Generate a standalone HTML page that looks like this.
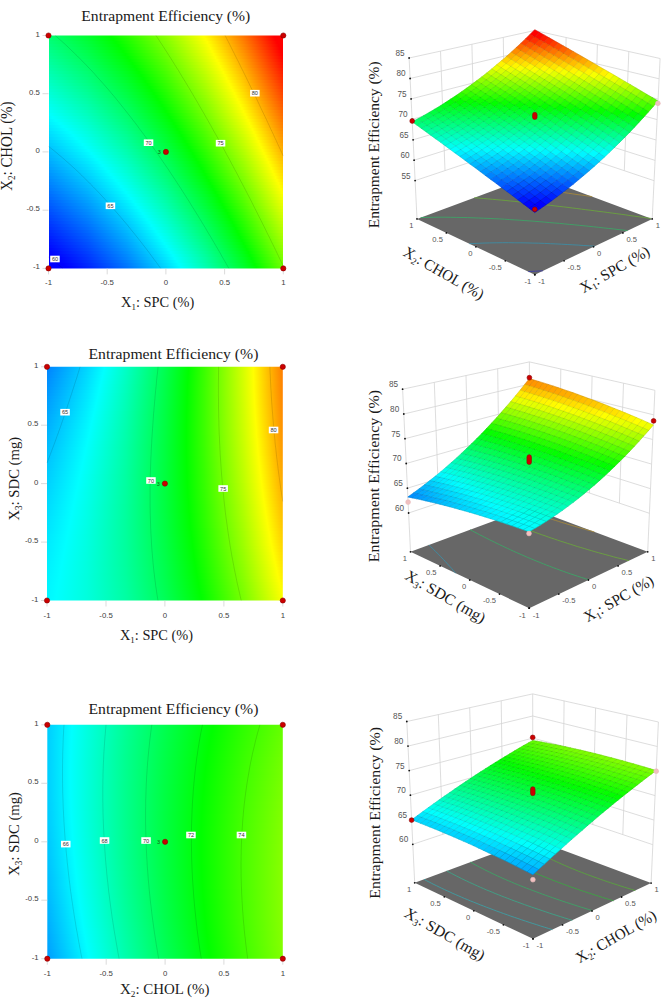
<!DOCTYPE html><html><head><meta charset="utf-8"><style>html,body{margin:0;padding:0;background:#fff;width:671px;height:1003px;overflow:hidden}svg{display:block}</style></head><body><svg width="671" height="1003" viewBox="0 0 671 1003"><defs><clipPath id="c0"><rect x="48.5" y="35.5" width="234.8" height="232.9"/></clipPath><linearGradient id="g1"><stop offset=".000" stop-color="#00ff72"/><stop offset=".167" stop-color="#00ff30"/><stop offset=".267" stop-color="#00ff00"/><stop offset=".333" stop-color="#24ff00"/><stop offset=".500" stop-color="#8aff00"/><stop offset=".662" stop-color="#ffff00"/><stop offset=".667" stop-color="#fffc00"/><stop offset=".833" stop-color="#ff7500"/><stop offset=".962" stop-color="#ff0000"/><stop offset="1" stop-color="#ff0000"/></linearGradient><linearGradient id="g2"><stop offset=".000" stop-color="#00ff77"/><stop offset=".167" stop-color="#00ff35"/><stop offset=".277" stop-color="#00ff00"/><stop offset=".333" stop-color="#1eff00"/><stop offset=".500" stop-color="#85ff00"/><stop offset=".667" stop-color="#fdff00"/><stop offset=".670" stop-color="#ffff00"/><stop offset=".833" stop-color="#ff7a00"/><stop offset=".967" stop-color="#ff0000"/><stop offset="1" stop-color="#ff0000"/></linearGradient><linearGradient id="g3"><stop offset=".000" stop-color="#00ff7c"/><stop offset=".167" stop-color="#00ff3b"/><stop offset=".288" stop-color="#00ff00"/><stop offset=".333" stop-color="#19ff00"/><stop offset=".500" stop-color="#7fff00"/><stop offset=".667" stop-color="#f8ff00"/><stop offset=".677" stop-color="#ffff00"/><stop offset=".833" stop-color="#ff7f00"/><stop offset=".973" stop-color="#ff0000"/><stop offset="1" stop-color="#ff0000"/></linearGradient><linearGradient id="g4"><stop offset=".000" stop-color="#00ff82"/><stop offset=".167" stop-color="#00ff40"/><stop offset=".298" stop-color="#00ff00"/><stop offset=".333" stop-color="#13ff00"/><stop offset=".500" stop-color="#7aff00"/><stop offset=".667" stop-color="#f2ff00"/><stop offset=".684" stop-color="#ffff00"/><stop offset=".833" stop-color="#ff8500"/><stop offset=".979" stop-color="#ff0000"/><stop offset="1" stop-color="#ff0000"/></linearGradient><linearGradient id="g5"><stop offset=".000" stop-color="#00ff87"/><stop offset=".167" stop-color="#00ff45"/><stop offset=".308" stop-color="#00ff00"/><stop offset=".333" stop-color="#0eff00"/><stop offset=".500" stop-color="#74ff00"/><stop offset=".667" stop-color="#edff00"/><stop offset=".690" stop-color="#ffff00"/><stop offset=".833" stop-color="#ff8a00"/><stop offset=".984" stop-color="#ff0000"/><stop offset="1" stop-color="#ff0000"/></linearGradient><linearGradient id="g6"><stop offset=".000" stop-color="#00ff8d"/><stop offset=".167" stop-color="#00ff4b"/><stop offset=".318" stop-color="#00ff00"/><stop offset=".333" stop-color="#08ff00"/><stop offset=".500" stop-color="#6fff00"/><stop offset=".667" stop-color="#e7ff00"/><stop offset=".697" stop-color="#ffff00"/><stop offset=".833" stop-color="#ff8f00"/><stop offset=".990" stop-color="#ff0000"/><stop offset="1" stop-color="#ff0000"/></linearGradient><linearGradient id="g7"><stop offset=".000" stop-color="#00ff92"/><stop offset=".167" stop-color="#00ff50"/><stop offset=".328" stop-color="#00ff00"/><stop offset=".333" stop-color="#03ff00"/><stop offset=".500" stop-color="#69ff00"/><stop offset=".667" stop-color="#e2ff00"/><stop offset=".704" stop-color="#ffff00"/><stop offset=".833" stop-color="#ff9500"/><stop offset=".995" stop-color="#ff0000"/><stop offset="1" stop-color="#ff0000"/></linearGradient><linearGradient id="g8"><stop offset=".000" stop-color="#00ff97"/><stop offset=".167" stop-color="#00ff55"/><stop offset=".333" stop-color="#00ff03"/><stop offset=".338" stop-color="#00ff00"/><stop offset=".500" stop-color="#64ff00"/><stop offset=".667" stop-color="#dcff00"/><stop offset=".711" stop-color="#ffff00"/><stop offset=".833" stop-color="#ff9a00"/><stop offset="1" stop-color="#ff0100"/></linearGradient><linearGradient id="g9"><stop offset=".000" stop-color="#00ff9d"/><stop offset=".167" stop-color="#00ff5b"/><stop offset=".333" stop-color="#00ff08"/><stop offset=".347" stop-color="#00ff00"/><stop offset=".500" stop-color="#5eff00"/><stop offset=".667" stop-color="#d7ff00"/><stop offset=".718" stop-color="#ffff00"/><stop offset=".833" stop-color="#ffa000"/><stop offset="1" stop-color="#ff0600"/></linearGradient><linearGradient id="g10"><stop offset=".000" stop-color="#00ffa2"/><stop offset=".167" stop-color="#00ff60"/><stop offset=".333" stop-color="#00ff0d"/><stop offset=".357" stop-color="#00ff00"/><stop offset=".500" stop-color="#59ff00"/><stop offset=".667" stop-color="#d1ff00"/><stop offset=".725" stop-color="#ffff00"/><stop offset=".833" stop-color="#ffa500"/><stop offset="1" stop-color="#ff0c00"/></linearGradient><linearGradient id="g11"><stop offset=".000" stop-color="#00ffa8"/><stop offset=".167" stop-color="#00ff66"/><stop offset=".333" stop-color="#00ff13"/><stop offset=".367" stop-color="#00ff00"/><stop offset=".500" stop-color="#53ff00"/><stop offset=".667" stop-color="#ccff00"/><stop offset=".732" stop-color="#ffff00"/><stop offset=".833" stop-color="#ffaa00"/><stop offset="1" stop-color="#ff1100"/></linearGradient><linearGradient id="g12"><stop offset=".000" stop-color="#00ffad"/><stop offset=".167" stop-color="#00ff6b"/><stop offset=".333" stop-color="#00ff18"/><stop offset=".376" stop-color="#00ff00"/><stop offset=".500" stop-color="#4eff00"/><stop offset=".667" stop-color="#c6ff00"/><stop offset=".738" stop-color="#ffff00"/><stop offset=".833" stop-color="#ffb000"/><stop offset="1" stop-color="#ff1700"/></linearGradient><linearGradient id="g13"><stop offset=".000" stop-color="#00ffb2"/><stop offset=".167" stop-color="#00ff71"/><stop offset=".333" stop-color="#00ff1e"/><stop offset=".385" stop-color="#00ff00"/><stop offset=".500" stop-color="#48ff00"/><stop offset=".667" stop-color="#c1ff00"/><stop offset=".745" stop-color="#ffff00"/><stop offset=".833" stop-color="#ffb500"/><stop offset="1" stop-color="#ff1c00"/></linearGradient><linearGradient id="g14"><stop offset=".000" stop-color="#00ffb8"/><stop offset=".167" stop-color="#00ff76"/><stop offset=".333" stop-color="#00ff23"/><stop offset=".395" stop-color="#00ff00"/><stop offset=".500" stop-color="#43ff00"/><stop offset=".667" stop-color="#bbff00"/><stop offset=".752" stop-color="#ffff00"/><stop offset=".833" stop-color="#ffbb00"/><stop offset="1" stop-color="#ff2200"/></linearGradient><linearGradient id="g15"><stop offset=".000" stop-color="#00ffbd"/><stop offset=".167" stop-color="#00ff7b"/><stop offset=".333" stop-color="#00ff29"/><stop offset=".404" stop-color="#00ff00"/><stop offset=".500" stop-color="#3dff00"/><stop offset=".667" stop-color="#b6ff00"/><stop offset=".758" stop-color="#ffff00"/><stop offset=".833" stop-color="#ffc000"/><stop offset="1" stop-color="#ff2700"/></linearGradient><linearGradient id="g16"><stop offset=".000" stop-color="#00ffc3"/><stop offset=".167" stop-color="#00ff81"/><stop offset=".333" stop-color="#00ff2e"/><stop offset=".413" stop-color="#00ff00"/><stop offset=".500" stop-color="#38ff00"/><stop offset=".667" stop-color="#b0ff00"/><stop offset=".765" stop-color="#ffff00"/><stop offset=".833" stop-color="#ffc600"/><stop offset="1" stop-color="#ff2c00"/></linearGradient><linearGradient id="g17"><stop offset=".000" stop-color="#00ffc8"/><stop offset=".167" stop-color="#00ff86"/><stop offset=".333" stop-color="#00ff34"/><stop offset=".422" stop-color="#00ff00"/><stop offset=".500" stop-color="#32ff00"/><stop offset=".667" stop-color="#aaff00"/><stop offset=".772" stop-color="#ffff00"/><stop offset=".833" stop-color="#ffcb00"/><stop offset="1" stop-color="#ff3200"/></linearGradient><linearGradient id="g18"><stop offset=".000" stop-color="#00ffce"/><stop offset=".167" stop-color="#00ff8c"/><stop offset=".333" stop-color="#00ff39"/><stop offset=".431" stop-color="#00ff00"/><stop offset=".500" stop-color="#2dff00"/><stop offset=".667" stop-color="#a5ff00"/><stop offset=".778" stop-color="#ffff00"/><stop offset=".833" stop-color="#ffd100"/><stop offset="1" stop-color="#ff3700"/></linearGradient><linearGradient id="g19"><stop offset=".000" stop-color="#00ffd3"/><stop offset=".167" stop-color="#00ff91"/><stop offset=".333" stop-color="#00ff3e"/><stop offset=".440" stop-color="#00ff00"/><stop offset=".500" stop-color="#27ff00"/><stop offset=".667" stop-color="#9fff00"/><stop offset=".785" stop-color="#ffff00"/><stop offset=".833" stop-color="#ffd600"/><stop offset="1" stop-color="#ff3d00"/></linearGradient><linearGradient id="g20"><stop offset=".000" stop-color="#00ffd9"/><stop offset=".167" stop-color="#00ff97"/><stop offset=".333" stop-color="#00ff44"/><stop offset=".449" stop-color="#00ff00"/><stop offset=".500" stop-color="#21ff00"/><stop offset=".667" stop-color="#9aff00"/><stop offset=".792" stop-color="#ffff00"/><stop offset=".833" stop-color="#ffdc00"/><stop offset="1" stop-color="#ff4200"/></linearGradient><linearGradient id="g21"><stop offset=".000" stop-color="#00ffde"/><stop offset=".167" stop-color="#00ff9c"/><stop offset=".333" stop-color="#00ff49"/><stop offset=".458" stop-color="#00ff00"/><stop offset=".500" stop-color="#1cff00"/><stop offset=".667" stop-color="#94ff00"/><stop offset=".798" stop-color="#ffff00"/><stop offset=".833" stop-color="#ffe100"/><stop offset="1" stop-color="#ff4800"/></linearGradient><linearGradient id="g22"><stop offset=".000" stop-color="#00ffe4"/><stop offset=".167" stop-color="#00ffa2"/><stop offset=".333" stop-color="#00ff4f"/><stop offset=".466" stop-color="#00ff00"/><stop offset=".500" stop-color="#16ff00"/><stop offset=".667" stop-color="#8eff00"/><stop offset=".805" stop-color="#ffff00"/><stop offset=".833" stop-color="#ffe700"/><stop offset="1" stop-color="#ff4d00"/></linearGradient><linearGradient id="g23"><stop offset=".000" stop-color="#00ffe9"/><stop offset=".167" stop-color="#00ffa7"/><stop offset=".333" stop-color="#00ff54"/><stop offset=".475" stop-color="#00ff00"/><stop offset=".500" stop-color="#11ff00"/><stop offset=".667" stop-color="#89ff00"/><stop offset=".811" stop-color="#ffff00"/><stop offset=".833" stop-color="#ffec00"/><stop offset="1" stop-color="#ff5300"/></linearGradient><linearGradient id="g24"><stop offset=".000" stop-color="#00ffef"/><stop offset=".167" stop-color="#00ffad"/><stop offset=".333" stop-color="#00ff5a"/><stop offset=".483" stop-color="#00ff00"/><stop offset=".500" stop-color="#0bff00"/><stop offset=".667" stop-color="#83ff00"/><stop offset=".818" stop-color="#ffff00"/><stop offset=".833" stop-color="#fff200"/><stop offset="1" stop-color="#ff5800"/></linearGradient><linearGradient id="g25"><stop offset=".000" stop-color="#00fff4"/><stop offset=".167" stop-color="#00ffb2"/><stop offset=".333" stop-color="#00ff60"/><stop offset=".492" stop-color="#00ff00"/><stop offset=".500" stop-color="#05ff00"/><stop offset=".667" stop-color="#7eff00"/><stop offset=".824" stop-color="#ffff00"/><stop offset=".833" stop-color="#fff700"/><stop offset="1" stop-color="#ff5e00"/></linearGradient><linearGradient id="g26"><stop offset=".000" stop-color="#00fffa"/><stop offset=".167" stop-color="#00ffb8"/><stop offset=".333" stop-color="#00ff65"/><stop offset=".500" stop-color="#00ff00"/><stop offset=".667" stop-color="#78ff00"/><stop offset=".830" stop-color="#ffff00"/><stop offset=".833" stop-color="#fffd00"/><stop offset="1" stop-color="#ff6400"/></linearGradient><linearGradient id="g27"><stop offset=".000" stop-color="#00ffff"/><stop offset=".001" stop-color="#00ffff"/><stop offset=".167" stop-color="#00ffbd"/><stop offset=".333" stop-color="#00ff6b"/><stop offset=".500" stop-color="#00ff06"/><stop offset=".509" stop-color="#00ff00"/><stop offset=".667" stop-color="#72ff00"/><stop offset=".833" stop-color="#fcff00"/><stop offset=".837" stop-color="#ffff00"/><stop offset="1" stop-color="#ff6900"/></linearGradient><linearGradient id="g28"><stop offset=".000" stop-color="#00f9ff"/><stop offset=".017" stop-color="#00ffff"/><stop offset=".167" stop-color="#00ffc3"/><stop offset=".333" stop-color="#00ff70"/><stop offset=".500" stop-color="#00ff0b"/><stop offset=".517" stop-color="#00ff00"/><stop offset=".667" stop-color="#6dff00"/><stop offset=".833" stop-color="#f6ff00"/><stop offset=".843" stop-color="#ffff00"/><stop offset="1" stop-color="#ff6f00"/></linearGradient><linearGradient id="g29"><stop offset=".000" stop-color="#00f4ff"/><stop offset=".032" stop-color="#00ffff"/><stop offset=".167" stop-color="#00ffc8"/><stop offset=".333" stop-color="#00ff76"/><stop offset=".500" stop-color="#00ff11"/><stop offset=".526" stop-color="#00ff00"/><stop offset=".667" stop-color="#67ff00"/><stop offset=".833" stop-color="#f0ff00"/><stop offset=".850" stop-color="#ffff00"/><stop offset="1" stop-color="#ff7400"/></linearGradient><linearGradient id="g30"><stop offset=".000" stop-color="#00efff"/><stop offset=".047" stop-color="#00ffff"/><stop offset=".167" stop-color="#00ffce"/><stop offset=".333" stop-color="#00ff7b"/><stop offset=".500" stop-color="#00ff17"/><stop offset=".534" stop-color="#00ff00"/><stop offset=".667" stop-color="#61ff00"/><stop offset=".833" stop-color="#ebff00"/><stop offset=".856" stop-color="#ffff00"/><stop offset="1" stop-color="#ff7a00"/></linearGradient><linearGradient id="g31"><stop offset=".000" stop-color="#00e9ff"/><stop offset=".062" stop-color="#00ffff"/><stop offset=".167" stop-color="#00ffd4"/><stop offset=".333" stop-color="#00ff81"/><stop offset=".500" stop-color="#00ff1c"/><stop offset=".542" stop-color="#00ff00"/><stop offset=".667" stop-color="#5cff00"/><stop offset=".833" stop-color="#e5ff00"/><stop offset=".862" stop-color="#ffff00"/><stop offset="1" stop-color="#ff7f00"/></linearGradient><linearGradient id="g32"><stop offset=".000" stop-color="#00e4ff"/><stop offset=".077" stop-color="#00ffff"/><stop offset=".167" stop-color="#00ffd9"/><stop offset=".333" stop-color="#00ff86"/><stop offset=".500" stop-color="#00ff22"/><stop offset=".550" stop-color="#00ff00"/><stop offset=".667" stop-color="#56ff00"/><stop offset=".833" stop-color="#dfff00"/><stop offset=".869" stop-color="#ffff00"/><stop offset="1" stop-color="#ff8500"/></linearGradient><linearGradient id="g33"><stop offset=".000" stop-color="#00deff"/><stop offset=".091" stop-color="#00ffff"/><stop offset=".167" stop-color="#00ffdf"/><stop offset=".333" stop-color="#00ff8c"/><stop offset=".500" stop-color="#00ff27"/><stop offset=".558" stop-color="#00ff00"/><stop offset=".667" stop-color="#50ff00"/><stop offset=".833" stop-color="#daff00"/><stop offset=".875" stop-color="#ffff00"/><stop offset="1" stop-color="#ff8b00"/></linearGradient><linearGradient id="g34"><stop offset=".000" stop-color="#00d9ff"/><stop offset=".105" stop-color="#00ffff"/><stop offset=".167" stop-color="#00ffe4"/><stop offset=".333" stop-color="#00ff92"/><stop offset=".500" stop-color="#00ff2d"/><stop offset=".566" stop-color="#00ff00"/><stop offset=".667" stop-color="#4bff00"/><stop offset=".833" stop-color="#d4ff00"/><stop offset=".881" stop-color="#ffff00"/><stop offset="1" stop-color="#ff9000"/></linearGradient><linearGradient id="g35"><stop offset=".000" stop-color="#00d4ff"/><stop offset=".118" stop-color="#00ffff"/><stop offset=".167" stop-color="#00ffea"/><stop offset=".333" stop-color="#00ff97"/><stop offset=".500" stop-color="#00ff32"/><stop offset=".574" stop-color="#00ff00"/><stop offset=".667" stop-color="#45ff00"/><stop offset=".833" stop-color="#ceff00"/><stop offset=".887" stop-color="#ffff00"/><stop offset="1" stop-color="#ff9600"/></linearGradient><linearGradient id="g36"><stop offset=".000" stop-color="#00ceff"/><stop offset=".132" stop-color="#00ffff"/><stop offset=".167" stop-color="#00fff0"/><stop offset=".333" stop-color="#00ff9d"/><stop offset=".500" stop-color="#00ff38"/><stop offset=".582" stop-color="#00ff00"/><stop offset=".667" stop-color="#3fff00"/><stop offset=".833" stop-color="#c8ff00"/><stop offset=".894" stop-color="#ffff00"/><stop offset="1" stop-color="#ff9b00"/></linearGradient><linearGradient id="g37"><stop offset=".000" stop-color="#00c9ff"/><stop offset=".145" stop-color="#00ffff"/><stop offset=".167" stop-color="#00fff5"/><stop offset=".333" stop-color="#00ffa2"/><stop offset=".500" stop-color="#00ff3e"/><stop offset=".590" stop-color="#00ff00"/><stop offset=".667" stop-color="#3aff00"/><stop offset=".833" stop-color="#c3ff00"/><stop offset=".900" stop-color="#ffff00"/><stop offset="1" stop-color="#ffa100"/></linearGradient><linearGradient id="g38"><stop offset=".000" stop-color="#00c3ff"/><stop offset=".158" stop-color="#00ffff"/><stop offset=".167" stop-color="#00fffb"/><stop offset=".333" stop-color="#00ffa8"/><stop offset=".500" stop-color="#00ff43"/><stop offset=".598" stop-color="#00ff00"/><stop offset=".667" stop-color="#34ff00"/><stop offset=".833" stop-color="#bdff00"/><stop offset=".906" stop-color="#ffff00"/><stop offset="1" stop-color="#ffa700"/></linearGradient><linearGradient id="g39"><stop offset=".000" stop-color="#00beff"/><stop offset=".167" stop-color="#00feff"/><stop offset=".170" stop-color="#00ffff"/><stop offset=".333" stop-color="#00ffae"/><stop offset=".500" stop-color="#00ff49"/><stop offset=".606" stop-color="#00ff00"/><stop offset=".667" stop-color="#2eff00"/><stop offset=".833" stop-color="#b7ff00"/><stop offset=".912" stop-color="#ffff00"/><stop offset="1" stop-color="#ffac00"/></linearGradient><linearGradient id="g40"><stop offset=".000" stop-color="#00b8ff"/><stop offset=".167" stop-color="#00f8ff"/><stop offset=".183" stop-color="#00ffff"/><stop offset=".333" stop-color="#00ffb3"/><stop offset=".500" stop-color="#00ff4f"/><stop offset=".614" stop-color="#00ff00"/><stop offset=".667" stop-color="#28ff00"/><stop offset=".833" stop-color="#b2ff00"/><stop offset=".918" stop-color="#ffff00"/><stop offset="1" stop-color="#ffb200"/></linearGradient><linearGradient id="g41"><stop offset=".000" stop-color="#00b3ff"/><stop offset=".167" stop-color="#00f3ff"/><stop offset=".195" stop-color="#00ffff"/><stop offset=".333" stop-color="#00ffb9"/><stop offset=".500" stop-color="#00ff54"/><stop offset=".621" stop-color="#00ff00"/><stop offset=".667" stop-color="#23ff00"/><stop offset=".833" stop-color="#acff00"/><stop offset=".925" stop-color="#ffff00"/><stop offset="1" stop-color="#ffb800"/></linearGradient><linearGradient id="g42"><stop offset=".000" stop-color="#00aeff"/><stop offset=".167" stop-color="#00edff"/><stop offset=".207" stop-color="#00ffff"/><stop offset=".333" stop-color="#00ffbf"/><stop offset=".500" stop-color="#00ff5a"/><stop offset=".629" stop-color="#00ff00"/><stop offset=".667" stop-color="#1dff00"/><stop offset=".833" stop-color="#a6ff00"/><stop offset=".931" stop-color="#ffff00"/><stop offset="1" stop-color="#ffbd00"/></linearGradient><linearGradient id="g43"><stop offset=".000" stop-color="#00a8ff"/><stop offset=".167" stop-color="#00e8ff"/><stop offset=".219" stop-color="#00ffff"/><stop offset=".333" stop-color="#00ffc4"/><stop offset=".500" stop-color="#00ff60"/><stop offset=".637" stop-color="#00ff00"/><stop offset=".667" stop-color="#17ff00"/><stop offset=".833" stop-color="#a0ff00"/><stop offset=".937" stop-color="#ffff00"/><stop offset="1" stop-color="#ffc300"/></linearGradient><linearGradient id="g44"><stop offset=".000" stop-color="#00a3ff"/><stop offset=".167" stop-color="#00e2ff"/><stop offset=".231" stop-color="#00ffff"/><stop offset=".333" stop-color="#00ffca"/><stop offset=".500" stop-color="#00ff65"/><stop offset=".644" stop-color="#00ff00"/><stop offset=".667" stop-color="#11ff00"/><stop offset=".833" stop-color="#9bff00"/><stop offset=".943" stop-color="#ffff00"/><stop offset="1" stop-color="#ffc900"/></linearGradient><linearGradient id="g45"><stop offset=".000" stop-color="#009dff"/><stop offset=".167" stop-color="#00ddff"/><stop offset=".242" stop-color="#00ffff"/><stop offset=".333" stop-color="#00ffd0"/><stop offset=".500" stop-color="#00ff6b"/><stop offset=".652" stop-color="#00ff00"/><stop offset=".667" stop-color="#0cff00"/><stop offset=".833" stop-color="#95ff00"/><stop offset=".949" stop-color="#ffff00"/><stop offset="1" stop-color="#ffce00"/></linearGradient><linearGradient id="g46"><stop offset=".000" stop-color="#0098ff"/><stop offset=".167" stop-color="#00d7ff"/><stop offset=".254" stop-color="#00ffff"/><stop offset=".333" stop-color="#00ffd5"/><stop offset=".500" stop-color="#00ff71"/><stop offset=".660" stop-color="#00ff00"/><stop offset=".667" stop-color="#06ff00"/><stop offset=".833" stop-color="#8fff00"/><stop offset=".955" stop-color="#ffff00"/><stop offset="1" stop-color="#ffd400"/></linearGradient><linearGradient id="g47"><stop offset=".000" stop-color="#0092ff"/><stop offset=".167" stop-color="#00d2ff"/><stop offset=".265" stop-color="#00ffff"/><stop offset=".333" stop-color="#00ffdb"/><stop offset=".500" stop-color="#00ff76"/><stop offset=".667" stop-color="#00ff00"/><stop offset=".833" stop-color="#89ff00"/><stop offset=".961" stop-color="#ffff00"/><stop offset="1" stop-color="#ffda00"/></linearGradient><linearGradient id="g48"><stop offset=".000" stop-color="#008dff"/><stop offset=".167" stop-color="#00ccff"/><stop offset=".276" stop-color="#00ffff"/><stop offset=".333" stop-color="#00ffe1"/><stop offset=".500" stop-color="#00ff7c"/><stop offset=".667" stop-color="#00ff06"/><stop offset=".674" stop-color="#00ff00"/><stop offset=".833" stop-color="#83ff00"/><stop offset=".967" stop-color="#ffff00"/><stop offset="1" stop-color="#ffdf00"/></linearGradient><linearGradient id="g49"><stop offset=".000" stop-color="#0087ff"/><stop offset=".167" stop-color="#00c7ff"/><stop offset=".287" stop-color="#00ffff"/><stop offset=".333" stop-color="#00ffe6"/><stop offset=".500" stop-color="#00ff82"/><stop offset=".667" stop-color="#00ff0b"/><stop offset=".682" stop-color="#00ff00"/><stop offset=".833" stop-color="#7eff00"/><stop offset=".973" stop-color="#ffff00"/><stop offset="1" stop-color="#ffe500"/></linearGradient><linearGradient id="g50"><stop offset=".000" stop-color="#0082ff"/><stop offset=".167" stop-color="#00c1ff"/><stop offset=".298" stop-color="#00ffff"/><stop offset=".333" stop-color="#00ffec"/><stop offset=".500" stop-color="#00ff87"/><stop offset=".667" stop-color="#00ff11"/><stop offset=".689" stop-color="#00ff00"/><stop offset=".833" stop-color="#78ff00"/><stop offset=".979" stop-color="#ffff00"/><stop offset="1" stop-color="#ffeb00"/></linearGradient><linearGradient id="g51"><stop offset=".000" stop-color="#007cff"/><stop offset=".167" stop-color="#00bcff"/><stop offset=".309" stop-color="#00ffff"/><stop offset=".333" stop-color="#00fff2"/><stop offset=".500" stop-color="#00ff8d"/><stop offset=".667" stop-color="#00ff17"/><stop offset=".697" stop-color="#00ff00"/><stop offset=".833" stop-color="#72ff00"/><stop offset=".985" stop-color="#ffff00"/><stop offset="1" stop-color="#fff100"/></linearGradient><linearGradient id="g52"><stop offset=".000" stop-color="#0077ff"/><stop offset=".167" stop-color="#00b6ff"/><stop offset=".319" stop-color="#00ffff"/><stop offset=".333" stop-color="#00fff8"/><stop offset=".500" stop-color="#00ff93"/><stop offset=".667" stop-color="#00ff1d"/><stop offset=".704" stop-color="#00ff00"/><stop offset=".833" stop-color="#6cff00"/><stop offset=".991" stop-color="#ffff00"/><stop offset="1" stop-color="#fff600"/></linearGradient><linearGradient id="g53"><stop offset=".000" stop-color="#0071ff"/><stop offset=".167" stop-color="#00b1ff"/><stop offset=".330" stop-color="#00ffff"/><stop offset=".333" stop-color="#00fffd"/><stop offset=".500" stop-color="#00ff99"/><stop offset=".667" stop-color="#00ff22"/><stop offset=".711" stop-color="#00ff00"/><stop offset=".833" stop-color="#66ff00"/><stop offset=".997" stop-color="#ffff00"/><stop offset="1" stop-color="#fffc00"/></linearGradient><linearGradient id="g54"><stop offset=".000" stop-color="#006bff"/><stop offset=".167" stop-color="#00abff"/><stop offset=".333" stop-color="#00fbff"/><stop offset=".340" stop-color="#00ffff"/><stop offset=".500" stop-color="#00ff9e"/><stop offset=".667" stop-color="#00ff28"/><stop offset=".719" stop-color="#00ff00"/><stop offset=".833" stop-color="#60ff00"/><stop offset="1" stop-color="#fcff00"/></linearGradient><linearGradient id="g55"><stop offset=".000" stop-color="#0066ff"/><stop offset=".167" stop-color="#00a5ff"/><stop offset=".333" stop-color="#00f6ff"/><stop offset=".351" stop-color="#00ffff"/><stop offset=".500" stop-color="#00ffa4"/><stop offset=".667" stop-color="#00ff2e"/><stop offset=".726" stop-color="#00ff00"/><stop offset=".833" stop-color="#5bff00"/><stop offset="1" stop-color="#f6ff00"/></linearGradient><linearGradient id="g56"><stop offset=".000" stop-color="#0060ff"/><stop offset=".167" stop-color="#00a0ff"/><stop offset=".333" stop-color="#00f0ff"/><stop offset=".361" stop-color="#00ffff"/><stop offset=".500" stop-color="#00ffaa"/><stop offset=".667" stop-color="#00ff34"/><stop offset=".733" stop-color="#00ff00"/><stop offset=".833" stop-color="#55ff00"/><stop offset="1" stop-color="#f0ff00"/></linearGradient><linearGradient id="g57"><stop offset=".000" stop-color="#005bff"/><stop offset=".167" stop-color="#009aff"/><stop offset=".333" stop-color="#00eaff"/><stop offset=".371" stop-color="#00ffff"/><stop offset=".500" stop-color="#00ffb0"/><stop offset=".667" stop-color="#00ff39"/><stop offset=".740" stop-color="#00ff00"/><stop offset=".833" stop-color="#4fff00"/><stop offset="1" stop-color="#ebff00"/></linearGradient><linearGradient id="g58"><stop offset=".000" stop-color="#0055ff"/><stop offset=".167" stop-color="#0095ff"/><stop offset=".333" stop-color="#00e5ff"/><stop offset=".381" stop-color="#00ffff"/><stop offset=".500" stop-color="#00ffb5"/><stop offset=".667" stop-color="#00ff3f"/><stop offset=".747" stop-color="#00ff00"/><stop offset=".833" stop-color="#49ff00"/><stop offset="1" stop-color="#e5ff00"/></linearGradient><linearGradient id="g59"><stop offset=".000" stop-color="#0050ff"/><stop offset=".167" stop-color="#008fff"/><stop offset=".333" stop-color="#00dfff"/><stop offset=".391" stop-color="#00ffff"/><stop offset=".500" stop-color="#00ffbb"/><stop offset=".667" stop-color="#00ff45"/><stop offset=".755" stop-color="#00ff00"/><stop offset=".833" stop-color="#43ff00"/><stop offset="1" stop-color="#dfff00"/></linearGradient><linearGradient id="g60"><stop offset=".000" stop-color="#004aff"/><stop offset=".167" stop-color="#008aff"/><stop offset=".333" stop-color="#00daff"/><stop offset=".401" stop-color="#00ffff"/><stop offset=".500" stop-color="#00ffc1"/><stop offset=".667" stop-color="#00ff4b"/><stop offset=".762" stop-color="#00ff00"/><stop offset=".833" stop-color="#3dff00"/><stop offset="1" stop-color="#d9ff00"/></linearGradient><linearGradient id="g61"><stop offset=".000" stop-color="#0044ff"/><stop offset=".167" stop-color="#0084ff"/><stop offset=".333" stop-color="#00d4ff"/><stop offset=".410" stop-color="#00ffff"/><stop offset=".500" stop-color="#00ffc7"/><stop offset=".667" stop-color="#00ff51"/><stop offset=".769" stop-color="#00ff00"/><stop offset=".833" stop-color="#37ff00"/><stop offset="1" stop-color="#d3ff00"/></linearGradient><linearGradient id="g62"><stop offset=".000" stop-color="#003fff"/><stop offset=".167" stop-color="#007eff"/><stop offset=".333" stop-color="#00ceff"/><stop offset=".420" stop-color="#00ffff"/><stop offset=".500" stop-color="#00ffcd"/><stop offset=".667" stop-color="#00ff56"/><stop offset=".776" stop-color="#00ff00"/><stop offset=".833" stop-color="#31ff00"/><stop offset="1" stop-color="#cdff00"/></linearGradient><linearGradient id="g63"><stop offset=".000" stop-color="#0039ff"/><stop offset=".167" stop-color="#0079ff"/><stop offset=".333" stop-color="#00c9ff"/><stop offset=".429" stop-color="#00ffff"/><stop offset=".500" stop-color="#00ffd2"/><stop offset=".667" stop-color="#00ff5c"/><stop offset=".783" stop-color="#00ff00"/><stop offset=".833" stop-color="#2bff00"/><stop offset="1" stop-color="#c7ff00"/></linearGradient><linearGradient id="g64"><stop offset=".000" stop-color="#0033ff"/><stop offset=".167" stop-color="#0073ff"/><stop offset=".333" stop-color="#00c3ff"/><stop offset=".439" stop-color="#00ffff"/><stop offset=".500" stop-color="#00ffd8"/><stop offset=".667" stop-color="#00ff62"/><stop offset=".790" stop-color="#00ff00"/><stop offset=".833" stop-color="#26ff00"/><stop offset="1" stop-color="#c1ff00"/></linearGradient><linearGradient id="g65"><stop offset=".000" stop-color="#002eff"/><stop offset=".167" stop-color="#006dff"/><stop offset=".333" stop-color="#00beff"/><stop offset=".448" stop-color="#00ffff"/><stop offset=".500" stop-color="#00ffde"/><stop offset=".667" stop-color="#00ff68"/><stop offset=".797" stop-color="#00ff00"/><stop offset=".833" stop-color="#20ff00"/><stop offset="1" stop-color="#bbff00"/></linearGradient><linearGradient id="g66"><stop offset=".000" stop-color="#0028ff"/><stop offset=".167" stop-color="#0068ff"/><stop offset=".333" stop-color="#00b8ff"/><stop offset=".458" stop-color="#00ffff"/><stop offset=".500" stop-color="#00ffe4"/><stop offset=".667" stop-color="#00ff6e"/><stop offset=".804" stop-color="#00ff00"/><stop offset=".833" stop-color="#1aff00"/><stop offset="1" stop-color="#b5ff00"/></linearGradient><linearGradient id="g67"><stop offset=".000" stop-color="#0023ff"/><stop offset=".167" stop-color="#0062ff"/><stop offset=".333" stop-color="#00b2ff"/><stop offset=".467" stop-color="#00ffff"/><stop offset=".500" stop-color="#00ffea"/><stop offset=".667" stop-color="#00ff73"/><stop offset=".810" stop-color="#00ff00"/><stop offset=".833" stop-color="#14ff00"/><stop offset="1" stop-color="#afff00"/></linearGradient><linearGradient id="g68"><stop offset=".000" stop-color="#001dff"/><stop offset=".167" stop-color="#005dff"/><stop offset=".333" stop-color="#00adff"/><stop offset=".476" stop-color="#00ffff"/><stop offset=".500" stop-color="#00fff0"/><stop offset=".667" stop-color="#00ff79"/><stop offset=".817" stop-color="#00ff00"/><stop offset=".833" stop-color="#0eff00"/><stop offset="1" stop-color="#a9ff00"/></linearGradient><linearGradient id="g69"><stop offset=".000" stop-color="#0017ff"/><stop offset=".167" stop-color="#0057ff"/><stop offset=".333" stop-color="#00a7ff"/><stop offset=".485" stop-color="#00ffff"/><stop offset=".500" stop-color="#00fff5"/><stop offset=".667" stop-color="#00ff7f"/><stop offset=".824" stop-color="#00ff00"/><stop offset=".833" stop-color="#08ff00"/><stop offset="1" stop-color="#a3ff00"/></linearGradient><linearGradient id="g70"><stop offset=".000" stop-color="#0012ff"/><stop offset=".167" stop-color="#0051ff"/><stop offset=".333" stop-color="#00a1ff"/><stop offset=".494" stop-color="#00ffff"/><stop offset=".500" stop-color="#00fffb"/><stop offset=".667" stop-color="#00ff85"/><stop offset=".831" stop-color="#00ff00"/><stop offset=".833" stop-color="#02ff00"/><stop offset="1" stop-color="#9eff00"/></linearGradient><linearGradient id="g71"><stop offset=".000" stop-color="#000cff"/><stop offset=".167" stop-color="#004cff"/><stop offset=".333" stop-color="#009cff"/><stop offset=".500" stop-color="#00fdff"/><stop offset=".503" stop-color="#00ffff"/><stop offset=".667" stop-color="#00ff8b"/><stop offset=".833" stop-color="#00ff04"/><stop offset=".838" stop-color="#00ff00"/><stop offset="1" stop-color="#98ff00"/></linearGradient><linearGradient id="g72"><stop offset=".000" stop-color="#0006ff"/><stop offset=".167" stop-color="#0046ff"/><stop offset=".333" stop-color="#0096ff"/><stop offset=".500" stop-color="#00f7ff"/><stop offset=".512" stop-color="#00ffff"/><stop offset=".667" stop-color="#00ff91"/><stop offset=".833" stop-color="#00ff0a"/><stop offset=".845" stop-color="#00ff00"/><stop offset="1" stop-color="#92ff00"/></linearGradient><linearGradient id="g73"><stop offset=".000" stop-color="#0001ff"/><stop offset=".167" stop-color="#0040ff"/><stop offset=".333" stop-color="#0090ff"/><stop offset=".500" stop-color="#00f2ff"/><stop offset=".521" stop-color="#00ffff"/><stop offset=".667" stop-color="#00ff97"/><stop offset=".833" stop-color="#00ff10"/><stop offset=".851" stop-color="#00ff00"/><stop offset="1" stop-color="#8cff00"/></linearGradient><linearGradient id="g74"><stop offset=".000" stop-color="#0000ff"/><stop offset=".015" stop-color="#0000ff"/><stop offset=".167" stop-color="#003aff"/><stop offset=".333" stop-color="#008aff"/><stop offset=".500" stop-color="#00ecff"/><stop offset=".530" stop-color="#00ffff"/><stop offset=".667" stop-color="#00ff9d"/><stop offset=".833" stop-color="#00ff16"/><stop offset=".858" stop-color="#00ff00"/><stop offset="1" stop-color="#86ff00"/></linearGradient><linearGradient id="g75"><stop offset=".000" stop-color="#0000ff"/><stop offset=".032" stop-color="#0000ff"/><stop offset=".167" stop-color="#0035ff"/><stop offset=".333" stop-color="#0085ff"/><stop offset=".500" stop-color="#00e6ff"/><stop offset=".538" stop-color="#00ffff"/><stop offset=".667" stop-color="#00ffa3"/><stop offset=".833" stop-color="#00ff1c"/><stop offset=".865" stop-color="#00ff00"/><stop offset="1" stop-color="#80ff00"/></linearGradient><linearGradient id="g76"><stop offset=".000" stop-color="#0000ff"/><stop offset=".048" stop-color="#0000ff"/><stop offset=".167" stop-color="#002fff"/><stop offset=".333" stop-color="#007fff"/><stop offset=".500" stop-color="#00e0ff"/><stop offset=".547" stop-color="#00ffff"/><stop offset=".667" stop-color="#00ffa8"/><stop offset=".833" stop-color="#00ff22"/><stop offset=".871" stop-color="#00ff00"/><stop offset="1" stop-color="#7aff00"/></linearGradient><linearGradient id="g77"><stop offset=".000" stop-color="#0000ff"/><stop offset=".064" stop-color="#0000ff"/><stop offset=".167" stop-color="#0029ff"/><stop offset=".333" stop-color="#0079ff"/><stop offset=".500" stop-color="#00dbff"/><stop offset=".556" stop-color="#00ffff"/><stop offset=".667" stop-color="#00ffae"/><stop offset=".833" stop-color="#00ff28"/><stop offset=".878" stop-color="#00ff00"/><stop offset="1" stop-color="#74ff00"/></linearGradient><linearGradient id="g78"><stop offset=".000" stop-color="#0000ff"/><stop offset=".079" stop-color="#0000ff"/><stop offset=".167" stop-color="#0024ff"/><stop offset=".333" stop-color="#0074ff"/><stop offset=".500" stop-color="#00d5ff"/><stop offset=".564" stop-color="#00ffff"/><stop offset=".667" stop-color="#00ffb4"/><stop offset=".833" stop-color="#00ff2d"/><stop offset=".885" stop-color="#00ff00"/><stop offset="1" stop-color="#6dff00"/></linearGradient><clipPath id="c79"><rect x="47" y="366.8" width="235.8" height="233.7"/></clipPath><linearGradient id="g80"><stop offset=".000" stop-color="#0083ff"/><stop offset=".167" stop-color="#00d4ff"/><stop offset=".244" stop-color="#00ffff"/><stop offset=".333" stop-color="#00ffc7"/><stop offset=".500" stop-color="#00ff50"/><stop offset=".600" stop-color="#00ff00"/><stop offset=".667" stop-color="#39ff00"/><stop offset=".833" stop-color="#d5ff00"/><stop offset=".875" stop-color="#ffff00"/><stop offset="1" stop-color="#ff7d00"/></linearGradient><linearGradient id="g81"><stop offset=".000" stop-color="#0085ff"/><stop offset=".167" stop-color="#00d6ff"/><stop offset=".241" stop-color="#00ffff"/><stop offset=".333" stop-color="#00ffc5"/><stop offset=".500" stop-color="#00ff4f"/><stop offset=".600" stop-color="#00ff00"/><stop offset=".667" stop-color="#3aff00"/><stop offset=".833" stop-color="#d5ff00"/><stop offset=".875" stop-color="#ffff00"/><stop offset="1" stop-color="#ff7d00"/></linearGradient><linearGradient id="g82"><stop offset=".000" stop-color="#0088ff"/><stop offset=".167" stop-color="#00d8ff"/><stop offset=".238" stop-color="#00ffff"/><stop offset=".333" stop-color="#00ffc4"/><stop offset=".500" stop-color="#00ff4e"/><stop offset=".599" stop-color="#00ff00"/><stop offset=".667" stop-color="#3aff00"/><stop offset=".833" stop-color="#d5ff00"/><stop offset=".875" stop-color="#ffff00"/><stop offset="1" stop-color="#ff7e00"/></linearGradient><linearGradient id="g83"><stop offset=".000" stop-color="#008aff"/><stop offset=".167" stop-color="#00daff"/><stop offset=".235" stop-color="#00ffff"/><stop offset=".333" stop-color="#00ffc2"/><stop offset=".500" stop-color="#00ff4d"/><stop offset=".598" stop-color="#00ff00"/><stop offset=".667" stop-color="#3bff00"/><stop offset=".833" stop-color="#d5ff00"/><stop offset=".876" stop-color="#ffff00"/><stop offset="1" stop-color="#ff7f00"/></linearGradient><linearGradient id="g84"><stop offset=".000" stop-color="#008dff"/><stop offset=".167" stop-color="#00dcff"/><stop offset=".232" stop-color="#00ffff"/><stop offset=".333" stop-color="#00ffc1"/><stop offset=".500" stop-color="#00ff4c"/><stop offset=".598" stop-color="#00ff00"/><stop offset=".667" stop-color="#3bff00"/><stop offset=".833" stop-color="#d4ff00"/><stop offset=".876" stop-color="#ffff00"/><stop offset="1" stop-color="#ff8000"/></linearGradient><linearGradient id="g85"><stop offset=".000" stop-color="#008fff"/><stop offset=".167" stop-color="#00ddff"/><stop offset=".229" stop-color="#00ffff"/><stop offset=".333" stop-color="#00ffc0"/><stop offset=".500" stop-color="#00ff4c"/><stop offset=".597" stop-color="#00ff00"/><stop offset=".667" stop-color="#3bff00"/><stop offset=".833" stop-color="#d4ff00"/><stop offset=".877" stop-color="#ffff00"/><stop offset="1" stop-color="#ff8100"/></linearGradient><linearGradient id="g86"><stop offset=".000" stop-color="#0091ff"/><stop offset=".167" stop-color="#00dfff"/><stop offset=".226" stop-color="#00ffff"/><stop offset=".333" stop-color="#00ffbe"/><stop offset=".500" stop-color="#00ff4b"/><stop offset=".596" stop-color="#00ff00"/><stop offset=".667" stop-color="#3bff00"/><stop offset=".833" stop-color="#d4ff00"/><stop offset=".877" stop-color="#ffff00"/><stop offset="1" stop-color="#ff8100"/></linearGradient><linearGradient id="g87"><stop offset=".000" stop-color="#0094ff"/><stop offset=".167" stop-color="#00e1ff"/><stop offset=".223" stop-color="#00ffff"/><stop offset=".333" stop-color="#00ffbd"/><stop offset=".500" stop-color="#00ff4a"/><stop offset=".596" stop-color="#00ff00"/><stop offset=".667" stop-color="#3cff00"/><stop offset=".833" stop-color="#d3ff00"/><stop offset=".877" stop-color="#ffff00"/><stop offset="1" stop-color="#ff8200"/></linearGradient><linearGradient id="g88"><stop offset=".000" stop-color="#0096ff"/><stop offset=".167" stop-color="#00e3ff"/><stop offset=".220" stop-color="#00ffff"/><stop offset=".333" stop-color="#00ffbc"/><stop offset=".500" stop-color="#00ff49"/><stop offset=".595" stop-color="#00ff00"/><stop offset=".667" stop-color="#3cff00"/><stop offset=".833" stop-color="#d3ff00"/><stop offset=".878" stop-color="#ffff00"/><stop offset="1" stop-color="#ff8300"/></linearGradient><linearGradient id="g89"><stop offset=".000" stop-color="#0098ff"/><stop offset=".167" stop-color="#00e5ff"/><stop offset=".217" stop-color="#00ffff"/><stop offset=".333" stop-color="#00ffba"/><stop offset=".500" stop-color="#00ff49"/><stop offset=".595" stop-color="#00ff00"/><stop offset=".667" stop-color="#3cff00"/><stop offset=".833" stop-color="#d3ff00"/><stop offset=".879" stop-color="#ffff00"/><stop offset="1" stop-color="#ff8400"/></linearGradient><linearGradient id="g90"><stop offset=".000" stop-color="#009bff"/><stop offset=".167" stop-color="#00e6ff"/><stop offset=".214" stop-color="#00ffff"/><stop offset=".333" stop-color="#00ffb9"/><stop offset=".500" stop-color="#00ff48"/><stop offset=".594" stop-color="#00ff00"/><stop offset=".667" stop-color="#3cff00"/><stop offset=".833" stop-color="#d2ff00"/><stop offset=".879" stop-color="#ffff00"/><stop offset="1" stop-color="#ff8500"/></linearGradient><linearGradient id="g91"><stop offset=".000" stop-color="#009dff"/><stop offset=".167" stop-color="#00e8ff"/><stop offset=".212" stop-color="#00ffff"/><stop offset=".333" stop-color="#00ffb8"/><stop offset=".500" stop-color="#00ff47"/><stop offset=".594" stop-color="#00ff00"/><stop offset=".667" stop-color="#3cff00"/><stop offset=".833" stop-color="#d2ff00"/><stop offset=".880" stop-color="#ffff00"/><stop offset="1" stop-color="#ff8600"/></linearGradient><linearGradient id="g92"><stop offset=".000" stop-color="#009fff"/><stop offset=".167" stop-color="#00eaff"/><stop offset=".209" stop-color="#00ffff"/><stop offset=".333" stop-color="#00ffb7"/><stop offset=".500" stop-color="#00ff47"/><stop offset=".594" stop-color="#00ff00"/><stop offset=".667" stop-color="#3cff00"/><stop offset=".833" stop-color="#d1ff00"/><stop offset=".880" stop-color="#ffff00"/><stop offset="1" stop-color="#ff8700"/></linearGradient><linearGradient id="g93"><stop offset=".000" stop-color="#00a1ff"/><stop offset=".167" stop-color="#00ebff"/><stop offset=".206" stop-color="#00ffff"/><stop offset=".333" stop-color="#00ffb6"/><stop offset=".500" stop-color="#00ff46"/><stop offset=".593" stop-color="#00ff00"/><stop offset=".667" stop-color="#3cff00"/><stop offset=".833" stop-color="#d1ff00"/><stop offset=".881" stop-color="#ffff00"/><stop offset="1" stop-color="#ff8800"/></linearGradient><linearGradient id="g94"><stop offset=".000" stop-color="#00a3ff"/><stop offset=".167" stop-color="#00edff"/><stop offset=".203" stop-color="#00ffff"/><stop offset=".333" stop-color="#00ffb5"/><stop offset=".500" stop-color="#00ff45"/><stop offset=".593" stop-color="#00ff00"/><stop offset=".667" stop-color="#3cff00"/><stop offset=".833" stop-color="#d0ff00"/><stop offset=".882" stop-color="#ffff00"/><stop offset="1" stop-color="#ff8900"/></linearGradient><linearGradient id="g95"><stop offset=".000" stop-color="#00a5ff"/><stop offset=".167" stop-color="#00efff"/><stop offset=".200" stop-color="#00ffff"/><stop offset=".333" stop-color="#00ffb3"/><stop offset=".500" stop-color="#00ff45"/><stop offset=".592" stop-color="#00ff00"/><stop offset=".667" stop-color="#3cff00"/><stop offset=".833" stop-color="#d0ff00"/><stop offset=".882" stop-color="#ffff00"/><stop offset="1" stop-color="#ff8a00"/></linearGradient><linearGradient id="g96"><stop offset=".000" stop-color="#00a8ff"/><stop offset=".167" stop-color="#00f0ff"/><stop offset=".197" stop-color="#00ffff"/><stop offset=".333" stop-color="#00ffb2"/><stop offset=".500" stop-color="#00ff44"/><stop offset=".592" stop-color="#00ff00"/><stop offset=".667" stop-color="#3cff00"/><stop offset=".833" stop-color="#cfff00"/><stop offset=".883" stop-color="#ffff00"/><stop offset="1" stop-color="#ff8b00"/></linearGradient><linearGradient id="g97"><stop offset=".000" stop-color="#00aaff"/><stop offset=".167" stop-color="#00f2ff"/><stop offset=".194" stop-color="#00ffff"/><stop offset=".333" stop-color="#00ffb1"/><stop offset=".500" stop-color="#00ff44"/><stop offset=".592" stop-color="#00ff00"/><stop offset=".667" stop-color="#3cff00"/><stop offset=".833" stop-color="#cfff00"/><stop offset=".884" stop-color="#ffff00"/><stop offset="1" stop-color="#ff8c00"/></linearGradient><linearGradient id="g98"><stop offset=".000" stop-color="#00acff"/><stop offset=".167" stop-color="#00f3ff"/><stop offset=".191" stop-color="#00ffff"/><stop offset=".333" stop-color="#00ffb0"/><stop offset=".500" stop-color="#00ff43"/><stop offset=".592" stop-color="#00ff00"/><stop offset=".667" stop-color="#3cff00"/><stop offset=".833" stop-color="#ceff00"/><stop offset=".885" stop-color="#ffff00"/><stop offset="1" stop-color="#ff8e00"/></linearGradient><linearGradient id="g99"><stop offset=".000" stop-color="#00aeff"/><stop offset=".167" stop-color="#00f5ff"/><stop offset=".188" stop-color="#00ffff"/><stop offset=".333" stop-color="#00ffaf"/><stop offset=".500" stop-color="#00ff43"/><stop offset=".591" stop-color="#00ff00"/><stop offset=".667" stop-color="#3cff00"/><stop offset=".833" stop-color="#cdff00"/><stop offset=".886" stop-color="#ffff00"/><stop offset="1" stop-color="#ff8f00"/></linearGradient><linearGradient id="g100"><stop offset=".000" stop-color="#00b0ff"/><stop offset=".167" stop-color="#00f6ff"/><stop offset=".185" stop-color="#00ffff"/><stop offset=".333" stop-color="#00ffae"/><stop offset=".500" stop-color="#00ff42"/><stop offset=".591" stop-color="#00ff00"/><stop offset=".667" stop-color="#3cff00"/><stop offset=".833" stop-color="#cdff00"/><stop offset=".887" stop-color="#ffff00"/><stop offset="1" stop-color="#ff9000"/></linearGradient><linearGradient id="g101"><stop offset=".000" stop-color="#00b2ff"/><stop offset=".167" stop-color="#00f8ff"/><stop offset=".183" stop-color="#00ffff"/><stop offset=".333" stop-color="#00ffad"/><stop offset=".500" stop-color="#00ff42"/><stop offset=".591" stop-color="#00ff00"/><stop offset=".667" stop-color="#3cff00"/><stop offset=".833" stop-color="#ccff00"/><stop offset=".888" stop-color="#ffff00"/><stop offset="1" stop-color="#ff9100"/></linearGradient><linearGradient id="g102"><stop offset=".000" stop-color="#00b4ff"/><stop offset=".167" stop-color="#00f9ff"/><stop offset=".180" stop-color="#00ffff"/><stop offset=".333" stop-color="#00ffac"/><stop offset=".500" stop-color="#00ff42"/><stop offset=".591" stop-color="#00ff00"/><stop offset=".667" stop-color="#3cff00"/><stop offset=".833" stop-color="#cbff00"/><stop offset=".888" stop-color="#ffff00"/><stop offset="1" stop-color="#ff9300"/></linearGradient><linearGradient id="g103"><stop offset=".000" stop-color="#00b6ff"/><stop offset=".167" stop-color="#00faff"/><stop offset=".177" stop-color="#00ffff"/><stop offset=".333" stop-color="#00ffac"/><stop offset=".500" stop-color="#00ff41"/><stop offset=".591" stop-color="#00ff00"/><stop offset=".667" stop-color="#3bff00"/><stop offset=".833" stop-color="#caff00"/><stop offset=".889" stop-color="#ffff00"/><stop offset="1" stop-color="#ff9400"/></linearGradient><linearGradient id="g104"><stop offset=".000" stop-color="#00b7ff"/><stop offset=".167" stop-color="#00fcff"/><stop offset=".174" stop-color="#00ffff"/><stop offset=".333" stop-color="#00ffab"/><stop offset=".500" stop-color="#00ff41"/><stop offset=".591" stop-color="#00ff00"/><stop offset=".667" stop-color="#3bff00"/><stop offset=".833" stop-color="#caff00"/><stop offset=".891" stop-color="#ffff00"/><stop offset="1" stop-color="#ff9500"/></linearGradient><linearGradient id="g105"><stop offset=".000" stop-color="#00b9ff"/><stop offset=".167" stop-color="#00fdff"/><stop offset=".171" stop-color="#00ffff"/><stop offset=".333" stop-color="#00ffaa"/><stop offset=".500" stop-color="#00ff41"/><stop offset=".591" stop-color="#00ff00"/><stop offset=".667" stop-color="#3bff00"/><stop offset=".833" stop-color="#c9ff00"/><stop offset=".892" stop-color="#ffff00"/><stop offset="1" stop-color="#ff9700"/></linearGradient><linearGradient id="g106"><stop offset=".000" stop-color="#00bbff"/><stop offset=".167" stop-color="#00feff"/><stop offset=".168" stop-color="#00ffff"/><stop offset=".333" stop-color="#00ffa9"/><stop offset=".500" stop-color="#00ff40"/><stop offset=".591" stop-color="#00ff00"/><stop offset=".667" stop-color="#3bff00"/><stop offset=".833" stop-color="#c8ff00"/><stop offset=".893" stop-color="#ffff00"/><stop offset="1" stop-color="#ff9800"/></linearGradient><linearGradient id="g107"><stop offset=".000" stop-color="#00bdff"/><stop offset=".165" stop-color="#00ffff"/><stop offset=".167" stop-color="#00fffe"/><stop offset=".333" stop-color="#00ffa8"/><stop offset=".500" stop-color="#00ff40"/><stop offset=".591" stop-color="#00ff00"/><stop offset=".667" stop-color="#3aff00"/><stop offset=".833" stop-color="#c7ff00"/><stop offset=".894" stop-color="#ffff00"/><stop offset="1" stop-color="#ff9900"/></linearGradient><linearGradient id="g108"><stop offset=".000" stop-color="#00bfff"/><stop offset=".162" stop-color="#00ffff"/><stop offset=".167" stop-color="#00fffd"/><stop offset=".333" stop-color="#00ffa7"/><stop offset=".500" stop-color="#00ff40"/><stop offset=".591" stop-color="#00ff00"/><stop offset=".667" stop-color="#3aff00"/><stop offset=".833" stop-color="#c6ff00"/><stop offset=".895" stop-color="#ffff00"/><stop offset="1" stop-color="#ff9b00"/></linearGradient><linearGradient id="g109"><stop offset=".000" stop-color="#00c1ff"/><stop offset=".160" stop-color="#00ffff"/><stop offset=".167" stop-color="#00fffc"/><stop offset=".333" stop-color="#00ffa7"/><stop offset=".500" stop-color="#00ff40"/><stop offset=".591" stop-color="#00ff00"/><stop offset=".667" stop-color="#3aff00"/><stop offset=".833" stop-color="#c5ff00"/><stop offset=".896" stop-color="#ffff00"/><stop offset="1" stop-color="#ff9c00"/></linearGradient><linearGradient id="g110"><stop offset=".000" stop-color="#00c2ff"/><stop offset=".157" stop-color="#00ffff"/><stop offset=".167" stop-color="#00fffa"/><stop offset=".333" stop-color="#00ffa6"/><stop offset=".500" stop-color="#00ff40"/><stop offset=".592" stop-color="#00ff00"/><stop offset=".667" stop-color="#39ff00"/><stop offset=".833" stop-color="#c4ff00"/><stop offset=".898" stop-color="#ffff00"/><stop offset="1" stop-color="#ff9e00"/></linearGradient><linearGradient id="g111"><stop offset=".000" stop-color="#00c4ff"/><stop offset=".154" stop-color="#00ffff"/><stop offset=".167" stop-color="#00fff9"/><stop offset=".333" stop-color="#00ffa5"/><stop offset=".500" stop-color="#00ff40"/><stop offset=".592" stop-color="#00ff00"/><stop offset=".667" stop-color="#39ff00"/><stop offset=".833" stop-color="#c3ff00"/><stop offset=".899" stop-color="#ffff00"/><stop offset="1" stop-color="#ff9f00"/></linearGradient><linearGradient id="g112"><stop offset=".000" stop-color="#00c6ff"/><stop offset=".151" stop-color="#00ffff"/><stop offset=".167" stop-color="#00fff8"/><stop offset=".333" stop-color="#00ffa5"/><stop offset=".500" stop-color="#00ff3f"/><stop offset=".592" stop-color="#00ff00"/><stop offset=".667" stop-color="#38ff00"/><stop offset=".833" stop-color="#c2ff00"/><stop offset=".900" stop-color="#ffff00"/><stop offset="1" stop-color="#ffa100"/></linearGradient><linearGradient id="g113"><stop offset=".000" stop-color="#00c7ff"/><stop offset=".148" stop-color="#00ffff"/><stop offset=".167" stop-color="#00fff7"/><stop offset=".333" stop-color="#00ffa4"/><stop offset=".500" stop-color="#00ff3f"/><stop offset=".593" stop-color="#00ff00"/><stop offset=".667" stop-color="#38ff00"/><stop offset=".833" stop-color="#c1ff00"/><stop offset=".902" stop-color="#ffff00"/><stop offset="1" stop-color="#ffa200"/></linearGradient><linearGradient id="g114"><stop offset=".000" stop-color="#00c9ff"/><stop offset=".146" stop-color="#00ffff"/><stop offset=".167" stop-color="#00fff6"/><stop offset=".333" stop-color="#00ffa3"/><stop offset=".500" stop-color="#00ff3f"/><stop offset=".593" stop-color="#00ff00"/><stop offset=".667" stop-color="#37ff00"/><stop offset=".833" stop-color="#c0ff00"/><stop offset=".903" stop-color="#ffff00"/><stop offset="1" stop-color="#ffa400"/></linearGradient><linearGradient id="g115"><stop offset=".000" stop-color="#00cbff"/><stop offset=".143" stop-color="#00ffff"/><stop offset=".167" stop-color="#00fff5"/><stop offset=".333" stop-color="#00ffa3"/><stop offset=".500" stop-color="#00ff3f"/><stop offset=".593" stop-color="#00ff00"/><stop offset=".667" stop-color="#37ff00"/><stop offset=".833" stop-color="#bfff00"/><stop offset=".904" stop-color="#ffff00"/><stop offset="1" stop-color="#ffa600"/></linearGradient><linearGradient id="g116"><stop offset=".000" stop-color="#00ccff"/><stop offset=".140" stop-color="#00ffff"/><stop offset=".167" stop-color="#00fff3"/><stop offset=".333" stop-color="#00ffa2"/><stop offset=".500" stop-color="#00ff3f"/><stop offset=".594" stop-color="#00ff00"/><stop offset=".667" stop-color="#36ff00"/><stop offset=".833" stop-color="#beff00"/><stop offset=".906" stop-color="#ffff00"/><stop offset="1" stop-color="#ffa700"/></linearGradient><linearGradient id="g117"><stop offset=".000" stop-color="#00ceff"/><stop offset=".137" stop-color="#00ffff"/><stop offset=".167" stop-color="#00fff2"/><stop offset=".333" stop-color="#00ffa2"/><stop offset=".500" stop-color="#00ff3f"/><stop offset=".594" stop-color="#00ff00"/><stop offset=".667" stop-color="#36ff00"/><stop offset=".833" stop-color="#bdff00"/><stop offset=".907" stop-color="#ffff00"/><stop offset="1" stop-color="#ffa900"/></linearGradient><linearGradient id="g118"><stop offset=".000" stop-color="#00cfff"/><stop offset=".134" stop-color="#00ffff"/><stop offset=".167" stop-color="#00fff1"/><stop offset=".333" stop-color="#00ffa1"/><stop offset=".500" stop-color="#00ff3f"/><stop offset=".595" stop-color="#00ff00"/><stop offset=".667" stop-color="#35ff00"/><stop offset=".833" stop-color="#bcff00"/><stop offset=".909" stop-color="#ffff00"/><stop offset="1" stop-color="#ffab00"/></linearGradient><linearGradient id="g119"><stop offset=".000" stop-color="#00d1ff"/><stop offset=".132" stop-color="#00ffff"/><stop offset=".167" stop-color="#00fff0"/><stop offset=".333" stop-color="#00ffa1"/><stop offset=".500" stop-color="#00ff3f"/><stop offset=".595" stop-color="#00ff00"/><stop offset=".667" stop-color="#34ff00"/><stop offset=".833" stop-color="#baff00"/><stop offset=".911" stop-color="#ffff00"/><stop offset="1" stop-color="#ffac00"/></linearGradient><linearGradient id="g120"><stop offset=".000" stop-color="#00d2ff"/><stop offset=".129" stop-color="#00ffff"/><stop offset=".167" stop-color="#00ffef"/><stop offset=".333" stop-color="#00ffa0"/><stop offset=".500" stop-color="#00ff40"/><stop offset=".596" stop-color="#00ff00"/><stop offset=".667" stop-color="#34ff00"/><stop offset=".833" stop-color="#b9ff00"/><stop offset=".912" stop-color="#ffff00"/><stop offset="1" stop-color="#ffae00"/></linearGradient><linearGradient id="g121"><stop offset=".000" stop-color="#00d4ff"/><stop offset=".126" stop-color="#00ffff"/><stop offset=".167" stop-color="#00ffee"/><stop offset=".333" stop-color="#00ffa0"/><stop offset=".500" stop-color="#00ff40"/><stop offset=".597" stop-color="#00ff00"/><stop offset=".667" stop-color="#33ff00"/><stop offset=".833" stop-color="#b8ff00"/><stop offset=".914" stop-color="#ffff00"/><stop offset="1" stop-color="#ffb000"/></linearGradient><linearGradient id="g122"><stop offset=".000" stop-color="#00d5ff"/><stop offset=".123" stop-color="#00ffff"/><stop offset=".167" stop-color="#00ffed"/><stop offset=".333" stop-color="#00ffa0"/><stop offset=".500" stop-color="#00ff40"/><stop offset=".597" stop-color="#00ff00"/><stop offset=".667" stop-color="#32ff00"/><stop offset=".833" stop-color="#b7ff00"/><stop offset=".916" stop-color="#ffff00"/><stop offset="1" stop-color="#ffb200"/></linearGradient><linearGradient id="g123"><stop offset=".000" stop-color="#00d7ff"/><stop offset=".121" stop-color="#00ffff"/><stop offset=".167" stop-color="#00ffed"/><stop offset=".333" stop-color="#00ff9f"/><stop offset=".500" stop-color="#00ff40"/><stop offset=".598" stop-color="#00ff00"/><stop offset=".667" stop-color="#32ff00"/><stop offset=".833" stop-color="#b5ff00"/><stop offset=".917" stop-color="#ffff00"/><stop offset="1" stop-color="#ffb400"/></linearGradient><linearGradient id="g124"><stop offset=".000" stop-color="#00d8ff"/><stop offset=".118" stop-color="#00ffff"/><stop offset=".167" stop-color="#00ffec"/><stop offset=".333" stop-color="#00ff9f"/><stop offset=".500" stop-color="#00ff40"/><stop offset=".599" stop-color="#00ff00"/><stop offset=".667" stop-color="#31ff00"/><stop offset=".833" stop-color="#b4ff00"/><stop offset=".919" stop-color="#ffff00"/><stop offset="1" stop-color="#ffb500"/></linearGradient><linearGradient id="g125"><stop offset=".000" stop-color="#00d9ff"/><stop offset=".115" stop-color="#00ffff"/><stop offset=".167" stop-color="#00ffeb"/><stop offset=".333" stop-color="#00ff9f"/><stop offset=".500" stop-color="#00ff41"/><stop offset=".600" stop-color="#00ff00"/><stop offset=".667" stop-color="#30ff00"/><stop offset=".833" stop-color="#b3ff00"/><stop offset=".921" stop-color="#ffff00"/><stop offset="1" stop-color="#ffb700"/></linearGradient><linearGradient id="g126"><stop offset=".000" stop-color="#00dbff"/><stop offset=".113" stop-color="#00ffff"/><stop offset=".167" stop-color="#00ffea"/><stop offset=".333" stop-color="#00ff9e"/><stop offset=".500" stop-color="#00ff41"/><stop offset=".601" stop-color="#00ff00"/><stop offset=".667" stop-color="#2fff00"/><stop offset=".833" stop-color="#b1ff00"/><stop offset=".923" stop-color="#ffff00"/><stop offset="1" stop-color="#ffb900"/></linearGradient><linearGradient id="g127"><stop offset=".000" stop-color="#00dcff"/><stop offset=".110" stop-color="#00ffff"/><stop offset=".167" stop-color="#00ffe9"/><stop offset=".333" stop-color="#00ff9e"/><stop offset=".500" stop-color="#00ff41"/><stop offset=".601" stop-color="#00ff00"/><stop offset=".667" stop-color="#2eff00"/><stop offset=".833" stop-color="#b0ff00"/><stop offset=".925" stop-color="#ffff00"/><stop offset="1" stop-color="#ffbb00"/></linearGradient><linearGradient id="g128"><stop offset=".000" stop-color="#00ddff"/><stop offset=".107" stop-color="#00ffff"/><stop offset=".167" stop-color="#00ffe8"/><stop offset=".333" stop-color="#00ff9e"/><stop offset=".500" stop-color="#00ff41"/><stop offset=".602" stop-color="#00ff00"/><stop offset=".667" stop-color="#2dff00"/><stop offset=".833" stop-color="#aeff00"/><stop offset=".927" stop-color="#ffff00"/><stop offset="1" stop-color="#ffbd00"/></linearGradient><linearGradient id="g129"><stop offset=".000" stop-color="#00deff"/><stop offset=".105" stop-color="#00ffff"/><stop offset=".167" stop-color="#00ffe8"/><stop offset=".333" stop-color="#00ff9e"/><stop offset=".500" stop-color="#00ff42"/><stop offset=".604" stop-color="#00ff00"/><stop offset=".667" stop-color="#2cff00"/><stop offset=".833" stop-color="#adff00"/><stop offset=".929" stop-color="#ffff00"/><stop offset="1" stop-color="#ffbf00"/></linearGradient><linearGradient id="g130"><stop offset=".000" stop-color="#00e0ff"/><stop offset=".102" stop-color="#00ffff"/><stop offset=".167" stop-color="#00ffe7"/><stop offset=".333" stop-color="#00ff9e"/><stop offset=".500" stop-color="#00ff42"/><stop offset=".605" stop-color="#00ff00"/><stop offset=".667" stop-color="#2cff00"/><stop offset=".833" stop-color="#abff00"/><stop offset=".931" stop-color="#ffff00"/><stop offset="1" stop-color="#ffc100"/></linearGradient><linearGradient id="g131"><stop offset=".000" stop-color="#00e1ff"/><stop offset=".099" stop-color="#00ffff"/><stop offset=".167" stop-color="#00ffe6"/><stop offset=".333" stop-color="#00ff9d"/><stop offset=".500" stop-color="#00ff43"/><stop offset=".606" stop-color="#00ff00"/><stop offset=".667" stop-color="#2bff00"/><stop offset=".833" stop-color="#aaff00"/><stop offset=".933" stop-color="#ffff00"/><stop offset="1" stop-color="#ffc300"/></linearGradient><linearGradient id="g132"><stop offset=".000" stop-color="#00e2ff"/><stop offset=".097" stop-color="#00ffff"/><stop offset=".167" stop-color="#00ffe6"/><stop offset=".333" stop-color="#00ff9d"/><stop offset=".500" stop-color="#00ff43"/><stop offset=".607" stop-color="#00ff00"/><stop offset=".667" stop-color="#2aff00"/><stop offset=".833" stop-color="#a8ff00"/><stop offset=".935" stop-color="#ffff00"/><stop offset="1" stop-color="#ffc500"/></linearGradient><linearGradient id="g133"><stop offset=".000" stop-color="#00e3ff"/><stop offset=".094" stop-color="#00ffff"/><stop offset=".167" stop-color="#00ffe5"/><stop offset=".333" stop-color="#00ff9d"/><stop offset=".500" stop-color="#00ff43"/><stop offset=".608" stop-color="#00ff00"/><stop offset=".667" stop-color="#29ff00"/><stop offset=".833" stop-color="#a7ff00"/><stop offset=".937" stop-color="#ffff00"/><stop offset="1" stop-color="#ffc700"/></linearGradient><linearGradient id="g134"><stop offset=".000" stop-color="#00e4ff"/><stop offset=".092" stop-color="#00ffff"/><stop offset=".167" stop-color="#00ffe4"/><stop offset=".333" stop-color="#00ff9d"/><stop offset=".500" stop-color="#00ff44"/><stop offset=".609" stop-color="#00ff00"/><stop offset=".667" stop-color="#27ff00"/><stop offset=".833" stop-color="#a5ff00"/><stop offset=".939" stop-color="#ffff00"/><stop offset="1" stop-color="#ffca00"/></linearGradient><linearGradient id="g135"><stop offset=".000" stop-color="#00e5ff"/><stop offset=".089" stop-color="#00ffff"/><stop offset=".167" stop-color="#00ffe4"/><stop offset=".333" stop-color="#00ff9d"/><stop offset=".500" stop-color="#00ff44"/><stop offset=".611" stop-color="#00ff00"/><stop offset=".667" stop-color="#26ff00"/><stop offset=".833" stop-color="#a3ff00"/><stop offset=".942" stop-color="#ffff00"/><stop offset="1" stop-color="#ffcc00"/></linearGradient><linearGradient id="g136"><stop offset=".000" stop-color="#00e7ff"/><stop offset=".087" stop-color="#00ffff"/><stop offset=".167" stop-color="#00ffe3"/><stop offset=".333" stop-color="#00ff9d"/><stop offset=".500" stop-color="#00ff45"/><stop offset=".612" stop-color="#00ff00"/><stop offset=".667" stop-color="#25ff00"/><stop offset=".833" stop-color="#a2ff00"/><stop offset=".944" stop-color="#ffff00"/><stop offset="1" stop-color="#ffce00"/></linearGradient><linearGradient id="g137"><stop offset=".000" stop-color="#00e8ff"/><stop offset=".084" stop-color="#00ffff"/><stop offset=".167" stop-color="#00ffe3"/><stop offset=".333" stop-color="#00ff9d"/><stop offset=".500" stop-color="#00ff46"/><stop offset=".614" stop-color="#00ff00"/><stop offset=".667" stop-color="#24ff00"/><stop offset=".833" stop-color="#a0ff00"/><stop offset=".946" stop-color="#ffff00"/><stop offset="1" stop-color="#ffd000"/></linearGradient><linearGradient id="g138"><stop offset=".000" stop-color="#00e9ff"/><stop offset=".082" stop-color="#00ffff"/><stop offset=".167" stop-color="#00ffe2"/><stop offset=".333" stop-color="#00ff9d"/><stop offset=".500" stop-color="#00ff46"/><stop offset=".615" stop-color="#00ff00"/><stop offset=".667" stop-color="#23ff00"/><stop offset=".833" stop-color="#9eff00"/><stop offset=".949" stop-color="#ffff00"/><stop offset="1" stop-color="#ffd200"/></linearGradient><linearGradient id="g139"><stop offset=".000" stop-color="#00eaff"/><stop offset=".079" stop-color="#00ffff"/><stop offset=".167" stop-color="#00ffe2"/><stop offset=".333" stop-color="#00ff9d"/><stop offset=".500" stop-color="#00ff47"/><stop offset=".617" stop-color="#00ff00"/><stop offset=".667" stop-color="#22ff00"/><stop offset=".833" stop-color="#9dff00"/><stop offset=".951" stop-color="#ffff00"/><stop offset="1" stop-color="#ffd500"/></linearGradient><linearGradient id="g140"><stop offset=".000" stop-color="#00ebff"/><stop offset=".077" stop-color="#00ffff"/><stop offset=".167" stop-color="#00ffe1"/><stop offset=".333" stop-color="#00ff9d"/><stop offset=".500" stop-color="#00ff47"/><stop offset=".618" stop-color="#00ff00"/><stop offset=".667" stop-color="#21ff00"/><stop offset=".833" stop-color="#9bff00"/><stop offset=".954" stop-color="#ffff00"/><stop offset="1" stop-color="#ffd700"/></linearGradient><linearGradient id="g141"><stop offset=".000" stop-color="#00ebff"/><stop offset=".074" stop-color="#00ffff"/><stop offset=".167" stop-color="#00ffe1"/><stop offset=".333" stop-color="#00ff9d"/><stop offset=".500" stop-color="#00ff48"/><stop offset=".620" stop-color="#00ff00"/><stop offset=".667" stop-color="#1fff00"/><stop offset=".833" stop-color="#99ff00"/><stop offset=".956" stop-color="#ffff00"/><stop offset="1" stop-color="#ffd900"/></linearGradient><linearGradient id="g142"><stop offset=".000" stop-color="#00ecff"/><stop offset=".072" stop-color="#00ffff"/><stop offset=".167" stop-color="#00ffe0"/><stop offset=".333" stop-color="#00ff9e"/><stop offset=".500" stop-color="#00ff49"/><stop offset=".622" stop-color="#00ff00"/><stop offset=".667" stop-color="#1eff00"/><stop offset=".833" stop-color="#97ff00"/><stop offset=".959" stop-color="#ffff00"/><stop offset="1" stop-color="#ffdc00"/></linearGradient><linearGradient id="g143"><stop offset=".000" stop-color="#00edff"/><stop offset=".069" stop-color="#00ffff"/><stop offset=".167" stop-color="#00ffe0"/><stop offset=".333" stop-color="#00ff9e"/><stop offset=".500" stop-color="#00ff4a"/><stop offset=".623" stop-color="#00ff00"/><stop offset=".667" stop-color="#1dff00"/><stop offset=".833" stop-color="#95ff00"/><stop offset=".962" stop-color="#ffff00"/><stop offset="1" stop-color="#ffde00"/></linearGradient><linearGradient id="g144"><stop offset=".000" stop-color="#00eeff"/><stop offset=".067" stop-color="#00ffff"/><stop offset=".167" stop-color="#00ffe0"/><stop offset=".333" stop-color="#00ff9e"/><stop offset=".500" stop-color="#00ff4a"/><stop offset=".625" stop-color="#00ff00"/><stop offset=".667" stop-color="#1bff00"/><stop offset=".833" stop-color="#94ff00"/><stop offset=".964" stop-color="#ffff00"/><stop offset="1" stop-color="#ffe000"/></linearGradient><linearGradient id="g145"><stop offset=".000" stop-color="#00efff"/><stop offset=".065" stop-color="#00ffff"/><stop offset=".167" stop-color="#00ffdf"/><stop offset=".333" stop-color="#00ff9e"/><stop offset=".500" stop-color="#00ff4b"/><stop offset=".627" stop-color="#00ff00"/><stop offset=".667" stop-color="#1aff00"/><stop offset=".833" stop-color="#92ff00"/><stop offset=".967" stop-color="#ffff00"/><stop offset="1" stop-color="#ffe300"/></linearGradient><linearGradient id="g146"><stop offset=".000" stop-color="#00f0ff"/><stop offset=".062" stop-color="#00ffff"/><stop offset=".167" stop-color="#00ffdf"/><stop offset=".333" stop-color="#00ff9e"/><stop offset=".500" stop-color="#00ff4c"/><stop offset=".629" stop-color="#00ff00"/><stop offset=".667" stop-color="#19ff00"/><stop offset=".833" stop-color="#90ff00"/><stop offset=".970" stop-color="#ffff00"/><stop offset="1" stop-color="#ffe500"/></linearGradient><linearGradient id="g147"><stop offset=".000" stop-color="#00f1ff"/><stop offset=".060" stop-color="#00ffff"/><stop offset=".167" stop-color="#00ffdf"/><stop offset=".333" stop-color="#00ff9f"/><stop offset=".500" stop-color="#00ff4d"/><stop offset=".631" stop-color="#00ff00"/><stop offset=".667" stop-color="#17ff00"/><stop offset=".833" stop-color="#8eff00"/><stop offset=".973" stop-color="#ffff00"/><stop offset="1" stop-color="#ffe800"/></linearGradient><linearGradient id="g148"><stop offset=".000" stop-color="#00f1ff"/><stop offset=".058" stop-color="#00ffff"/><stop offset=".167" stop-color="#00ffdf"/><stop offset=".333" stop-color="#00ff9f"/><stop offset=".500" stop-color="#00ff4e"/><stop offset=".633" stop-color="#00ff00"/><stop offset=".667" stop-color="#16ff00"/><stop offset=".833" stop-color="#8cff00"/><stop offset=".976" stop-color="#ffff00"/><stop offset="1" stop-color="#ffea00"/></linearGradient><linearGradient id="g149"><stop offset=".000" stop-color="#00f2ff"/><stop offset=".056" stop-color="#00ffff"/><stop offset=".167" stop-color="#00ffde"/><stop offset=".333" stop-color="#00ff9f"/><stop offset=".500" stop-color="#00ff4e"/><stop offset=".635" stop-color="#00ff00"/><stop offset=".667" stop-color="#14ff00"/><stop offset=".833" stop-color="#8aff00"/><stop offset=".978" stop-color="#ffff00"/><stop offset="1" stop-color="#ffed00"/></linearGradient><linearGradient id="g150"><stop offset=".000" stop-color="#00f3ff"/><stop offset=".054" stop-color="#00ffff"/><stop offset=".167" stop-color="#00ffde"/><stop offset=".333" stop-color="#00ffa0"/><stop offset=".500" stop-color="#00ff4f"/><stop offset=".638" stop-color="#00ff00"/><stop offset=".667" stop-color="#13ff00"/><stop offset=".833" stop-color="#88ff00"/><stop offset=".981" stop-color="#ffff00"/><stop offset="1" stop-color="#ffef00"/></linearGradient><linearGradient id="g151"><stop offset=".000" stop-color="#00f3ff"/><stop offset=".051" stop-color="#00ffff"/><stop offset=".167" stop-color="#00ffde"/><stop offset=".333" stop-color="#00ffa0"/><stop offset=".500" stop-color="#00ff50"/><stop offset=".640" stop-color="#00ff00"/><stop offset=".667" stop-color="#11ff00"/><stop offset=".833" stop-color="#86ff00"/><stop offset=".984" stop-color="#ffff00"/><stop offset="1" stop-color="#fff200"/></linearGradient><linearGradient id="g152"><stop offset=".000" stop-color="#00f4ff"/><stop offset=".049" stop-color="#00ffff"/><stop offset=".167" stop-color="#00ffde"/><stop offset=".333" stop-color="#00ffa1"/><stop offset=".500" stop-color="#00ff51"/><stop offset=".642" stop-color="#00ff00"/><stop offset=".667" stop-color="#10ff00"/><stop offset=".833" stop-color="#83ff00"/><stop offset=".988" stop-color="#ffff00"/><stop offset="1" stop-color="#fff500"/></linearGradient><linearGradient id="g153"><stop offset=".000" stop-color="#00f5ff"/><stop offset=".047" stop-color="#00ffff"/><stop offset=".167" stop-color="#00ffde"/><stop offset=".333" stop-color="#00ffa1"/><stop offset=".500" stop-color="#00ff52"/><stop offset=".644" stop-color="#00ff00"/><stop offset=".667" stop-color="#0eff00"/><stop offset=".833" stop-color="#81ff00"/><stop offset=".991" stop-color="#ffff00"/><stop offset="1" stop-color="#fff700"/></linearGradient><linearGradient id="g154"><stop offset=".000" stop-color="#00f5ff"/><stop offset=".045" stop-color="#00ffff"/><stop offset=".167" stop-color="#00ffde"/><stop offset=".333" stop-color="#00ffa2"/><stop offset=".500" stop-color="#00ff53"/><stop offset=".647" stop-color="#00ff00"/><stop offset=".667" stop-color="#0dff00"/><stop offset=".833" stop-color="#7fff00"/><stop offset=".994" stop-color="#ffff00"/><stop offset="1" stop-color="#fffa00"/></linearGradient><linearGradient id="g155"><stop offset=".000" stop-color="#00f6ff"/><stop offset=".043" stop-color="#00ffff"/><stop offset=".167" stop-color="#00ffde"/><stop offset=".333" stop-color="#00ffa2"/><stop offset=".500" stop-color="#00ff54"/><stop offset=".649" stop-color="#00ff00"/><stop offset=".667" stop-color="#0bff00"/><stop offset=".833" stop-color="#7dff00"/><stop offset=".997" stop-color="#ffff00"/><stop offset="1" stop-color="#fffd00"/></linearGradient><linearGradient id="g156"><stop offset=".000" stop-color="#00f6ff"/><stop offset=".041" stop-color="#00ffff"/><stop offset=".167" stop-color="#00ffde"/><stop offset=".333" stop-color="#00ffa3"/><stop offset=".500" stop-color="#00ff55"/><stop offset=".652" stop-color="#00ff00"/><stop offset=".667" stop-color="#09ff00"/><stop offset=".833" stop-color="#7bff00"/><stop offset="1" stop-color="#ffff00"/></linearGradient><linearGradient id="g157"><stop offset=".000" stop-color="#00f7ff"/><stop offset=".040" stop-color="#00ffff"/><stop offset=".167" stop-color="#00ffde"/><stop offset=".333" stop-color="#00ffa3"/><stop offset=".500" stop-color="#00ff57"/><stop offset=".655" stop-color="#00ff00"/><stop offset=".667" stop-color="#08ff00"/><stop offset=".833" stop-color="#79ff00"/><stop offset="1" stop-color="#fcff00"/></linearGradient><linearGradient id="g158"><stop offset=".000" stop-color="#00f7ff"/><stop offset=".038" stop-color="#00ffff"/><stop offset=".167" stop-color="#00ffde"/><stop offset=".333" stop-color="#00ffa3"/><stop offset=".500" stop-color="#00ff57"/><stop offset=".656" stop-color="#00ff00"/><stop offset=".667" stop-color="#07ff00"/><stop offset=".833" stop-color="#77ff00"/><stop offset="1" stop-color="#faff00"/></linearGradient><clipPath id="c159"><rect x="47.3" y="724.8" width="235.5" height="233.9"/></clipPath><linearGradient id="g160"><stop offset=".000" stop-color="#00ccff"/><stop offset=".105" stop-color="#00ffff"/><stop offset=".167" stop-color="#00ffe1"/><stop offset=".333" stop-color="#00ff95"/><stop offset=".500" stop-color="#00ff4f"/><stop offset=".667" stop-color="#00ff0e"/><stop offset=".704" stop-color="#00ff00"/><stop offset=".833" stop-color="#2eff00"/><stop offset="1" stop-color="#64ff00"/></linearGradient><linearGradient id="g161"><stop offset=".000" stop-color="#00cdff"/><stop offset=".104" stop-color="#00ffff"/><stop offset=".167" stop-color="#00ffe1"/><stop offset=".333" stop-color="#00ff95"/><stop offset=".500" stop-color="#00ff4e"/><stop offset=".667" stop-color="#00ff0d"/><stop offset=".702" stop-color="#00ff00"/><stop offset=".833" stop-color="#2fff00"/><stop offset="1" stop-color="#66ff00"/></linearGradient><linearGradient id="g162"><stop offset=".000" stop-color="#00cdff"/><stop offset=".104" stop-color="#00ffff"/><stop offset=".167" stop-color="#00ffe0"/><stop offset=".333" stop-color="#00ff94"/><stop offset=".500" stop-color="#00ff4d"/><stop offset=".667" stop-color="#00ff0c"/><stop offset=".699" stop-color="#00ff00"/><stop offset=".833" stop-color="#30ff00"/><stop offset="1" stop-color="#67ff00"/></linearGradient><linearGradient id="g163"><stop offset=".000" stop-color="#00cdff"/><stop offset=".103" stop-color="#00ffff"/><stop offset=".167" stop-color="#00ffe0"/><stop offset=".333" stop-color="#00ff94"/><stop offset=".500" stop-color="#00ff4c"/><stop offset=".667" stop-color="#00ff0b"/><stop offset=".696" stop-color="#00ff00"/><stop offset=".833" stop-color="#31ff00"/><stop offset="1" stop-color="#68ff00"/></linearGradient><linearGradient id="g164"><stop offset=".000" stop-color="#00cdff"/><stop offset=".102" stop-color="#00ffff"/><stop offset=".167" stop-color="#00ffe0"/><stop offset=".333" stop-color="#00ff93"/><stop offset=".500" stop-color="#00ff4c"/><stop offset=".667" stop-color="#00ff0a"/><stop offset=".694" stop-color="#00ff00"/><stop offset=".833" stop-color="#32ff00"/><stop offset="1" stop-color="#6aff00"/></linearGradient><linearGradient id="g165"><stop offset=".000" stop-color="#00ceff"/><stop offset=".102" stop-color="#00ffff"/><stop offset=".167" stop-color="#00ffdf"/><stop offset=".333" stop-color="#00ff92"/><stop offset=".500" stop-color="#00ff4b"/><stop offset=".667" stop-color="#00ff09"/><stop offset=".691" stop-color="#00ff00"/><stop offset=".833" stop-color="#33ff00"/><stop offset="1" stop-color="#6bff00"/></linearGradient><linearGradient id="g166"><stop offset=".000" stop-color="#00ceff"/><stop offset=".101" stop-color="#00ffff"/><stop offset=".167" stop-color="#00ffdf"/><stop offset=".333" stop-color="#00ff92"/><stop offset=".500" stop-color="#00ff4a"/><stop offset=".667" stop-color="#00ff08"/><stop offset=".689" stop-color="#00ff00"/><stop offset=".833" stop-color="#34ff00"/><stop offset="1" stop-color="#6cff00"/></linearGradient><linearGradient id="g167"><stop offset=".000" stop-color="#00ceff"/><stop offset=".100" stop-color="#00ffff"/><stop offset=".167" stop-color="#00ffdf"/><stop offset=".333" stop-color="#00ff91"/><stop offset=".500" stop-color="#00ff4a"/><stop offset=".667" stop-color="#00ff07"/><stop offset=".687" stop-color="#00ff00"/><stop offset=".833" stop-color="#35ff00"/><stop offset="1" stop-color="#6dff00"/></linearGradient><linearGradient id="g168"><stop offset=".000" stop-color="#00ceff"/><stop offset=".100" stop-color="#00ffff"/><stop offset=".167" stop-color="#00ffde"/><stop offset=".333" stop-color="#00ff91"/><stop offset=".500" stop-color="#00ff49"/><stop offset=".667" stop-color="#00ff07"/><stop offset=".685" stop-color="#00ff00"/><stop offset=".833" stop-color="#36ff00"/><stop offset="1" stop-color="#6eff00"/></linearGradient><linearGradient id="g169"><stop offset=".000" stop-color="#00ceff"/><stop offset=".100" stop-color="#00ffff"/><stop offset=".167" stop-color="#00ffde"/><stop offset=".333" stop-color="#00ff91"/><stop offset=".500" stop-color="#00ff48"/><stop offset=".667" stop-color="#00ff06"/><stop offset=".683" stop-color="#00ff00"/><stop offset=".833" stop-color="#37ff00"/><stop offset="1" stop-color="#6fff00"/></linearGradient><linearGradient id="g170"><stop offset=".000" stop-color="#00ceff"/><stop offset=".099" stop-color="#00ffff"/><stop offset=".167" stop-color="#00ffde"/><stop offset=".333" stop-color="#00ff90"/><stop offset=".500" stop-color="#00ff48"/><stop offset=".667" stop-color="#00ff05"/><stop offset=".681" stop-color="#00ff00"/><stop offset=".833" stop-color="#38ff00"/><stop offset="1" stop-color="#70ff00"/></linearGradient><linearGradient id="g171"><stop offset=".000" stop-color="#00ceff"/><stop offset=".099" stop-color="#00ffff"/><stop offset=".167" stop-color="#00ffdd"/><stop offset=".333" stop-color="#00ff90"/><stop offset=".500" stop-color="#00ff47"/><stop offset=".667" stop-color="#00ff04"/><stop offset=".679" stop-color="#00ff00"/><stop offset=".833" stop-color="#39ff00"/><stop offset="1" stop-color="#72ff00"/></linearGradient><linearGradient id="g172"><stop offset=".000" stop-color="#00ceff"/><stop offset=".099" stop-color="#00ffff"/><stop offset=".167" stop-color="#00ffdd"/><stop offset=".333" stop-color="#00ff8f"/><stop offset=".500" stop-color="#00ff47"/><stop offset=".667" stop-color="#00ff04"/><stop offset=".677" stop-color="#00ff00"/><stop offset=".833" stop-color="#3aff00"/><stop offset="1" stop-color="#73ff00"/></linearGradient><linearGradient id="g173"><stop offset=".000" stop-color="#00ceff"/><stop offset=".098" stop-color="#00ffff"/><stop offset=".167" stop-color="#00ffdd"/><stop offset=".333" stop-color="#00ff8f"/><stop offset=".500" stop-color="#00ff46"/><stop offset=".667" stop-color="#00ff03"/><stop offset=".675" stop-color="#00ff00"/><stop offset=".833" stop-color="#3bff00"/><stop offset="1" stop-color="#74ff00"/></linearGradient><linearGradient id="g174"><stop offset=".000" stop-color="#00ceff"/><stop offset=".098" stop-color="#00ffff"/><stop offset=".167" stop-color="#00ffdd"/><stop offset=".333" stop-color="#00ff8f"/><stop offset=".500" stop-color="#00ff46"/><stop offset=".667" stop-color="#00ff02"/><stop offset=".673" stop-color="#00ff00"/><stop offset=".833" stop-color="#3cff00"/><stop offset="1" stop-color="#75ff00"/></linearGradient><linearGradient id="g175"><stop offset=".000" stop-color="#00ceff"/><stop offset=".098" stop-color="#00ffff"/><stop offset=".167" stop-color="#00ffdd"/><stop offset=".333" stop-color="#00ff8e"/><stop offset=".500" stop-color="#00ff45"/><stop offset=".667" stop-color="#00ff02"/><stop offset=".672" stop-color="#00ff00"/><stop offset=".833" stop-color="#3dff00"/><stop offset="1" stop-color="#76ff00"/></linearGradient><linearGradient id="g176"><stop offset=".000" stop-color="#00ceff"/><stop offset=".098" stop-color="#00ffff"/><stop offset=".167" stop-color="#00ffdd"/><stop offset=".333" stop-color="#00ff8e"/><stop offset=".500" stop-color="#00ff45"/><stop offset=".667" stop-color="#00ff01"/><stop offset=".670" stop-color="#00ff00"/><stop offset=".833" stop-color="#3dff00"/><stop offset="1" stop-color="#76ff00"/></linearGradient><linearGradient id="g177"><stop offset=".000" stop-color="#00ceff"/><stop offset=".098" stop-color="#00ffff"/><stop offset=".167" stop-color="#00ffdd"/><stop offset=".333" stop-color="#00ff8e"/><stop offset=".500" stop-color="#00ff44"/><stop offset=".667" stop-color="#00ff01"/><stop offset=".669" stop-color="#00ff00"/><stop offset=".833" stop-color="#3eff00"/><stop offset="1" stop-color="#77ff00"/></linearGradient><linearGradient id="g178"><stop offset=".000" stop-color="#00ceff"/><stop offset=".098" stop-color="#00ffff"/><stop offset=".167" stop-color="#00ffdd"/><stop offset=".333" stop-color="#00ff8e"/><stop offset=".500" stop-color="#00ff44"/><stop offset=".667" stop-color="#00ff00"/><stop offset=".833" stop-color="#3fff00"/><stop offset="1" stop-color="#78ff00"/></linearGradient><linearGradient id="g179"><stop offset=".000" stop-color="#00ceff"/><stop offset=".098" stop-color="#00ffff"/><stop offset=".167" stop-color="#00ffdd"/><stop offset=".333" stop-color="#00ff8d"/><stop offset=".500" stop-color="#00ff44"/><stop offset=".666" stop-color="#00ff00"/><stop offset=".667" stop-color="#00ff00"/><stop offset=".833" stop-color="#40ff00"/><stop offset="1" stop-color="#79ff00"/></linearGradient><linearGradient id="g180"><stop offset=".000" stop-color="#00ceff"/><stop offset=".098" stop-color="#00ffff"/><stop offset=".167" stop-color="#00ffdd"/><stop offset=".333" stop-color="#00ff8d"/><stop offset=".500" stop-color="#00ff43"/><stop offset=".665" stop-color="#00ff00"/><stop offset=".667" stop-color="#01ff00"/><stop offset=".833" stop-color="#40ff00"/><stop offset="1" stop-color="#7aff00"/></linearGradient><linearGradient id="g181"><stop offset=".000" stop-color="#00ceff"/><stop offset=".098" stop-color="#00ffff"/><stop offset=".167" stop-color="#00ffdd"/><stop offset=".333" stop-color="#00ff8d"/><stop offset=".500" stop-color="#00ff43"/><stop offset=".663" stop-color="#00ff00"/><stop offset=".667" stop-color="#01ff00"/><stop offset=".833" stop-color="#41ff00"/><stop offset="1" stop-color="#7bff00"/></linearGradient><linearGradient id="g182"><stop offset=".000" stop-color="#00cdff"/><stop offset=".099" stop-color="#00ffff"/><stop offset=".167" stop-color="#00ffdd"/><stop offset=".333" stop-color="#00ff8d"/><stop offset=".500" stop-color="#00ff43"/><stop offset=".662" stop-color="#00ff00"/><stop offset=".667" stop-color="#02ff00"/><stop offset=".833" stop-color="#41ff00"/><stop offset="1" stop-color="#7cff00"/></linearGradient><linearGradient id="g183"><stop offset=".000" stop-color="#00cdff"/><stop offset=".099" stop-color="#00ffff"/><stop offset=".167" stop-color="#00ffdd"/><stop offset=".333" stop-color="#00ff8d"/><stop offset=".500" stop-color="#00ff42"/><stop offset=".661" stop-color="#00ff00"/><stop offset=".667" stop-color="#02ff00"/><stop offset=".833" stop-color="#42ff00"/><stop offset="1" stop-color="#7cff00"/></linearGradient><linearGradient id="g184"><stop offset=".000" stop-color="#00cdff"/><stop offset=".099" stop-color="#00ffff"/><stop offset=".167" stop-color="#00ffdd"/><stop offset=".333" stop-color="#00ff8d"/><stop offset=".500" stop-color="#00ff42"/><stop offset=".660" stop-color="#00ff00"/><stop offset=".667" stop-color="#03ff00"/><stop offset=".833" stop-color="#43ff00"/><stop offset="1" stop-color="#7dff00"/></linearGradient><linearGradient id="g185"><stop offset=".000" stop-color="#00cdff"/><stop offset=".100" stop-color="#00ffff"/><stop offset=".167" stop-color="#00ffdd"/><stop offset=".333" stop-color="#00ff8d"/><stop offset=".500" stop-color="#00ff42"/><stop offset=".659" stop-color="#00ff00"/><stop offset=".667" stop-color="#03ff00"/><stop offset=".833" stop-color="#43ff00"/><stop offset="1" stop-color="#7eff00"/></linearGradient><linearGradient id="g186"><stop offset=".000" stop-color="#00ccff"/><stop offset=".100" stop-color="#00ffff"/><stop offset=".167" stop-color="#00ffdd"/><stop offset=".333" stop-color="#00ff8d"/><stop offset=".500" stop-color="#00ff42"/><stop offset=".658" stop-color="#00ff00"/><stop offset=".667" stop-color="#03ff00"/><stop offset=".833" stop-color="#44ff00"/><stop offset="1" stop-color="#7fff00"/></linearGradient><linearGradient id="g187"><stop offset=".000" stop-color="#00ccff"/><stop offset=".100" stop-color="#00ffff"/><stop offset=".167" stop-color="#00ffdd"/><stop offset=".333" stop-color="#00ff8d"/><stop offset=".500" stop-color="#00ff42"/><stop offset=".658" stop-color="#00ff00"/><stop offset=".667" stop-color="#04ff00"/><stop offset=".833" stop-color="#44ff00"/><stop offset="1" stop-color="#7fff00"/></linearGradient><linearGradient id="g188"><stop offset=".000" stop-color="#00ccff"/><stop offset=".101" stop-color="#00ffff"/><stop offset=".167" stop-color="#00ffdd"/><stop offset=".333" stop-color="#00ff8d"/><stop offset=".500" stop-color="#00ff42"/><stop offset=".657" stop-color="#00ff00"/><stop offset=".667" stop-color="#04ff00"/><stop offset=".833" stop-color="#45ff00"/><stop offset="1" stop-color="#80ff00"/></linearGradient><linearGradient id="g189"><stop offset=".000" stop-color="#00cbff"/><stop offset=".101" stop-color="#00ffff"/><stop offset=".167" stop-color="#00ffde"/><stop offset=".333" stop-color="#00ff8d"/><stop offset=".500" stop-color="#00ff41"/><stop offset=".656" stop-color="#00ff00"/><stop offset=".667" stop-color="#04ff00"/><stop offset=".833" stop-color="#45ff00"/><stop offset="1" stop-color="#81ff00"/></linearGradient><linearGradient id="g190"><stop offset=".000" stop-color="#00cbff"/><stop offset=".102" stop-color="#00ffff"/><stop offset=".167" stop-color="#00ffde"/><stop offset=".333" stop-color="#00ff8d"/><stop offset=".500" stop-color="#00ff41"/><stop offset=".656" stop-color="#00ff00"/><stop offset=".667" stop-color="#05ff00"/><stop offset=".833" stop-color="#46ff00"/><stop offset="1" stop-color="#81ff00"/></linearGradient><linearGradient id="g191"><stop offset=".000" stop-color="#00cbff"/><stop offset=".103" stop-color="#00ffff"/><stop offset=".167" stop-color="#00ffde"/><stop offset=".333" stop-color="#00ff8d"/><stop offset=".500" stop-color="#00ff41"/><stop offset=".655" stop-color="#00ff00"/><stop offset=".667" stop-color="#05ff00"/><stop offset=".833" stop-color="#46ff00"/><stop offset="1" stop-color="#82ff00"/></linearGradient><linearGradient id="g192"><stop offset=".000" stop-color="#00caff"/><stop offset=".103" stop-color="#00ffff"/><stop offset=".167" stop-color="#00ffde"/><stop offset=".333" stop-color="#00ff8d"/><stop offset=".500" stop-color="#00ff41"/><stop offset=".654" stop-color="#00ff00"/><stop offset=".667" stop-color="#05ff00"/><stop offset=".833" stop-color="#46ff00"/><stop offset="1" stop-color="#82ff00"/></linearGradient><linearGradient id="g193"><stop offset=".000" stop-color="#00caff"/><stop offset=".104" stop-color="#00ffff"/><stop offset=".167" stop-color="#00ffdf"/><stop offset=".333" stop-color="#00ff8d"/><stop offset=".500" stop-color="#00ff41"/><stop offset=".654" stop-color="#00ff00"/><stop offset=".667" stop-color="#05ff00"/><stop offset=".833" stop-color="#47ff00"/><stop offset="1" stop-color="#83ff00"/></linearGradient><linearGradient id="g194"><stop offset=".000" stop-color="#00c9ff"/><stop offset=".105" stop-color="#00ffff"/><stop offset=".167" stop-color="#00ffdf"/><stop offset=".333" stop-color="#00ff8d"/><stop offset=".500" stop-color="#00ff41"/><stop offset=".654" stop-color="#00ff00"/><stop offset=".667" stop-color="#06ff00"/><stop offset=".833" stop-color="#47ff00"/><stop offset="1" stop-color="#83ff00"/></linearGradient><linearGradient id="g195"><stop offset=".000" stop-color="#00c9ff"/><stop offset=".106" stop-color="#00ffff"/><stop offset=".167" stop-color="#00ffdf"/><stop offset=".333" stop-color="#00ff8e"/><stop offset=".500" stop-color="#00ff41"/><stop offset=".653" stop-color="#00ff00"/><stop offset=".667" stop-color="#06ff00"/><stop offset=".833" stop-color="#47ff00"/><stop offset="1" stop-color="#84ff00"/></linearGradient><linearGradient id="g196"><stop offset=".000" stop-color="#00c8ff"/><stop offset=".106" stop-color="#00ffff"/><stop offset=".167" stop-color="#00ffe0"/><stop offset=".333" stop-color="#00ff8e"/><stop offset=".500" stop-color="#00ff41"/><stop offset=".653" stop-color="#00ff00"/><stop offset=".667" stop-color="#06ff00"/><stop offset=".833" stop-color="#48ff00"/><stop offset="1" stop-color="#84ff00"/></linearGradient><linearGradient id="g197"><stop offset=".000" stop-color="#00c8ff"/><stop offset=".107" stop-color="#00ffff"/><stop offset=".167" stop-color="#00ffe0"/><stop offset=".333" stop-color="#00ff8e"/><stop offset=".500" stop-color="#00ff41"/><stop offset=".653" stop-color="#00ff00"/><stop offset=".667" stop-color="#06ff00"/><stop offset=".833" stop-color="#48ff00"/><stop offset="1" stop-color="#85ff00"/></linearGradient><linearGradient id="g198"><stop offset=".000" stop-color="#00c7ff"/><stop offset=".108" stop-color="#00ffff"/><stop offset=".167" stop-color="#00ffe1"/><stop offset=".333" stop-color="#00ff8e"/><stop offset=".500" stop-color="#00ff41"/><stop offset=".653" stop-color="#00ff00"/><stop offset=".667" stop-color="#06ff00"/><stop offset=".833" stop-color="#48ff00"/><stop offset="1" stop-color="#85ff00"/></linearGradient><linearGradient id="g199"><stop offset=".000" stop-color="#00c6ff"/><stop offset=".109" stop-color="#00ffff"/><stop offset=".167" stop-color="#00ffe1"/><stop offset=".333" stop-color="#00ff8f"/><stop offset=".500" stop-color="#00ff42"/><stop offset=".653" stop-color="#00ff00"/><stop offset=".667" stop-color="#06ff00"/><stop offset=".833" stop-color="#48ff00"/><stop offset="1" stop-color="#85ff00"/></linearGradient><linearGradient id="g200"><stop offset=".000" stop-color="#00c6ff"/><stop offset=".110" stop-color="#00ffff"/><stop offset=".167" stop-color="#00ffe1"/><stop offset=".333" stop-color="#00ff8f"/><stop offset=".500" stop-color="#00ff42"/><stop offset=".653" stop-color="#00ff00"/><stop offset=".667" stop-color="#06ff00"/><stop offset=".833" stop-color="#49ff00"/><stop offset="1" stop-color="#86ff00"/></linearGradient><linearGradient id="g201"><stop offset=".000" stop-color="#00c5ff"/><stop offset=".111" stop-color="#00ffff"/><stop offset=".167" stop-color="#00ffe2"/><stop offset=".333" stop-color="#00ff8f"/><stop offset=".500" stop-color="#00ff42"/><stop offset=".653" stop-color="#00ff00"/><stop offset=".667" stop-color="#06ff00"/><stop offset=".833" stop-color="#49ff00"/><stop offset="1" stop-color="#86ff00"/></linearGradient><linearGradient id="g202"><stop offset=".000" stop-color="#00c4ff"/><stop offset=".112" stop-color="#00ffff"/><stop offset=".167" stop-color="#00ffe2"/><stop offset=".333" stop-color="#00ff90"/><stop offset=".500" stop-color="#00ff42"/><stop offset=".653" stop-color="#00ff00"/><stop offset=".667" stop-color="#06ff00"/><stop offset=".833" stop-color="#49ff00"/><stop offset="1" stop-color="#86ff00"/></linearGradient><linearGradient id="g203"><stop offset=".000" stop-color="#00c4ff"/><stop offset=".113" stop-color="#00ffff"/><stop offset=".167" stop-color="#00ffe3"/><stop offset=".333" stop-color="#00ff90"/><stop offset=".500" stop-color="#00ff42"/><stop offset=".653" stop-color="#00ff00"/><stop offset=".667" stop-color="#06ff00"/><stop offset=".833" stop-color="#49ff00"/><stop offset="1" stop-color="#87ff00"/></linearGradient><linearGradient id="g204"><stop offset=".000" stop-color="#00c3ff"/><stop offset=".115" stop-color="#00ffff"/><stop offset=".167" stop-color="#00ffe4"/><stop offset=".333" stop-color="#00ff90"/><stop offset=".500" stop-color="#00ff43"/><stop offset=".653" stop-color="#00ff00"/><stop offset=".667" stop-color="#06ff00"/><stop offset=".833" stop-color="#49ff00"/><stop offset="1" stop-color="#87ff00"/></linearGradient><linearGradient id="g205"><stop offset=".000" stop-color="#00c2ff"/><stop offset=".116" stop-color="#00ffff"/><stop offset=".167" stop-color="#00ffe4"/><stop offset=".333" stop-color="#00ff91"/><stop offset=".500" stop-color="#00ff43"/><stop offset=".654" stop-color="#00ff00"/><stop offset=".667" stop-color="#06ff00"/><stop offset=".833" stop-color="#49ff00"/><stop offset="1" stop-color="#87ff00"/></linearGradient><linearGradient id="g206"><stop offset=".000" stop-color="#00c2ff"/><stop offset=".117" stop-color="#00ffff"/><stop offset=".167" stop-color="#00ffe5"/><stop offset=".333" stop-color="#00ff91"/><stop offset=".500" stop-color="#00ff43"/><stop offset=".654" stop-color="#00ff00"/><stop offset=".667" stop-color="#06ff00"/><stop offset=".833" stop-color="#49ff00"/><stop offset="1" stop-color="#87ff00"/></linearGradient><linearGradient id="g207"><stop offset=".000" stop-color="#00c1ff"/><stop offset=".118" stop-color="#00ffff"/><stop offset=".167" stop-color="#00ffe5"/><stop offset=".333" stop-color="#00ff92"/><stop offset=".500" stop-color="#00ff43"/><stop offset=".654" stop-color="#00ff00"/><stop offset=".667" stop-color="#05ff00"/><stop offset=".833" stop-color="#49ff00"/><stop offset="1" stop-color="#88ff00"/></linearGradient><linearGradient id="g208"><stop offset=".000" stop-color="#00c0ff"/><stop offset=".120" stop-color="#00ffff"/><stop offset=".167" stop-color="#00ffe6"/><stop offset=".333" stop-color="#00ff92"/><stop offset=".500" stop-color="#00ff44"/><stop offset=".655" stop-color="#00ff00"/><stop offset=".667" stop-color="#05ff00"/><stop offset=".833" stop-color="#49ff00"/><stop offset="1" stop-color="#88ff00"/></linearGradient><linearGradient id="g209"><stop offset=".000" stop-color="#00bfff"/><stop offset=".121" stop-color="#00ffff"/><stop offset=".167" stop-color="#00ffe7"/><stop offset=".333" stop-color="#00ff93"/><stop offset=".500" stop-color="#00ff44"/><stop offset=".655" stop-color="#00ff00"/><stop offset=".667" stop-color="#05ff00"/><stop offset=".833" stop-color="#49ff00"/><stop offset="1" stop-color="#88ff00"/></linearGradient><linearGradient id="g210"><stop offset=".000" stop-color="#00beff"/><stop offset=".123" stop-color="#00ffff"/><stop offset=".167" stop-color="#00ffe8"/><stop offset=".333" stop-color="#00ff93"/><stop offset=".500" stop-color="#00ff44"/><stop offset=".656" stop-color="#00ff00"/><stop offset=".667" stop-color="#05ff00"/><stop offset=".833" stop-color="#49ff00"/><stop offset="1" stop-color="#88ff00"/></linearGradient><linearGradient id="g211"><stop offset=".000" stop-color="#00bdff"/><stop offset=".124" stop-color="#00ffff"/><stop offset=".167" stop-color="#00ffe8"/><stop offset=".333" stop-color="#00ff94"/><stop offset=".500" stop-color="#00ff45"/><stop offset=".656" stop-color="#00ff00"/><stop offset=".667" stop-color="#05ff00"/><stop offset=".833" stop-color="#49ff00"/><stop offset="1" stop-color="#88ff00"/></linearGradient><linearGradient id="g212"><stop offset=".000" stop-color="#00bcff"/><stop offset=".126" stop-color="#00ffff"/><stop offset=".167" stop-color="#00ffe9"/><stop offset=".333" stop-color="#00ff95"/><stop offset=".500" stop-color="#00ff45"/><stop offset=".657" stop-color="#00ff00"/><stop offset=".667" stop-color="#04ff00"/><stop offset=".833" stop-color="#49ff00"/><stop offset="1" stop-color="#88ff00"/></linearGradient><linearGradient id="g213"><stop offset=".000" stop-color="#00bcff"/><stop offset=".127" stop-color="#00ffff"/><stop offset=".167" stop-color="#00ffea"/><stop offset=".333" stop-color="#00ff95"/><stop offset=".500" stop-color="#00ff46"/><stop offset=".658" stop-color="#00ff00"/><stop offset=".667" stop-color="#04ff00"/><stop offset=".833" stop-color="#49ff00"/><stop offset="1" stop-color="#88ff00"/></linearGradient><linearGradient id="g214"><stop offset=".000" stop-color="#00bbff"/><stop offset=".129" stop-color="#00ffff"/><stop offset=".167" stop-color="#00ffeb"/><stop offset=".333" stop-color="#00ff96"/><stop offset=".500" stop-color="#00ff46"/><stop offset=".659" stop-color="#00ff00"/><stop offset=".667" stop-color="#04ff00"/><stop offset=".833" stop-color="#49ff00"/><stop offset="1" stop-color="#88ff00"/></linearGradient><linearGradient id="g215"><stop offset=".000" stop-color="#00baff"/><stop offset=".130" stop-color="#00ffff"/><stop offset=".167" stop-color="#00ffec"/><stop offset=".333" stop-color="#00ff97"/><stop offset=".500" stop-color="#00ff47"/><stop offset=".659" stop-color="#00ff00"/><stop offset=".667" stop-color="#03ff00"/><stop offset=".833" stop-color="#48ff00"/><stop offset="1" stop-color="#88ff00"/></linearGradient><linearGradient id="g216"><stop offset=".000" stop-color="#00b9ff"/><stop offset=".132" stop-color="#00ffff"/><stop offset=".167" stop-color="#00ffec"/><stop offset=".333" stop-color="#00ff97"/><stop offset=".500" stop-color="#00ff47"/><stop offset=".660" stop-color="#00ff00"/><stop offset=".667" stop-color="#03ff00"/><stop offset=".833" stop-color="#48ff00"/><stop offset="1" stop-color="#88ff00"/></linearGradient><linearGradient id="g217"><stop offset=".000" stop-color="#00b8ff"/><stop offset=".134" stop-color="#00ffff"/><stop offset=".167" stop-color="#00ffed"/><stop offset=".333" stop-color="#00ff98"/><stop offset=".500" stop-color="#00ff48"/><stop offset=".661" stop-color="#00ff00"/><stop offset=".667" stop-color="#03ff00"/><stop offset=".833" stop-color="#48ff00"/><stop offset="1" stop-color="#88ff00"/></linearGradient><linearGradient id="g218"><stop offset=".000" stop-color="#00b7ff"/><stop offset=".136" stop-color="#00ffff"/><stop offset=".167" stop-color="#00ffee"/><stop offset=".333" stop-color="#00ff99"/><stop offset=".500" stop-color="#00ff48"/><stop offset=".662" stop-color="#00ff00"/><stop offset=".667" stop-color="#02ff00"/><stop offset=".833" stop-color="#48ff00"/><stop offset="1" stop-color="#88ff00"/></linearGradient><linearGradient id="g219"><stop offset=".000" stop-color="#00b6ff"/><stop offset=".137" stop-color="#00ffff"/><stop offset=".167" stop-color="#00ffef"/><stop offset=".333" stop-color="#00ff99"/><stop offset=".500" stop-color="#00ff49"/><stop offset=".663" stop-color="#00ff00"/><stop offset=".667" stop-color="#02ff00"/><stop offset=".833" stop-color="#47ff00"/><stop offset="1" stop-color="#88ff00"/></linearGradient><linearGradient id="g220"><stop offset=".000" stop-color="#00b4ff"/><stop offset=".139" stop-color="#00ffff"/><stop offset=".167" stop-color="#00fff0"/><stop offset=".333" stop-color="#00ff9a"/><stop offset=".500" stop-color="#00ff4a"/><stop offset=".664" stop-color="#00ff00"/><stop offset=".667" stop-color="#01ff00"/><stop offset=".833" stop-color="#47ff00"/><stop offset="1" stop-color="#88ff00"/></linearGradient><linearGradient id="g221"><stop offset=".000" stop-color="#00b3ff"/><stop offset=".141" stop-color="#00ffff"/><stop offset=".167" stop-color="#00fff1"/><stop offset=".333" stop-color="#00ff9b"/><stop offset=".500" stop-color="#00ff4a"/><stop offset=".665" stop-color="#00ff00"/><stop offset=".667" stop-color="#01ff00"/><stop offset=".833" stop-color="#47ff00"/><stop offset="1" stop-color="#88ff00"/></linearGradient><linearGradient id="g222"><stop offset=".000" stop-color="#00b2ff"/><stop offset=".143" stop-color="#00ffff"/><stop offset=".167" stop-color="#00fff2"/><stop offset=".333" stop-color="#00ff9c"/><stop offset=".500" stop-color="#00ff4b"/><stop offset=".667" stop-color="#00ff00"/><stop offset=".833" stop-color="#46ff00"/><stop offset="1" stop-color="#87ff00"/></linearGradient><linearGradient id="g223"><stop offset=".000" stop-color="#00b1ff"/><stop offset=".145" stop-color="#00ffff"/><stop offset=".167" stop-color="#00fff3"/><stop offset=".333" stop-color="#00ff9d"/><stop offset=".500" stop-color="#00ff4c"/><stop offset=".667" stop-color="#00ff00"/><stop offset=".668" stop-color="#00ff00"/><stop offset=".833" stop-color="#46ff00"/><stop offset="1" stop-color="#87ff00"/></linearGradient><linearGradient id="g224"><stop offset=".000" stop-color="#00b0ff"/><stop offset=".147" stop-color="#00ffff"/><stop offset=".167" stop-color="#00fff4"/><stop offset=".333" stop-color="#00ff9e"/><stop offset=".500" stop-color="#00ff4c"/><stop offset=".667" stop-color="#00ff01"/><stop offset=".669" stop-color="#00ff00"/><stop offset=".833" stop-color="#46ff00"/><stop offset="1" stop-color="#87ff00"/></linearGradient><linearGradient id="g225"><stop offset=".000" stop-color="#00afff"/><stop offset=".149" stop-color="#00ffff"/><stop offset=".167" stop-color="#00fff5"/><stop offset=".333" stop-color="#00ff9f"/><stop offset=".500" stop-color="#00ff4d"/><stop offset=".667" stop-color="#00ff02"/><stop offset=".670" stop-color="#00ff00"/><stop offset=".833" stop-color="#45ff00"/><stop offset="1" stop-color="#87ff00"/></linearGradient><linearGradient id="g226"><stop offset=".000" stop-color="#00adff"/><stop offset=".151" stop-color="#00ffff"/><stop offset=".167" stop-color="#00fff6"/><stop offset=".333" stop-color="#00ffa0"/><stop offset=".500" stop-color="#00ff4e"/><stop offset=".667" stop-color="#00ff02"/><stop offset=".672" stop-color="#00ff00"/><stop offset=".833" stop-color="#45ff00"/><stop offset="1" stop-color="#86ff00"/></linearGradient><linearGradient id="g227"><stop offset=".000" stop-color="#00acff"/><stop offset=".153" stop-color="#00ffff"/><stop offset=".167" stop-color="#00fff7"/><stop offset=".333" stop-color="#00ffa1"/><stop offset=".500" stop-color="#00ff4f"/><stop offset=".667" stop-color="#00ff03"/><stop offset=".673" stop-color="#00ff00"/><stop offset=".833" stop-color="#44ff00"/><stop offset="1" stop-color="#86ff00"/></linearGradient><linearGradient id="g228"><stop offset=".000" stop-color="#00abff"/><stop offset=".155" stop-color="#00ffff"/><stop offset=".167" stop-color="#00fff9"/><stop offset=".333" stop-color="#00ffa2"/><stop offset=".500" stop-color="#00ff50"/><stop offset=".667" stop-color="#00ff03"/><stop offset=".675" stop-color="#00ff00"/><stop offset=".833" stop-color="#44ff00"/><stop offset="1" stop-color="#86ff00"/></linearGradient><linearGradient id="g229"><stop offset=".000" stop-color="#00aaff"/><stop offset=".157" stop-color="#00ffff"/><stop offset=".167" stop-color="#00fffa"/><stop offset=".333" stop-color="#00ffa3"/><stop offset=".500" stop-color="#00ff50"/><stop offset=".667" stop-color="#00ff04"/><stop offset=".676" stop-color="#00ff00"/><stop offset=".833" stop-color="#43ff00"/><stop offset="1" stop-color="#85ff00"/></linearGradient><linearGradient id="g230"><stop offset=".000" stop-color="#00a8ff"/><stop offset=".160" stop-color="#00ffff"/><stop offset=".167" stop-color="#00fffb"/><stop offset=".333" stop-color="#00ffa4"/><stop offset=".500" stop-color="#00ff51"/><stop offset=".667" stop-color="#00ff05"/><stop offset=".678" stop-color="#00ff00"/><stop offset=".833" stop-color="#43ff00"/><stop offset="1" stop-color="#85ff00"/></linearGradient><linearGradient id="g231"><stop offset=".000" stop-color="#00a7ff"/><stop offset=".162" stop-color="#00ffff"/><stop offset=".167" stop-color="#00fffc"/><stop offset=".333" stop-color="#00ffa5"/><stop offset=".500" stop-color="#00ff52"/><stop offset=".667" stop-color="#00ff06"/><stop offset=".680" stop-color="#00ff00"/><stop offset=".833" stop-color="#42ff00"/><stop offset="1" stop-color="#85ff00"/></linearGradient><linearGradient id="g232"><stop offset=".000" stop-color="#00a6ff"/><stop offset=".164" stop-color="#00ffff"/><stop offset=".167" stop-color="#00fffd"/><stop offset=".333" stop-color="#00ffa6"/><stop offset=".500" stop-color="#00ff53"/><stop offset=".667" stop-color="#00ff06"/><stop offset=".681" stop-color="#00ff00"/><stop offset=".833" stop-color="#42ff00"/><stop offset="1" stop-color="#84ff00"/></linearGradient><linearGradient id="g233"><stop offset=".000" stop-color="#00a4ff"/><stop offset=".167" stop-color="#00ffff"/><stop offset=".333" stop-color="#00ffa7"/><stop offset=".500" stop-color="#00ff54"/><stop offset=".667" stop-color="#00ff07"/><stop offset=".683" stop-color="#00ff00"/><stop offset=".833" stop-color="#41ff00"/><stop offset="1" stop-color="#84ff00"/></linearGradient><linearGradient id="g234"><stop offset=".000" stop-color="#00a3ff"/><stop offset=".167" stop-color="#00feff"/><stop offset=".169" stop-color="#00ffff"/><stop offset=".333" stop-color="#00ffa8"/><stop offset=".500" stop-color="#00ff55"/><stop offset=".667" stop-color="#00ff08"/><stop offset=".685" stop-color="#00ff00"/><stop offset=".833" stop-color="#40ff00"/><stop offset="1" stop-color="#83ff00"/></linearGradient><linearGradient id="g235"><stop offset=".000" stop-color="#00a1ff"/><stop offset=".167" stop-color="#00fdff"/><stop offset=".171" stop-color="#00ffff"/><stop offset=".333" stop-color="#00ffa9"/><stop offset=".500" stop-color="#00ff56"/><stop offset=".667" stop-color="#00ff09"/><stop offset=".687" stop-color="#00ff00"/><stop offset=".833" stop-color="#40ff00"/><stop offset="1" stop-color="#83ff00"/></linearGradient><linearGradient id="g236"><stop offset=".000" stop-color="#00a0ff"/><stop offset=".167" stop-color="#00fbff"/><stop offset=".174" stop-color="#00ffff"/><stop offset=".333" stop-color="#00ffaa"/><stop offset=".500" stop-color="#00ff57"/><stop offset=".667" stop-color="#00ff0a"/><stop offset=".688" stop-color="#00ff00"/><stop offset=".833" stop-color="#3fff00"/><stop offset="1" stop-color="#82ff00"/></linearGradient><linearGradient id="g237"><stop offset=".000" stop-color="#009eff"/><stop offset=".167" stop-color="#00faff"/><stop offset=".176" stop-color="#00ffff"/><stop offset=".333" stop-color="#00ffac"/><stop offset=".500" stop-color="#00ff58"/><stop offset=".667" stop-color="#00ff0a"/><stop offset=".690" stop-color="#00ff00"/><stop offset=".833" stop-color="#3eff00"/><stop offset="1" stop-color="#82ff00"/></linearGradient><linearGradient id="g238"><stop offset=".000" stop-color="#009dff"/><stop offset=".167" stop-color="#00f9ff"/><stop offset=".178" stop-color="#00ffff"/><stop offset=".333" stop-color="#00ffac"/><stop offset=".500" stop-color="#00ff59"/><stop offset=".667" stop-color="#00ff0b"/><stop offset=".692" stop-color="#00ff00"/><stop offset=".833" stop-color="#3eff00"/><stop offset="1" stop-color="#81ff00"/></linearGradient></defs><g clip-path="url(#c0)" shape-rendering="crispEdges"><rect x="48.5" y="35" width="234.8" height="3" fill="url(#g1)"/><rect x="48.5" y="38" width="234.8" height="3" fill="url(#g2)"/><rect x="48.5" y="41" width="234.8" height="3" fill="url(#g3)"/><rect x="48.5" y="44" width="234.8" height="3" fill="url(#g4)"/><rect x="48.5" y="47" width="234.8" height="3" fill="url(#g5)"/><rect x="48.5" y="50" width="234.8" height="3" fill="url(#g6)"/><rect x="48.5" y="53" width="234.8" height="3" fill="url(#g7)"/><rect x="48.5" y="56" width="234.8" height="3" fill="url(#g8)"/><rect x="48.5" y="59" width="234.8" height="3" fill="url(#g9)"/><rect x="48.5" y="62" width="234.8" height="3" fill="url(#g10)"/><rect x="48.5" y="65" width="234.8" height="3" fill="url(#g11)"/><rect x="48.5" y="68" width="234.8" height="3" fill="url(#g12)"/><rect x="48.5" y="71" width="234.8" height="3" fill="url(#g13)"/><rect x="48.5" y="74" width="234.8" height="3" fill="url(#g14)"/><rect x="48.5" y="77" width="234.8" height="3" fill="url(#g15)"/><rect x="48.5" y="80" width="234.8" height="3" fill="url(#g16)"/><rect x="48.5" y="83" width="234.8" height="3" fill="url(#g17)"/><rect x="48.5" y="86" width="234.8" height="3" fill="url(#g18)"/><rect x="48.5" y="89" width="234.8" height="3" fill="url(#g19)"/><rect x="48.5" y="92" width="234.8" height="3" fill="url(#g20)"/><rect x="48.5" y="95" width="234.8" height="3" fill="url(#g21)"/><rect x="48.5" y="98" width="234.8" height="3" fill="url(#g22)"/><rect x="48.5" y="101" width="234.8" height="3" fill="url(#g23)"/><rect x="48.5" y="104" width="234.8" height="3" fill="url(#g24)"/><rect x="48.5" y="107" width="234.8" height="3" fill="url(#g25)"/><rect x="48.5" y="110" width="234.8" height="3" fill="url(#g26)"/><rect x="48.5" y="113" width="234.8" height="3" fill="url(#g27)"/><rect x="48.5" y="116" width="234.8" height="3" fill="url(#g28)"/><rect x="48.5" y="119" width="234.8" height="3" fill="url(#g29)"/><rect x="48.5" y="122" width="234.8" height="3" fill="url(#g30)"/><rect x="48.5" y="125" width="234.8" height="3" fill="url(#g31)"/><rect x="48.5" y="128" width="234.8" height="3" fill="url(#g32)"/><rect x="48.5" y="131" width="234.8" height="3" fill="url(#g33)"/><rect x="48.5" y="134" width="234.8" height="3" fill="url(#g34)"/><rect x="48.5" y="137" width="234.8" height="3" fill="url(#g35)"/><rect x="48.5" y="140" width="234.8" height="3" fill="url(#g36)"/><rect x="48.5" y="143" width="234.8" height="3" fill="url(#g37)"/><rect x="48.5" y="146" width="234.8" height="3" fill="url(#g38)"/><rect x="48.5" y="149" width="234.8" height="3" fill="url(#g39)"/><rect x="48.5" y="152" width="234.8" height="3" fill="url(#g40)"/><rect x="48.5" y="155" width="234.8" height="3" fill="url(#g41)"/><rect x="48.5" y="158" width="234.8" height="3" fill="url(#g42)"/><rect x="48.5" y="161" width="234.8" height="3" fill="url(#g43)"/><rect x="48.5" y="164" width="234.8" height="3" fill="url(#g44)"/><rect x="48.5" y="167" width="234.8" height="3" fill="url(#g45)"/><rect x="48.5" y="170" width="234.8" height="3" fill="url(#g46)"/><rect x="48.5" y="173" width="234.8" height="3" fill="url(#g47)"/><rect x="48.5" y="176" width="234.8" height="3" fill="url(#g48)"/><rect x="48.5" y="179" width="234.8" height="3" fill="url(#g49)"/><rect x="48.5" y="182" width="234.8" height="3" fill="url(#g50)"/><rect x="48.5" y="185" width="234.8" height="3" fill="url(#g51)"/><rect x="48.5" y="188" width="234.8" height="3" fill="url(#g52)"/><rect x="48.5" y="191" width="234.8" height="3" fill="url(#g53)"/><rect x="48.5" y="194" width="234.8" height="3" fill="url(#g54)"/><rect x="48.5" y="197" width="234.8" height="3" fill="url(#g55)"/><rect x="48.5" y="200" width="234.8" height="3" fill="url(#g56)"/><rect x="48.5" y="203" width="234.8" height="3" fill="url(#g57)"/><rect x="48.5" y="206" width="234.8" height="3" fill="url(#g58)"/><rect x="48.5" y="209" width="234.8" height="3" fill="url(#g59)"/><rect x="48.5" y="212" width="234.8" height="3" fill="url(#g60)"/><rect x="48.5" y="215" width="234.8" height="3" fill="url(#g61)"/><rect x="48.5" y="218" width="234.8" height="3" fill="url(#g62)"/><rect x="48.5" y="221" width="234.8" height="3" fill="url(#g63)"/><rect x="48.5" y="224" width="234.8" height="3" fill="url(#g64)"/><rect x="48.5" y="227" width="234.8" height="3" fill="url(#g65)"/><rect x="48.5" y="230" width="234.8" height="3" fill="url(#g66)"/><rect x="48.5" y="233" width="234.8" height="3" fill="url(#g67)"/><rect x="48.5" y="236" width="234.8" height="3" fill="url(#g68)"/><rect x="48.5" y="239" width="234.8" height="3" fill="url(#g69)"/><rect x="48.5" y="242" width="234.8" height="3" fill="url(#g70)"/><rect x="48.5" y="245" width="234.8" height="3" fill="url(#g71)"/><rect x="48.5" y="248" width="234.8" height="3" fill="url(#g72)"/><rect x="48.5" y="251" width="234.8" height="3" fill="url(#g73)"/><rect x="48.5" y="254" width="234.8" height="3" fill="url(#g74)"/><rect x="48.5" y="257" width="234.8" height="3" fill="url(#g75)"/><rect x="48.5" y="260" width="234.8" height="3" fill="url(#g76)"/><rect x="48.5" y="263" width="234.8" height="3" fill="url(#g77)"/><rect x="48.5" y="266" width="234.8" height="3" fill="url(#g78)"/></g><path d="M63.0 268.4 59.4 265.5 55.7 262.6 51.9 259.7 48.5 257.1" stroke="#000" stroke-opacity="0.2" stroke-width="0.6" fill="none"/><path d="M160.7 268.4 158.6 265.5 156.5 262.6 154.3 259.7 152.2 256.8 150.0 253.8 147.8 250.9 145.6 248.0 143.3 245.1 141.1 242.2 138.8 239.3 136.5 236.4 134.2 233.5 131.8 230.6 129.4 227.6 127.1 224.7 124.6 221.8 122.2 218.9 119.7 216.0 117.2 213.1 114.7 210.2 112.1 207.3 109.6 204.4 106.9 201.4 104.3 198.5 101.6 195.6 98.9 192.7 96.1 189.8 93.3 186.9 90.4 184.0 87.5 181.1 84.6 178.2 81.6 175.2 78.6 172.3 75.5 169.4 72.3 166.5 69.1 163.6 65.8 160.7 62.5 157.8 59.0 154.9 55.5 151.9 51.9 149.0 48.5 146.4" stroke="#000" stroke-opacity="0.2" stroke-width="0.6" fill="none"/><path d="M228.9 268.4 227.2 265.5 225.6 262.6 223.9 259.7 222.2 256.8 220.6 253.8 218.9 250.9 217.2 248.0 215.5 245.1 213.8 242.2 212.1 239.3 210.4 236.4 208.6 233.5 206.9 230.6 205.2 227.6 203.4 224.7 201.6 221.8 199.9 218.9 198.1 216.0 196.3 213.1 194.5 210.2 192.7 207.3 190.9 204.4 189.1 201.4 187.2 198.5 185.4 195.6 183.5 192.7 181.7 189.8 179.8 186.9 177.9 184.0 176.0 181.1 174.1 178.2 172.1 175.2 170.2 172.3 168.3 169.4 166.3 166.5 164.3 163.6 162.3 160.7 160.3 157.8 158.3 154.9 156.3 151.9 154.2 149.0 152.2 146.1 150.1 143.2 148.0 140.3 145.9 137.4 143.8 134.5 141.6 131.6 139.4 128.7 137.3 125.7 135.1 122.8 132.8 119.9 130.6 117.0 128.3 114.1 126.0 111.2 123.7 108.3 121.4 105.4 119.1 102.5 116.7 99.5 114.3 96.6 111.8 93.7 109.4 90.8 106.9 87.9 104.4 85.0 101.8 82.1 99.2 79.2 96.6 76.3 94.0 73.3 91.3 70.4 88.5 67.5 85.8 64.6 82.9 61.7 80.1 58.8 77.2 55.9 74.2 53.0 71.2 50.1 68.1 47.1 65.0 44.2 61.8 41.3 58.5 38.4 55.2 35.5" stroke="#000" stroke-opacity="0.2" stroke-width="0.6" fill="none"/><path d="M283.3 266.1 283.0 265.5 281.6 262.6 280.2 259.7 278.8 256.8 277.4 253.8 276.0 250.9 274.6 248.0 273.2 245.1 271.7 242.2 270.3 239.3 268.9 236.4 267.4 233.5 266.0 230.6 264.6 227.6 263.1 224.7 261.7 221.8 260.2 218.9 258.7 216.0 257.3 213.1 255.8 210.2 254.3 207.3 252.9 204.4 251.4 201.4 249.9 198.5 248.4 195.6 246.9 192.7 245.4 189.8 243.9 186.9 242.4 184.0 240.8 181.1 239.3 178.2 237.8 175.2 236.3 172.3 234.7 169.4 233.2 166.5 231.6 163.6 230.1 160.7 228.5 157.8 226.9 154.9 225.3 151.9 223.8 149.0 222.2 146.1 220.6 143.2 219.0 140.3 217.4 137.4 215.8 134.5 214.1 131.6 212.5 128.7 210.9 125.7 209.2 122.8 207.6 119.9 205.9 117.0 204.3 114.1 202.6 111.2 200.9 108.3 199.2 105.4 197.6 102.5 195.8 99.5 194.1 96.6 192.4 93.7 190.7 90.8 189.0 87.9 187.2 85.0 185.5 82.1 183.7 79.2 181.9 76.3 180.1 73.3 178.4 70.4 176.5 67.5 174.7 64.6 172.9 61.7 171.1 58.8 169.2 55.9 167.4 53.0 165.5 50.1 163.6 47.1 161.7 44.2 159.8 41.3 157.9 38.4 156.0 35.5" stroke="#000" stroke-opacity="0.2" stroke-width="0.6" fill="none"/><path d="M283.3 156.1 282.8 154.9 281.4 151.9 280.1 149.0 278.7 146.1 277.4 143.2 276.1 140.3 274.7 137.4 273.4 134.5 272.0 131.6 270.6 128.7 269.3 125.7 267.9 122.8 266.6 119.9 265.2 117.0 263.8 114.1 262.4 111.2 261.0 108.3 259.7 105.4 258.3 102.5 256.9 99.5 255.5 96.6 254.1 93.7 252.7 90.8 251.2 87.9 249.8 85.0 248.4 82.1 247.0 79.2 245.6 76.3 244.1 73.3 242.7 70.4 241.2 67.5 239.8 64.6 238.4 61.7 236.9 58.8 235.4 55.9 234.0 53.0 232.5 50.1 231.0 47.1 229.6 44.2 228.1 41.3 226.6 38.4 225.1 35.5" stroke="#000" stroke-opacity="0.2" stroke-width="0.6" fill="none"/><rect x="50.2" y="255.7" width="9.5" height="6.6" fill="#fff"/><text x="55.0" y="261.0" font-size="5.6" text-anchor="middle" fill="#333" font-family="Liberation Sans, sans-serif">60</text><rect x="105.7" y="202.5" width="9.5" height="6.6" fill="#fff"/><text x="110.4" y="207.8" font-size="5.6" text-anchor="middle" fill="#333" font-family="Liberation Sans, sans-serif">65</text><rect x="143.8" y="139.4" width="9.5" height="6.6" fill="#fff"/><text x="148.5" y="144.7" font-size="5.6" text-anchor="middle" fill="#333" font-family="Liberation Sans, sans-serif">70</text><rect x="215.8" y="139.9" width="9.5" height="6.6" fill="#fff"/><text x="220.5" y="145.2" font-size="5.6" text-anchor="middle" fill="#333" font-family="Liberation Sans, sans-serif">75</text><rect x="250.1" y="89.9" width="9.5" height="6.6" fill="#fff"/><text x="254.8" y="95.2" font-size="5.6" text-anchor="middle" fill="#333" font-family="Liberation Sans, sans-serif">80</text><line x1="48.5" y1="268.4" x2="48.5" y2="274.4" stroke="#ccc" stroke-width="0.7"/><line x1="42.5" y1="268.4" x2="48.5" y2="268.4" stroke="#ccc" stroke-width="0.7"/><text x="48.5" y="285.4" font-size="7.8" text-anchor="middle" fill="#404040" font-family="Liberation Sans, sans-serif">-1</text><text x="39.9" y="269.4" font-size="7.8" text-anchor="end" fill="#404040" font-family="Liberation Sans, sans-serif">-1</text><line x1="107.2" y1="268.4" x2="107.2" y2="274.4" stroke="#ccc" stroke-width="0.7"/><line x1="42.5" y1="210.2" x2="48.5" y2="210.2" stroke="#ccc" stroke-width="0.7"/><text x="107.2" y="285.4" font-size="7.8" text-anchor="middle" fill="#404040" font-family="Liberation Sans, sans-serif">-0.5</text><text x="39.9" y="211.2" font-size="7.8" text-anchor="end" fill="#404040" font-family="Liberation Sans, sans-serif">-0.5</text><line x1="165.9" y1="268.4" x2="165.9" y2="274.4" stroke="#ccc" stroke-width="0.7"/><line x1="42.5" y1="151.9" x2="48.5" y2="151.9" stroke="#ccc" stroke-width="0.7"/><text x="165.9" y="285.4" font-size="7.8" text-anchor="middle" fill="#404040" font-family="Liberation Sans, sans-serif">0</text><text x="39.9" y="152.9" font-size="7.8" text-anchor="end" fill="#404040" font-family="Liberation Sans, sans-serif">0</text><line x1="224.6" y1="268.4" x2="224.6" y2="274.4" stroke="#ccc" stroke-width="0.7"/><line x1="42.5" y1="93.7" x2="48.5" y2="93.7" stroke="#ccc" stroke-width="0.7"/><text x="224.6" y="285.4" font-size="7.8" text-anchor="middle" fill="#404040" font-family="Liberation Sans, sans-serif">0.5</text><text x="39.9" y="94.7" font-size="7.8" text-anchor="end" fill="#404040" font-family="Liberation Sans, sans-serif">0.5</text><line x1="283.3" y1="268.4" x2="283.3" y2="274.4" stroke="#ccc" stroke-width="0.7"/><line x1="42.5" y1="35.5" x2="48.5" y2="35.5" stroke="#ccc" stroke-width="0.7"/><text x="283.3" y="285.4" font-size="7.8" text-anchor="middle" fill="#404040" font-family="Liberation Sans, sans-serif">1</text><text x="39.9" y="36.5" font-size="7.8" text-anchor="end" fill="#404040" font-family="Liberation Sans, sans-serif">1</text><circle cx="48.5" cy="268.4" r="2.6" fill="#cc0000" stroke="#8a0000" stroke-width="0.6"/><circle cx="48.5" cy="35.5" r="2.6" fill="#cc0000" stroke="#8a0000" stroke-width="0.6"/><circle cx="283.3" cy="268.4" r="2.6" fill="#cc0000" stroke="#8a0000" stroke-width="0.6"/><circle cx="283.3" cy="35.5" r="2.6" fill="#cc0000" stroke="#8a0000" stroke-width="0.6"/><circle cx="165.9" cy="151.9" r="2.6" fill="#cc0000" stroke="#8a0000" stroke-width="0.6"/><text x="159.4" y="153.9" font-size="5.5" text-anchor="middle" fill="#1a5c1a" font-family="Liberation Sans, sans-serif">3</text><text x="81.3" y="20.5" font-size="15" fill="#1a1a1a" font-family="Liberation Serif, serif" textLength="169.0" lengthAdjust="spacingAndGlyphs">Entrapment Efficiency (%)</text><text x="121.1" y="306.7" font-size="14.5" fill="#1a1a1a" font-family="Liberation Serif, serif" textLength="73.1" lengthAdjust="spacingAndGlyphs">X<tspan font-size="9.0" dy="3">1</tspan><tspan dy="-3">: SPC (%)</tspan></text><text transform="translate(12.1 190.8) rotate(-90)" x="0" y="0" font-size="16.5" fill="#1a1a1a" font-family="Liberation Serif, serif" textLength="89.3" lengthAdjust="spacingAndGlyphs">X<tspan font-size="10.2" dy="3">2</tspan><tspan dy="-3">: CHOL (%)</tspan></text><g clip-path="url(#c79)" shape-rendering="crispEdges"><rect x="47" y="366" width="235.8" height="3" fill="url(#g80)"/><rect x="47" y="369" width="235.8" height="3" fill="url(#g81)"/><rect x="47" y="372" width="235.8" height="3" fill="url(#g82)"/><rect x="47" y="375" width="235.8" height="3" fill="url(#g83)"/><rect x="47" y="378" width="235.8" height="3" fill="url(#g84)"/><rect x="47" y="381" width="235.8" height="3" fill="url(#g85)"/><rect x="47" y="384" width="235.8" height="3" fill="url(#g86)"/><rect x="47" y="387" width="235.8" height="3" fill="url(#g87)"/><rect x="47" y="390" width="235.8" height="3" fill="url(#g88)"/><rect x="47" y="393" width="235.8" height="3" fill="url(#g89)"/><rect x="47" y="396" width="235.8" height="3" fill="url(#g90)"/><rect x="47" y="399" width="235.8" height="3" fill="url(#g91)"/><rect x="47" y="402" width="235.8" height="3" fill="url(#g92)"/><rect x="47" y="405" width="235.8" height="3" fill="url(#g93)"/><rect x="47" y="408" width="235.8" height="3" fill="url(#g94)"/><rect x="47" y="411" width="235.8" height="3" fill="url(#g95)"/><rect x="47" y="414" width="235.8" height="3" fill="url(#g96)"/><rect x="47" y="417" width="235.8" height="3" fill="url(#g97)"/><rect x="47" y="420" width="235.8" height="3" fill="url(#g98)"/><rect x="47" y="423" width="235.8" height="3" fill="url(#g99)"/><rect x="47" y="426" width="235.8" height="3" fill="url(#g100)"/><rect x="47" y="429" width="235.8" height="3" fill="url(#g101)"/><rect x="47" y="432" width="235.8" height="3" fill="url(#g102)"/><rect x="47" y="435" width="235.8" height="3" fill="url(#g103)"/><rect x="47" y="438" width="235.8" height="3" fill="url(#g104)"/><rect x="47" y="441" width="235.8" height="3" fill="url(#g105)"/><rect x="47" y="444" width="235.8" height="3" fill="url(#g106)"/><rect x="47" y="447" width="235.8" height="3" fill="url(#g107)"/><rect x="47" y="450" width="235.8" height="3" fill="url(#g108)"/><rect x="47" y="453" width="235.8" height="3" fill="url(#g109)"/><rect x="47" y="456" width="235.8" height="3" fill="url(#g110)"/><rect x="47" y="459" width="235.8" height="3" fill="url(#g111)"/><rect x="47" y="462" width="235.8" height="3" fill="url(#g112)"/><rect x="47" y="465" width="235.8" height="3" fill="url(#g113)"/><rect x="47" y="468" width="235.8" height="3" fill="url(#g114)"/><rect x="47" y="471" width="235.8" height="3" fill="url(#g115)"/><rect x="47" y="474" width="235.8" height="3" fill="url(#g116)"/><rect x="47" y="477" width="235.8" height="3" fill="url(#g117)"/><rect x="47" y="480" width="235.8" height="3" fill="url(#g118)"/><rect x="47" y="483" width="235.8" height="3" fill="url(#g119)"/><rect x="47" y="486" width="235.8" height="3" fill="url(#g120)"/><rect x="47" y="489" width="235.8" height="3" fill="url(#g121)"/><rect x="47" y="492" width="235.8" height="3" fill="url(#g122)"/><rect x="47" y="495" width="235.8" height="3" fill="url(#g123)"/><rect x="47" y="498" width="235.8" height="3" fill="url(#g124)"/><rect x="47" y="501" width="235.8" height="3" fill="url(#g125)"/><rect x="47" y="504" width="235.8" height="3" fill="url(#g126)"/><rect x="47" y="507" width="235.8" height="3" fill="url(#g127)"/><rect x="47" y="510" width="235.8" height="3" fill="url(#g128)"/><rect x="47" y="513" width="235.8" height="3" fill="url(#g129)"/><rect x="47" y="516" width="235.8" height="3" fill="url(#g130)"/><rect x="47" y="519" width="235.8" height="3" fill="url(#g131)"/><rect x="47" y="522" width="235.8" height="3" fill="url(#g132)"/><rect x="47" y="525" width="235.8" height="3" fill="url(#g133)"/><rect x="47" y="528" width="235.8" height="3" fill="url(#g134)"/><rect x="47" y="531" width="235.8" height="3" fill="url(#g135)"/><rect x="47" y="534" width="235.8" height="3" fill="url(#g136)"/><rect x="47" y="537" width="235.8" height="3" fill="url(#g137)"/><rect x="47" y="540" width="235.8" height="3" fill="url(#g138)"/><rect x="47" y="543" width="235.8" height="3" fill="url(#g139)"/><rect x="47" y="546" width="235.8" height="3" fill="url(#g140)"/><rect x="47" y="549" width="235.8" height="3" fill="url(#g141)"/><rect x="47" y="552" width="235.8" height="3" fill="url(#g142)"/><rect x="47" y="555" width="235.8" height="3" fill="url(#g143)"/><rect x="47" y="558" width="235.8" height="3" fill="url(#g144)"/><rect x="47" y="561" width="235.8" height="3" fill="url(#g145)"/><rect x="47" y="564" width="235.8" height="3" fill="url(#g146)"/><rect x="47" y="567" width="235.8" height="3" fill="url(#g147)"/><rect x="47" y="570" width="235.8" height="3" fill="url(#g148)"/><rect x="47" y="573" width="235.8" height="3" fill="url(#g149)"/><rect x="47" y="576" width="235.8" height="3" fill="url(#g150)"/><rect x="47" y="579" width="235.8" height="3" fill="url(#g151)"/><rect x="47" y="582" width="235.8" height="3" fill="url(#g152)"/><rect x="47" y="585" width="235.8" height="3" fill="url(#g153)"/><rect x="47" y="588" width="235.8" height="3" fill="url(#g154)"/><rect x="47" y="591" width="235.8" height="3" fill="url(#g155)"/><rect x="47" y="594" width="235.8" height="3" fill="url(#g156)"/><rect x="47" y="597" width="235.8" height="3" fill="url(#g157)"/><rect x="47" y="600" width="235.8" height="3" fill="url(#g158)"/></g><path d="M47.0 463.0 48.1 460.3 49.2 457.4 50.3 454.4 51.4 451.5 52.5 448.6 53.6 445.7 54.7 442.8 55.8 439.8 56.8 436.9 57.9 434.0 58.9 431.1 60.0 428.1 61.0 425.2 62.0 422.3 63.0 419.4 64.0 416.5 65.0 413.5 66.0 410.6 67.0 407.7 67.9 404.8 68.9 401.9 69.9 398.9 70.8 396.0 71.8 393.1 72.7 390.2 73.7 387.2 74.6 384.3 75.5 381.4 76.5 378.5 77.4 375.6 78.3 372.6 79.2 369.7 80.1 366.8" stroke="#000" stroke-opacity="0.2" stroke-width="0.6" fill="none"/><path d="M158.0 600.5 157.5 597.6 157.0 594.7 156.6 591.7 156.2 588.8 155.7 585.9 155.4 583.0 155.0 580.1 154.6 577.1 154.3 574.2 153.9 571.3 153.6 568.4 153.3 565.4 153.0 562.5 152.8 559.6 152.5 556.7 152.3 553.8 152.0 550.8 151.8 547.9 151.6 545.0 151.4 542.1 151.3 539.2 151.1 536.2 150.9 533.3 150.8 530.4 150.7 527.5 150.6 524.5 150.5 521.6 150.4 518.7 150.3 515.8 150.2 512.9 150.2 509.9 150.1 507.0 150.1 504.1 150.1 501.2 150.1 498.3 150.1 495.3 150.1 492.4 150.1 489.5 150.1 486.6 150.2 483.6 150.2 480.7 150.3 477.8 150.3 474.9 150.4 472.0 150.5 469.0 150.6 466.1 150.7 463.2 150.8 460.3 150.9 457.4 151.1 454.4 151.2 451.5 151.3 448.6 151.5 445.7 151.7 442.8 151.8 439.8 152.0 436.9 152.2 434.0 152.4 431.1 152.6 428.1 152.8 425.2 153.0 422.3 153.2 419.4 153.4 416.5 153.6 413.5 153.9 410.6 154.1 407.7 154.4 404.8 154.6 401.9 154.9 398.9 155.1 396.0 155.4 393.1 155.7 390.2 156.0 387.2 156.3 384.3 156.5 381.4 156.8 378.5 157.1 375.6 157.5 372.6 157.8 369.7 158.1 366.8" stroke="#000" stroke-opacity="0.2" stroke-width="0.6" fill="none"/><path d="M241.3 600.5 240.5 597.6 239.9 594.7 239.2 591.7 238.5 588.8 237.9 585.9 237.2 583.0 236.6 580.1 236.0 577.1 235.4 574.2 234.8 571.3 234.2 568.4 233.7 565.4 233.1 562.5 232.6 559.6 232.0 556.7 231.5 553.8 231.0 550.8 230.5 547.9 230.0 545.0 229.6 542.1 229.1 539.2 228.7 536.2 228.2 533.3 227.8 530.4 227.4 527.5 227.0 524.5 226.6 521.6 226.2 518.7 225.8 515.8 225.4 512.9 225.1 509.9 224.8 507.0 224.4 504.1 224.1 501.2 223.8 498.3 223.5 495.3 223.2 492.4 222.9 489.5 222.6 486.6 222.4 483.6 222.1 480.7 221.9 477.8 221.6 474.9 221.4 472.0 221.2 469.0 221.0 466.1 220.8 463.2 220.6 460.3 220.4 457.4 220.2 454.4 220.1 451.5 219.9 448.6 219.8 445.7 219.6 442.8 219.5 439.8 219.4 436.9 219.2 434.0 219.1 431.1 219.0 428.1 218.9 425.2 218.9 422.3 218.8 419.4 218.7 416.5 218.7 413.5 218.6 410.6 218.5 407.7 218.5 404.8 218.5 401.9 218.5 398.9 218.4 396.0 218.4 393.1 218.4 390.2 218.4 387.2 218.4 384.3 218.4 381.4 218.5 378.5 218.5 375.6 218.5 372.6 218.6 369.7 218.6 366.8" stroke="#000" stroke-opacity="0.2" stroke-width="0.6" fill="none"/><path d="M282.8 501.5 282.7 501.2 282.3 498.3 281.8 495.3 281.4 492.4 280.9 489.5 280.5 486.6 280.1 483.6 279.7 480.7 279.3 477.8 278.9 474.9 278.5 472.0 278.1 469.0 277.8 466.1 277.4 463.2 277.1 460.3 276.7 457.4 276.4 454.4 276.1 451.5 275.8 448.6 275.4 445.7 275.1 442.8 274.9 439.8 274.6 436.9 274.3 434.0 274.0 431.1 273.8 428.1 273.5 425.2 273.3 422.3 273.0 419.4 272.8 416.5 272.6 413.5 272.3 410.6 272.1 407.7 271.9 404.8 271.7 401.9 271.5 398.9 271.3 396.0 271.2 393.1 271.0 390.2 270.8 387.2 270.7 384.3 270.5 381.4 270.4 378.5 270.3 375.6 270.1 372.6 270.0 369.7 269.9 366.8" stroke="#000" stroke-opacity="0.2" stroke-width="0.6" fill="none"/><rect x="60.3" y="408.9" width="9.5" height="6.6" fill="#fff"/><text x="65.1" y="414.2" font-size="5.6" text-anchor="middle" fill="#333" font-family="Liberation Sans, sans-serif">65</text><rect x="146.2" y="477.2" width="9.5" height="6.6" fill="#fff"/><text x="150.9" y="482.5" font-size="5.6" text-anchor="middle" fill="#333" font-family="Liberation Sans, sans-serif">70</text><rect x="218.4" y="485.2" width="9.5" height="6.6" fill="#fff"/><text x="223.2" y="490.5" font-size="5.6" text-anchor="middle" fill="#333" font-family="Liberation Sans, sans-serif">75</text><rect x="268.8" y="426.7" width="9.5" height="6.6" fill="#fff"/><text x="273.5" y="432.0" font-size="5.6" text-anchor="middle" fill="#333" font-family="Liberation Sans, sans-serif">80</text><line x1="47.0" y1="600.5" x2="47.0" y2="606.5" stroke="#ccc" stroke-width="0.7"/><line x1="41.0" y1="600.5" x2="47.0" y2="600.5" stroke="#ccc" stroke-width="0.7"/><text x="47.0" y="617.5" font-size="7.8" text-anchor="middle" fill="#404040" font-family="Liberation Sans, sans-serif">-1</text><text x="38.4" y="601.5" font-size="7.8" text-anchor="end" fill="#404040" font-family="Liberation Sans, sans-serif">-1</text><line x1="106.0" y1="600.5" x2="106.0" y2="606.5" stroke="#ccc" stroke-width="0.7"/><line x1="41.0" y1="542.1" x2="47.0" y2="542.1" stroke="#ccc" stroke-width="0.7"/><text x="106.0" y="617.5" font-size="7.8" text-anchor="middle" fill="#404040" font-family="Liberation Sans, sans-serif">-0.5</text><text x="38.4" y="543.1" font-size="7.8" text-anchor="end" fill="#404040" font-family="Liberation Sans, sans-serif">-0.5</text><line x1="164.9" y1="600.5" x2="164.9" y2="606.5" stroke="#ccc" stroke-width="0.7"/><line x1="41.0" y1="483.6" x2="47.0" y2="483.6" stroke="#ccc" stroke-width="0.7"/><text x="164.9" y="617.5" font-size="7.8" text-anchor="middle" fill="#404040" font-family="Liberation Sans, sans-serif">0</text><text x="38.4" y="484.6" font-size="7.8" text-anchor="end" fill="#404040" font-family="Liberation Sans, sans-serif">0</text><line x1="223.9" y1="600.5" x2="223.9" y2="606.5" stroke="#ccc" stroke-width="0.7"/><line x1="41.0" y1="425.2" x2="47.0" y2="425.2" stroke="#ccc" stroke-width="0.7"/><text x="223.9" y="617.5" font-size="7.8" text-anchor="middle" fill="#404040" font-family="Liberation Sans, sans-serif">0.5</text><text x="38.4" y="426.2" font-size="7.8" text-anchor="end" fill="#404040" font-family="Liberation Sans, sans-serif">0.5</text><line x1="282.8" y1="600.5" x2="282.8" y2="606.5" stroke="#ccc" stroke-width="0.7"/><line x1="41.0" y1="366.8" x2="47.0" y2="366.8" stroke="#ccc" stroke-width="0.7"/><text x="282.8" y="617.5" font-size="7.8" text-anchor="middle" fill="#404040" font-family="Liberation Sans, sans-serif">1</text><text x="38.4" y="367.8" font-size="7.8" text-anchor="end" fill="#404040" font-family="Liberation Sans, sans-serif">1</text><circle cx="47.0" cy="600.5" r="2.6" fill="#cc0000" stroke="#8a0000" stroke-width="0.6"/><circle cx="47.0" cy="366.8" r="2.6" fill="#cc0000" stroke="#8a0000" stroke-width="0.6"/><circle cx="282.8" cy="600.5" r="2.6" fill="#cc0000" stroke="#8a0000" stroke-width="0.6"/><circle cx="282.8" cy="366.8" r="2.6" fill="#cc0000" stroke="#8a0000" stroke-width="0.6"/><circle cx="164.9" cy="483.6" r="2.6" fill="#cc0000" stroke="#8a0000" stroke-width="0.6"/><text x="158.4" y="485.6" font-size="5.5" text-anchor="middle" fill="#1a5c1a" font-family="Liberation Sans, sans-serif">3</text><text x="88.5" y="359.4" font-size="15" fill="#1a1a1a" font-family="Liberation Serif, serif" textLength="169.9" lengthAdjust="spacingAndGlyphs">Entrapment Efficiency (%)</text><text x="120.0" y="639.7" font-size="14.5" fill="#1a1a1a" font-family="Liberation Serif, serif" textLength="73.0" lengthAdjust="spacingAndGlyphs">X<tspan font-size="9.0" dy="3">1</tspan><tspan dy="-3">: SPC (%)</tspan></text><text transform="translate(19.2 520.6) rotate(-90)" x="0" y="0" font-size="15.5" fill="#1a1a1a" font-family="Liberation Serif, serif" textLength="83.8" lengthAdjust="spacingAndGlyphs">X<tspan font-size="9.6" dy="3">3</tspan><tspan dy="-3">: SDC (mg)</tspan></text><g clip-path="url(#c159)" shape-rendering="crispEdges"><rect x="47.3" y="724" width="235.5" height="3" fill="url(#g160)"/><rect x="47.3" y="727" width="235.5" height="3" fill="url(#g161)"/><rect x="47.3" y="730" width="235.5" height="3" fill="url(#g162)"/><rect x="47.3" y="733" width="235.5" height="3" fill="url(#g163)"/><rect x="47.3" y="736" width="235.5" height="3" fill="url(#g164)"/><rect x="47.3" y="739" width="235.5" height="3" fill="url(#g165)"/><rect x="47.3" y="742" width="235.5" height="3" fill="url(#g166)"/><rect x="47.3" y="745" width="235.5" height="3" fill="url(#g167)"/><rect x="47.3" y="748" width="235.5" height="3" fill="url(#g168)"/><rect x="47.3" y="751" width="235.5" height="3" fill="url(#g169)"/><rect x="47.3" y="754" width="235.5" height="3" fill="url(#g170)"/><rect x="47.3" y="757" width="235.5" height="3" fill="url(#g171)"/><rect x="47.3" y="760" width="235.5" height="3" fill="url(#g172)"/><rect x="47.3" y="763" width="235.5" height="3" fill="url(#g173)"/><rect x="47.3" y="766" width="235.5" height="3" fill="url(#g174)"/><rect x="47.3" y="769" width="235.5" height="3" fill="url(#g175)"/><rect x="47.3" y="772" width="235.5" height="3" fill="url(#g176)"/><rect x="47.3" y="775" width="235.5" height="3" fill="url(#g177)"/><rect x="47.3" y="778" width="235.5" height="3" fill="url(#g178)"/><rect x="47.3" y="781" width="235.5" height="3" fill="url(#g179)"/><rect x="47.3" y="784" width="235.5" height="3" fill="url(#g180)"/><rect x="47.3" y="787" width="235.5" height="3" fill="url(#g181)"/><rect x="47.3" y="790" width="235.5" height="3" fill="url(#g182)"/><rect x="47.3" y="793" width="235.5" height="3" fill="url(#g183)"/><rect x="47.3" y="796" width="235.5" height="3" fill="url(#g184)"/><rect x="47.3" y="799" width="235.5" height="3" fill="url(#g185)"/><rect x="47.3" y="802" width="235.5" height="3" fill="url(#g186)"/><rect x="47.3" y="805" width="235.5" height="3" fill="url(#g187)"/><rect x="47.3" y="808" width="235.5" height="3" fill="url(#g188)"/><rect x="47.3" y="811" width="235.5" height="3" fill="url(#g189)"/><rect x="47.3" y="814" width="235.5" height="3" fill="url(#g190)"/><rect x="47.3" y="817" width="235.5" height="3" fill="url(#g191)"/><rect x="47.3" y="820" width="235.5" height="3" fill="url(#g192)"/><rect x="47.3" y="823" width="235.5" height="3" fill="url(#g193)"/><rect x="47.3" y="826" width="235.5" height="3" fill="url(#g194)"/><rect x="47.3" y="829" width="235.5" height="3" fill="url(#g195)"/><rect x="47.3" y="832" width="235.5" height="3" fill="url(#g196)"/><rect x="47.3" y="835" width="235.5" height="3" fill="url(#g197)"/><rect x="47.3" y="838" width="235.5" height="3" fill="url(#g198)"/><rect x="47.3" y="841" width="235.5" height="3" fill="url(#g199)"/><rect x="47.3" y="844" width="235.5" height="3" fill="url(#g200)"/><rect x="47.3" y="847" width="235.5" height="3" fill="url(#g201)"/><rect x="47.3" y="850" width="235.5" height="3" fill="url(#g202)"/><rect x="47.3" y="853" width="235.5" height="3" fill="url(#g203)"/><rect x="47.3" y="856" width="235.5" height="3" fill="url(#g204)"/><rect x="47.3" y="859" width="235.5" height="3" fill="url(#g205)"/><rect x="47.3" y="862" width="235.5" height="3" fill="url(#g206)"/><rect x="47.3" y="865" width="235.5" height="3" fill="url(#g207)"/><rect x="47.3" y="868" width="235.5" height="3" fill="url(#g208)"/><rect x="47.3" y="871" width="235.5" height="3" fill="url(#g209)"/><rect x="47.3" y="874" width="235.5" height="3" fill="url(#g210)"/><rect x="47.3" y="877" width="235.5" height="3" fill="url(#g211)"/><rect x="47.3" y="880" width="235.5" height="3" fill="url(#g212)"/><rect x="47.3" y="883" width="235.5" height="3" fill="url(#g213)"/><rect x="47.3" y="886" width="235.5" height="3" fill="url(#g214)"/><rect x="47.3" y="889" width="235.5" height="3" fill="url(#g215)"/><rect x="47.3" y="892" width="235.5" height="3" fill="url(#g216)"/><rect x="47.3" y="895" width="235.5" height="3" fill="url(#g217)"/><rect x="47.3" y="898" width="235.5" height="3" fill="url(#g218)"/><rect x="47.3" y="901" width="235.5" height="3" fill="url(#g219)"/><rect x="47.3" y="904" width="235.5" height="3" fill="url(#g220)"/><rect x="47.3" y="907" width="235.5" height="3" fill="url(#g221)"/><rect x="47.3" y="910" width="235.5" height="3" fill="url(#g222)"/><rect x="47.3" y="913" width="235.5" height="3" fill="url(#g223)"/><rect x="47.3" y="916" width="235.5" height="3" fill="url(#g224)"/><rect x="47.3" y="919" width="235.5" height="3" fill="url(#g225)"/><rect x="47.3" y="922" width="235.5" height="3" fill="url(#g226)"/><rect x="47.3" y="925" width="235.5" height="3" fill="url(#g227)"/><rect x="47.3" y="928" width="235.5" height="3" fill="url(#g228)"/><rect x="47.3" y="931" width="235.5" height="3" fill="url(#g229)"/><rect x="47.3" y="934" width="235.5" height="3" fill="url(#g230)"/><rect x="47.3" y="937" width="235.5" height="3" fill="url(#g231)"/><rect x="47.3" y="940" width="235.5" height="3" fill="url(#g232)"/><rect x="47.3" y="943" width="235.5" height="3" fill="url(#g233)"/><rect x="47.3" y="946" width="235.5" height="3" fill="url(#g234)"/><rect x="47.3" y="949" width="235.5" height="3" fill="url(#g235)"/><rect x="47.3" y="952" width="235.5" height="3" fill="url(#g236)"/><rect x="47.3" y="955" width="235.5" height="3" fill="url(#g237)"/><rect x="47.3" y="958" width="235.5" height="3" fill="url(#g238)"/></g><path d="M82.0 958.7 81.4 955.8 80.8 952.9 80.3 949.9 79.7 947.0 79.2 944.1 78.6 941.2 78.1 938.2 77.6 935.3 77.1 932.4 76.5 929.5 76.0 926.5 75.6 923.6 75.1 920.7 74.6 917.8 74.1 914.8 73.7 911.9 73.2 909.0 72.8 906.1 72.4 903.1 71.9 900.2 71.5 897.3 71.1 894.4 70.7 891.5 70.3 888.5 70.0 885.6 69.6 882.7 69.2 879.8 68.9 876.8 68.5 873.9 68.2 871.0 67.9 868.1 67.6 865.1 67.2 862.2 67.0 859.3 66.7 856.4 66.4 853.4 66.1 850.5 65.9 847.6 65.6 844.7 65.4 841.8 65.1 838.8 64.9 835.9 64.7 833.0 64.5 830.1 64.3 827.1 64.1 824.2 63.9 821.3 63.8 818.4 63.6 815.4 63.5 812.5 63.3 809.6 63.2 806.7 63.1 803.7 63.0 800.8 62.9 797.9 62.8 795.0 62.7 792.0 62.7 789.1 62.6 786.2 62.6 783.3 62.5 780.4 62.5 777.4 62.5 774.5 62.5 771.6 62.5 768.7 62.5 765.7 62.6 762.8 62.6 759.9 62.7 757.0 62.7 754.0 62.8 751.1 62.9 748.2 63.0 745.3 63.1 742.3 63.2 739.4 63.3 736.5 63.5 733.6 63.6 730.6 63.8 727.7 64.0 724.8" stroke="#000" stroke-opacity="0.2" stroke-width="0.6" fill="none"/><path d="M119.1 958.7 118.6 955.8 118.0 952.9 117.5 949.9 117.0 947.0 116.5 944.1 116.0 941.2 115.5 938.2 115.0 935.3 114.5 932.4 114.0 929.5 113.6 926.5 113.1 923.6 112.7 920.7 112.2 917.8 111.8 914.8 111.4 911.9 111.0 909.0 110.6 906.1 110.2 903.1 109.8 900.2 109.5 897.3 109.1 894.4 108.7 891.5 108.4 888.5 108.1 885.6 107.8 882.7 107.4 879.8 107.1 876.8 106.8 873.9 106.6 871.0 106.3 868.1 106.0 865.1 105.8 862.2 105.5 859.3 105.3 856.4 105.1 853.4 104.9 850.5 104.7 847.6 104.5 844.7 104.3 841.8 104.1 838.8 104.0 835.9 103.8 833.0 103.7 830.1 103.5 827.1 103.4 824.2 103.3 821.3 103.2 818.4 103.1 815.4 103.0 812.5 103.0 809.6 102.9 806.7 102.9 803.7 102.8 800.8 102.8 797.9 102.8 795.0 102.8 792.0 102.8 789.1 102.8 786.2 102.9 783.3 102.9 780.4 103.0 777.4 103.0 774.5 103.1 771.6 103.2 768.7 103.3 765.7 103.4 762.8 103.6 759.9 103.7 757.0 103.8 754.0 104.0 751.1 104.2 748.2 104.4 745.3 104.6 742.3 104.8 739.4 105.0 736.5 105.3 733.6 105.5 730.6 105.8 727.7 106.0 724.8" stroke="#000" stroke-opacity="0.2" stroke-width="0.6" fill="none"/><path d="M158.7 958.7 158.2 955.8 157.7 952.9 157.2 949.9 156.7 947.0 156.2 944.1 155.8 941.2 155.3 938.2 154.9 935.3 154.4 932.4 154.0 929.5 153.6 926.5 153.2 923.6 152.8 920.7 152.4 917.8 152.0 914.8 151.7 911.9 151.3 909.0 151.0 906.1 150.6 903.1 150.3 900.2 150.0 897.3 149.7 894.4 149.4 891.5 149.1 888.5 148.9 885.6 148.6 882.7 148.3 879.8 148.1 876.8 147.9 873.9 147.7 871.0 147.4 868.1 147.2 865.1 147.1 862.2 146.9 859.3 146.7 856.4 146.6 853.4 146.4 850.5 146.3 847.6 146.2 844.7 146.1 841.8 146.0 838.8 145.9 835.9 145.8 833.0 145.7 830.1 145.7 827.1 145.6 824.2 145.6 821.3 145.6 818.4 145.6 815.4 145.6 812.5 145.6 809.6 145.7 806.7 145.7 803.7 145.7 800.8 145.8 797.9 145.9 795.0 146.0 792.0 146.1 789.1 146.2 786.2 146.3 783.3 146.5 780.4 146.6 777.4 146.8 774.5 147.0 771.6 147.2 768.7 147.4 765.7 147.6 762.8 147.9 759.9 148.1 757.0 148.4 754.0 148.7 751.1 149.0 748.2 149.3 745.3 149.6 742.3 149.9 739.4 150.3 736.5 150.6 733.6 151.0 730.6 151.4 727.7 151.8 724.8" stroke="#000" stroke-opacity="0.2" stroke-width="0.6" fill="none"/><path d="M201.3 958.7 200.8 955.8 200.4 952.9 199.9 949.9 199.5 947.0 199.1 944.1 198.7 941.2 198.3 938.2 197.9 935.3 197.5 932.4 197.1 929.5 196.8 926.5 196.4 923.6 196.1 920.7 195.8 917.8 195.5 914.8 195.2 911.9 194.9 909.0 194.6 906.1 194.3 903.1 194.1 900.2 193.8 897.3 193.6 894.4 193.4 891.5 193.2 888.5 193.0 885.6 192.8 882.7 192.6 879.8 192.4 876.8 192.3 873.9 192.1 871.0 192.0 868.1 191.9 865.1 191.8 862.2 191.7 859.3 191.6 856.4 191.6 853.4 191.5 850.5 191.5 847.6 191.4 844.7 191.4 841.8 191.4 838.8 191.4 835.9 191.5 833.0 191.5 830.1 191.5 827.1 191.6 824.2 191.7 821.3 191.8 818.4 191.9 815.4 192.0 812.5 192.1 809.6 192.3 806.7 192.4 803.7 192.6 800.8 192.8 797.9 193.0 795.0 193.2 792.0 193.4 789.1 193.7 786.2 193.9 783.3 194.2 780.4 194.5 777.4 194.8 774.5 195.1 771.6 195.4 768.7 195.8 765.7 196.2 762.8 196.5 759.9 196.9 757.0 197.4 754.0 197.8 751.1 198.2 748.2 198.7 745.3 199.2 742.3 199.7 739.4 200.2 736.5 200.7 733.6 201.3 730.6 201.9 727.7 202.5 724.8" stroke="#000" stroke-opacity="0.2" stroke-width="0.6" fill="none"/><path d="M247.7 958.7 247.3 955.8 246.9 952.9 246.5 949.9 246.2 947.0 245.8 944.1 245.5 941.2 245.2 938.2 244.8 935.3 244.5 932.4 244.2 929.5 244.0 926.5 243.7 923.6 243.4 920.7 243.2 917.8 243.0 914.8 242.8 911.9 242.5 909.0 242.4 906.1 242.2 903.1 242.0 900.2 241.9 897.3 241.7 894.4 241.6 891.5 241.5 888.5 241.4 885.6 241.3 882.7 241.2 879.8 241.1 876.8 241.1 873.9 241.1 871.0 241.0 868.1 241.0 865.1 241.0 862.2 241.1 859.3 241.1 856.4 241.2 853.4 241.2 850.5 241.3 847.6 241.4 844.7 241.5 841.8 241.6 838.8 241.8 835.9 241.9 833.0 242.1 830.1 242.3 827.1 242.5 824.2 242.7 821.3 242.9 818.4 243.2 815.4 243.4 812.5 243.7 809.6 244.0 806.7 244.3 803.7 244.7 800.8 245.0 797.9 245.4 795.0 245.8 792.0 246.2 789.1 246.6 786.2 247.0 783.3 247.5 780.4 248.0 777.4 248.5 774.5 249.0 771.6 249.5 768.7 250.0 765.7 250.6 762.8 251.2 759.9 251.8 757.0 252.4 754.0 253.1 751.1 253.8 748.2 254.5 745.3 255.2 742.3 255.9 739.4 256.7 736.5 257.4 733.6 258.3 730.6 259.1 727.7 259.9 724.8" stroke="#000" stroke-opacity="0.2" stroke-width="0.6" fill="none"/><rect x="61.0" y="840.8" width="9.5" height="6.6" fill="#fff"/><text x="65.8" y="846.1" font-size="5.6" text-anchor="middle" fill="#333" font-family="Liberation Sans, sans-serif">66</text><rect x="99.8" y="837.2" width="9.5" height="6.6" fill="#fff"/><text x="104.5" y="842.5" font-size="5.6" text-anchor="middle" fill="#333" font-family="Liberation Sans, sans-serif">68</text><rect x="141.3" y="837.2" width="9.5" height="6.6" fill="#fff"/><text x="146.1" y="842.5" font-size="5.6" text-anchor="middle" fill="#333" font-family="Liberation Sans, sans-serif">70</text><rect x="186.2" y="831.7" width="9.5" height="6.6" fill="#fff"/><text x="191.0" y="837.0" font-size="5.6" text-anchor="middle" fill="#333" font-family="Liberation Sans, sans-serif">72</text><rect x="236.7" y="831.7" width="9.5" height="6.6" fill="#fff"/><text x="241.4" y="837.0" font-size="5.6" text-anchor="middle" fill="#333" font-family="Liberation Sans, sans-serif">74</text><line x1="47.3" y1="958.7" x2="47.3" y2="964.7" stroke="#ccc" stroke-width="0.7"/><line x1="41.3" y1="958.7" x2="47.3" y2="958.7" stroke="#ccc" stroke-width="0.7"/><text x="47.3" y="975.7" font-size="7.8" text-anchor="middle" fill="#404040" font-family="Liberation Sans, sans-serif">-1</text><text x="38.7" y="959.7" font-size="7.8" text-anchor="end" fill="#404040" font-family="Liberation Sans, sans-serif">-1</text><line x1="106.2" y1="958.7" x2="106.2" y2="964.7" stroke="#ccc" stroke-width="0.7"/><line x1="41.3" y1="900.2" x2="47.3" y2="900.2" stroke="#ccc" stroke-width="0.7"/><text x="106.2" y="975.7" font-size="7.8" text-anchor="middle" fill="#404040" font-family="Liberation Sans, sans-serif">-0.5</text><text x="38.7" y="901.2" font-size="7.8" text-anchor="end" fill="#404040" font-family="Liberation Sans, sans-serif">-0.5</text><line x1="165.1" y1="958.7" x2="165.1" y2="964.7" stroke="#ccc" stroke-width="0.7"/><line x1="41.3" y1="841.8" x2="47.3" y2="841.8" stroke="#ccc" stroke-width="0.7"/><text x="165.1" y="975.7" font-size="7.8" text-anchor="middle" fill="#404040" font-family="Liberation Sans, sans-serif">0</text><text x="38.7" y="842.8" font-size="7.8" text-anchor="end" fill="#404040" font-family="Liberation Sans, sans-serif">0</text><line x1="223.9" y1="958.7" x2="223.9" y2="964.7" stroke="#ccc" stroke-width="0.7"/><line x1="41.3" y1="783.3" x2="47.3" y2="783.3" stroke="#ccc" stroke-width="0.7"/><text x="223.9" y="975.7" font-size="7.8" text-anchor="middle" fill="#404040" font-family="Liberation Sans, sans-serif">0.5</text><text x="38.7" y="784.3" font-size="7.8" text-anchor="end" fill="#404040" font-family="Liberation Sans, sans-serif">0.5</text><line x1="282.8" y1="958.7" x2="282.8" y2="964.7" stroke="#ccc" stroke-width="0.7"/><line x1="41.3" y1="724.8" x2="47.3" y2="724.8" stroke="#ccc" stroke-width="0.7"/><text x="282.8" y="975.7" font-size="7.8" text-anchor="middle" fill="#404040" font-family="Liberation Sans, sans-serif">1</text><text x="38.7" y="725.8" font-size="7.8" text-anchor="end" fill="#404040" font-family="Liberation Sans, sans-serif">1</text><circle cx="47.3" cy="958.7" r="2.6" fill="#cc0000" stroke="#8a0000" stroke-width="0.6"/><circle cx="47.3" cy="724.8" r="2.6" fill="#cc0000" stroke="#8a0000" stroke-width="0.6"/><circle cx="282.8" cy="958.7" r="2.6" fill="#cc0000" stroke="#8a0000" stroke-width="0.6"/><circle cx="282.8" cy="724.8" r="2.6" fill="#cc0000" stroke="#8a0000" stroke-width="0.6"/><circle cx="165.1" cy="841.8" r="2.6" fill="#cc0000" stroke="#8a0000" stroke-width="0.6"/><text x="158.6" y="843.8" font-size="5.5" text-anchor="middle" fill="#1a5c1a" font-family="Liberation Sans, sans-serif">3</text><text x="88.5" y="714.4" font-size="15" fill="#1a1a1a" font-family="Liberation Serif, serif" textLength="169.9" lengthAdjust="spacingAndGlyphs">Entrapment Efficiency (%)</text><text x="120.0" y="994.1" font-size="14.5" fill="#1a1a1a" font-family="Liberation Serif, serif" textLength="89.4" lengthAdjust="spacingAndGlyphs">X<tspan font-size="9.0" dy="3">2</tspan><tspan dy="-3">: CHOL (%)</tspan></text><text transform="translate(19.2 875.8) rotate(-90)" x="0" y="0" font-size="15.5" fill="#1a1a1a" font-family="Liberation Serif, serif" textLength="83.8" lengthAdjust="spacingAndGlyphs">X<tspan font-size="9.6" dy="3">3</tspan><tspan dy="-3">: SDC (mg)</tspan></text><polyline points="415.1,180.6 534.7,140.6 654.1,180.7" stroke="#d4d4d4" stroke-width="0.8" fill="none"/><polyline points="414.1,160.2 534.7,122.3 655.1,160.4" stroke="#d4d4d4" stroke-width="0.8" fill="none"/><polyline points="413.1,139.8 534.7,103.9 656.1,140.0" stroke="#d4d4d4" stroke-width="0.8" fill="none"/><polyline points="412.1,119.3 534.7,85.6 657.1,119.6" stroke="#d4d4d4" stroke-width="0.8" fill="none"/><polyline points="411.1,98.9 534.7,67.2 658.1,99.2" stroke="#d4d4d4" stroke-width="0.8" fill="none"/><polyline points="410.1,78.5 534.7,48.9 659.1,78.8" stroke="#d4d4d4" stroke-width="0.8" fill="none"/><polyline points="409.1,58.0 534.7,30.5 660.1,58.5" stroke="#d4d4d4" stroke-width="0.8" fill="none"/><polyline points="445.0,170.6 440.5,51.1" stroke="#d4d4d4" stroke-width="0.8" fill="none"/><polyline points="564.6,150.7 566.1,37.5" stroke="#d4d4d4" stroke-width="0.8" fill="none"/><polyline points="474.9,160.6 471.9,44.3" stroke="#d4d4d4" stroke-width="0.8" fill="none"/><polyline points="594.4,160.7 597.4,44.5" stroke="#d4d4d4" stroke-width="0.8" fill="none"/><polyline points="504.8,150.6 503.3,37.4" stroke="#d4d4d4" stroke-width="0.8" fill="none"/><polyline points="624.3,170.7 628.8,51.5" stroke="#d4d4d4" stroke-width="0.8" fill="none"/><polyline points="534.7,140.6 534.7,30.5" stroke="#d4d4d4" stroke-width="0.8" fill="none"/><polyline points="417.0,218.9 409.1,58.0" stroke="#d4d4d4" stroke-width="0.8" fill="none"/><polyline points="652.2,218.9 660.1,58.5" stroke="#d4d4d4" stroke-width="0.8" fill="none"/><polygon points="417.0,218.9 534.8,274.7 652.2,218.9 534.7,175.3" fill="#676767"/><path d="M542.9 270.8 535.5 271.2 528.3 271.6" stroke="#3838ab" stroke-width="0.8" fill="none"/><path d="M594.8 246.2 589.3 245.8 583.8 245.5 578.3 245.1 572.8 244.8 567.2 244.5 561.6 244.2 555.9 243.9 550.3 243.7 544.5 243.4 538.7 243.2 532.9 243.1 527.0 242.9 521.0 242.8 514.9 242.8 508.7 242.7 502.5 242.7 496.1 242.8 489.6 242.9 482.9 243.1 476.0 243.4 469.3 243.7" stroke="#3891ab" stroke-width="0.8" fill="none"/><path d="M627.6 230.6 622.8 230.0 618.0 229.5 613.1 228.9 608.3 228.4 603.4 227.9 598.6 227.3 593.7 226.8 588.9 226.3 584.0 225.8 579.2 225.3 574.3 224.8 569.4 224.4 564.5 223.9 559.6 223.4 554.7 223.0 549.8 222.6 544.8 222.1 539.9 221.7 534.9 221.3 529.9 220.9 524.9 220.6 519.8 220.2 514.8 219.9 509.7 219.6 504.6 219.2 499.4 218.9 494.2 218.7 489.0 218.4 483.7 218.2 478.3 218.0 473.0 217.8 467.5 217.6 462.0 217.5 456.4 217.4 450.7 217.3 445.0 217.2 439.1 217.2 433.1 217.3 427.0 217.4 420.7 217.5" stroke="#38ab66" stroke-width="0.8" fill="none"/><path d="M650.9 218.4 648.2 218.1 643.7 217.4 639.2 216.8 634.7 216.2 630.2 215.6 625.8 214.9 621.3 214.3 616.8 213.7 612.4 213.1 607.9 212.5 603.5 211.9 599.0 211.4 594.6 210.8 590.2 210.2 585.7 209.7 581.3 209.1 576.9 208.5 572.5 208.0 568.0 207.4 563.6 206.9 559.2 206.4 554.8 205.9 550.3 205.3 545.9 204.8 541.5 204.3 537.1 203.8 532.6 203.3 528.2 202.9 523.7 202.4 519.3 201.9 514.8 201.4 510.4 201.0 505.9 200.5 501.4 200.1 496.9 199.7 492.4 199.3 487.9 198.9 483.4 198.5 478.8 198.1 474.3 197.7" stroke="#6bab38" stroke-width="0.8" fill="none"/><path d="M592.2 196.6 589.3 196.2 585.2 195.6 581.1 195.0 577.0 194.5 572.9 193.9 568.8 193.3 564.7 192.7 560.6 192.2 556.6 191.6 552.5 191.0 548.4 190.5 544.4 189.9 540.3 189.4 536.3 188.8 532.2 188.3 528.2 187.8 524.1 187.2 520.1 186.7 516.1 186.2 512.0 185.7 508.0 185.2" stroke="#ab8b38" stroke-width="0.8" fill="none"/><g fill="currentColor" stroke="currentColor" stroke-width="0.5"><polygon color="#ff0000" points="534.7,37.0 539.4,32.3 534.7,29.7 530.1,34.3"/><polygon color="#ff1e00" points="530.1,41.6 534.7,37.0 530.1,34.3 525.4,38.9"/><polygon color="#ff0800" points="539.4,39.6 544.1,34.9 539.4,32.3 534.7,37.0"/><polygon color="#ff4400" points="525.4,46.1 530.1,41.6 525.4,38.9 520.7,43.4"/><polygon color="#ff2f00" points="534.7,44.3 539.4,39.6 534.7,37.0 530.1,41.6"/><polygon color="#ff1900" points="544.2,42.3 548.8,37.6 544.1,34.9 539.4,39.6"/><polygon color="#ff6900" points="520.6,50.5 525.4,46.1 520.7,43.4 516.0,47.8"/><polygon color="#ff5500" points="530.0,48.8 534.7,44.3 530.1,41.6 525.4,46.1"/><polygon color="#ff4000" points="539.5,47.0 544.2,42.3 539.4,39.6 534.7,44.3"/><polygon color="#ff2b00" points="548.9,45.1 553.6,40.3 548.8,37.6 544.2,42.3"/><polygon color="#ff8d00" points="515.8,54.9 520.6,50.5 516.0,47.8 511.2,52.2"/><polygon color="#ff7a00" points="525.3,53.3 530.0,48.8 525.4,46.1 520.6,50.5"/><polygon color="#ff6700" points="534.7,51.6 539.5,47.0 534.7,44.3 530.0,48.8"/><polygon color="#ff5200" points="544.2,49.7 548.9,45.1 544.2,42.3 539.5,47.0"/><polygon color="#ff3c00" points="553.7,47.8 558.4,43.0 553.6,40.3 548.9,45.1"/><polygon color="#ffb000" points="511.0,59.2 515.8,54.9 511.2,52.2 506.4,56.5"/><polygon color="#ff9e00" points="520.5,57.7 525.3,53.3 520.6,50.5 515.8,54.9"/><polygon color="#ff8c00" points="530.0,56.1 534.7,51.6 530.0,48.8 525.3,53.3"/><polygon color="#ff7800" points="539.5,54.3 544.2,49.7 539.5,47.0 534.7,51.6"/><polygon color="#ff6400" points="549.0,52.5 553.7,47.8 548.9,45.1 544.2,49.7"/><polygon color="#ff4e00" points="558.6,50.6 563.2,45.8 558.4,43.0 553.7,47.8"/><polygon color="#ffd200" points="506.1,63.5 511.0,59.2 506.4,56.5 501.5,60.7"/><polygon color="#ffc100" points="515.7,62.1 520.5,57.7 515.8,54.9 511.0,59.2"/><polygon color="#ffb000" points="525.2,60.5 530.0,56.1 525.3,53.3 520.5,57.7"/><polygon color="#ff9d00" points="534.8,58.9 539.5,54.3 534.7,51.6 530.0,56.1"/><polygon color="#ff8a00" points="544.3,57.2 549.0,52.5 544.2,49.7 539.5,54.3"/><polygon color="#ff7500" points="553.9,55.3 558.6,50.6 553.7,47.8 549.0,52.5"/><polygon color="#ff6000" points="563.5,53.4 568.1,48.6 563.2,45.8 558.6,50.6"/><polygon color="#fff300" points="501.2,67.7 506.1,63.5 501.5,60.7 496.6,64.8"/><polygon color="#ffe300" points="510.8,66.3 515.7,62.1 511.0,59.2 506.1,63.5"/><polygon color="#ffd300" points="520.4,64.9 525.2,60.5 520.5,57.7 515.7,62.1"/><polygon color="#ffc100" points="530.0,63.4 534.8,58.9 530.0,56.1 525.2,60.5"/><polygon color="#ffaf00" points="539.5,61.7 544.3,57.2 539.5,54.3 534.8,58.9"/><polygon color="#ff9c00" points="549.1,60.0 553.9,55.3 549.0,52.5 544.3,57.2"/><polygon color="#ff8700" points="558.8,58.2 563.5,53.4 558.6,50.6 553.9,55.3"/><polygon color="#ebff00" points="496.3,71.8 501.2,67.7 496.6,64.8 491.7,68.9"/><polygon color="#ff7200" points="568.4,56.3 573.1,51.4 568.1,48.6 563.5,53.4"/><polygon color="#faff00" points="505.9,70.5 510.8,66.3 506.1,63.5 501.2,67.7"/><polygon color="#fff500" points="515.5,69.2 520.4,64.9 515.7,62.1 510.8,66.3"/><polygon color="#ffe400" points="525.1,67.8 530.0,63.4 525.2,60.5 520.4,64.9"/><polygon color="#ffd300" points="534.8,66.2 539.5,61.7 534.8,58.9 530.0,63.4"/><polygon color="#ffc100" points="544.4,64.6 549.1,60.0 544.3,57.2 539.5,61.7"/><polygon color="#ffad00" points="554.0,62.9 558.8,58.2 553.9,55.3 549.1,60.0"/><polygon color="#ff9900" points="563.7,61.1 568.4,56.3 563.5,53.4 558.8,58.2"/><polygon color="#ccff00" points="491.3,75.8 496.3,71.8 491.7,68.9 486.7,73.0"/><polygon color="#daff00" points="501.0,74.7 505.9,70.5 501.2,67.7 496.3,71.8"/><polygon color="#ff8400" points="573.4,59.1 578.0,54.2 573.1,51.4 568.4,56.3"/><polygon color="#e8ff00" points="510.6,73.4 515.5,69.2 510.8,66.3 505.9,70.5"/><polygon color="#f8ff00" points="520.3,72.1 525.1,67.8 520.4,64.9 515.5,69.2"/><polygon color="#fff600" points="529.9,70.7 534.8,66.2 530.0,63.4 525.1,67.8"/><polygon color="#ffe500" points="539.6,69.1 544.4,64.6 539.5,61.7 534.8,66.2"/><polygon color="#ffd300" points="549.3,67.5 554.0,62.9 549.1,60.0 544.4,64.6"/><polygon color="#ffbf00" points="559.0,65.8 563.7,61.1 558.8,58.2 554.0,62.9"/><polygon color="#aeff00" points="486.3,79.8 491.3,75.8 486.7,73.0 481.7,76.9"/><polygon color="#ffab00" points="568.7,64.0 573.4,59.1 568.4,56.3 563.7,61.1"/><polygon color="#baff00" points="496.0,78.8 501.0,74.7 496.3,71.8 491.3,75.8"/><polygon color="#c8ff00" points="505.7,77.6 510.6,73.4 505.9,70.5 501.0,74.7"/><polygon color="#ff9600" points="578.4,62.0 583.0,57.1 578.0,54.2 573.4,59.1"/><polygon color="#d6ff00" points="515.4,76.4 520.3,72.1 515.5,69.2 510.6,73.4"/><polygon color="#e6ff00" points="525.0,75.0 529.9,70.7 525.1,67.8 520.3,72.1"/><polygon color="#f6ff00" points="534.8,73.6 539.6,69.1 534.8,66.2 529.9,70.7"/><polygon color="#fff700" points="544.5,72.1 549.3,67.5 544.4,64.6 539.6,69.1"/><polygon color="#ffe400" points="554.2,70.4 559.0,65.8 554.0,62.9 549.3,67.5"/><polygon color="#ffd100" points="563.9,68.7 568.7,64.0 563.7,61.1 559.0,65.8"/><polygon color="#91ff00" points="481.3,83.7 486.3,79.8 481.7,76.9 476.6,80.8"/><polygon color="#9cff00" points="491.0,82.8 496.0,78.8 491.3,75.8 486.3,79.8"/><polygon color="#ffbd00" points="573.7,66.9 578.4,62.0 573.4,59.1 568.7,64.0"/><polygon color="#a9ff00" points="500.7,81.7 505.7,77.6 501.0,74.7 496.0,78.8"/><polygon color="#b6ff00" points="510.4,80.6 515.4,76.4 510.6,73.4 505.7,77.6"/><polygon color="#ffa800" points="583.4,65.0 588.1,60.0 583.0,57.1 578.4,62.0"/><polygon color="#c4ff00" points="520.1,79.3 525.0,75.0 520.3,72.1 515.4,76.4"/><polygon color="#d4ff00" points="529.9,78.0 534.8,73.6 529.9,70.7 525.0,75.0"/><polygon color="#e4ff00" points="539.6,76.6 544.5,72.1 539.6,69.1 534.8,73.6"/><polygon color="#f5ff00" points="549.4,75.0 554.2,70.4 549.3,67.5 544.5,72.1"/><polygon color="#fff600" points="559.2,73.4 563.9,68.7 559.0,65.8 554.2,70.4"/><polygon color="#ffe300" points="568.9,71.7 573.7,66.9 568.7,64.0 563.9,68.7"/><polygon color="#75ff00" points="476.1,87.6 481.3,83.7 476.6,80.8 471.5,84.6"/><polygon color="#80ff00" points="485.9,86.7 491.0,82.8 486.3,79.8 481.3,83.7"/><polygon color="#8bff00" points="495.7,85.8 500.7,81.7 496.0,78.8 491.0,82.8"/><polygon color="#ffcf00" points="578.7,69.9 583.4,65.0 578.4,62.0 573.7,66.9"/><polygon color="#97ff00" points="505.4,84.7 510.4,80.6 505.7,77.6 500.7,81.7"/><polygon color="#a4ff00" points="515.2,83.6 520.1,79.3 515.4,76.4 510.4,80.6"/><polygon color="#ffba00" points="588.5,68.0 593.2,63.0 588.1,60.0 583.4,65.0"/><polygon color="#b2ff00" points="525.0,82.3 529.9,78.0 525.0,75.0 520.1,79.3"/><polygon color="#c2ff00" points="534.8,81.0 539.6,76.6 534.8,73.6 529.9,78.0"/><polygon color="#d2ff00" points="544.5,79.6 549.4,75.0 544.5,72.1 539.6,76.6"/><polygon color="#e3ff00" points="554.3,78.0 559.2,73.4 554.2,70.4 549.4,75.0"/><polygon color="#f5ff00" points="564.2,76.4 568.9,71.7 563.9,68.7 559.2,73.4"/><polygon color="#5bff00" points="471.0,91.3 476.1,87.6 471.5,84.6 466.4,88.3"/><polygon color="#fff500" points="574.0,74.7 578.7,69.9 573.7,66.9 568.9,71.7"/><polygon color="#64ff00" points="480.8,90.6 485.9,86.7 481.3,83.7 476.1,87.6"/><polygon color="#6eff00" points="490.6,89.7 495.7,85.8 491.0,82.8 485.9,86.7"/><polygon color="#79ff00" points="500.4,88.8 505.4,84.7 500.7,81.7 495.7,85.8"/><polygon color="#ffe100" points="583.8,72.9 588.5,68.0 583.4,65.0 578.7,69.9"/><polygon color="#85ff00" points="510.2,87.7 515.2,83.6 510.4,80.6 505.4,84.7"/><polygon color="#ffcc00" points="593.7,71.0 598.3,66.0 593.2,63.0 588.5,68.0"/><polygon color="#92ff00" points="520.0,86.6 525.0,82.3 520.1,79.3 515.2,83.6"/><polygon color="#a0ff00" points="529.8,85.4 534.8,81.0 529.9,78.0 525.0,82.3"/><polygon color="#afff00" points="539.7,84.0 544.5,79.6 539.6,76.6 534.8,81.0"/><polygon color="#c0ff00" points="549.5,82.6 554.3,78.0 549.4,75.0 544.5,79.6"/><polygon color="#d1ff00" points="559.4,81.1 564.2,76.4 559.2,73.4 554.3,78.0"/><polygon color="#e3ff00" points="569.2,79.5 574.0,74.7 568.9,71.7 564.2,76.4"/><polygon color="#41ff00" points="465.8,95.0 471.0,91.3 466.4,88.3 461.2,92.0"/><polygon color="#49ff00" points="475.6,94.4 480.8,90.6 476.1,87.6 471.0,91.3"/><polygon color="#f6ff00" points="579.1,77.7 583.8,72.9 578.7,69.9 574.0,74.7"/><polygon color="#52ff00" points="485.5,93.6 490.6,89.7 485.9,86.7 480.8,90.6"/><polygon color="#5cff00" points="495.3,92.8 500.4,88.8 495.7,85.8 490.6,89.7"/><polygon color="#67ff00" points="505.2,91.8 510.2,87.7 505.4,84.7 500.4,88.8"/><polygon color="#fff400" points="589.0,75.9 593.7,71.0 588.5,68.0 583.8,72.9"/><polygon color="#73ff00" points="515.0,90.8 520.0,86.6 515.2,83.6 510.2,87.7"/><polygon color="#ffdf00" points="598.9,74.0 603.5,69.0 598.3,66.0 593.7,71.0"/><polygon color="#80ff00" points="524.9,89.7 529.8,85.4 525.0,82.3 520.0,86.6"/><polygon color="#8eff00" points="534.8,88.4 539.7,84.0 534.8,81.0 529.8,85.4"/><polygon color="#9dff00" points="544.6,87.1 549.5,82.6 544.5,79.6 539.7,84.0"/><polygon color="#adff00" points="554.5,85.7 559.4,81.1 554.3,78.0 549.5,82.6"/><polygon color="#beff00" points="564.4,84.2 569.2,79.5 564.2,76.4 559.4,81.1"/><polygon color="#d1ff00" points="574.3,82.5 579.1,77.7 574.0,74.7 569.2,79.5"/><polygon color="#29ff00" points="460.6,98.7 465.8,95.0 461.2,92.0 456.0,95.6"/><polygon color="#2fff00" points="470.4,98.1 475.6,94.4 471.0,91.3 465.8,95.0"/><polygon color="#37ff00" points="480.3,97.5 485.5,93.6 480.8,90.6 475.6,94.4"/><polygon color="#e4ff00" points="584.2,80.8 589.0,75.9 583.8,72.9 579.1,77.7"/><polygon color="#40ff00" points="490.2,96.7 495.3,92.8 490.6,89.7 485.5,93.6"/><polygon color="#4aff00" points="500.1,95.9 505.2,91.8 500.4,88.8 495.3,92.8"/><polygon color="#f8ff00" points="594.2,79.0 598.9,74.0 593.7,71.0 589.0,75.9"/><polygon color="#55ff00" points="510.0,94.9 515.0,90.8 510.2,87.7 505.2,91.8"/><polygon color="#61ff00" points="519.9,93.9 524.9,89.7 520.0,86.6 515.0,90.8"/><polygon color="#fff100" points="604.1,77.1 608.8,72.0 603.5,69.0 598.9,74.0"/><polygon color="#6eff00" points="529.8,92.8 534.8,88.4 529.8,85.4 524.9,89.7"/><polygon color="#7cff00" points="539.7,91.5 544.6,87.1 539.7,84.0 534.8,88.4"/><polygon color="#8bff00" points="549.6,90.2 554.5,85.7 549.5,82.6 544.6,87.1"/><polygon color="#9bff00" points="559.6,88.8 564.4,84.2 559.4,81.1 554.5,85.7"/><polygon color="#acff00" points="569.5,87.3 574.3,82.5 569.2,79.5 564.4,84.2"/><polygon color="#beff00" points="579.4,85.6 584.2,80.8 579.1,77.7 574.3,82.5"/><polygon color="#11ff00" points="455.3,102.2 460.6,98.7 456.0,95.6 450.7,99.1"/><polygon color="#17ff00" points="465.2,101.8 470.4,98.1 465.8,95.0 460.6,98.7"/><polygon color="#1eff00" points="475.1,101.2 480.3,97.5 475.6,94.4 470.4,98.1"/><polygon color="#25ff00" points="485.1,100.6 490.2,96.7 485.5,93.6 480.3,97.5"/><polygon color="#d1ff00" points="589.4,83.9 594.2,79.0 589.0,75.9 584.2,80.8"/><polygon color="#2eff00" points="495.0,99.8 500.1,95.9 495.3,92.8 490.2,96.7"/><polygon color="#38ff00" points="504.9,99.0 510.0,94.9 505.2,91.8 500.1,95.9"/><polygon color="#e5ff00" points="599.4,82.1 604.1,77.1 598.9,74.0 594.2,79.0"/><polygon color="#43ff00" points="514.9,98.0 519.9,93.9 515.0,90.8 510.0,94.9"/><polygon color="#4fff00" points="524.8,97.0 529.8,92.8 524.9,89.7 519.9,93.9"/><polygon color="#faff00" points="609.4,80.2 614.1,75.1 608.8,72.0 604.1,77.1"/><polygon color="#5cff00" points="534.8,95.9 539.7,91.5 534.8,88.4 529.8,92.8"/><polygon color="#69ff00" points="544.7,94.7 549.6,90.2 544.6,87.1 539.7,91.5"/><polygon color="#78ff00" points="554.7,93.3 559.6,88.8 554.5,85.7 549.6,90.2"/><polygon color="#88ff00" points="564.6,91.9 569.5,87.3 564.4,84.2 559.6,88.8"/><polygon color="#99ff00" points="574.6,90.4 579.4,85.6 574.3,82.5 569.5,87.3"/><polygon color="#abff00" points="584.6,88.8 589.4,83.9 584.2,80.8 579.4,85.6"/><polygon color="#00ff05" points="449.9,105.7 455.3,102.2 450.7,99.1 445.3,102.6"/><polygon color="#00ff00" points="459.9,105.4 465.2,101.8 460.6,98.7 455.3,102.2"/><polygon color="#05ff00" points="469.9,104.9 475.1,101.2 470.4,98.1 465.2,101.8"/><polygon color="#0cff00" points="479.9,104.4 485.1,100.6 480.3,97.5 475.1,101.2"/><polygon color="#14ff00" points="489.8,103.7 495.0,99.8 490.2,96.7 485.1,100.6"/><polygon color="#beff00" points="594.6,87.1 599.4,82.1 594.2,79.0 589.4,83.9"/><polygon color="#1cff00" points="499.8,103.0 504.9,99.0 500.1,95.9 495.0,99.8"/><polygon color="#26ff00" points="509.8,102.1 514.9,98.0 510.0,94.9 504.9,99.0"/><polygon color="#d2ff00" points="604.7,85.3 609.4,80.2 604.1,77.1 599.4,82.1"/><polygon color="#31ff00" points="519.8,101.2 524.8,97.0 519.9,93.9 514.9,98.0"/><polygon color="#3cff00" points="529.8,100.2 534.8,95.9 529.8,92.8 524.8,97.0"/><polygon color="#e8ff00" points="614.7,83.4 619.4,78.2 614.1,75.1 609.4,80.2"/><polygon color="#49ff00" points="539.8,99.0 544.7,94.7 539.7,91.5 534.8,95.9"/><polygon color="#57ff00" points="549.8,97.8 554.7,93.3 549.6,90.2 544.7,94.7"/><polygon color="#66ff00" points="559.8,96.5 564.6,91.9 559.6,88.8 554.7,93.3"/><polygon color="#76ff00" points="569.8,95.1 574.6,90.4 569.5,87.3 564.6,91.9"/><polygon color="#87ff00" points="579.8,93.6 584.6,88.8 579.4,85.6 574.6,90.4"/><polygon color="#99ff00" points="589.9,92.0 594.6,87.1 589.4,83.9 584.6,88.8"/><polygon color="#00ff1a" points="444.5,109.1 449.9,105.7 445.3,102.6 440.0,106.0"/><polygon color="#00ff16" points="454.6,108.9 459.9,105.4 455.3,102.2 449.9,105.7"/><polygon color="#00ff12" points="464.6,108.5 469.9,104.9 465.2,101.8 459.9,105.4"/><polygon color="#00ff0c" points="474.6,108.1 479.9,104.4 475.1,101.2 469.9,104.9"/><polygon color="#00ff06" points="484.6,107.5 489.8,103.7 485.1,100.6 479.9,104.4"/><polygon color="#02ff00" points="494.6,106.9 499.8,103.0 495.0,99.8 489.8,103.7"/><polygon color="#acff00" points="599.9,90.3 604.7,85.3 599.4,82.1 594.6,87.1"/><polygon color="#0aff00" points="504.7,106.2 509.8,102.1 504.9,99.0 499.8,103.0"/><polygon color="#14ff00" points="514.7,105.3 519.8,101.2 514.9,98.0 509.8,102.1"/><polygon color="#c0ff00" points="610.0,88.5 614.7,83.4 609.4,80.2 604.7,85.3"/><polygon color="#1eff00" points="524.7,104.4 529.8,100.2 524.8,97.0 519.8,101.2"/><polygon color="#2aff00" points="534.8,103.4 539.8,99.0 534.8,95.9 529.8,100.2"/><polygon color="#d5ff00" points="620.1,86.5 624.8,81.4 619.4,78.2 614.7,83.4"/><polygon color="#37ff00" points="544.8,102.2 549.8,97.8 544.7,94.7 539.8,99.0"/><polygon color="#45ff00" points="554.8,101.0 559.8,96.5 554.7,93.3 549.8,97.8"/><polygon color="#53ff00" points="564.9,99.7 569.8,95.1 564.6,91.9 559.8,96.5"/><polygon color="#63ff00" points="575.0,98.3 579.8,93.6 574.6,90.4 569.8,95.1"/><polygon color="#74ff00" points="585.0,96.8 589.9,92.0 584.6,88.8 579.8,93.6"/><polygon color="#86ff00" points="595.1,95.2 599.9,90.3 594.6,87.1 589.9,92.0"/><polygon color="#00ff2b" points="449.2,112.3 454.6,108.9 449.9,105.7 444.5,109.1"/><polygon color="#00ff2d" points="439.1,112.5 444.5,109.1 440.0,106.0 434.5,109.3"/><polygon color="#00ff28" points="459.2,112.1 464.6,108.5 459.9,105.4 454.6,108.9"/><polygon color="#00ff23" points="469.3,111.7 474.6,108.1 469.9,104.9 464.6,108.5"/><polygon color="#00ff1e" points="479.4,111.3 484.6,107.5 479.9,104.4 474.6,108.1"/><polygon color="#00ff18" points="489.4,110.7 494.6,106.9 489.8,103.7 484.6,107.5"/><polygon color="#00ff10" points="499.5,110.1 504.7,106.2 499.8,103.0 494.6,106.9"/><polygon color="#99ff00" points="605.2,93.5 610.0,88.5 604.7,85.3 599.9,90.3"/><polygon color="#00ff08" points="509.6,109.4 514.7,105.3 509.8,102.1 504.7,106.2"/><polygon color="#02ff00" points="519.6,108.5 524.7,104.4 519.8,101.2 514.7,105.3"/><polygon color="#adff00" points="615.4,91.7 620.1,86.5 614.7,83.4 610.0,88.5"/><polygon color="#0cff00" points="529.7,107.6 534.8,103.4 529.8,100.2 524.7,104.4"/><polygon color="#18ff00" points="539.8,106.6 544.8,102.2 539.8,99.0 534.8,103.4"/><polygon color="#c1ff00" points="625.5,89.8 630.2,84.5 624.8,81.4 620.1,86.5"/><polygon color="#24ff00" points="549.9,105.5 554.8,101.0 549.8,97.8 544.8,102.2"/><polygon color="#32ff00" points="560.0,104.3 564.9,99.7 559.8,96.5 554.8,101.0"/><polygon color="#41ff00" points="570.1,103.0 575.0,98.3 569.8,95.1 564.9,99.7"/><polygon color="#50ff00" points="580.2,101.5 585.0,96.8 579.8,93.6 575.0,98.3"/><polygon color="#61ff00" points="590.3,100.0 595.1,95.2 589.9,92.0 585.0,96.8"/><polygon color="#73ff00" points="600.5,98.4 605.2,93.5 599.9,90.3 595.1,95.2"/><polygon color="#00ff3d" points="453.8,115.5 459.2,112.1 454.6,108.9 449.2,112.3"/><polygon color="#00ff39" points="464.0,115.3 469.3,111.7 464.6,108.5 459.2,112.1"/><polygon color="#00ff3f" points="443.7,115.7 449.2,112.3 444.5,109.1 439.1,112.5"/><polygon color="#00ff35" points="474.1,115.0 479.4,111.3 474.6,108.1 469.3,111.7"/><polygon color="#00ff40" points="433.6,115.7 439.1,112.5 434.5,109.3 429.0,112.5"/><polygon color="#00ff30" points="484.2,114.5 489.4,110.7 484.6,107.5 479.4,111.3"/><polygon color="#00ff29" points="494.3,114.0 499.5,110.1 494.6,106.9 489.4,110.7"/><polygon color="#86ff00" points="610.6,96.7 615.4,91.7 610.0,88.5 605.2,93.5"/><polygon color="#00ff22" points="504.4,113.4 509.6,109.4 504.7,106.2 499.5,110.1"/><polygon color="#00ff1a" points="514.5,112.6 519.6,108.5 514.7,105.3 509.6,109.4"/><polygon color="#00ff10" points="524.6,111.8 529.7,107.6 524.7,104.4 519.6,108.5"/><polygon color="#9aff00" points="620.8,94.9 625.5,89.8 620.1,86.5 615.4,91.7"/><polygon color="#00ff06" points="534.8,110.9 539.8,106.6 534.8,103.4 529.7,107.6"/><polygon color="#05ff00" points="544.9,109.9 549.9,105.5 544.8,102.2 539.8,106.6"/><polygon color="#aeff00" points="631.0,93.0 635.7,87.8 630.2,84.5 625.5,89.8"/><polygon color="#12ff00" points="555.0,108.8 560.0,104.3 554.8,101.0 549.9,105.5"/><polygon color="#1fff00" points="565.2,107.5 570.1,103.0 564.9,99.7 560.0,104.3"/><polygon color="#2eff00" points="575.3,106.2 580.2,101.5 575.0,98.3 570.1,103.0"/><polygon color="#3eff00" points="585.5,104.8 590.3,100.0 585.0,96.8 580.2,101.5"/><polygon color="#4eff00" points="595.7,103.3 600.5,98.4 595.1,95.2 590.3,100.0"/><polygon color="#60ff00" points="605.8,101.7 610.6,96.7 605.2,93.5 600.5,98.4"/><polygon color="#00ff4e" points="458.6,118.8 464.0,115.3 459.2,112.1 453.8,115.5"/><polygon color="#00ff4b" points="468.7,118.6 474.1,115.0 469.3,111.7 464.0,115.3"/><polygon color="#00ff50" points="448.4,118.9 453.8,115.5 449.2,112.3 443.7,115.7"/><polygon color="#00ff47" points="478.9,118.2 484.2,114.5 479.4,111.3 474.1,115.0"/><polygon color="#00ff51" points="438.2,119.0 443.7,115.7 439.1,112.5 433.6,115.7"/><polygon color="#00ff41" points="489.0,117.8 494.3,114.0 489.4,110.7 484.2,114.5"/><polygon color="#00ff52" points="428.0,118.9 433.6,115.7 429.0,112.5 423.5,115.7"/><polygon color="#00ff3b" points="499.2,117.3 504.4,113.4 499.5,110.1 494.3,114.0"/><polygon color="#73ff00" points="616.0,100.0 620.8,94.9 615.4,91.7 610.6,96.7"/><polygon color="#00ff34" points="509.3,116.6 514.5,112.6 509.6,109.4 504.4,113.4"/><polygon color="#00ff2c" points="519.5,115.9 524.6,111.8 519.6,108.5 514.5,112.6"/><polygon color="#00ff23" points="529.7,115.1 534.8,110.9 529.7,107.6 524.6,111.8"/><polygon color="#86ff00" points="626.3,98.2 631.0,93.0 625.5,89.8 620.8,94.9"/><polygon color="#00ff18" points="539.8,114.2 544.9,109.9 539.8,106.6 534.8,110.9"/><polygon color="#00ff0d" points="550.0,113.2 555.0,108.8 549.9,105.5 544.9,109.9"/><polygon color="#9bff00" points="636.5,96.3 641.2,91.0 635.7,87.8 631.0,93.0"/><polygon color="#00ff01" points="560.2,112.1 565.2,107.5 560.0,104.3 555.0,108.8"/><polygon color="#0dff00" points="570.4,110.9 575.3,106.2 570.1,103.0 565.2,107.5"/><polygon color="#1bff00" points="580.6,109.6 585.5,104.8 580.2,101.5 575.3,106.2"/><polygon color="#2bff00" points="590.8,108.1 595.7,103.3 590.3,100.0 585.5,104.8"/><polygon color="#3bff00" points="601.0,106.6 605.8,101.7 600.5,98.4 595.7,103.3"/><polygon color="#4dff00" points="611.3,105.0 616.0,100.0 610.6,96.7 605.8,101.7"/><polygon color="#00ff60" points="463.3,122.1 468.7,118.6 464.0,115.3 458.6,118.8"/><polygon color="#00ff5d" points="473.5,121.9 478.9,118.2 474.1,115.0 468.7,118.6"/><polygon color="#00ff62" points="453.1,122.2 458.6,118.8 453.8,115.5 448.4,118.9"/><polygon color="#00ff58" points="483.7,121.5 489.0,117.8 484.2,114.5 478.9,118.2"/><polygon color="#00ff63" points="442.9,122.3 448.4,118.9 443.7,115.7 438.2,119.0"/><polygon color="#00ff53" points="493.9,121.1 499.2,117.3 494.3,114.0 489.0,117.8"/><polygon color="#00ff63" points="432.7,122.2 438.2,119.0 433.6,115.7 428.0,118.9"/><polygon color="#00ff4d" points="504.1,120.6 509.3,116.6 504.4,113.4 499.2,117.3"/><polygon color="#00ff62" points="422.4,122.1 428.0,118.9 423.5,115.7 417.9,118.8"/><polygon color="#60ff00" points="621.5,103.3 626.3,98.2 620.8,94.9 616.0,100.0"/><polygon color="#00ff46" points="514.3,120.0 519.5,115.9 514.5,112.6 509.3,116.6"/><polygon color="#00ff3e" points="524.5,119.3 529.7,115.1 524.6,111.8 519.5,115.9"/><polygon color="#00ff35" points="534.8,118.4 539.8,114.2 534.8,110.9 529.7,115.1"/><polygon color="#73ff00" points="631.8,101.5 636.5,96.3 631.0,93.0 626.3,98.2"/><polygon color="#00ff2b" points="545.0,117.5 550.0,113.2 544.9,109.9 539.8,114.2"/><polygon color="#00ff1f" points="555.2,116.5 560.2,112.1 555.0,108.8 550.0,113.2"/><polygon color="#88ff00" points="642.1,99.6 646.7,94.3 641.2,91.0 636.5,96.3"/><polygon color="#00ff13" points="565.4,115.4 570.4,110.9 565.2,107.5 560.2,112.1"/><polygon color="#00ff06" points="575.7,114.2 580.6,109.6 575.3,106.2 570.4,110.9"/><polygon color="#08ff00" points="585.9,112.9 590.8,108.1 585.5,104.8 580.6,109.6"/><polygon color="#18ff00" points="596.2,111.5 601.0,106.6 595.7,103.3 590.8,108.1"/><polygon color="#28ff00" points="606.4,110.0 611.3,105.0 605.8,101.7 601.0,106.6"/><polygon color="#3aff00" points="616.7,108.4 621.5,103.3 616.0,100.0 611.3,105.0"/><polygon color="#00ff71" points="468.1,125.4 473.5,121.9 468.7,118.6 463.3,122.1"/><polygon color="#00ff6e" points="478.4,125.2 483.7,121.5 478.9,118.2 473.5,121.9"/><polygon color="#00ff73" points="457.9,125.6 463.3,122.1 458.6,118.8 453.1,122.2"/><polygon color="#00ff6a" points="488.6,124.9 493.9,121.1 489.0,117.8 483.7,121.5"/><polygon color="#00ff74" points="447.6,125.6 453.1,122.2 448.4,118.9 442.9,122.3"/><polygon color="#00ff65" points="498.9,124.5 504.1,120.6 499.2,117.3 493.9,121.1"/><polygon color="#00ff74" points="437.3,125.5 442.9,122.3 438.2,119.0 432.7,122.2"/><polygon color="#00ff5f" points="509.1,123.9 514.3,120.0 509.3,116.6 504.1,120.6"/><polygon color="#4cff00" points="627.0,106.7 631.8,101.5 626.3,98.2 621.5,103.3"/><polygon color="#00ff73" points="427.1,125.4 432.7,122.2 428.0,118.9 422.4,122.1"/><polygon color="#00ff58" points="519.4,123.3 524.5,119.3 519.5,115.9 514.3,120.0"/><polygon color="#00ff71" points="416.8,125.1 422.4,122.1 417.9,118.8 412.2,121.8"/><polygon color="#00ff50" points="529.6,122.6 534.8,118.4 529.7,115.1 524.5,119.3"/><polygon color="#00ff47" points="539.9,121.8 545.0,117.5 539.8,114.2 534.8,118.4"/><polygon color="#60ff00" points="637.3,104.9 642.1,99.6 636.5,96.3 631.8,101.5"/><polygon color="#00ff3d" points="550.2,120.9 555.2,116.5 550.0,113.2 545.0,117.5"/><polygon color="#00ff32" points="560.4,119.9 565.4,115.4 560.2,112.1 555.2,116.5"/><polygon color="#74ff00" points="647.7,103.0 652.4,97.6 646.7,94.3 642.1,99.6"/><polygon color="#00ff26" points="570.7,118.8 575.7,114.2 570.4,110.9 565.4,115.4"/><polygon color="#00ff19" points="581.0,117.6 585.9,112.9 580.6,109.6 575.7,114.2"/><polygon color="#00ff0a" points="591.3,116.3 596.2,111.5 590.8,108.1 585.9,112.9"/><polygon color="#05ff00" points="601.6,114.9 606.4,110.0 601.0,106.6 596.2,111.5"/><polygon color="#15ff00" points="611.9,113.4 616.7,108.4 611.3,105.0 606.4,110.0"/><polygon color="#27ff00" points="622.3,111.8 627.0,106.7 621.5,103.3 616.7,108.4"/><polygon color="#00ff83" points="473.0,128.8 478.4,125.2 473.5,121.9 468.1,125.4"/><polygon color="#00ff80" points="483.3,128.6 488.6,124.9 483.7,121.5 478.4,125.2"/><polygon color="#00ff85" points="462.7,128.9 468.1,125.4 463.3,122.1 457.9,125.6"/><polygon color="#00ff7c" points="493.6,128.3 498.9,124.5 493.9,121.1 488.6,124.9"/><polygon color="#00ff86" points="452.3,128.9 457.9,125.6 453.1,122.2 447.6,125.6"/><polygon color="#00ff77" points="503.9,127.9 509.1,123.9 504.1,120.6 498.9,124.5"/><polygon color="#00ff86" points="442.0,128.9 447.6,125.6 442.9,122.3 437.3,125.5"/><polygon color="#00ff71" points="514.2,127.3 519.4,123.3 514.3,120.0 509.1,123.9"/><polygon color="#39ff00" points="632.6,110.1 637.3,104.9 631.8,101.5 627.0,106.7"/><polygon color="#00ff85" points="431.7,128.7 437.3,125.5 432.7,122.2 427.1,125.4"/><polygon color="#00ff6a" points="524.5,126.7 529.6,122.6 524.5,119.3 519.4,123.3"/><polygon color="#00ff83" points="421.4,128.4 427.1,125.4 422.4,122.1 416.8,125.1"/><polygon color="#00ff62" points="534.8,126.0 539.9,121.8 534.8,118.4 529.6,122.6"/><polygon color="#00ff59" points="545.1,125.2 550.2,120.9 545.0,117.5 539.9,121.8"/><polygon color="#4dff00" points="643.0,108.3 647.7,103.0 642.1,99.6 637.3,104.9"/><polygon color="#00ff4f" points="555.4,124.3 560.4,119.9 555.2,116.5 550.2,120.9"/><polygon color="#00ff44" points="565.7,123.3 570.7,118.8 565.4,115.4 560.4,119.9"/><polygon color="#61ff00" points="653.3,106.4 658.0,101.0 652.4,97.6 647.7,103.0"/><polygon color="#00ff38" points="576.0,122.2 581.0,117.6 575.7,114.2 570.7,118.8"/><polygon color="#00ff2b" points="586.4,121.0 591.3,116.3 585.9,112.9 581.0,117.6"/><polygon color="#00ff1d" points="596.7,119.7 601.6,114.9 596.2,111.5 591.3,116.3"/><polygon color="#00ff0e" points="607.1,118.3 611.9,113.4 606.4,110.0 601.6,114.9"/><polygon color="#02ff00" points="617.4,116.8 622.3,111.8 616.7,108.4 611.9,113.4"/><polygon color="#13ff00" points="627.8,115.2 632.6,110.1 627.0,106.7 622.3,111.8"/><polygon color="#00ff95" points="477.8,132.2 483.3,128.6 478.4,125.2 473.0,128.8"/><polygon color="#00ff92" points="488.2,132.0 493.6,128.3 488.6,124.9 483.3,128.6"/><polygon color="#00ff97" points="467.5,132.3 473.0,128.8 468.1,125.4 462.7,128.9"/><polygon color="#00ff8e" points="498.5,131.7 503.9,127.9 498.9,124.5 493.6,128.3"/><polygon color="#00ff98" points="457.1,132.3 462.7,128.9 457.9,125.6 452.3,128.9"/><polygon color="#00ff89" points="508.9,131.3 514.2,127.3 509.1,123.9 503.9,127.9"/><polygon color="#26ff00" points="638.2,113.6 643.0,108.3 637.3,104.9 632.6,110.1"/><polygon color="#00ff98" points="446.8,132.3 452.3,128.9 447.6,125.6 442.0,128.9"/><polygon color="#00ff83" points="519.2,130.8 524.5,126.7 519.4,123.3 514.2,127.3"/><polygon color="#00ff96" points="436.4,132.1 442.0,128.9 437.3,125.5 431.7,128.7"/><polygon color="#00ff7d" points="529.6,130.2 534.8,126.0 529.6,122.6 524.5,126.7"/><polygon color="#00ff94" points="426.0,131.8 431.7,128.7 427.1,125.4 421.4,128.4"/><polygon color="#00ff75" points="539.9,129.5 545.1,125.2 539.9,121.8 534.8,126.0"/><polygon color="#00ff6c" points="550.3,128.7 555.4,124.3 550.2,120.9 545.1,125.2"/><polygon color="#39ff00" points="648.6,111.8 653.3,106.4 647.7,103.0 643.0,108.3"/><polygon color="#00ff62" points="560.7,127.8 565.7,123.3 560.4,119.9 555.4,124.3"/><polygon color="#00ff57" points="571.0,126.8 576.0,122.2 570.7,118.8 565.7,123.3"/><polygon color="#00ff4b" points="581.4,125.7 586.4,121.0 581.0,117.6 576.0,122.2"/><polygon color="#00ff3e" points="591.8,124.5 596.7,119.7 591.3,116.3 586.4,121.0"/><polygon color="#00ff30" points="602.2,123.2 607.1,118.3 601.6,114.9 596.7,119.7"/><polygon color="#00ff21" points="612.6,121.8 617.4,116.8 611.9,113.4 607.1,118.3"/><polygon color="#00ff11" points="623.0,120.3 627.8,115.2 622.3,111.8 617.4,116.8"/><polygon color="#00ff00" points="633.4,118.7 638.2,113.6 632.6,110.1 627.8,115.2"/><polygon color="#00ffa7" points="482.8,135.7 488.2,132.0 483.3,128.6 477.8,132.2"/><polygon color="#00ffa4" points="493.2,135.5 498.5,131.7 493.6,128.3 488.2,132.0"/><polygon color="#00ffa9" points="472.4,135.8 477.8,132.2 473.0,128.8 467.5,132.3"/><polygon color="#00ffa0" points="503.6,135.1 508.9,131.3 503.9,127.9 498.5,131.7"/><polygon color="#00ffa9" points="462.0,135.8 467.5,132.3 462.7,128.9 457.1,132.3"/><polygon color="#00ff9b" points="514.0,134.7 519.2,130.8 514.2,127.3 508.9,131.3"/><polygon color="#12ff00" points="643.9,117.0 648.6,111.8 643.0,108.3 638.2,113.6"/><polygon color="#00ffa9" points="451.6,135.7 457.1,132.3 452.3,128.9 446.8,132.3"/><polygon color="#00ff96" points="524.4,134.2 529.6,130.2 524.5,126.7 519.2,130.8"/><polygon color="#00ffa8" points="441.2,135.5 446.8,132.3 442.0,128.9 436.4,132.1"/><polygon color="#00ff8f" points="534.8,133.7 539.9,129.5 534.8,126.0 529.6,130.2"/><polygon color="#00ffa6" points="430.7,135.2 436.4,132.1 431.7,128.7 426.0,131.8"/><polygon color="#00ff87" points="545.2,133.0 550.3,128.7 545.1,125.2 539.9,129.5"/><polygon color="#00ff7e" points="555.6,132.2 560.7,127.8 555.4,124.3 550.3,128.7"/><polygon color="#00ff74" points="566.0,131.3 571.0,126.8 565.7,123.3 560.7,127.8"/><polygon color="#00ff69" points="576.4,130.3 581.4,125.7 576.0,122.2 571.0,126.8"/><polygon color="#00ff5e" points="586.8,129.2 591.8,124.5 586.4,121.0 581.4,125.7"/><polygon color="#00ff51" points="597.3,128.0 602.2,123.2 596.7,119.7 591.8,124.5"/><polygon color="#00ff43" points="607.7,126.7 612.6,121.8 607.1,118.3 602.2,123.2"/><polygon color="#00ff34" points="618.2,125.3 623.0,120.3 617.4,116.8 612.6,121.8"/><polygon color="#00ff24" points="628.6,123.8 633.4,118.7 627.8,115.2 623.0,120.3"/><polygon color="#00ff13" points="639.1,122.2 643.9,117.0 638.2,113.6 633.4,118.7"/><polygon color="#00ffb6" points="498.2,138.9 503.6,135.1 498.5,131.7 493.2,135.5"/><polygon color="#00ffb9" points="487.8,139.1 493.2,135.5 488.2,132.0 482.8,135.7"/><polygon color="#00ffb2" points="508.6,138.7 514.0,134.7 508.9,131.3 503.6,135.1"/><polygon color="#00ffbb" points="477.3,139.2 482.8,135.7 477.8,132.2 472.4,135.8"/><polygon color="#00ffae" points="519.1,138.3 524.4,134.2 519.2,130.8 514.0,134.7"/><polygon color="#00ffbb" points="466.9,139.2 472.4,135.8 467.5,132.3 462.0,135.8"/><polygon color="#00ffa8" points="529.5,137.8 534.8,133.7 529.6,130.2 524.4,134.2"/><polygon color="#00ffbb" points="456.4,139.1 462.0,135.8 457.1,132.3 451.6,135.7"/><polygon color="#00ffa1" points="540.0,137.2 545.2,133.0 539.9,129.5 534.8,133.7"/><polygon color="#00ffba" points="445.9,139.0 451.6,135.7 446.8,132.3 441.2,135.5"/><polygon color="#00ff9a" points="550.4,136.5 555.6,132.2 550.3,128.7 545.2,133.0"/><polygon color="#00ffb7" points="435.5,138.7 441.2,135.5 436.4,132.1 430.7,135.2"/><polygon color="#00ff91" points="560.9,135.7 566.0,131.3 560.7,127.8 555.6,132.2"/><polygon color="#00ff87" points="571.3,134.8 576.4,130.3 571.0,126.8 566.0,131.3"/><polygon color="#00ff7c" points="581.8,133.8 586.8,129.2 581.4,125.7 576.4,130.3"/><polygon color="#00ff70" points="592.3,132.7 597.3,128.0 591.8,124.5 586.8,129.2"/><polygon color="#00ff64" points="602.8,131.5 607.7,126.7 602.2,123.2 597.3,128.0"/><polygon color="#00ff56" points="613.3,130.3 618.2,125.3 612.6,121.8 607.7,126.7"/><polygon color="#00ff47" points="623.8,128.9 628.6,123.8 623.0,120.3 618.2,125.3"/><polygon color="#00ff37" points="634.3,127.4 639.1,122.2 633.4,118.7 628.6,123.8"/><polygon color="#00ffc8" points="503.3,142.5 508.6,138.7 503.6,135.1 498.2,138.9"/><polygon color="#00ffcb" points="492.8,142.7 498.2,138.9 493.2,135.5 487.8,139.1"/><polygon color="#00ffc5" points="513.8,142.2 519.1,138.3 514.0,134.7 508.6,138.7"/><polygon color="#00ffcd" points="482.3,142.8 487.8,139.1 482.8,135.7 477.3,139.2"/><polygon color="#00ffc0" points="524.3,141.8 529.5,137.8 524.4,134.2 519.1,138.3"/><polygon color="#00ffcd" points="471.8,142.8 477.3,139.2 472.4,135.8 466.9,139.2"/><polygon color="#00ffba" points="534.8,141.3 540.0,137.2 534.8,133.7 529.5,137.8"/><polygon color="#00ffcd" points="461.3,142.7 466.9,139.2 462.0,135.8 456.4,139.1"/><polygon color="#00ffb4" points="545.3,140.7 550.4,136.5 545.2,133.0 540.0,137.2"/><polygon color="#00ffcb" points="450.8,142.5 456.4,139.1 451.6,135.7 445.9,139.0"/><polygon color="#00ffac" points="555.8,140.0 560.9,135.7 555.6,132.2 550.4,136.5"/><polygon color="#00ffc9" points="440.3,142.1 445.9,139.0 441.2,135.5 435.5,138.7"/><polygon color="#00ffa3" points="566.3,139.3 571.3,134.8 566.0,131.3 560.9,135.7"/><polygon color="#00ff9a" points="576.8,138.4 581.8,133.8 576.4,130.3 571.3,134.8"/><polygon color="#00ff8f" points="587.3,137.4 592.3,132.7 586.8,129.2 581.8,133.8"/><polygon color="#00ff83" points="597.8,136.3 602.8,131.5 597.3,128.0 592.3,132.7"/><polygon color="#00ff77" points="608.3,135.1 613.3,130.3 607.7,126.7 602.8,131.5"/><polygon color="#00ff69" points="618.9,133.9 623.8,128.9 618.2,125.3 613.3,130.3"/><polygon color="#00ff5a" points="629.5,132.5 634.3,127.4 628.6,123.8 623.8,128.9"/><polygon color="#00ffdb" points="508.4,146.1 513.8,142.2 508.6,138.7 503.3,142.5"/><polygon color="#00ffdd" points="497.9,146.2 503.3,142.5 498.2,138.9 492.8,142.7"/><polygon color="#00ffd7" points="518.9,145.8 524.3,141.8 519.1,138.3 513.8,142.2"/><polygon color="#00ffdf" points="487.3,146.3 492.8,142.7 487.8,139.1 482.3,142.8"/><polygon color="#00ffd2" points="529.5,145.4 534.8,141.3 529.5,137.8 524.3,141.8"/><polygon color="#00ffdf" points="476.8,146.3 482.3,142.8 477.3,139.2 471.8,142.8"/><polygon color="#00ffcd" points="540.0,144.9 545.3,140.7 540.0,137.2 534.8,141.3"/><polygon color="#00ffdf" points="466.2,146.2 471.8,142.8 466.9,139.2 461.3,142.7"/><polygon color="#00ffc6" points="550.6,144.3 555.8,140.0 550.4,136.5 545.3,140.7"/><polygon color="#00ffdd" points="455.7,146.0 461.3,142.7 456.4,139.1 450.8,142.5"/><polygon color="#00ffbf" points="561.1,143.7 566.3,139.3 560.9,135.7 555.8,140.0"/><polygon color="#00ffdb" points="445.1,145.7 450.8,142.5 445.9,139.0 440.3,142.1"/><polygon color="#00ffb6" points="571.7,142.9 576.8,138.4 571.3,134.8 566.3,139.3"/><polygon color="#00ffac" points="582.2,142.0 587.3,137.4 581.8,133.8 576.8,138.4"/><polygon color="#00ffa2" points="592.8,141.0 597.8,136.3 592.3,132.7 587.3,137.4"/><polygon color="#00ff96" points="603.4,139.9 608.3,135.1 602.8,131.5 597.8,136.3"/><polygon color="#00ff8a" points="614.0,138.8 618.9,133.9 613.3,130.3 608.3,135.1"/><polygon color="#00ff7c" points="624.6,137.5 629.5,132.5 623.8,128.9 618.9,133.9"/><polygon color="#00ffed" points="513.6,149.7 518.9,145.8 513.8,142.2 508.4,146.1"/><polygon color="#00ffef" points="503.0,149.9 508.4,146.1 503.3,142.5 497.9,146.2"/><polygon color="#00ffe9" points="524.2,149.4 529.5,145.4 524.3,141.8 518.9,145.8"/><polygon color="#00fff1" points="492.4,149.9 497.9,146.2 492.8,142.7 487.3,146.3"/><polygon color="#00ffe5" points="534.8,149.0 540.0,144.9 534.8,141.3 529.5,145.4"/><polygon color="#00fff1" points="481.8,149.9 487.3,146.3 482.3,142.8 476.8,146.3"/><polygon color="#00ffdf" points="545.4,148.6 550.6,144.3 545.3,140.7 540.0,144.9"/><polygon color="#00fff1" points="471.2,149.8 476.8,146.3 471.8,142.8 466.2,146.2"/><polygon color="#00ffd9" points="555.9,148.0 561.1,143.7 555.8,140.0 550.6,144.3"/><polygon color="#00ffef" points="460.6,149.6 466.2,146.2 461.3,142.7 455.7,146.0"/><polygon color="#00ffd1" points="566.5,147.3 571.7,142.9 566.3,139.3 561.1,143.7"/><polygon color="#00ffed" points="450.0,149.3 455.7,146.0 450.8,142.5 445.1,145.7"/><polygon color="#00ffc9" points="577.2,146.5 582.2,142.0 576.8,138.4 571.7,142.9"/><polygon color="#00ffbf" points="587.8,145.7 592.8,141.0 587.3,137.4 582.2,142.0"/><polygon color="#00ffb5" points="598.4,144.7 603.4,139.9 597.8,136.3 592.8,141.0"/><polygon color="#00ffa9" points="609.0,143.6 614.0,138.8 608.3,135.1 603.4,139.9"/><polygon color="#00ff9d" points="619.6,142.4 624.6,137.5 618.9,133.9 614.0,138.8"/><polygon color="#00ffff" points="518.8,153.3 524.2,149.4 518.9,145.8 513.6,149.7"/><polygon color="#00fcff" points="508.2,153.5 513.6,149.7 508.4,146.1 503.0,149.9"/><polygon color="#00fffc" points="529.4,153.1 534.8,149.0 529.5,145.4 524.2,149.4"/><polygon color="#00fbff" points="497.5,153.6 503.0,149.9 497.9,146.2 492.4,149.9"/><polygon color="#00fff7" points="540.1,152.7 545.4,148.6 540.0,144.9 534.8,149.0"/><polygon color="#00fbff" points="486.9,153.6 492.4,149.9 487.3,146.3 481.8,149.9"/><polygon color="#00fff2" points="550.7,152.2 555.9,148.0 550.6,144.3 545.4,148.6"/><polygon color="#00fbff" points="476.2,153.4 481.8,149.9 476.8,146.3 471.2,149.8"/><polygon color="#00ffec" points="561.4,151.7 566.5,147.3 561.1,143.7 555.9,148.0"/><polygon color="#00fdff" points="465.6,153.2 471.2,149.8 466.2,146.2 460.6,149.6"/><polygon color="#00ffe4" points="572.0,151.0 577.2,146.5 571.7,142.9 566.5,147.3"/><polygon color="#00fffe" points="454.9,152.9 460.6,149.6 455.7,146.0 450.0,149.3"/><polygon color="#00ffdc" points="582.7,150.2 587.8,145.7 582.2,142.0 577.2,146.5"/><polygon color="#00ffd2" points="593.3,149.4 598.4,144.7 592.8,141.0 587.8,145.7"/><polygon color="#00ffc8" points="604.0,148.4 609.0,143.6 603.4,139.9 598.4,144.7"/><polygon color="#00ffbc" points="614.7,147.3 619.6,142.4 614.0,138.8 609.0,143.6"/><polygon color="#00edff" points="524.1,157.0 529.4,153.1 524.2,149.4 518.8,153.3"/><polygon color="#00ebff" points="513.4,157.2 518.8,153.3 513.6,149.7 508.2,153.5"/><polygon color="#00f0ff" points="534.8,156.8 540.1,152.7 534.8,149.0 529.4,153.1"/><polygon color="#00e9ff" points="502.7,157.3 508.2,153.5 503.0,149.9 497.5,153.6"/><polygon color="#00f4ff" points="545.5,156.4 550.7,152.2 545.4,148.6 540.1,152.7"/><polygon color="#00e9ff" points="492.0,157.2 497.5,153.6 492.4,149.9 486.9,153.6"/><polygon color="#00f9ff" points="556.1,156.0 561.4,151.7 555.9,148.0 550.7,152.2"/><polygon color="#00eaff" points="481.3,157.1 486.9,153.6 481.8,149.9 476.2,153.4"/><polygon color="#00fffe" points="566.8,155.4 572.0,151.0 566.5,147.3 561.4,151.7"/><polygon color="#00ecff" points="470.6,156.9 476.2,153.4 471.2,149.8 465.6,153.2"/><polygon color="#00fff7" points="577.5,154.7 582.7,150.2 577.2,146.5 572.0,151.0"/><polygon color="#00eeff" points="459.9,156.5 465.6,153.2 460.6,149.6 454.9,152.9"/><polygon color="#00ffef" points="588.2,154.0 593.3,149.4 587.8,145.7 582.7,150.2"/><polygon color="#00ffe5" points="599.0,153.1 604.0,148.4 598.4,144.7 593.3,149.4"/><polygon color="#00ffdb" points="609.7,152.1 614.7,147.3 609.0,143.6 604.0,148.4"/><polygon color="#00dbff" points="529.4,160.8 534.8,156.8 529.4,153.1 524.1,157.0"/><polygon color="#00deff" points="540.1,160.5 545.5,156.4 540.1,152.7 534.8,156.8"/><polygon color="#00d9ff" points="518.6,160.9 524.1,157.0 518.8,153.3 513.4,157.2"/><polygon color="#00e2ff" points="550.9,160.2 556.1,156.0 550.7,152.2 545.5,156.4"/><polygon color="#00d8ff" points="507.9,161.0 513.4,157.2 508.2,153.5 502.7,157.3"/><polygon color="#00e7ff" points="561.6,159.7 566.8,155.4 561.4,151.7 556.1,156.0"/><polygon color="#00d7ff" points="497.2,161.0 502.7,157.3 497.5,153.6 492.0,157.2"/><polygon color="#00edff" points="572.4,159.2 577.5,154.7 572.0,151.0 566.8,155.4"/><polygon color="#00d8ff" points="486.4,160.8 492.0,157.2 486.9,153.6 481.3,157.1"/><polygon color="#00f4ff" points="583.1,158.5 588.2,154.0 582.7,150.2 577.5,154.7"/><polygon color="#00daff" points="475.6,160.6 481.3,157.1 476.2,153.4 470.6,156.9"/><polygon color="#00fcff" points="593.9,157.7 599.0,153.1 593.3,149.4 588.2,154.0"/><polygon color="#00ddff" points="464.9,160.2 470.6,156.9 465.6,153.2 459.9,156.5"/><polygon color="#00fff8" points="604.6,156.9 609.7,152.1 604.0,148.4 599.0,153.1"/><polygon color="#00c9ff" points="534.8,164.6 540.1,160.5 534.8,156.8 529.4,160.8"/><polygon color="#00ccff" points="545.6,164.3 550.9,160.2 545.5,156.4 540.1,160.5"/><polygon color="#00c7ff" points="524.0,164.7 529.4,160.8 524.1,157.0 518.6,160.9"/><polygon color="#00d0ff" points="556.3,164.0 561.6,159.7 556.1,156.0 550.9,160.2"/><polygon color="#00c6ff" points="513.2,164.8 518.6,160.9 513.4,157.2 507.9,161.0"/><polygon color="#00d5ff" points="567.1,163.5 572.4,159.2 566.8,155.4 561.6,159.7"/><polygon color="#00c6ff" points="502.4,164.7 507.9,161.0 502.7,157.3 497.2,161.0"/><polygon color="#00dbff" points="577.9,163.0 583.1,158.5 577.5,154.7 572.4,159.2"/><polygon color="#00c6ff" points="491.6,164.6 497.2,161.0 492.0,157.2 486.4,160.8"/><polygon color="#00e2ff" points="588.7,162.3 593.9,157.7 588.2,154.0 583.1,158.5"/><polygon color="#00c8ff" points="480.8,164.3 486.4,160.8 481.3,157.1 475.6,160.6"/><polygon color="#00eaff" points="599.6,161.6 604.6,156.9 599.0,153.1 593.9,157.7"/><polygon color="#00cbff" points="469.9,164.0 475.6,160.6 470.6,156.9 464.9,160.2"/><polygon color="#00b7ff" points="540.2,168.4 545.6,164.3 540.1,160.5 534.8,164.6"/><polygon color="#00baff" points="551.0,168.2 556.3,164.0 550.9,160.2 545.6,164.3"/><polygon color="#00b5ff" points="529.3,168.6 534.8,164.6 529.4,160.8 524.0,164.7"/><polygon color="#00beff" points="561.9,167.8 567.1,163.5 561.6,159.7 556.3,164.0"/><polygon color="#00b4ff" points="518.5,168.6 524.0,164.7 518.6,160.9 513.2,164.8"/><polygon color="#00c3ff" points="572.7,167.4 577.9,163.0 572.4,159.2 567.1,163.5"/><polygon color="#00b4ff" points="507.6,168.5 513.2,164.8 507.9,161.0 502.4,164.7"/><polygon color="#00c9ff" points="583.6,166.8 588.7,162.3 583.1,158.5 577.9,163.0"/><polygon color="#00b5ff" points="496.8,168.4 502.4,164.7 497.2,161.0 491.6,164.6"/><polygon color="#00cfff" points="594.4,166.2 599.6,161.6 593.9,157.7 588.7,162.3"/><polygon color="#00b7ff" points="485.9,168.1 491.6,164.6 486.4,160.8 480.8,164.3"/><polygon color="#00b9ff" points="475.1,167.7 480.8,164.3 475.6,160.6 469.9,164.0"/><polygon color="#00a5ff" points="545.7,172.3 551.0,168.2 545.6,164.3 540.2,168.4"/><polygon color="#00a8ff" points="556.6,172.1 561.9,167.8 556.3,164.0 551.0,168.2"/><polygon color="#00a3ff" points="534.8,172.4 540.2,168.4 534.8,164.6 529.3,168.6"/><polygon color="#00abff" points="567.5,171.7 572.7,167.4 567.1,163.5 561.9,167.8"/><polygon color="#00a2ff" points="523.9,172.5 529.3,168.6 524.0,164.7 518.5,168.6"/><polygon color="#00b0ff" points="578.4,171.3 583.6,166.8 577.9,163.0 572.7,167.4"/><polygon color="#00a2ff" points="513.0,172.4 518.5,168.6 513.2,164.8 507.6,168.5"/><polygon color="#00b6ff" points="589.3,170.7 594.4,166.2 588.7,162.3 583.6,166.8"/><polygon color="#00a3ff" points="502.1,172.2 507.6,168.5 502.4,164.7 496.8,168.4"/><polygon color="#00a5ff" points="491.1,171.9 496.8,168.4 491.6,164.6 485.9,168.1"/><polygon color="#00a8ff" points="480.2,171.6 485.9,168.1 480.8,164.3 475.1,167.7"/><polygon color="#0092ff" points="551.2,176.2 556.6,172.1 551.0,168.2 545.7,172.3"/><polygon color="#0095ff" points="562.1,176.0 567.5,171.7 561.9,167.8 556.6,172.1"/><polygon color="#0091ff" points="540.2,176.3 545.7,172.3 540.2,168.4 534.8,172.4"/><polygon color="#0099ff" points="573.1,175.7 578.4,171.3 572.7,167.4 567.5,171.7"/><polygon color="#0090ff" points="529.3,176.4 534.8,172.4 529.3,168.6 523.9,172.5"/><polygon color="#009eff" points="584.0,175.2 589.3,170.7 583.6,166.8 578.4,171.3"/><polygon color="#0090ff" points="518.3,176.3 523.9,172.5 518.5,168.6 513.0,172.4"/><polygon color="#0091ff" points="507.4,176.1 513.0,172.4 507.6,168.5 502.1,172.2"/><polygon color="#0093ff" points="496.4,175.8 502.1,172.2 496.8,168.4 491.1,171.9"/><polygon color="#0096ff" points="485.4,175.5 491.1,171.9 485.9,168.1 480.2,171.6"/><polygon color="#0080ff" points="556.8,180.2 562.1,176.0 556.6,172.1 551.2,176.2"/><polygon color="#0083ff" points="567.8,180.0 573.1,175.7 567.5,171.7 562.1,176.0"/><polygon color="#007eff" points="545.8,180.3 551.2,176.2 545.7,172.3 540.2,176.3"/><polygon color="#0087ff" points="578.8,179.6 584.0,175.2 578.4,171.3 573.1,175.7"/><polygon color="#007eff" points="534.8,180.3 540.2,176.3 534.8,172.4 529.3,176.4"/><polygon color="#007eff" points="523.8,180.2 529.3,176.4 523.9,172.5 518.3,176.3"/><polygon color="#007fff" points="512.7,180.1 518.3,176.3 513.0,172.4 507.4,176.1"/><polygon color="#0081ff" points="501.7,179.8 507.4,176.1 502.1,172.2 496.4,175.8"/><polygon color="#0084ff" points="490.7,179.4 496.4,175.8 491.1,171.9 485.4,175.5"/><polygon color="#0070ff" points="573.5,184.0 578.8,179.6 573.1,175.7 567.8,180.0"/><polygon color="#006eff" points="562.4,184.2 567.8,180.0 562.1,176.0 556.8,180.2"/><polygon color="#006cff" points="551.4,184.3 556.8,180.2 551.2,176.2 545.8,180.3"/><polygon color="#006bff" points="540.3,184.3 545.8,180.3 540.2,176.3 534.8,180.3"/><polygon color="#006cff" points="529.2,184.2 534.8,180.3 529.3,176.4 523.8,180.2"/><polygon color="#006dff" points="518.2,184.0 523.8,180.2 518.3,176.3 512.7,180.1"/><polygon color="#006fff" points="507.1,183.7 512.7,180.1 507.4,176.1 501.7,179.8"/><polygon color="#0072ff" points="496.0,183.3 501.7,179.8 496.4,175.8 490.7,179.4"/><polygon color="#005bff" points="568.1,188.3 573.5,184.0 567.8,180.0 562.4,184.2"/><polygon color="#005aff" points="557.0,188.4 562.4,184.2 556.8,180.2 551.4,184.3"/><polygon color="#0059ff" points="545.9,188.4 551.4,184.3 545.8,180.3 540.3,184.3"/><polygon color="#0059ff" points="534.8,188.3 540.3,184.3 534.8,180.3 529.2,184.2"/><polygon color="#005bff" points="523.6,188.1 529.2,184.2 523.8,180.2 518.2,184.0"/><polygon color="#005dff" points="512.5,187.8 518.2,184.0 512.7,180.1 507.1,183.7"/><polygon color="#0060ff" points="501.4,187.4 507.1,183.7 501.7,179.8 496.0,183.3"/><polygon color="#0047ff" points="562.7,192.5 568.1,188.3 562.4,184.2 557.0,188.4"/><polygon color="#0047ff" points="551.5,192.5 557.0,188.4 551.4,184.3 545.9,188.4"/><polygon color="#0047ff" points="540.4,192.4 545.9,188.4 540.3,184.3 534.8,188.3"/><polygon color="#0048ff" points="529.2,192.1 534.8,188.3 529.2,184.2 523.6,188.1"/><polygon color="#004bff" points="518.0,191.8 523.6,188.1 518.2,184.0 512.5,187.8"/><polygon color="#004eff" points="506.8,191.4 512.5,187.8 507.1,183.7 501.4,187.4"/><polygon color="#0034ff" points="557.2,196.6 562.7,192.5 557.0,188.4 551.5,192.5"/><polygon color="#0035ff" points="546.0,196.5 551.5,192.5 545.9,188.4 540.4,192.4"/><polygon color="#0036ff" points="534.8,196.3 540.4,192.4 534.8,188.3 529.2,192.1"/><polygon color="#0039ff" points="523.5,196.0 529.2,192.1 523.6,188.1 518.0,191.8"/><polygon color="#003cff" points="512.3,195.5 518.0,191.8 512.5,187.8 506.8,191.4"/><polygon color="#0022ff" points="551.7,200.7 557.2,196.6 551.5,192.5 546.0,196.5"/><polygon color="#0024ff" points="540.4,200.5 546.0,196.5 540.4,192.4 534.8,196.3"/><polygon color="#0026ff" points="529.1,200.1 534.8,196.3 529.2,192.1 523.5,196.0"/><polygon color="#002aff" points="517.8,199.7 523.5,196.0 518.0,191.8 512.3,195.5"/><polygon color="#0011ff" points="546.1,204.7 551.7,200.7 546.0,196.5 540.4,200.5"/><polygon color="#0014ff" points="534.8,204.3 540.4,200.5 534.8,196.3 529.1,200.1"/><polygon color="#0017ff" points="523.4,203.9 529.1,200.1 523.5,196.0 517.8,199.7"/><polygon color="#0001ff" points="540.5,208.6 546.1,204.7 540.4,200.5 534.8,204.3"/><polygon color="#0005ff" points="529.1,208.2 534.8,204.3 529.1,200.1 523.4,203.9"/><polygon color="#0000ff" points="534.8,212.5 540.5,208.6 534.8,204.3 529.1,208.2"/></g><path d="M534.8 212.5 L529.1 208.2 L523.4 203.9 L517.8 199.7 L512.3 195.5 L506.8 191.4 L501.4 187.4 L496.0 183.3 L490.7 179.4 L485.4 175.5 L480.2 171.6 L475.1 167.7 L469.9 164.0 L464.9 160.2 L459.9 156.5 L454.9 152.9 L450.0 149.3 L445.1 145.7 L440.3 142.1 L435.5 138.7 L430.7 135.2 L426.0 131.8 L421.4 128.4 L416.8 125.1 L412.2 121.8M534.8 212.5 L540.5 208.6 L546.1 204.7 L551.7 200.7 L557.2 196.6 L562.7 192.5 L568.1 188.3 L573.5 184.0 L578.8 179.6 L584.0 175.2 L589.3 170.7 L594.4 166.2 L599.6 161.6 L604.6 156.9 L609.7 152.1 L614.7 147.3 L619.6 142.4 L624.6 137.5 L629.5 132.5 L634.3 127.4 L639.1 122.2 L643.9 117.0 L648.6 111.8 L653.3 106.4 L658.0 101.0M540.5 208.6 L534.8 204.3 L529.1 200.1 L523.5 196.0 L518.0 191.8 L512.5 187.8 L507.1 183.7 L501.7 179.8 L496.4 175.8 L491.1 171.9 L485.9 168.1 L480.8 164.3 L475.6 160.6 L470.6 156.9 L465.6 153.2 L460.6 149.6 L455.7 146.0 L450.8 142.5 L445.9 139.0 L441.2 135.5 L436.4 132.1 L431.7 128.7 L427.1 125.4 L422.4 122.1 L417.9 118.8M529.1 208.2 L534.8 204.3 L540.4 200.5 L546.0 196.5 L551.5 192.5 L557.0 188.4 L562.4 184.2 L567.8 180.0 L573.1 175.7 L578.4 171.3 L583.6 166.8 L588.7 162.3 L593.9 157.7 L599.0 153.1 L604.0 148.4 L609.0 143.6 L614.0 138.8 L618.9 133.9 L623.8 128.9 L628.6 123.8 L633.4 118.7 L638.2 113.6 L643.0 108.3 L647.7 103.0 L652.4 97.6M546.1 204.7 L540.4 200.5 L534.8 196.3 L529.2 192.1 L523.6 188.1 L518.2 184.0 L512.7 180.1 L507.4 176.1 L502.1 172.2 L496.8 168.4 L491.6 164.6 L486.4 160.8 L481.3 157.1 L476.2 153.4 L471.2 149.8 L466.2 146.2 L461.3 142.7 L456.4 139.1 L451.6 135.7 L446.8 132.3 L442.0 128.9 L437.3 125.5 L432.7 122.2 L428.0 118.9 L423.5 115.7M523.4 203.9 L529.1 200.1 L534.8 196.3 L540.4 192.4 L545.9 188.4 L551.4 184.3 L556.8 180.2 L562.1 176.0 L567.5 171.7 L572.7 167.4 L577.9 163.0 L583.1 158.5 L588.2 154.0 L593.3 149.4 L598.4 144.7 L603.4 139.9 L608.3 135.1 L613.3 130.3 L618.2 125.3 L623.0 120.3 L627.8 115.2 L632.6 110.1 L637.3 104.9 L642.1 99.6 L646.7 94.3M551.7 200.7 L546.0 196.5 L540.4 192.4 L534.8 188.3 L529.2 184.2 L523.8 180.2 L518.3 176.3 L513.0 172.4 L507.6 168.5 L502.4 164.7 L497.2 161.0 L492.0 157.2 L486.9 153.6 L481.8 149.9 L476.8 146.3 L471.8 142.8 L466.9 139.2 L462.0 135.8 L457.1 132.3 L452.3 128.9 L447.6 125.6 L442.9 122.3 L438.2 119.0 L433.6 115.7 L429.0 112.5M517.8 199.7 L523.5 196.0 L529.2 192.1 L534.8 188.3 L540.3 184.3 L545.8 180.3 L551.2 176.2 L556.6 172.1 L561.9 167.8 L567.1 163.5 L572.4 159.2 L577.5 154.7 L582.7 150.2 L587.8 145.7 L592.8 141.0 L597.8 136.3 L602.8 131.5 L607.7 126.7 L612.6 121.8 L617.4 116.8 L622.3 111.8 L627.0 106.7 L631.8 101.5 L636.5 96.3 L641.2 91.0M557.2 196.6 L551.5 192.5 L545.9 188.4 L540.3 184.3 L534.8 180.3 L529.3 176.4 L523.9 172.5 L518.5 168.6 L513.2 164.8 L507.9 161.0 L502.7 157.3 L497.5 153.6 L492.4 149.9 L487.3 146.3 L482.3 142.8 L477.3 139.2 L472.4 135.8 L467.5 132.3 L462.7 128.9 L457.9 125.6 L453.1 122.2 L448.4 118.9 L443.7 115.7 L439.1 112.5 L434.5 109.3M512.3 195.5 L518.0 191.8 L523.6 188.1 L529.2 184.2 L534.8 180.3 L540.2 176.3 L545.7 172.3 L551.0 168.2 L556.3 164.0 L561.6 159.7 L566.8 155.4 L572.0 151.0 L577.2 146.5 L582.2 142.0 L587.3 137.4 L592.3 132.7 L597.3 128.0 L602.2 123.2 L607.1 118.3 L611.9 113.4 L616.7 108.4 L621.5 103.3 L626.3 98.2 L631.0 93.0 L635.7 87.8M562.7 192.5 L557.0 188.4 L551.4 184.3 L545.8 180.3 L540.2 176.3 L534.8 172.4 L529.3 168.6 L524.0 164.7 L518.6 160.9 L513.4 157.2 L508.2 153.5 L503.0 149.9 L497.9 146.2 L492.8 142.7 L487.8 139.1 L482.8 135.7 L477.8 132.2 L473.0 128.8 L468.1 125.4 L463.3 122.1 L458.6 118.8 L453.8 115.5 L449.2 112.3 L444.5 109.1 L440.0 106.0M506.8 191.4 L512.5 187.8 L518.2 184.0 L523.8 180.2 L529.3 176.4 L534.8 172.4 L540.2 168.4 L545.6 164.3 L550.9 160.2 L556.1 156.0 L561.4 151.7 L566.5 147.3 L571.7 142.9 L576.8 138.4 L581.8 133.8 L586.8 129.2 L591.8 124.5 L596.7 119.7 L601.6 114.9 L606.4 110.0 L611.3 105.0 L616.0 100.0 L620.8 94.9 L625.5 89.8 L630.2 84.5M568.1 188.3 L562.4 184.2 L556.8 180.2 L551.2 176.2 L545.7 172.3 L540.2 168.4 L534.8 164.6 L529.4 160.8 L524.1 157.0 L518.8 153.3 L513.6 149.7 L508.4 146.1 L503.3 142.5 L498.2 138.9 L493.2 135.5 L488.2 132.0 L483.3 128.6 L478.4 125.2 L473.5 121.9 L468.7 118.6 L464.0 115.3 L459.2 112.1 L454.6 108.9 L449.9 105.7 L445.3 102.6M501.4 187.4 L507.1 183.7 L512.7 180.1 L518.3 176.3 L523.9 172.5 L529.3 168.6 L534.8 164.6 L540.1 160.5 L545.5 156.4 L550.7 152.2 L555.9 148.0 L561.1 143.7 L566.3 139.3 L571.3 134.8 L576.4 130.3 L581.4 125.7 L586.4 121.0 L591.3 116.3 L596.2 111.5 L601.0 106.6 L605.8 101.7 L610.6 96.7 L615.4 91.7 L620.1 86.5 L624.8 81.4M573.5 184.0 L567.8 180.0 L562.1 176.0 L556.6 172.1 L551.0 168.2 L545.6 164.3 L540.1 160.5 L534.8 156.8 L529.4 153.1 L524.2 149.4 L518.9 145.8 L513.8 142.2 L508.6 138.7 L503.6 135.1 L498.5 131.7 L493.6 128.3 L488.6 124.9 L483.7 121.5 L478.9 118.2 L474.1 115.0 L469.3 111.7 L464.6 108.5 L459.9 105.4 L455.3 102.2 L450.7 99.1M496.0 183.3 L501.7 179.8 L507.4 176.1 L513.0 172.4 L518.5 168.6 L524.0 164.7 L529.4 160.8 L534.8 156.8 L540.1 152.7 L545.4 148.6 L550.6 144.3 L555.8 140.0 L560.9 135.7 L566.0 131.3 L571.0 126.8 L576.0 122.2 L581.0 117.6 L585.9 112.9 L590.8 108.1 L595.7 103.3 L600.5 98.4 L605.2 93.5 L610.0 88.5 L614.7 83.4 L619.4 78.2M578.8 179.6 L573.1 175.7 L567.5 171.7 L561.9 167.8 L556.3 164.0 L550.9 160.2 L545.5 156.4 L540.1 152.7 L534.8 149.0 L529.5 145.4 L524.3 141.8 L519.1 138.3 L514.0 134.7 L508.9 131.3 L503.9 127.9 L498.9 124.5 L493.9 121.1 L489.0 117.8 L484.2 114.5 L479.4 111.3 L474.6 108.1 L469.9 104.9 L465.2 101.8 L460.6 98.7 L456.0 95.6M490.7 179.4 L496.4 175.8 L502.1 172.2 L507.6 168.5 L513.2 164.8 L518.6 160.9 L524.1 157.0 L529.4 153.1 L534.8 149.0 L540.0 144.9 L545.3 140.7 L550.4 136.5 L555.6 132.2 L560.7 127.8 L565.7 123.3 L570.7 118.8 L575.7 114.2 L580.6 109.6 L585.5 104.8 L590.3 100.0 L595.1 95.2 L599.9 90.3 L604.7 85.3 L609.4 80.2 L614.1 75.1M584.0 175.2 L578.4 171.3 L572.7 167.4 L567.1 163.5 L561.6 159.7 L556.1 156.0 L550.7 152.2 L545.4 148.6 L540.0 144.9 L534.8 141.3 L529.5 137.8 L524.4 134.2 L519.2 130.8 L514.2 127.3 L509.1 123.9 L504.1 120.6 L499.2 117.3 L494.3 114.0 L489.4 110.7 L484.6 107.5 L479.9 104.4 L475.1 101.2 L470.4 98.1 L465.8 95.0 L461.2 92.0M485.4 175.5 L491.1 171.9 L496.8 168.4 L502.4 164.7 L507.9 161.0 L513.4 157.2 L518.8 153.3 L524.2 149.4 L529.5 145.4 L534.8 141.3 L540.0 137.2 L545.2 133.0 L550.3 128.7 L555.4 124.3 L560.4 119.9 L565.4 115.4 L570.4 110.9 L575.3 106.2 L580.2 101.5 L585.0 96.8 L589.9 92.0 L594.6 87.1 L599.4 82.1 L604.1 77.1 L608.8 72.0M589.3 170.7 L583.6 166.8 L577.9 163.0 L572.4 159.2 L566.8 155.4 L561.4 151.7 L555.9 148.0 L550.6 144.3 L545.3 140.7 L540.0 137.2 L534.8 133.7 L529.6 130.2 L524.5 126.7 L519.4 123.3 L514.3 120.0 L509.3 116.6 L504.4 113.4 L499.5 110.1 L494.6 106.9 L489.8 103.7 L485.1 100.6 L480.3 97.5 L475.6 94.4 L471.0 91.3 L466.4 88.3M480.2 171.6 L485.9 168.1 L491.6 164.6 L497.2 161.0 L502.7 157.3 L508.2 153.5 L513.6 149.7 L518.9 145.8 L524.3 141.8 L529.5 137.8 L534.8 133.7 L539.9 129.5 L545.1 125.2 L550.2 120.9 L555.2 116.5 L560.2 112.1 L565.2 107.5 L570.1 103.0 L575.0 98.3 L579.8 93.6 L584.6 88.8 L589.4 83.9 L594.2 79.0 L598.9 74.0 L603.5 69.0M594.4 166.2 L588.7 162.3 L583.1 158.5 L577.5 154.7 L572.0 151.0 L566.5 147.3 L561.1 143.7 L555.8 140.0 L550.4 136.5 L545.2 133.0 L539.9 129.5 L534.8 126.0 L529.6 122.6 L524.5 119.3 L519.5 115.9 L514.5 112.6 L509.6 109.4 L504.7 106.2 L499.8 103.0 L495.0 99.8 L490.2 96.7 L485.5 93.6 L480.8 90.6 L476.1 87.6 L471.5 84.6M475.1 167.7 L480.8 164.3 L486.4 160.8 L492.0 157.2 L497.5 153.6 L503.0 149.9 L508.4 146.1 L513.8 142.2 L519.1 138.3 L524.4 134.2 L529.6 130.2 L534.8 126.0 L539.9 121.8 L545.0 117.5 L550.0 113.2 L555.0 108.8 L560.0 104.3 L564.9 99.7 L569.8 95.1 L574.6 90.4 L579.4 85.6 L584.2 80.8 L589.0 75.9 L593.7 71.0 L598.3 66.0M599.6 161.6 L593.9 157.7 L588.2 154.0 L582.7 150.2 L577.2 146.5 L571.7 142.9 L566.3 139.3 L560.9 135.7 L555.6 132.2 L550.3 128.7 L545.1 125.2 L539.9 121.8 L534.8 118.4 L529.7 115.1 L524.6 111.8 L519.6 108.5 L514.7 105.3 L509.8 102.1 L504.9 99.0 L500.1 95.9 L495.3 92.8 L490.6 89.7 L485.9 86.7 L481.3 83.7 L476.6 80.8M469.9 164.0 L475.6 160.6 L481.3 157.1 L486.9 153.6 L492.4 149.9 L497.9 146.2 L503.3 142.5 L508.6 138.7 L514.0 134.7 L519.2 130.8 L524.5 126.7 L529.6 122.6 L534.8 118.4 L539.8 114.2 L544.9 109.9 L549.9 105.5 L554.8 101.0 L559.8 96.5 L564.6 91.9 L569.5 87.3 L574.3 82.5 L579.1 77.7 L583.8 72.9 L588.5 68.0 L593.2 63.0M604.6 156.9 L599.0 153.1 L593.3 149.4 L587.8 145.7 L582.2 142.0 L576.8 138.4 L571.3 134.8 L566.0 131.3 L560.7 127.8 L555.4 124.3 L550.2 120.9 L545.0 117.5 L539.8 114.2 L534.8 110.9 L529.7 107.6 L524.7 104.4 L519.8 101.2 L514.9 98.0 L510.0 94.9 L505.2 91.8 L500.4 88.8 L495.7 85.8 L491.0 82.8 L486.3 79.8 L481.7 76.9M464.9 160.2 L470.6 156.9 L476.2 153.4 L481.8 149.9 L487.3 146.3 L492.8 142.7 L498.2 138.9 L503.6 135.1 L508.9 131.3 L514.2 127.3 L519.4 123.3 L524.5 119.3 L529.7 115.1 L534.8 110.9 L539.8 106.6 L544.8 102.2 L549.8 97.8 L554.7 93.3 L559.6 88.8 L564.4 84.2 L569.2 79.5 L574.0 74.7 L578.7 69.9 L583.4 65.0 L588.1 60.0M609.7 152.1 L604.0 148.4 L598.4 144.7 L592.8 141.0 L587.3 137.4 L581.8 133.8 L576.4 130.3 L571.0 126.8 L565.7 123.3 L560.4 119.9 L555.2 116.5 L550.0 113.2 L544.9 109.9 L539.8 106.6 L534.8 103.4 L529.8 100.2 L524.8 97.0 L519.9 93.9 L515.0 90.8 L510.2 87.7 L505.4 84.7 L500.7 81.7 L496.0 78.8 L491.3 75.8 L486.7 73.0M459.9 156.5 L465.6 153.2 L471.2 149.8 L476.8 146.3 L482.3 142.8 L487.8 139.1 L493.2 135.5 L498.5 131.7 L503.9 127.9 L509.1 123.9 L514.3 120.0 L519.5 115.9 L524.6 111.8 L529.7 107.6 L534.8 103.4 L539.8 99.0 L544.7 94.7 L549.6 90.2 L554.5 85.7 L559.4 81.1 L564.2 76.4 L568.9 71.7 L573.7 66.9 L578.4 62.0 L583.0 57.1M614.7 147.3 L609.0 143.6 L603.4 139.9 L597.8 136.3 L592.3 132.7 L586.8 129.2 L581.4 125.7 L576.0 122.2 L570.7 118.8 L565.4 115.4 L560.2 112.1 L555.0 108.8 L549.9 105.5 L544.8 102.2 L539.8 99.0 L534.8 95.9 L529.8 92.8 L524.9 89.7 L520.0 86.6 L515.2 83.6 L510.4 80.6 L505.7 77.6 L501.0 74.7 L496.3 71.8 L491.7 68.9M454.9 152.9 L460.6 149.6 L466.2 146.2 L471.8 142.8 L477.3 139.2 L482.8 135.7 L488.2 132.0 L493.6 128.3 L498.9 124.5 L504.1 120.6 L509.3 116.6 L514.5 112.6 L519.6 108.5 L524.7 104.4 L529.8 100.2 L534.8 95.9 L539.7 91.5 L544.6 87.1 L549.5 82.6 L554.3 78.0 L559.2 73.4 L563.9 68.7 L568.7 64.0 L573.4 59.1 L578.0 54.2M619.6 142.4 L614.0 138.8 L608.3 135.1 L602.8 131.5 L597.3 128.0 L591.8 124.5 L586.4 121.0 L581.0 117.6 L575.7 114.2 L570.4 110.9 L565.2 107.5 L560.0 104.3 L554.8 101.0 L549.8 97.8 L544.7 94.7 L539.7 91.5 L534.8 88.4 L529.8 85.4 L525.0 82.3 L520.1 79.3 L515.4 76.4 L510.6 73.4 L505.9 70.5 L501.2 67.7 L496.6 64.8M450.0 149.3 L455.7 146.0 L461.3 142.7 L466.9 139.2 L472.4 135.8 L477.8 132.2 L483.3 128.6 L488.6 124.9 L493.9 121.1 L499.2 117.3 L504.4 113.4 L509.6 109.4 L514.7 105.3 L519.8 101.2 L524.8 97.0 L529.8 92.8 L534.8 88.4 L539.7 84.0 L544.5 79.6 L549.4 75.0 L554.2 70.4 L559.0 65.8 L563.7 61.1 L568.4 56.3 L573.1 51.4M624.6 137.5 L618.9 133.9 L613.3 130.3 L607.7 126.7 L602.2 123.2 L596.7 119.7 L591.3 116.3 L585.9 112.9 L580.6 109.6 L575.3 106.2 L570.1 103.0 L564.9 99.7 L559.8 96.5 L554.7 93.3 L549.6 90.2 L544.6 87.1 L539.7 84.0 L534.8 81.0 L529.9 78.0 L525.0 75.0 L520.3 72.1 L515.5 69.2 L510.8 66.3 L506.1 63.5 L501.5 60.7M445.1 145.7 L450.8 142.5 L456.4 139.1 L462.0 135.8 L467.5 132.3 L473.0 128.8 L478.4 125.2 L483.7 121.5 L489.0 117.8 L494.3 114.0 L499.5 110.1 L504.7 106.2 L509.8 102.1 L514.9 98.0 L519.9 93.9 L524.9 89.7 L529.8 85.4 L534.8 81.0 L539.6 76.6 L544.5 72.1 L549.3 67.5 L554.0 62.9 L558.8 58.2 L563.5 53.4 L568.1 48.6M629.5 132.5 L623.8 128.9 L618.2 125.3 L612.6 121.8 L607.1 118.3 L601.6 114.9 L596.2 111.5 L590.8 108.1 L585.5 104.8 L580.2 101.5 L575.0 98.3 L569.8 95.1 L564.6 91.9 L559.6 88.8 L554.5 85.7 L549.5 82.6 L544.5 79.6 L539.6 76.6 L534.8 73.6 L529.9 70.7 L525.1 67.8 L520.4 64.9 L515.7 62.1 L511.0 59.2 L506.4 56.5M440.3 142.1 L445.9 139.0 L451.6 135.7 L457.1 132.3 L462.7 128.9 L468.1 125.4 L473.5 121.9 L478.9 118.2 L484.2 114.5 L489.4 110.7 L494.6 106.9 L499.8 103.0 L504.9 99.0 L510.0 94.9 L515.0 90.8 L520.0 86.6 L525.0 82.3 L529.9 78.0 L534.8 73.6 L539.6 69.1 L544.4 64.6 L549.1 60.0 L553.9 55.3 L558.6 50.6 L563.2 45.8M634.3 127.4 L628.6 123.8 L623.0 120.3 L617.4 116.8 L611.9 113.4 L606.4 110.0 L601.0 106.6 L595.7 103.3 L590.3 100.0 L585.0 96.8 L579.8 93.6 L574.6 90.4 L569.5 87.3 L564.4 84.2 L559.4 81.1 L554.3 78.0 L549.4 75.0 L544.5 72.1 L539.6 69.1 L534.8 66.2 L530.0 63.4 L525.2 60.5 L520.5 57.7 L515.8 54.9 L511.2 52.2M435.5 138.7 L441.2 135.5 L446.8 132.3 L452.3 128.9 L457.9 125.6 L463.3 122.1 L468.7 118.6 L474.1 115.0 L479.4 111.3 L484.6 107.5 L489.8 103.7 L495.0 99.8 L500.1 95.9 L505.2 91.8 L510.2 87.7 L515.2 83.6 L520.1 79.3 L525.0 75.0 L529.9 70.7 L534.8 66.2 L539.5 61.7 L544.3 57.2 L549.0 52.5 L553.7 47.8 L558.4 43.0M639.1 122.2 L633.4 118.7 L627.8 115.2 L622.3 111.8 L616.7 108.4 L611.3 105.0 L605.8 101.7 L600.5 98.4 L595.1 95.2 L589.9 92.0 L584.6 88.8 L579.4 85.6 L574.3 82.5 L569.2 79.5 L564.2 76.4 L559.2 73.4 L554.2 70.4 L549.3 67.5 L544.4 64.6 L539.5 61.7 L534.8 58.9 L530.0 56.1 L525.3 53.3 L520.6 50.5 L516.0 47.8M430.7 135.2 L436.4 132.1 L442.0 128.9 L447.6 125.6 L453.1 122.2 L458.6 118.8 L464.0 115.3 L469.3 111.7 L474.6 108.1 L479.9 104.4 L485.1 100.6 L490.2 96.7 L495.3 92.8 L500.4 88.8 L505.4 84.7 L510.4 80.6 L515.4 76.4 L520.3 72.1 L525.1 67.8 L530.0 63.4 L534.8 58.9 L539.5 54.3 L544.2 49.7 L548.9 45.1 L553.6 40.3M643.9 117.0 L638.2 113.6 L632.6 110.1 L627.0 106.7 L621.5 103.3 L616.0 100.0 L610.6 96.7 L605.2 93.5 L599.9 90.3 L594.6 87.1 L589.4 83.9 L584.2 80.8 L579.1 77.7 L574.0 74.7 L568.9 71.7 L563.9 68.7 L559.0 65.8 L554.0 62.9 L549.1 60.0 L544.3 57.2 L539.5 54.3 L534.7 51.6 L530.0 48.8 L525.4 46.1 L520.7 43.4M426.0 131.8 L431.7 128.7 L437.3 125.5 L442.9 122.3 L448.4 118.9 L453.8 115.5 L459.2 112.1 L464.6 108.5 L469.9 104.9 L475.1 101.2 L480.3 97.5 L485.5 93.6 L490.6 89.7 L495.7 85.8 L500.7 81.7 L505.7 77.6 L510.6 73.4 L515.5 69.2 L520.4 64.9 L525.2 60.5 L530.0 56.1 L534.7 51.6 L539.5 47.0 L544.2 42.3 L548.8 37.6M648.6 111.8 L643.0 108.3 L637.3 104.9 L631.8 101.5 L626.3 98.2 L620.8 94.9 L615.4 91.7 L610.0 88.5 L604.7 85.3 L599.4 82.1 L594.2 79.0 L589.0 75.9 L583.8 72.9 L578.7 69.9 L573.7 66.9 L568.7 64.0 L563.7 61.1 L558.8 58.2 L553.9 55.3 L549.0 52.5 L544.2 49.7 L539.5 47.0 L534.7 44.3 L530.1 41.6 L525.4 38.9M421.4 128.4 L427.1 125.4 L432.7 122.2 L438.2 119.0 L443.7 115.7 L449.2 112.3 L454.6 108.9 L459.9 105.4 L465.2 101.8 L470.4 98.1 L475.6 94.4 L480.8 90.6 L485.9 86.7 L491.0 82.8 L496.0 78.8 L501.0 74.7 L505.9 70.5 L510.8 66.3 L515.7 62.1 L520.5 57.7 L525.3 53.3 L530.0 48.8 L534.7 44.3 L539.4 39.6 L544.1 34.9M653.3 106.4 L647.7 103.0 L642.1 99.6 L636.5 96.3 L631.0 93.0 L625.5 89.8 L620.1 86.5 L614.7 83.4 L609.4 80.2 L604.1 77.1 L598.9 74.0 L593.7 71.0 L588.5 68.0 L583.4 65.0 L578.4 62.0 L573.4 59.1 L568.4 56.3 L563.5 53.4 L558.6 50.6 L553.7 47.8 L548.9 45.1 L544.2 42.3 L539.4 39.6 L534.7 37.0 L530.1 34.3M416.8 125.1 L422.4 122.1 L428.0 118.9 L433.6 115.7 L439.1 112.5 L444.5 109.1 L449.9 105.7 L455.3 102.2 L460.6 98.7 L465.8 95.0 L471.0 91.3 L476.1 87.6 L481.3 83.7 L486.3 79.8 L491.3 75.8 L496.3 71.8 L501.2 67.7 L506.1 63.5 L511.0 59.2 L515.8 54.9 L520.6 50.5 L525.4 46.1 L530.1 41.6 L534.7 37.0 L539.4 32.3M658.0 101.0 L652.4 97.6 L646.7 94.3 L641.2 91.0 L635.7 87.8 L630.2 84.5 L624.8 81.4 L619.4 78.2 L614.1 75.1 L608.8 72.0 L603.5 69.0 L598.3 66.0 L593.2 63.0 L588.1 60.0 L583.0 57.1 L578.0 54.2 L573.1 51.4 L568.1 48.6 L563.2 45.8 L558.4 43.0 L553.6 40.3 L548.8 37.6 L544.1 34.9 L539.4 32.3 L534.7 29.7M412.2 121.8 L417.9 118.8 L423.5 115.7 L429.0 112.5 L434.5 109.3 L440.0 106.0 L445.3 102.6 L450.7 99.1 L456.0 95.6 L461.2 92.0 L466.4 88.3 L471.5 84.6 L476.6 80.8 L481.7 76.9 L486.7 73.0 L491.7 68.9 L496.6 64.8 L501.5 60.7 L506.4 56.5 L511.2 52.2 L516.0 47.8 L520.7 43.4 L525.4 38.9 L530.1 34.3 L534.7 29.7" stroke="#000" stroke-opacity="0.17" stroke-width="0.6" fill="none"/><circle cx="415.1" cy="180.6" r="0.9" fill="#111"/><text x="410.5" y="178.5" font-size="8.2" text-anchor="end" fill="#555" font-family="Liberation Sans, sans-serif">55</text><circle cx="414.1" cy="160.2" r="0.9" fill="#111"/><text x="409.5" y="158.1" font-size="8.2" text-anchor="end" fill="#555" font-family="Liberation Sans, sans-serif">60</text><circle cx="413.1" cy="139.8" r="0.9" fill="#111"/><text x="408.5" y="137.7" font-size="8.2" text-anchor="end" fill="#555" font-family="Liberation Sans, sans-serif">65</text><circle cx="412.1" cy="119.3" r="0.9" fill="#111"/><text x="407.5" y="117.2" font-size="8.2" text-anchor="end" fill="#555" font-family="Liberation Sans, sans-serif">70</text><circle cx="411.1" cy="98.9" r="0.9" fill="#111"/><text x="406.5" y="96.8" font-size="8.2" text-anchor="end" fill="#555" font-family="Liberation Sans, sans-serif">75</text><circle cx="410.1" cy="78.5" r="0.9" fill="#111"/><text x="405.5" y="76.4" font-size="8.2" text-anchor="end" fill="#555" font-family="Liberation Sans, sans-serif">80</text><circle cx="409.1" cy="58.0" r="0.9" fill="#111"/><text x="404.5" y="55.9" font-size="8.2" text-anchor="end" fill="#555" font-family="Liberation Sans, sans-serif">85</text><circle cx="417.0" cy="218.9" r="0.9" fill="#111"/><circle cx="534.8" cy="274.7" r="0.9" fill="#111"/><circle cx="446.4" cy="232.9" r="0.9" fill="#111"/><circle cx="564.1" cy="260.8" r="0.9" fill="#111"/><circle cx="475.9" cy="246.8" r="0.9" fill="#111"/><circle cx="593.5" cy="246.8" r="0.9" fill="#111"/><circle cx="505.3" cy="260.8" r="0.9" fill="#111"/><circle cx="622.9" cy="232.9" r="0.9" fill="#111"/><circle cx="534.8" cy="274.7" r="0.9" fill="#111"/><circle cx="652.2" cy="218.9" r="0.9" fill="#111"/><circle cx="412.2" cy="121.0" r="2.4" fill="#cc0000" stroke="#8a0000" stroke-width="0.6"/><circle cx="657.9" cy="103.3" r="2.4" fill="#f0c0c0" stroke="#e8b8b8" stroke-width="0.6"/><circle cx="534.8" cy="209.3" r="2.4" fill="#cc0000" stroke="#8a0000" stroke-width="0.6"/><rect x="532.5" y="112.3" width="4.6" height="7.2" rx="2.3" fill="#cc0000" stroke="#8a0000" stroke-width="0.5"/><polyline points="408.6,513.0 529.5,472.7 649.4,513.3" stroke="#d4d4d4" stroke-width="0.8" fill="none"/><polyline points="407.4,488.2 529.5,450.6 650.5,488.7" stroke="#d4d4d4" stroke-width="0.8" fill="none"/><polyline points="406.2,463.5 529.5,428.4 651.6,464.1" stroke="#d4d4d4" stroke-width="0.8" fill="none"/><polyline points="405.0,438.7 529.4,406.2 652.7,439.5" stroke="#d4d4d4" stroke-width="0.8" fill="none"/><polyline points="403.8,414.0 529.4,384.1 653.8,414.9" stroke="#d4d4d4" stroke-width="0.8" fill="none"/><polyline points="402.6,389.2 529.4,361.9 654.9,390.3" stroke="#d4d4d4" stroke-width="0.8" fill="none"/><polyline points="438.8,502.9 434.3,382.4" stroke="#d4d4d4" stroke-width="0.8" fill="none"/><polyline points="559.5,482.9 560.8,369.0" stroke="#d4d4d4" stroke-width="0.8" fill="none"/><polyline points="469.1,492.9 466.0,375.6" stroke="#d4d4d4" stroke-width="0.8" fill="none"/><polyline points="589.5,493.0 592.1,376.1" stroke="#d4d4d4" stroke-width="0.8" fill="none"/><polyline points="499.3,482.8 497.7,368.7" stroke="#d4d4d4" stroke-width="0.8" fill="none"/><polyline points="619.4,503.1 623.5,383.2" stroke="#d4d4d4" stroke-width="0.8" fill="none"/><polyline points="529.5,472.7 529.4,361.9" stroke="#d4d4d4" stroke-width="0.8" fill="none"/><polyline points="410.5,551.8 402.6,389.2" stroke="#d4d4d4" stroke-width="0.8" fill="none"/><polyline points="647.7,551.8 654.9,390.3" stroke="#d4d4d4" stroke-width="0.8" fill="none"/><polygon points="410.5,551.8 529.2,608.2 647.7,551.8 529.6,507.7" fill="#676767"/><path d="M455.7 573.3 454.9 572.4 453.4 570.5 451.8 568.6 450.2 566.8 448.5 565.0 446.9 563.2 445.3 561.5 443.7 559.7 442.0 558.0 440.4 556.3 438.8 554.6 437.1 553.0 435.5 551.3 433.8 549.7 432.2 548.1 430.6 546.5 429.0 544.9" stroke="#3891ab" stroke-width="0.8" fill="none"/><path d="M588.9 579.8 585.1 578.6 581.3 577.4 577.6 576.2 574.0 575.0 570.4 573.8 566.8 572.6 563.3 571.3 559.9 570.1 556.5 568.8 553.1 567.6 549.8 566.3 546.5 565.1 543.3 563.8 540.1 562.5 537.0 561.3 533.9 560.0 530.8 558.7 527.8 557.5 524.9 556.2 521.9 554.9 519.0 553.6 516.2 552.4 513.3 551.1 510.5 549.8 507.8 548.5 505.1 547.3 502.4 546.0 499.7 544.7 497.1 543.5 494.5 542.2 491.9 540.9 489.4 539.7 486.9 538.4 484.4 537.2 482.0 535.9 479.5 534.7 477.1 533.4 474.8 532.2 472.4 530.9 470.1 529.7" stroke="#38ab66" stroke-width="0.8" fill="none"/><path d="M629.0 560.7 625.1 559.7 621.1 558.7 617.3 557.8 613.4 556.8 609.7 555.7 605.9 554.7 602.2 553.7 598.5 552.7 594.9 551.7 591.3 550.6 587.8 549.6 584.3 548.5 580.8 547.5 577.3 546.5 573.9 545.4 570.6 544.3 567.3 543.3 564.0 542.2 560.7 541.2 557.5 540.1 554.3 539.0 551.2 538.0 548.0 536.9 545.0 535.8 541.9 534.8 538.9 533.7 535.9 532.6 533.0 531.5 530.0 530.5 527.2 529.4 524.3 528.3 521.5 527.3 518.7 526.2 515.9 525.1 513.2 524.0 510.4 523.0 507.8 521.9 505.1 520.8 502.5 519.8 499.9 518.7" stroke="#6bab38" stroke-width="0.8" fill="none"/><path d="M594.4 531.9 594.2 531.9 590.8 530.9 587.4 530.0 584.1 529.0 580.8 528.1 577.5 527.1 574.3 526.2 571.1 525.2 567.9 524.3 564.8 523.3 561.7 522.4 558.6 521.4 555.5 520.4 552.5 519.5 549.5 518.5 546.5 517.6 543.6 516.6 540.7 515.6 537.8 514.7 534.9 513.7 532.1 512.8 529.3 511.8 526.5 510.8 523.7 509.9" stroke="#ab8b38" stroke-width="0.8" fill="none"/><g fill="currentColor" stroke="currentColor" stroke-width="0.5"><polygon color="#ff9400" points="529.4,385.8 534.0,380.0 529.4,378.6 524.7,384.4"/><polygon color="#ffc000" points="524.7,391.6 529.4,385.8 524.7,384.4 520.1,390.2"/><polygon color="#ff9600" points="534.0,387.2 538.7,381.4 534.0,380.0 529.4,385.8"/><polygon color="#ffea00" points="520.0,397.3 524.7,391.6 520.1,390.2 515.4,396.0"/><polygon color="#ffc200" points="529.4,393.0 534.0,387.2 529.4,385.8 524.7,391.6"/><polygon color="#ff9900" points="538.8,388.7 543.4,382.9 538.7,381.4 534.0,387.2"/><polygon color="#eaff00" points="515.3,402.9 520.0,397.3 515.4,396.0 510.7,401.6"/><polygon color="#ffec00" points="524.7,398.7 529.4,393.0 524.7,391.6 520.0,397.3"/><polygon color="#ffc400" points="534.1,394.4 538.8,388.7 534.0,387.2 529.4,393.0"/><polygon color="#c1ff00" points="510.5,408.4 515.3,402.9 510.7,401.6 505.9,407.1"/><polygon color="#ff9c00" points="543.5,390.2 548.2,384.4 543.4,382.9 538.8,388.7"/><polygon color="#e9ff00" points="519.9,404.3 524.7,398.7 520.0,397.3 515.3,402.9"/><polygon color="#ffed00" points="529.4,400.1 534.1,394.4 529.4,393.0 524.7,398.7"/><polygon color="#99ff00" points="505.7,413.9 510.5,408.4 505.9,407.1 501.1,412.6"/><polygon color="#ffc600" points="538.8,395.9 543.5,390.2 538.8,388.7 534.1,394.4"/><polygon color="#c0ff00" points="515.1,409.8 519.9,404.3 515.3,402.9 510.5,408.4"/><polygon color="#ff9f00" points="548.3,391.7 553.0,385.9 548.2,384.4 543.5,390.2"/><polygon color="#e8ff00" points="524.6,405.7 529.4,400.1 524.7,398.7 519.9,404.3"/><polygon color="#72ff00" points="500.8,419.3 505.7,413.9 501.1,412.6 496.3,418.0"/><polygon color="#ffef00" points="534.1,401.5 538.8,395.9 534.1,394.4 529.4,400.1"/><polygon color="#99ff00" points="510.3,415.2 515.1,409.8 510.5,408.4 505.7,413.9"/><polygon color="#ffc900" points="543.6,397.4 548.3,391.7 543.5,390.2 538.8,395.9"/><polygon color="#bfff00" points="519.8,411.2 524.6,405.7 519.9,404.3 515.1,409.8"/><polygon color="#ffa200" points="553.2,393.3 557.8,387.5 553.0,385.9 548.3,391.7"/><polygon color="#4cff00" points="496.0,424.5 500.8,419.3 496.3,418.0 491.4,423.3"/><polygon color="#e6ff00" points="529.3,407.1 534.1,401.5 529.4,400.1 524.6,405.7"/><polygon color="#72ff00" points="505.5,420.6 510.3,415.2 505.7,413.9 500.8,419.3"/><polygon color="#fff200" points="538.9,403.1 543.6,397.4 538.8,395.9 534.1,401.5"/><polygon color="#98ff00" points="515.0,416.6 519.8,411.2 515.1,409.8 510.3,415.2"/><polygon color="#ffcc00" points="548.5,399.0 553.2,393.3 548.3,391.7 543.6,397.4"/><polygon color="#28ff00" points="491.1,429.8 496.0,424.5 491.4,423.3 486.5,428.5"/><polygon color="#beff00" points="524.6,412.6 529.3,407.1 524.6,405.7 519.8,411.2"/><polygon color="#ffa600" points="558.1,394.9 562.7,389.2 557.8,387.5 553.2,393.3"/><polygon color="#4dff00" points="500.6,425.8 505.5,420.6 500.8,419.3 496.0,424.5"/><polygon color="#e4ff00" points="534.1,408.6 538.9,403.1 534.1,401.5 529.3,407.1"/><polygon color="#72ff00" points="510.2,421.9 515.0,416.6 510.3,415.2 505.5,420.6"/><polygon color="#fff400" points="543.7,404.6 548.5,399.0 543.6,397.4 538.9,403.1"/><polygon color="#04ff00" points="486.1,434.9 491.1,429.8 486.5,428.5 481.6,433.7"/><polygon color="#98ff00" points="519.7,418.0 524.6,412.6 519.8,411.2 515.0,416.6"/><polygon color="#ffcf00" points="553.4,400.6 558.1,394.9 553.2,393.3 548.5,399.0"/><polygon color="#29ff00" points="495.7,431.0 500.6,425.8 496.0,424.5 491.1,429.8"/><polygon color="#bdff00" points="529.3,414.1 534.1,408.6 529.3,407.1 524.6,412.6"/><polygon color="#ffaa00" points="563.0,396.6 567.7,390.9 562.7,389.2 558.1,394.9"/><polygon color="#4eff00" points="505.3,427.2 510.2,421.9 505.5,420.6 500.6,425.8"/><polygon color="#e2ff00" points="539.0,410.1 543.7,404.6 538.9,403.1 534.1,408.6"/><polygon color="#00ff1e" points="481.1,439.9 486.1,434.9 481.6,433.7 476.6,438.7"/><polygon color="#72ff00" points="514.9,423.3 519.7,418.0 515.0,416.6 510.2,421.9"/><polygon color="#fff700" points="548.6,406.2 553.4,400.6 548.5,399.0 543.7,404.6"/><polygon color="#06ff00" points="490.7,436.1 495.7,431.0 491.1,429.8 486.1,434.9"/><polygon color="#97ff00" points="524.5,419.4 529.3,414.1 524.6,412.6 519.7,418.0"/><polygon color="#ffd300" points="558.3,402.3 563.0,396.6 558.1,394.9 553.4,400.6"/><polygon color="#2aff00" points="500.3,432.3 505.3,427.2 500.6,425.8 495.7,431.0"/><polygon color="#bbff00" points="534.2,415.6 539.0,410.1 534.1,408.6 529.3,414.1"/><polygon color="#ffae00" points="568.0,398.4 572.7,392.6 567.7,390.9 563.0,396.6"/><polygon color="#4eff00" points="510.0,428.5 514.9,423.3 510.2,421.9 505.3,427.2"/><polygon color="#00ff3f" points="476.1,444.9 481.1,439.9 476.6,438.7 471.6,443.7"/><polygon color="#e0ff00" points="543.8,411.7 548.6,406.2 543.7,404.6 539.0,410.1"/><polygon color="#72ff00" points="519.6,424.7 524.5,419.4 519.7,418.0 514.9,423.3"/><polygon color="#00ff1c" points="485.7,441.2 490.7,436.1 486.1,434.9 481.1,439.9"/><polygon color="#fffa00" points="553.5,407.9 558.3,402.3 553.4,400.6 548.6,406.2"/><polygon color="#95ff00" points="529.3,420.9 534.2,415.6 529.3,414.1 524.5,419.4"/><polygon color="#07ff00" points="495.4,437.4 500.3,432.3 495.7,431.0 490.7,436.1"/><polygon color="#ffd700" points="563.3,404.0 568.0,398.4 563.0,396.6 558.3,402.3"/><polygon color="#2aff00" points="505.0,433.7 510.0,428.5 505.3,427.2 500.3,432.3"/><polygon color="#b9ff00" points="539.0,417.2 543.8,411.7 539.0,410.1 534.2,415.6"/><polygon color="#00ff5e" points="471.0,449.8 476.1,444.9 471.6,443.7 466.5,448.6"/><polygon color="#ffb300" points="573.0,400.1 577.7,394.4 572.7,392.6 568.0,398.4"/><polygon color="#4eff00" points="514.7,430.0 519.6,424.7 514.9,423.3 510.0,428.5"/><polygon color="#ddff00" points="548.8,413.4 553.5,407.9 548.6,406.2 543.8,411.7"/><polygon color="#00ff3c" points="480.7,446.1 485.7,441.2 481.1,439.9 476.1,444.9"/><polygon color="#71ff00" points="524.5,426.2 529.3,420.9 524.5,419.4 519.6,424.7"/><polygon color="#fffe00" points="558.5,409.6 563.3,404.0 558.3,402.3 553.5,407.9"/><polygon color="#00ff1a" points="490.4,442.4 495.4,437.4 490.7,436.1 485.7,441.2"/><polygon color="#94ff00" points="534.2,422.5 539.0,417.2 534.2,415.6 529.3,420.9"/><polygon color="#ffdb00" points="568.3,405.8 573.0,400.1 568.0,398.4 563.3,404.0"/><polygon color="#08ff00" points="500.1,438.8 505.0,433.7 500.3,432.3 495.4,437.4"/><polygon color="#00ff7d" points="465.9,454.6 471.0,449.8 466.5,448.6 461.4,453.4"/><polygon color="#b7ff00" points="544.0,418.8 548.8,413.4 543.8,411.7 539.0,417.2"/><polygon color="#ffb800" points="578.1,402.0 582.8,396.3 577.7,394.4 573.0,400.1"/><polygon color="#2bff00" points="509.8,435.1 514.7,430.0 510.0,428.5 505.0,433.7"/><polygon color="#00ff5b" points="475.6,451.0 480.7,446.1 476.1,444.9 471.0,449.8"/><polygon color="#daff00" points="553.7,415.0 558.5,409.6 553.5,407.9 548.8,413.4"/><polygon color="#4dff00" points="519.5,431.4 524.5,426.2 519.6,424.7 514.7,430.0"/><polygon color="#00ff3a" points="485.3,447.4 490.4,442.4 485.7,441.2 480.7,446.1"/><polygon color="#fdff00" points="563.5,411.3 568.3,405.8 563.3,404.0 558.5,409.6"/><polygon color="#70ff00" points="529.3,427.8 534.2,422.5 529.3,420.9 524.5,426.2"/><polygon color="#00ff18" points="495.1,443.7 500.1,438.8 495.4,437.4 490.4,442.4"/><polygon color="#00ff9a" points="460.8,459.3 465.9,454.6 461.4,453.4 456.3,458.2"/><polygon color="#ffdf00" points="573.4,407.6 578.1,402.0 573.0,400.1 568.3,405.8"/><polygon color="#92ff00" points="539.1,424.1 544.0,418.8 539.0,417.2 534.2,422.5"/><polygon color="#09ff00" points="504.8,440.1 509.8,435.1 505.0,433.7 500.1,438.8"/><polygon color="#00ff79" points="470.5,455.7 475.6,451.0 471.0,449.8 465.9,454.6"/><polygon color="#ffbd00" points="583.2,403.8 587.9,398.2 582.8,396.3 578.1,402.0"/><polygon color="#b4ff00" points="548.9,420.4 553.7,415.0 548.8,413.4 544.0,418.8"/><polygon color="#2bff00" points="514.6,436.5 519.5,431.4 514.7,430.0 509.8,435.1"/><polygon color="#00ff59" points="480.2,452.2 485.3,447.4 480.7,446.1 475.6,451.0"/><polygon color="#d7ff00" points="558.8,416.8 563.5,411.3 558.5,409.6 553.7,415.0"/><polygon color="#4dff00" points="524.4,432.9 529.3,427.8 524.5,426.2 519.5,431.4"/><polygon color="#00ff38" points="490.0,448.7 495.1,443.7 490.4,442.4 485.3,447.4"/><polygon color="#00ffb7" points="455.6,463.9 460.8,459.3 456.3,458.2 451.1,462.8"/><polygon color="#f9ff00" points="568.6,413.1 573.4,407.6 568.3,405.8 563.5,411.3"/><polygon color="#6eff00" points="534.2,429.3 539.1,424.1 534.2,422.5 529.3,427.8"/><polygon color="#00ff17" points="499.8,445.1 504.8,440.1 500.1,438.8 495.1,443.7"/><polygon color="#00ff96" points="465.3,460.4 470.5,455.7 465.9,454.6 460.8,459.3"/><polygon color="#ffe400" points="578.5,409.4 583.2,403.8 578.1,402.0 573.4,407.6"/><polygon color="#90ff00" points="544.1,425.7 548.9,420.4 544.0,418.8 539.1,424.1"/><polygon color="#0aff00" points="509.6,441.6 514.6,436.5 509.8,435.1 504.8,440.1"/><polygon color="#00ff76" points="475.1,456.9 480.2,452.2 475.6,451.0 470.5,455.7"/><polygon color="#ffc200" points="588.4,405.8 593.1,400.1 587.9,398.2 583.2,403.8"/><polygon color="#b2ff00" points="553.9,422.1 558.8,416.8 553.7,415.0 548.9,420.4"/><polygon color="#2bff00" points="519.4,438.0 524.4,432.9 519.5,431.4 514.6,436.5"/><polygon color="#00ff56" points="484.9,453.5 490.0,448.7 485.3,447.4 480.2,452.2"/><polygon color="#d3ff00" points="563.8,418.5 568.6,413.1 563.5,411.3 558.8,416.8"/><polygon color="#4cff00" points="529.3,434.5 534.2,429.3 529.3,427.8 524.4,432.9"/><polygon color="#00ffd2" points="450.3,468.4 455.6,463.9 451.1,462.8 445.8,467.4"/><polygon color="#00ff36" points="494.7,450.0 499.8,445.1 495.1,443.7 490.0,448.7"/><polygon color="#f4ff00" points="573.7,414.9 578.5,409.4 573.4,407.6 568.6,413.1"/><polygon color="#6dff00" points="539.2,431.0 544.1,425.7 539.1,424.1 534.2,429.3"/><polygon color="#00ffb2" points="460.1,465.0 465.3,460.4 460.8,459.3 455.6,463.9"/><polygon color="#00ff16" points="504.6,446.5 509.6,441.6 504.8,440.1 499.8,445.1"/><polygon color="#ffe900" points="583.7,411.3 588.4,405.8 583.2,403.8 578.5,409.4"/><polygon color="#00ff93" points="469.9,461.6 475.1,456.9 470.5,455.7 465.3,460.4"/><polygon color="#8eff00" points="549.1,427.4 553.9,422.1 548.9,420.4 544.1,425.7"/><polygon color="#0aff00" points="514.5,443.0 519.4,438.0 514.6,436.5 509.6,441.6"/><polygon color="#ffc800" points="593.6,407.7 598.3,402.1 593.1,400.1 588.4,405.8"/><polygon color="#00ff73" points="479.8,458.2 484.9,453.5 480.2,452.2 475.1,456.9"/><polygon color="#aeff00" points="559.0,423.9 563.8,418.5 558.8,416.8 553.9,422.1"/><polygon color="#2aff00" points="524.3,439.6 529.3,434.5 524.4,432.9 519.4,438.0"/><polygon color="#00ffec" points="445.0,472.9 450.3,468.4 445.8,467.4 440.6,471.9"/><polygon color="#00ff54" points="489.6,454.8 494.7,450.0 490.0,448.7 484.9,453.5"/><polygon color="#cfff00" points="568.9,420.4 573.7,414.9 568.6,413.1 563.8,418.5"/><polygon color="#4bff00" points="534.3,436.1 539.2,431.0 534.2,429.3 529.3,434.5"/><polygon color="#00ffcd" points="454.9,469.6 460.1,465.0 455.6,463.9 450.3,468.4"/><polygon color="#00ff35" points="499.5,451.4 504.6,446.5 499.8,445.1 494.7,450.0"/><polygon color="#f0ff00" points="578.9,416.8 583.7,411.3 578.5,409.4 573.7,414.9"/><polygon color="#6bff00" points="544.2,432.6 549.1,427.4 544.1,425.7 539.2,431.0"/><polygon color="#00ffae" points="464.7,466.2 469.9,461.6 465.3,460.4 460.1,465.0"/><polygon color="#00ff15" points="509.4,448.0 514.5,443.0 509.6,441.6 504.6,446.5"/><polygon color="#ffee00" points="588.9,413.3 593.6,407.7 588.4,405.8 583.7,411.3"/><polygon color="#8bff00" points="554.1,429.2 559.0,423.9 553.9,422.1 549.1,427.4"/><polygon color="#00ff8f" points="474.6,462.9 479.8,458.2 475.1,456.9 469.9,461.6"/><polygon color="#0aff00" points="519.3,444.6 524.3,439.6 519.4,438.0 514.5,443.0"/><polygon color="#ffce00" points="598.9,409.8 603.6,404.1 598.3,402.1 593.6,407.7"/><polygon color="#abff00" points="564.1,425.7 568.9,420.4 563.8,418.5 559.0,423.9"/><polygon color="#00f9ff" points="439.7,477.3 445.0,472.9 440.6,471.9 435.2,476.3"/><polygon color="#00ff71" points="484.5,459.5 489.6,454.8 484.9,453.5 479.8,458.2"/><polygon color="#2aff00" points="529.3,441.2 534.3,436.1 529.3,434.5 524.3,439.6"/><polygon color="#cbff00" points="574.1,422.2 578.9,416.8 573.7,414.9 568.9,420.4"/><polygon color="#00ffe7" points="449.6,474.0 454.9,469.6 450.3,468.4 445.0,472.9"/><polygon color="#00ff52" points="494.4,456.2 499.5,451.4 494.7,450.0 489.6,454.8"/><polygon color="#49ff00" points="539.3,437.8 544.2,432.6 539.2,431.0 534.3,436.1"/><polygon color="#00ffc9" points="459.5,470.7 464.7,466.2 460.1,465.0 454.9,469.6"/><polygon color="#ebff00" points="584.1,418.8 588.9,413.3 583.7,411.3 578.9,416.8"/><polygon color="#00ff33" points="504.4,452.8 509.4,448.0 504.6,446.5 499.5,451.4"/><polygon color="#69ff00" points="549.2,434.4 554.1,429.2 549.1,427.4 544.2,432.6"/><polygon color="#00ffab" points="469.4,467.4 474.6,462.9 469.9,461.6 464.7,466.2"/><polygon color="#fff300" points="594.2,415.3 598.9,409.8 593.6,407.7 588.9,413.3"/><polygon color="#00ff15" points="514.3,449.5 519.3,444.6 514.5,443.0 509.4,448.0"/><polygon color="#88ff00" points="559.3,431.0 564.1,425.7 559.0,423.9 554.1,429.2"/><polygon color="#00ff8c" points="479.3,464.1 484.5,459.5 479.8,458.2 474.6,462.9"/><polygon color="#00e2ff" points="434.3,481.6 439.7,477.3 435.2,476.3 429.8,480.6"/><polygon color="#ffd400" points="604.2,411.8 608.9,406.2 603.6,404.1 598.9,409.8"/><polygon color="#0aff00" points="524.3,446.1 529.3,441.2 524.3,439.6 519.3,444.6"/><polygon color="#a7ff00" points="569.3,427.6 574.1,422.2 568.9,420.4 564.1,425.7"/><polygon color="#00ff6e" points="489.3,460.9 494.4,456.2 489.6,454.8 484.5,459.5"/><polygon color="#00feff" points="444.2,478.4 449.6,474.0 445.0,472.9 439.7,477.3"/><polygon color="#29ff00" points="534.3,442.8 539.3,437.8 534.3,436.1 529.3,441.2"/><polygon color="#c7ff00" points="579.3,424.2 584.1,418.8 578.9,416.8 574.1,422.2"/><polygon color="#00ffe2" points="454.1,475.1 459.5,470.7 454.9,469.6 449.6,474.0"/><polygon color="#00ff50" points="499.2,457.6 504.4,452.8 499.5,451.4 494.4,456.2"/><polygon color="#47ff00" points="544.3,439.5 549.2,434.4 544.2,432.6 539.3,437.8"/><polygon color="#e6ff00" points="589.4,420.8 594.2,415.3 588.9,413.3 584.1,418.8"/><polygon color="#00ffc4" points="464.1,471.9 469.4,467.4 464.7,466.2 459.5,470.7"/><polygon color="#00ff33" points="509.2,454.3 514.3,449.5 509.4,448.0 504.4,452.8"/><polygon color="#66ff00" points="554.3,436.1 559.3,431.0 554.1,429.2 549.2,434.4"/><polygon color="#fff900" points="599.5,417.4 604.2,411.8 598.9,409.8 594.2,415.3"/><polygon color="#00ffa7" points="474.1,468.7 479.3,464.1 474.6,462.9 469.4,467.4"/><polygon color="#00ff15" points="519.2,451.0 524.3,446.1 519.3,444.6 514.3,449.5"/><polygon color="#00cbff" points="428.9,485.8 434.3,481.6 429.8,480.6 424.4,484.8"/><polygon color="#85ff00" points="564.4,432.8 569.3,427.6 564.1,425.7 559.3,431.0"/><polygon color="#ffdb00" points="609.6,414.0 614.3,408.4 608.9,406.2 604.2,411.8"/><polygon color="#00ff8a" points="484.1,465.5 489.3,460.9 484.5,459.5 479.3,464.1"/><polygon color="#09ff00" points="529.3,447.8 534.3,442.8 529.3,441.2 524.3,446.1"/><polygon color="#00e8ff" points="438.8,482.6 444.2,478.4 439.7,477.3 434.3,481.6"/><polygon color="#a3ff00" points="574.5,429.5 579.3,424.2 574.1,422.2 569.3,427.6"/><polygon color="#00ff6c" points="494.1,462.3 499.2,457.6 494.4,456.2 489.3,460.9"/><polygon color="#27ff00" points="539.3,444.5 544.3,439.5 539.3,437.8 534.3,442.8"/><polygon color="#00fffa" points="448.8,479.5 454.1,475.1 449.6,474.0 444.2,478.4"/><polygon color="#c2ff00" points="584.6,426.1 589.4,420.8 584.1,418.8 579.3,424.2"/><polygon color="#00ff4f" points="504.1,459.0 509.2,454.3 504.4,452.8 499.2,457.6"/><polygon color="#45ff00" points="549.4,441.2 554.3,436.1 549.2,434.4 544.3,439.5"/><polygon color="#00ffdd" points="458.8,476.3 464.1,471.9 459.5,470.7 454.1,475.1"/><polygon color="#e0ff00" points="594.7,422.8 599.5,417.4 594.2,415.3 589.4,420.8"/><polygon color="#00ff32" points="514.2,455.8 519.2,451.0 514.3,449.5 509.2,454.3"/><polygon color="#63ff00" points="559.5,437.9 564.4,432.8 559.3,431.0 554.3,436.1"/><polygon color="#00ffc1" points="468.8,473.1 474.1,468.7 469.4,467.4 464.1,471.9"/><polygon color="#ffff00" points="604.9,419.5 609.6,414.0 604.2,411.8 599.5,417.4"/><polygon color="#00b6ff" points="423.4,489.9 428.9,485.8 424.4,484.8 418.9,489.0"/><polygon color="#00ff15" points="524.2,452.6 529.3,447.8 524.3,446.1 519.2,451.0"/><polygon color="#81ff00" points="569.6,434.7 574.5,429.5 569.3,427.6 564.4,432.8"/><polygon color="#00ffa4" points="478.8,470.0 484.1,465.5 479.3,464.1 474.1,468.7"/><polygon color="#ffe200" points="615.0,416.2 619.7,410.6 614.3,408.4 609.6,414.0"/><polygon color="#00d2ff" points="433.4,486.8 438.8,482.6 434.3,481.6 428.9,485.8"/><polygon color="#08ff00" points="534.3,449.4 539.3,444.5 534.3,442.8 529.3,447.8"/><polygon color="#00ff87" points="488.9,466.8 494.1,462.3 489.3,460.9 484.1,465.5"/><polygon color="#9fff00" points="579.8,431.4 584.6,426.1 579.3,424.2 574.5,429.5"/><polygon color="#00edff" points="443.4,483.7 448.8,479.5 444.2,478.4 438.8,482.6"/><polygon color="#26ff00" points="544.4,446.2 549.4,441.2 544.3,439.5 539.3,444.5"/><polygon color="#00ff6b" points="498.9,463.7 504.1,459.0 499.2,457.6 494.1,462.3"/><polygon color="#bdff00" points="589.9,428.2 594.7,422.8 589.4,420.8 584.6,426.1"/><polygon color="#00fff5" points="453.4,480.6 458.8,476.3 454.1,475.1 448.8,479.5"/><polygon color="#43ff00" points="554.6,443.0 559.5,437.9 554.3,436.1 549.4,441.2"/><polygon color="#00ff4e" points="509.0,460.5 514.2,455.8 509.2,454.3 504.1,459.0"/><polygon color="#daff00" points="600.1,424.9 604.9,419.5 599.5,417.4 594.7,422.8"/><polygon color="#00ffd9" points="463.5,477.5 468.8,473.1 464.1,471.9 458.8,476.3"/><polygon color="#00a2ff" points="417.8,493.9 423.4,489.9 418.9,489.0 413.4,493.0"/><polygon color="#60ff00" points="564.7,439.8 569.6,434.7 564.4,432.8 559.5,437.9"/><polygon color="#00ff32" points="519.1,457.4 524.2,452.6 519.2,451.0 514.2,455.8"/><polygon color="#f8ff00" points="610.3,421.6 615.0,416.2 609.6,414.0 604.9,419.5"/><polygon color="#00ffbd" points="473.5,474.4 478.8,470.0 474.1,468.7 468.8,473.1"/><polygon color="#00bdff" points="427.9,490.9 433.4,486.8 428.9,485.8 423.4,489.9"/><polygon color="#7dff00" points="574.9,436.6 579.8,431.4 574.5,429.5 569.6,434.7"/><polygon color="#00ff15" points="529.3,454.3 534.3,449.4 529.3,447.8 524.2,452.6"/><polygon color="#ffe900" points="620.5,418.4 625.2,412.8 619.7,410.6 615.0,416.2"/><polygon color="#00ffa1" points="483.6,471.3 488.9,466.8 484.1,465.5 478.8,470.0"/><polygon color="#00d8ff" points="437.9,487.9 443.4,483.7 438.8,482.6 433.4,486.8"/><polygon color="#9bff00" points="585.1,433.4 589.9,428.2 584.6,426.1 579.8,431.4"/><polygon color="#07ff00" points="539.4,451.1 544.4,446.2 539.3,444.5 534.3,449.4"/><polygon color="#00ff85" points="493.7,468.3 498.9,463.7 494.1,462.3 488.9,466.8"/><polygon color="#00f3ff" points="448.0,484.8 453.4,480.6 448.8,479.5 443.4,483.7"/><polygon color="#b8ff00" points="595.3,430.2 600.1,424.9 594.7,422.8 589.9,428.2"/><polygon color="#24ff00" points="549.6,448.0 554.6,443.0 549.4,441.2 544.4,446.2"/><polygon color="#00ff69" points="503.9,465.2 509.0,460.5 504.1,459.0 498.9,463.7"/><polygon color="#00fff0" points="458.1,481.8 463.5,477.5 458.8,476.3 453.4,480.6"/><polygon color="#40ff00" points="559.8,444.9 564.7,439.8 559.5,437.9 554.6,443.0"/><polygon color="#d4ff00" points="605.5,427.1 610.3,421.6 604.9,419.5 600.1,424.9"/><polygon color="#00ff4d" points="514.0,462.1 519.1,457.4 514.2,455.8 509.0,460.5"/><polygon color="#008fff" points="412.2,497.9 417.8,493.9 413.4,493.0 407.8,497.0"/><polygon color="#00ffd5" points="468.2,478.8 473.5,474.4 468.8,473.1 463.5,477.5"/><polygon color="#5dff00" points="570.0,441.7 574.9,436.6 569.6,434.7 564.7,439.8"/><polygon color="#f1ff00" points="615.8,423.9 620.5,418.4 615.0,416.2 610.3,421.6"/><polygon color="#00ff32" points="524.2,459.0 529.3,454.3 524.2,452.6 519.1,457.4"/><polygon color="#00aaff" points="422.3,494.9 427.9,490.9 423.4,489.9 417.8,493.9"/><polygon color="#00ffb9" points="478.3,475.8 483.6,471.3 478.8,470.0 473.5,474.4"/><polygon color="#79ff00" points="580.2,438.6 585.1,433.4 579.8,431.4 574.9,436.6"/><polygon color="#fff000" points="626.0,420.7 630.7,415.1 625.2,412.8 620.5,418.4"/><polygon color="#00ff16" points="534.4,456.0 539.4,451.1 534.3,449.4 529.3,454.3"/><polygon color="#00c4ff" points="432.4,491.9 437.9,487.9 433.4,486.8 427.9,490.9"/><polygon color="#00ff9e" points="488.5,472.7 493.7,468.3 488.9,466.8 483.6,471.3"/><polygon color="#96ff00" points="590.4,435.5 595.3,430.2 589.9,428.2 585.1,433.4"/><polygon color="#06ff00" points="544.6,452.9 549.6,448.0 544.4,446.2 539.4,451.1"/><polygon color="#00deff" points="442.5,489.0 448.0,484.8 443.4,483.7 437.9,487.9"/><polygon color="#00ff83" points="498.6,469.7 503.9,465.2 498.9,463.7 493.7,468.3"/><polygon color="#b2ff00" points="600.7,432.4 605.5,427.1 600.1,424.9 595.3,430.2"/><polygon color="#22ff00" points="554.8,449.8 559.8,444.9 554.6,443.0 549.6,448.0"/><polygon color="#00f8ff" points="452.6,486.0 458.1,481.8 453.4,480.6 448.0,484.8"/><polygon color="#00ff68" points="508.8,466.7 514.0,462.1 509.0,460.5 503.9,465.2"/><polygon color="#ceff00" points="611.0,429.3 615.8,423.9 610.3,421.6 605.5,427.1"/><polygon color="#3dff00" points="565.0,446.8 570.0,441.7 564.7,439.8 559.8,444.9"/><polygon color="#00ffec" points="462.8,483.1 468.2,478.8 463.5,477.5 458.1,481.8"/><polygon color="#00ff4d" points="519.0,463.7 524.2,459.0 519.1,457.4 514.0,462.1"/><polygon color="#0097ff" points="416.7,498.8 422.3,494.9 417.8,493.9 412.2,497.9"/><polygon color="#eaff00" points="621.3,426.1 626.0,420.7 620.5,418.4 615.8,423.9"/><polygon color="#00ffd1" points="473.0,480.1 478.3,475.8 473.5,474.4 468.2,478.8"/><polygon color="#59ff00" points="575.3,443.7 580.2,438.6 574.9,436.6 570.0,441.7"/><polygon color="#00ff32" points="529.3,460.7 534.4,456.0 529.3,454.3 524.2,459.0"/><polygon color="#00b1ff" points="426.8,495.9 432.4,491.9 427.9,490.9 422.3,494.9"/><polygon color="#fff800" points="631.6,423.0 636.3,417.5 630.7,415.1 626.0,420.7"/><polygon color="#00ffb6" points="483.2,477.1 488.5,472.7 483.6,471.3 478.3,475.8"/><polygon color="#75ff00" points="585.6,440.7 590.4,435.5 585.1,433.4 580.2,438.6"/><polygon color="#00ff17" points="539.5,457.7 544.6,452.9 539.4,451.1 534.4,456.0"/><polygon color="#00caff" points="437.0,493.0 442.5,489.0 437.9,487.9 432.4,491.9"/><polygon color="#00ff9c" points="493.4,474.2 498.6,469.7 493.7,468.3 488.5,472.7"/><polygon color="#91ff00" points="595.9,437.6 600.7,432.4 595.3,430.2 590.4,435.5"/><polygon color="#04ff00" points="549.8,454.7 554.8,449.8 549.6,448.0 544.6,452.9"/><polygon color="#00e3ff" points="447.2,490.1 452.6,486.0 448.0,484.8 442.5,489.0"/><polygon color="#00ff81" points="503.6,471.2 508.8,466.7 503.9,465.2 498.6,469.7"/><polygon color="#acff00" points="606.2,434.6 611.0,429.3 605.5,427.1 600.7,432.4"/><polygon color="#1fff00" points="560.0,451.7 565.0,446.8 559.8,444.9 554.8,449.8"/><polygon color="#00fdff" points="457.4,487.2 462.8,483.1 458.1,481.8 452.6,486.0"/><polygon color="#00ff67" points="513.8,468.3 519.0,463.7 514.0,462.1 508.8,466.7"/><polygon color="#c8ff00" points="616.5,431.5 621.3,426.1 615.8,423.9 611.0,429.3"/><polygon color="#3aff00" points="570.3,448.7 575.3,443.7 570.0,441.7 565.0,446.8"/><polygon color="#00ffe7" points="467.6,484.3 473.0,480.1 468.2,478.8 462.8,483.1"/><polygon color="#00ff4d" points="524.1,465.4 529.3,460.7 524.2,459.0 519.0,463.7"/><polygon color="#e3ff00" points="626.9,428.5 631.6,423.0 626.0,420.7 621.3,426.1"/><polygon color="#55ff00" points="580.7,445.7 585.6,440.7 580.2,438.6 575.3,443.7"/><polygon color="#00ffcd" points="477.8,481.5 483.2,477.1 478.3,475.8 473.0,480.1"/><polygon color="#009eff" points="421.2,499.8 426.8,495.9 422.3,494.9 416.7,498.8"/><polygon color="#00ff32" points="534.4,462.4 539.5,457.7 534.4,456.0 529.3,460.7"/><polygon color="#feff00" points="637.3,425.4 642.0,419.9 636.3,417.5 631.6,423.0"/><polygon color="#70ff00" points="591.0,442.8 595.9,437.6 590.4,435.5 585.6,440.7"/><polygon color="#00ffb4" points="488.1,478.6 493.4,474.2 488.5,472.7 483.2,477.1"/><polygon color="#00b7ff" points="431.4,497.0 437.0,493.0 432.4,491.9 426.8,495.9"/><polygon color="#00ff18" points="544.7,459.5 549.8,454.7 544.6,452.9 539.5,457.7"/><polygon color="#8bff00" points="601.3,439.8 606.2,434.6 600.7,432.4 595.9,437.6"/><polygon color="#00ff9a" points="498.3,475.7 503.6,471.2 498.6,469.7 493.4,474.2"/><polygon color="#00d0ff" points="441.6,494.2 447.2,490.1 442.5,489.0 437.0,493.0"/><polygon color="#02ff00" points="555.0,456.6 560.0,451.7 554.8,449.8 549.8,454.7"/><polygon color="#a6ff00" points="611.7,436.8 616.5,431.5 611.0,429.3 606.2,434.6"/><polygon color="#00ff80" points="508.6,472.8 513.8,468.3 508.8,466.7 503.6,471.2"/><polygon color="#00e9ff" points="451.9,491.3 457.4,487.2 452.6,486.0 447.2,490.1"/><polygon color="#1cff00" points="565.3,453.7 570.3,448.7 565.0,446.8 560.0,451.7"/><polygon color="#c1ff00" points="622.1,433.8 626.9,428.5 621.3,426.1 616.5,431.5"/><polygon color="#00ff66" points="518.9,469.9 524.1,465.4 519.0,463.7 513.8,468.3"/><polygon color="#00fffd" points="462.1,488.5 467.6,484.3 462.8,483.1 457.4,487.2"/><polygon color="#37ff00" points="575.7,450.7 580.7,445.7 575.3,443.7 570.3,448.7"/><polygon color="#dbff00" points="632.5,430.9 637.3,425.4 631.6,423.0 626.9,428.5"/><polygon color="#00ff4d" points="529.2,467.1 534.4,462.4 529.3,460.7 524.1,465.4"/><polygon color="#00ffe3" points="472.4,485.7 477.8,481.5 473.0,480.1 467.6,484.3"/><polygon color="#51ff00" points="586.1,447.8 591.0,442.8 585.6,440.7 580.7,445.7"/><polygon color="#f6ff00" points="642.9,427.9 647.6,422.4 642.0,419.9 637.3,425.4"/><polygon color="#00ffca" points="482.7,482.9 488.1,478.6 483.2,477.1 477.8,481.5"/><polygon color="#00ff33" points="539.6,464.2 544.7,459.5 539.5,457.7 534.4,462.4"/><polygon color="#00a6ff" points="425.8,500.9 431.4,497.0 426.8,495.9 421.2,499.8"/><polygon color="#6bff00" points="596.5,444.9 601.3,439.8 595.9,437.6 591.0,442.8"/><polygon color="#00ffb1" points="493.0,480.0 498.3,475.7 493.4,474.2 488.1,478.6"/><polygon color="#00ff1a" points="549.9,461.3 555.0,456.6 549.8,454.7 544.7,459.5"/><polygon color="#00beff" points="436.0,498.1 441.6,494.2 437.0,493.0 431.4,497.0"/><polygon color="#85ff00" points="606.9,442.0 611.7,436.8 606.2,434.6 601.3,439.8"/><polygon color="#00ff98" points="503.3,477.2 508.6,472.8 503.6,471.2 498.3,475.7"/><polygon color="#00ff00" points="560.3,458.5 565.3,453.7 560.0,451.7 555.0,456.6"/><polygon color="#00d6ff" points="446.3,495.3 451.9,491.3 447.2,490.1 441.6,494.2"/><polygon color="#9fff00" points="617.3,439.1 622.1,433.8 616.5,431.5 611.7,436.8"/><polygon color="#00ff7f" points="513.7,474.4 518.9,469.9 513.8,468.3 508.6,472.8"/><polygon color="#19ff00" points="570.7,455.6 575.7,450.7 570.3,448.7 565.3,453.7"/><polygon color="#00eeff" points="456.6,492.6 462.1,488.5 457.4,487.2 451.9,491.3"/><polygon color="#b9ff00" points="627.7,436.2 632.5,430.9 626.9,428.5 622.1,433.8"/><polygon color="#00ff66" points="524.0,471.6 529.2,467.1 524.1,465.4 518.9,469.9"/><polygon color="#33ff00" points="581.1,452.8 586.1,447.8 580.7,445.7 575.7,450.7"/><polygon color="#00fff8" points="466.9,489.8 472.4,485.7 467.6,484.3 462.1,488.5"/><polygon color="#d3ff00" points="638.2,433.3 642.9,427.9 637.3,425.4 632.5,430.9"/><polygon color="#00ff4d" points="534.4,468.8 539.6,464.2 534.4,462.4 529.2,467.1"/><polygon color="#4dff00" points="591.5,450.0 596.5,444.9 591.0,442.8 586.1,447.8"/><polygon color="#00ffe0" points="477.3,487.1 482.7,482.9 477.8,481.5 472.4,485.7"/><polygon color="#edff00" points="648.7,430.4 653.4,424.9 647.6,422.4 642.9,427.9"/><polygon color="#00ff34" points="544.8,466.0 549.9,461.3 544.7,459.5 539.6,464.2"/><polygon color="#66ff00" points="602.0,447.1 606.9,442.0 601.3,439.8 596.5,444.9"/><polygon color="#00ffc7" points="487.6,484.3 493.0,480.0 488.1,478.6 482.7,482.9"/><polygon color="#00acff" points="430.4,501.9 436.0,498.1 431.4,497.0 425.8,500.9"/><polygon color="#00ff1c" points="555.2,463.2 560.3,458.5 555.0,456.6 549.9,461.3"/><polygon color="#7fff00" points="612.5,444.3 617.3,439.1 611.7,436.8 606.9,442.0"/><polygon color="#00ffaf" points="498.0,481.6 503.3,477.2 498.3,475.7 493.0,480.0"/><polygon color="#00c4ff" points="440.7,499.2 446.3,495.3 441.6,494.2 436.0,498.1"/><polygon color="#00ff03" points="565.7,460.5 570.7,455.6 565.3,453.7 560.3,458.5"/><polygon color="#99ff00" points="622.9,441.5 627.7,436.2 622.1,433.8 617.3,439.1"/><polygon color="#00ff96" points="508.4,478.8 513.7,474.4 508.6,472.8 503.3,477.2"/><polygon color="#00dbff" points="451.1,496.5 456.6,492.6 451.9,491.3 446.3,495.3"/><polygon color="#16ff00" points="576.1,457.7 581.1,452.8 575.7,450.7 570.7,455.6"/><polygon color="#b2ff00" points="633.4,438.6 638.2,433.3 632.5,430.9 627.7,436.2"/><polygon color="#00ff7e" points="518.8,476.1 524.0,471.6 518.9,469.9 513.7,474.4"/><polygon color="#00f2ff" points="461.4,493.8 466.9,489.8 462.1,488.5 456.6,492.6"/><polygon color="#2fff00" points="586.6,454.9 591.5,450.0 586.1,447.8 581.1,452.8"/><polygon color="#cbff00" points="643.9,435.8 648.7,430.4 642.9,427.9 638.2,433.3"/><polygon color="#00ff66" points="529.2,473.4 534.4,468.8 529.2,467.1 524.0,471.6"/><polygon color="#00fff4" points="471.8,491.2 477.3,487.1 472.4,485.7 466.9,489.8"/><polygon color="#48ff00" points="597.1,452.1 602.0,447.1 596.5,444.9 591.5,450.0"/><polygon color="#00ff4e" points="539.7,470.6 544.8,466.0 539.6,464.2 534.4,468.8"/><polygon color="#00ffdc" points="482.2,488.5 487.6,484.3 482.7,482.9 477.3,487.1"/><polygon color="#61ff00" points="607.6,449.4 612.5,444.3 606.9,442.0 602.0,447.1"/><polygon color="#00ff36" points="550.1,467.9 555.2,463.2 549.9,461.3 544.8,466.0"/><polygon color="#00ffc4" points="492.6,485.8 498.0,481.6 493.0,480.0 487.6,484.3"/><polygon color="#79ff00" points="618.1,446.6 622.9,441.5 617.3,439.1 612.5,444.3"/><polygon color="#00ff1e" points="560.6,465.2 565.7,460.5 560.3,458.5 555.2,463.2"/><polygon color="#00b3ff" points="435.0,503.1 440.7,499.2 436.0,498.1 430.4,501.9"/><polygon color="#00ffad" points="503.1,483.1 508.4,478.8 503.3,477.2 498.0,481.6"/><polygon color="#92ff00" points="628.6,443.9 633.4,438.6 627.7,436.2 622.9,441.5"/><polygon color="#00ff06" points="571.1,462.5 576.1,457.7 570.7,455.6 565.7,460.5"/><polygon color="#00caff" points="445.4,500.4 451.1,496.5 446.3,495.3 440.7,499.2"/><polygon color="#00ff95" points="513.5,480.5 518.8,476.1 513.7,474.4 508.4,478.8"/><polygon color="#aaff00" points="639.2,441.1 643.9,435.8 638.2,433.3 633.4,438.6"/><polygon color="#12ff00" points="581.6,459.8 586.6,454.9 581.1,452.8 576.1,457.7"/><polygon color="#00e0ff" points="455.9,497.8 461.4,493.8 456.6,492.6 451.1,496.5"/><polygon color="#00ff7d" points="524.0,477.8 529.2,473.4 524.0,471.6 518.8,476.1"/><polygon color="#2bff00" points="592.1,457.1 597.1,452.1 591.5,450.0 586.6,454.9"/><polygon color="#00f7ff" points="466.3,495.2 471.8,491.2 466.9,489.8 461.4,493.8"/><polygon color="#00ff66" points="534.5,475.1 539.7,470.6 534.4,468.8 529.2,473.4"/><polygon color="#43ff00" points="602.7,454.4 607.6,449.4 602.0,447.1 597.1,452.1"/><polygon color="#00fff0" points="476.7,492.6 482.2,488.5 477.3,487.1 471.8,491.2"/><polygon color="#00ff4f" points="545.0,472.5 550.1,467.9 544.8,466.0 539.7,470.6"/><polygon color="#5bff00" points="613.2,451.7 618.1,446.6 612.5,444.3 607.6,449.4"/><polygon color="#00ffd9" points="487.2,490.0 492.6,485.8 487.6,484.3 482.2,488.5"/><polygon color="#00ff37" points="555.5,469.8 560.6,465.2 555.2,463.2 550.1,467.9"/><polygon color="#73ff00" points="623.8,449.0 628.6,443.9 622.9,441.5 618.1,446.6"/><polygon color="#00ffc2" points="497.7,487.4 503.1,483.1 498.0,481.6 492.6,485.8"/><polygon color="#00ff20" points="566.0,467.2 571.1,462.5 565.7,460.5 560.6,465.2"/><polygon color="#8aff00" points="634.4,446.3 639.2,441.1 633.4,438.6 628.6,443.9"/><polygon color="#00ffab" points="508.2,484.8 513.5,480.5 508.4,478.8 503.1,483.1"/><polygon color="#00b9ff" points="439.8,504.2 445.4,500.4 440.7,499.2 435.0,503.1"/><polygon color="#00ff09" points="576.6,464.6 581.6,459.8 576.1,457.7 571.1,462.5"/><polygon color="#00cfff" points="450.2,501.7 455.9,497.8 451.1,496.5 445.4,500.4"/><polygon color="#00ff94" points="518.7,482.2 524.0,477.8 518.8,476.1 513.5,480.5"/><polygon color="#0fff00" points="587.1,461.9 592.1,457.1 586.6,454.9 581.6,459.8"/><polygon color="#00e5ff" points="460.7,499.1 466.3,495.2 461.4,493.8 455.9,497.8"/><polygon color="#00ff7d" points="529.2,479.6 534.5,475.1 529.2,473.4 524.0,477.8"/><polygon color="#26ff00" points="597.7,459.3 602.7,454.4 597.1,452.1 592.1,457.1"/><polygon color="#00fbff" points="471.2,496.6 476.7,492.6 471.8,491.2 466.3,495.2"/><polygon color="#00ff66" points="539.8,477.0 545.0,472.5 539.7,470.6 534.5,475.1"/><polygon color="#3dff00" points="608.3,456.7 613.2,451.7 607.6,449.4 602.7,454.4"/><polygon color="#00ffed" points="481.7,494.0 487.2,490.0 482.2,488.5 476.7,492.6"/><polygon color="#00ff50" points="550.3,474.4 555.5,469.8 550.1,467.9 545.0,472.5"/><polygon color="#55ff00" points="618.9,454.1 623.8,449.0 618.1,446.6 613.2,451.7"/><polygon color="#00ffd6" points="492.2,491.5 497.7,487.4 492.6,485.8 487.2,490.0"/><polygon color="#00ff39" points="560.9,471.8 566.0,467.2 560.6,465.2 555.5,469.8"/><polygon color="#6cff00" points="629.5,451.5 634.4,446.3 628.6,443.9 623.8,449.0"/><polygon color="#00ffc0" points="502.8,489.0 508.2,484.8 503.1,483.1 497.7,487.4"/><polygon color="#00ff23" points="571.5,469.3 576.6,464.6 571.1,462.5 566.0,467.2"/><polygon color="#00ffaa" points="513.3,486.4 518.7,482.2 513.5,480.5 508.2,484.8"/><polygon color="#00ff0c" points="582.1,466.7 587.1,461.9 581.6,459.8 576.6,464.6"/><polygon color="#00bfff" points="444.5,505.4 450.2,501.7 445.4,500.4 439.8,504.2"/><polygon color="#00ff93" points="523.9,483.9 529.2,479.6 524.0,477.8 518.7,482.2"/><polygon color="#0aff00" points="592.7,464.1 597.7,459.3 592.1,457.1 587.1,461.9"/><polygon color="#00d5ff" points="455.1,503.0 460.7,499.1 455.9,497.8 450.2,501.7"/><polygon color="#00ff7d" points="534.5,481.4 539.8,477.0 534.5,475.1 529.2,479.6"/><polygon color="#21ff00" points="603.3,461.6 608.3,456.7 602.7,454.4 597.7,459.3"/><polygon color="#00eaff" points="465.6,500.5 471.2,496.6 466.3,495.2 460.7,499.1"/><polygon color="#00ff67" points="545.1,478.9 550.3,474.4 545.0,472.5 539.8,477.0"/><polygon color="#38ff00" points="614.0,459.0 618.9,454.1 613.2,451.7 608.3,456.7"/><polygon color="#00ffff" points="476.2,498.0 481.7,494.0 476.7,492.6 471.2,496.6"/><polygon color="#00ff51" points="555.7,476.4 560.9,471.8 555.5,469.8 550.3,474.4"/><polygon color="#4eff00" points="624.7,456.5 629.5,451.5 623.8,449.0 618.9,454.1"/><polygon color="#00ffe9" points="486.7,495.5 492.2,491.5 487.2,490.0 481.7,494.0"/><polygon color="#00ff3b" points="566.4,473.9 571.5,469.3 566.0,467.2 560.9,471.8"/><polygon color="#00ffd4" points="497.3,493.1 502.8,489.0 497.7,487.4 492.2,491.5"/><polygon color="#00ff26" points="577.0,471.4 582.1,466.7 576.6,464.6 571.5,469.3"/><polygon color="#00ffbe" points="507.9,490.6 513.3,486.4 508.2,484.8 502.8,489.0"/><polygon color="#00ff10" points="587.7,468.9 592.7,464.1 587.1,461.9 582.1,466.7"/><polygon color="#00ffa8" points="518.6,488.2 523.9,483.9 518.7,482.2 513.3,486.4"/><polygon color="#00c5ff" points="449.4,506.7 455.1,503.0 450.2,501.7 444.5,505.4"/><polygon color="#06ff00" points="598.3,466.4 603.3,461.6 597.7,459.3 592.7,464.1"/><polygon color="#00ff93" points="529.2,485.7 534.5,481.4 529.2,479.6 523.9,483.9"/><polygon color="#00daff" points="460.0,504.3 465.6,500.5 460.7,499.1 455.1,503.0"/><polygon color="#1cff00" points="609.0,463.9 614.0,459.0 608.3,456.7 603.3,461.6"/><polygon color="#00ff7e" points="539.8,483.3 545.1,478.9 539.8,477.0 534.5,481.4"/><polygon color="#00eeff" points="470.6,501.9 476.2,498.0 471.2,496.6 465.6,500.5"/><polygon color="#32ff00" points="619.7,461.5 624.7,456.5 618.9,454.1 614.0,459.0"/><polygon color="#00ff68" points="550.5,480.8 555.7,476.4 550.3,474.4 545.1,478.9"/><polygon color="#00fffb" points="481.2,499.5 486.7,495.5 481.7,494.0 476.2,498.0"/><polygon color="#00ff53" points="561.2,478.4 566.4,473.9 560.9,471.8 555.7,476.4"/><polygon color="#00ffe6" points="491.8,497.1 497.3,493.1 492.2,491.5 486.7,495.5"/><polygon color="#00ff3e" points="571.9,476.0 577.0,471.4 571.5,469.3 566.4,473.9"/><polygon color="#00ffd1" points="502.5,494.7 507.9,490.6 502.8,489.0 497.3,493.1"/><polygon color="#00ff29" points="582.6,473.6 587.7,468.9 582.1,466.7 577.0,471.4"/><polygon color="#00ffbc" points="513.2,492.3 518.6,488.2 513.3,486.4 507.9,490.6"/><polygon color="#00ff14" points="593.3,471.1 598.3,466.4 592.7,464.1 587.7,468.9"/><polygon color="#00ffa8" points="523.8,489.9 529.2,485.7 523.9,483.9 518.6,488.2"/><polygon color="#01ff00" points="604.0,468.7 609.0,463.9 603.3,461.6 598.3,466.4"/><polygon color="#00cbff" points="454.3,508.0 460.0,504.3 455.1,503.0 449.4,506.7"/><polygon color="#00ff93" points="534.5,487.6 539.8,483.3 534.5,481.4 529.2,485.7"/><polygon color="#16ff00" points="614.8,466.3 619.7,461.5 614.0,459.0 609.0,463.9"/><polygon color="#00deff" points="464.9,505.7 470.6,501.9 465.6,500.5 460.0,504.3"/><polygon color="#00ff7e" points="545.2,485.2 550.5,480.8 545.1,478.9 539.8,483.3"/><polygon color="#00f2ff" points="475.6,503.3 481.2,499.5 476.2,498.0 470.6,501.9"/><polygon color="#00ff6a" points="556.0,482.8 561.2,478.4 555.7,476.4 550.5,480.8"/><polygon color="#00fff8" points="486.3,501.0 491.8,497.1 486.7,495.5 481.2,499.5"/><polygon color="#00ff55" points="566.7,480.5 571.9,476.0 566.4,473.9 561.2,478.4"/><polygon color="#00ffe3" points="497.0,498.7 502.5,494.7 497.3,493.1 491.8,497.1"/><polygon color="#00ff41" points="577.5,478.1 582.6,473.6 577.0,471.4 571.9,476.0"/><polygon color="#00ffcf" points="507.7,496.4 513.2,492.3 507.9,490.6 502.5,494.7"/><polygon color="#00ff2c" points="588.2,475.8 593.3,471.1 587.7,468.9 582.6,473.6"/><polygon color="#00ffbb" points="518.4,494.1 523.8,489.9 518.6,488.2 513.2,492.3"/><polygon color="#00ff18" points="599.0,473.4 604.0,468.7 598.3,466.4 593.3,471.1"/><polygon color="#00ffa7" points="529.2,491.8 534.5,487.6 529.2,485.7 523.8,489.9"/><polygon color="#00ff04" points="609.8,471.1 614.8,466.3 609.0,463.9 604.0,468.7"/><polygon color="#00ff93" points="539.9,489.5 545.2,485.2 539.8,483.3 534.5,487.6"/><polygon color="#00d0ff" points="459.2,509.4 464.9,505.7 460.0,504.3 454.3,508.0"/><polygon color="#00ff7f" points="550.7,487.2 556.0,482.8 550.5,480.8 545.2,485.2"/><polygon color="#00e3ff" points="469.9,507.1 475.6,503.3 470.6,501.9 464.9,505.7"/><polygon color="#00ff6b" points="561.5,484.9 566.7,480.5 561.2,478.4 556.0,482.8"/><polygon color="#00f6ff" points="480.7,504.8 486.3,501.0 481.2,499.5 475.6,503.3"/><polygon color="#00ff57" points="572.3,482.6 577.5,478.1 571.9,476.0 566.7,480.5"/><polygon color="#00fff5" points="491.4,502.6 497.0,498.7 491.8,497.1 486.3,501.0"/><polygon color="#00ff44" points="583.1,480.3 588.2,475.8 582.6,473.6 577.5,478.1"/><polygon color="#00ffe1" points="502.2,500.3 507.7,496.4 502.5,494.7 497.0,498.7"/><polygon color="#00ff30" points="593.9,478.1 599.0,473.4 593.3,471.1 588.2,475.8"/><polygon color="#00ffcd" points="513.0,498.1 518.4,494.1 513.2,492.3 507.7,496.4"/><polygon color="#00ff1d" points="604.8,475.8 609.8,471.1 604.0,468.7 599.0,473.4"/><polygon color="#00ffba" points="523.8,495.9 529.2,491.8 523.8,489.9 518.4,494.1"/><polygon color="#00ffa7" points="534.6,493.6 539.9,489.5 534.5,487.6 529.2,491.8"/><polygon color="#00ff93" points="545.4,491.4 550.7,487.2 545.2,485.2 539.9,489.5"/><polygon color="#00d5ff" points="464.2,510.8 469.9,507.1 464.9,505.7 459.2,509.4"/><polygon color="#00ff80" points="556.2,489.2 561.5,484.9 556.0,482.8 550.7,487.2"/><polygon color="#00e7ff" points="475.0,508.6 480.7,504.8 475.6,503.3 469.9,507.1"/><polygon color="#00ff6d" points="567.1,487.0 572.3,482.6 566.7,480.5 561.5,484.9"/><polygon color="#00faff" points="485.8,506.4 491.4,502.6 486.3,501.0 480.7,504.8"/><polygon color="#00ff5a" points="577.9,484.8 583.1,480.3 577.5,478.1 572.3,482.6"/><polygon color="#00fff2" points="496.6,504.2 502.2,500.3 497.0,498.7 491.4,502.6"/><polygon color="#00ff47" points="588.8,482.6 593.9,478.1 588.2,475.8 583.1,480.3"/><polygon color="#00ffdf" points="507.5,502.1 513.0,498.1 507.7,496.4 502.2,500.3"/><polygon color="#00ff34" points="599.7,480.4 604.8,475.8 599.0,473.4 593.9,478.1"/><polygon color="#00ffcc" points="518.3,499.9 523.8,495.9 518.4,494.1 513.0,498.1"/><polygon color="#00ffb9" points="529.2,497.7 534.6,493.6 529.2,491.8 523.8,495.9"/><polygon color="#00ffa7" points="540.0,495.6 545.4,491.4 539.9,489.5 534.6,493.6"/><polygon color="#00ff94" points="550.9,493.4 556.2,489.2 550.7,487.2 545.4,491.4"/><polygon color="#00ff82" points="561.8,491.3 567.1,487.0 561.5,484.9 556.2,489.2"/><polygon color="#00d9ff" points="469.3,512.2 475.0,508.6 469.9,507.1 464.2,510.8"/><polygon color="#00ff6f" points="572.7,489.2 577.9,484.8 572.3,482.6 567.1,487.0"/><polygon color="#00ebff" points="480.1,510.1 485.8,506.4 480.7,504.8 475.0,508.6"/><polygon color="#00ff5d" points="583.6,487.0 588.8,482.6 583.1,480.3 577.9,484.8"/><polygon color="#00fdff" points="491.0,508.0 496.6,504.2 491.4,502.6 485.8,506.4"/><polygon color="#00ff4b" points="594.6,484.9 599.7,480.4 593.9,478.1 588.8,482.6"/><polygon color="#00ffef" points="501.9,505.9 507.5,502.1 502.2,500.3 496.6,504.2"/><polygon color="#00ffdd" points="512.8,503.8 518.3,499.9 513.0,498.1 507.5,502.1"/><polygon color="#00ffcb" points="523.7,501.7 529.2,497.7 523.8,495.9 518.3,499.9"/><polygon color="#00ffb9" points="534.6,499.6 540.0,495.6 534.6,493.6 529.2,497.7"/><polygon color="#00ffa7" points="545.5,497.6 550.9,493.4 545.4,491.4 540.0,495.6"/><polygon color="#00ff95" points="556.5,495.5 561.8,491.3 556.2,489.2 550.9,493.4"/><polygon color="#00ff83" points="567.4,493.4 572.7,489.2 567.1,487.0 561.8,491.3"/><polygon color="#00deff" points="474.4,513.7 480.1,510.1 475.0,508.6 469.3,512.2"/><polygon color="#00ff72" points="578.4,491.4 583.6,487.0 577.9,484.8 572.7,489.2"/><polygon color="#00efff" points="485.3,511.7 491.0,508.0 485.8,506.4 480.1,510.1"/><polygon color="#00ff60" points="589.4,489.3 594.6,484.9 588.8,482.6 583.6,487.0"/><polygon color="#00fffe" points="496.3,509.7 501.9,505.9 496.6,504.2 491.0,508.0"/><polygon color="#00ffed" points="507.2,507.6 512.8,503.8 507.5,502.1 501.9,505.9"/><polygon color="#00ffdb" points="518.2,505.6 523.7,501.7 518.3,499.9 512.8,503.8"/><polygon color="#00ffca" points="529.1,503.6 534.6,499.6 529.2,497.7 523.7,501.7"/><polygon color="#00ffb9" points="540.1,501.6 545.5,497.6 540.0,495.6 534.6,499.6"/><polygon color="#00ffa7" points="551.1,499.6 556.5,495.5 550.9,493.4 545.5,497.6"/><polygon color="#00ff96" points="562.1,497.6 567.4,493.4 561.8,491.3 556.5,495.5"/><polygon color="#00ff85" points="573.1,495.7 578.4,491.4 572.7,489.2 567.4,493.4"/><polygon color="#00ff74" points="584.2,493.7 589.4,489.3 583.6,487.0 578.4,491.4"/><polygon color="#00e2ff" points="479.6,515.3 485.3,511.7 480.1,510.1 474.4,513.7"/><polygon color="#00f2ff" points="490.6,513.3 496.3,509.7 491.0,508.0 485.3,511.7"/><polygon color="#00fffb" points="501.6,511.4 507.2,507.6 501.9,505.9 496.3,509.7"/><polygon color="#00ffeb" points="512.6,509.4 518.2,505.6 512.8,503.8 507.2,507.6"/><polygon color="#00ffda" points="523.6,507.5 529.1,503.6 523.7,501.7 518.2,505.6"/><polygon color="#00ffc9" points="534.7,505.6 540.1,501.6 534.6,499.6 529.1,503.6"/><polygon color="#00ffb9" points="545.7,503.6 551.1,499.6 545.5,497.6 540.1,501.6"/><polygon color="#00ffa8" points="556.8,501.7 562.1,497.6 556.5,495.5 551.1,499.6"/><polygon color="#00ff98" points="567.8,499.8 573.1,495.7 567.4,493.4 562.1,497.6"/><polygon color="#00ff88" points="578.9,497.9 584.2,493.7 578.4,491.4 573.1,495.7"/><polygon color="#00e6ff" points="484.8,516.9 490.6,513.3 485.3,511.7 479.6,515.3"/><polygon color="#00f5ff" points="495.9,515.0 501.6,511.4 496.3,509.7 490.6,513.3"/><polygon color="#00fff9" points="506.9,513.2 512.6,509.4 507.2,507.6 501.6,511.4"/><polygon color="#00ffe9" points="518.0,511.3 523.6,507.5 518.2,505.6 512.6,509.4"/><polygon color="#00ffd9" points="529.1,509.4 534.7,505.6 529.1,503.6 523.6,507.5"/><polygon color="#00ffc9" points="540.2,507.6 545.7,503.6 540.1,501.6 534.7,505.6"/><polygon color="#00ffb9" points="551.3,505.7 556.8,501.7 551.1,499.6 545.7,503.6"/><polygon color="#00ffa9" points="562.5,503.9 567.8,499.8 562.1,497.6 556.8,501.7"/><polygon color="#00ff9a" points="573.6,502.1 578.9,497.9 573.1,495.7 567.8,499.8"/><polygon color="#00e9ff" points="490.1,518.6 495.9,515.0 490.6,513.3 484.8,516.9"/><polygon color="#00f8ff" points="501.2,516.8 506.9,513.2 501.6,511.4 495.9,515.0"/><polygon color="#00fff7" points="512.4,515.0 518.0,511.3 512.6,509.4 506.9,513.2"/><polygon color="#00ffe7" points="523.5,513.2 529.1,509.4 523.6,507.5 518.0,511.3"/><polygon color="#00ffd8" points="534.7,511.4 540.2,507.6 534.7,505.6 529.1,509.4"/><polygon color="#00ffc9" points="545.9,509.6 551.3,505.7 545.7,503.6 540.2,507.6"/><polygon color="#00ffba" points="557.0,507.9 562.5,503.9 556.8,501.7 551.3,505.7"/><polygon color="#00ffab" points="568.2,506.1 573.6,502.1 567.8,499.8 562.5,503.9"/><polygon color="#00edff" points="495.5,520.3 501.2,516.8 495.9,515.0 490.1,518.6"/><polygon color="#00fbff" points="506.7,518.6 512.4,515.0 506.9,513.2 501.2,516.8"/><polygon color="#00fff5" points="517.9,516.9 523.5,513.2 518.0,511.3 512.4,515.0"/><polygon color="#00ffe6" points="529.1,515.2 534.7,511.4 529.1,509.4 523.5,513.2"/><polygon color="#00ffd8" points="540.3,513.5 545.9,509.6 540.2,507.6 534.7,511.4"/><polygon color="#00ffc9" points="551.6,511.8 557.0,507.9 551.3,505.7 545.9,509.6"/><polygon color="#00ffbb" points="562.8,510.1 568.2,506.1 562.5,503.9 557.0,507.9"/><polygon color="#00f0ff" points="500.9,522.1 506.7,518.6 501.2,516.8 495.5,520.3"/><polygon color="#00fdff" points="512.2,520.4 517.9,516.9 512.4,515.0 506.7,518.6"/><polygon color="#00fff3" points="523.5,518.8 529.1,515.2 523.5,513.2 517.9,516.9"/><polygon color="#00ffe5" points="534.7,517.2 540.3,513.5 534.7,511.4 529.1,515.2"/><polygon color="#00ffd7" points="546.0,515.6 551.6,511.8 545.9,509.6 540.3,513.5"/><polygon color="#00ffca" points="557.3,513.9 562.8,510.1 557.0,507.9 551.6,511.8"/><polygon color="#00f2ff" points="506.4,523.9 512.2,520.4 506.7,518.6 500.9,522.1"/><polygon color="#00ffff" points="517.7,522.3 523.5,518.8 517.9,516.9 512.2,520.4"/><polygon color="#00fff2" points="529.1,520.8 534.7,517.2 529.1,515.2 523.5,518.8"/><polygon color="#00ffe4" points="540.4,519.2 546.0,515.6 540.3,513.5 534.7,517.2"/><polygon color="#00ffd7" points="551.8,517.7 557.3,513.9 551.6,511.8 546.0,515.6"/><polygon color="#00f5ff" points="512.0,525.8 517.7,522.3 512.2,520.4 506.4,523.9"/><polygon color="#00fffd" points="523.4,524.3 529.1,520.8 523.5,518.8 517.7,522.3"/><polygon color="#00fff0" points="534.8,522.8 540.4,519.2 534.7,517.2 529.1,520.8"/><polygon color="#00ffe4" points="546.2,521.4 551.8,517.7 546.0,515.6 540.4,519.2"/><polygon color="#00f7ff" points="517.6,527.7 523.4,524.3 517.7,522.3 512.0,525.8"/><polygon color="#00fffb" points="529.1,526.3 534.8,522.8 529.1,520.8 523.4,524.3"/><polygon color="#00fff0" points="540.5,525.0 546.2,521.4 540.4,519.2 534.8,522.8"/><polygon color="#00f9ff" points="523.3,529.7 529.1,526.3 523.4,524.3 517.6,527.7"/><polygon color="#00fffa" points="534.8,528.4 540.5,525.0 534.8,522.8 529.1,526.3"/><polygon color="#00fbff" points="529.0,531.8 534.8,528.4 529.1,526.3 523.3,529.7"/></g><path d="M529.0 531.8 L523.3 529.7 L517.6 527.7 L512.0 525.8 L506.4 523.9 L500.9 522.1 L495.5 520.3 L490.1 518.6 L484.8 516.9 L479.6 515.3 L474.4 513.7 L469.3 512.2 L464.2 510.8 L459.2 509.4 L454.3 508.0 L449.4 506.7 L444.5 505.4 L439.8 504.2 L435.0 503.1 L430.4 501.9 L425.8 500.9 L421.2 499.8 L416.7 498.8 L412.2 497.9 L407.8 497.0M529.0 531.8 L534.8 528.4 L540.5 525.0 L546.2 521.4 L551.8 517.7 L557.3 513.9 L562.8 510.1 L568.2 506.1 L573.6 502.1 L578.9 497.9 L584.2 493.7 L589.4 489.3 L594.6 484.9 L599.7 480.4 L604.8 475.8 L609.8 471.1 L614.8 466.3 L619.7 461.5 L624.7 456.5 L629.5 451.5 L634.4 446.3 L639.2 441.1 L643.9 435.8 L648.7 430.4 L653.4 424.9M534.8 528.4 L529.1 526.3 L523.4 524.3 L517.7 522.3 L512.2 520.4 L506.7 518.6 L501.2 516.8 L495.9 515.0 L490.6 513.3 L485.3 511.7 L480.1 510.1 L475.0 508.6 L469.9 507.1 L464.9 505.7 L460.0 504.3 L455.1 503.0 L450.2 501.7 L445.4 500.4 L440.7 499.2 L436.0 498.1 L431.4 497.0 L426.8 495.9 L422.3 494.9 L417.8 493.9 L413.4 493.0M523.3 529.7 L529.1 526.3 L534.8 522.8 L540.4 519.2 L546.0 515.6 L551.6 511.8 L557.0 507.9 L562.5 503.9 L567.8 499.8 L573.1 495.7 L578.4 491.4 L583.6 487.0 L588.8 482.6 L593.9 478.1 L599.0 473.4 L604.0 468.7 L609.0 463.9 L614.0 459.0 L618.9 454.1 L623.8 449.0 L628.6 443.9 L633.4 438.6 L638.2 433.3 L642.9 427.9 L647.6 422.4M540.5 525.0 L534.8 522.8 L529.1 520.8 L523.5 518.8 L517.9 516.9 L512.4 515.0 L506.9 513.2 L501.6 511.4 L496.3 509.7 L491.0 508.0 L485.8 506.4 L480.7 504.8 L475.6 503.3 L470.6 501.9 L465.6 500.5 L460.7 499.1 L455.9 497.8 L451.1 496.5 L446.3 495.3 L441.6 494.2 L437.0 493.0 L432.4 491.9 L427.9 490.9 L423.4 489.9 L418.9 489.0M517.6 527.7 L523.4 524.3 L529.1 520.8 L534.7 517.2 L540.3 513.5 L545.9 509.6 L551.3 505.7 L556.8 501.7 L562.1 497.6 L567.4 493.4 L572.7 489.2 L577.9 484.8 L583.1 480.3 L588.2 475.8 L593.3 471.1 L598.3 466.4 L603.3 461.6 L608.3 456.7 L613.2 451.7 L618.1 446.6 L622.9 441.5 L627.7 436.2 L632.5 430.9 L637.3 425.4 L642.0 419.9M546.2 521.4 L540.4 519.2 L534.7 517.2 L529.1 515.2 L523.5 513.2 L518.0 511.3 L512.6 509.4 L507.2 507.6 L501.9 505.9 L496.6 504.2 L491.4 502.6 L486.3 501.0 L481.2 499.5 L476.2 498.0 L471.2 496.6 L466.3 495.2 L461.4 493.8 L456.6 492.6 L451.9 491.3 L447.2 490.1 L442.5 489.0 L437.9 487.9 L433.4 486.8 L428.9 485.8 L424.4 484.8M512.0 525.8 L517.7 522.3 L523.5 518.8 L529.1 515.2 L534.7 511.4 L540.2 507.6 L545.7 503.6 L551.1 499.6 L556.5 495.5 L561.8 491.3 L567.1 487.0 L572.3 482.6 L577.5 478.1 L582.6 473.6 L587.7 468.9 L592.7 464.1 L597.7 459.3 L602.7 454.4 L607.6 449.4 L612.5 444.3 L617.3 439.1 L622.1 433.8 L626.9 428.5 L631.6 423.0 L636.3 417.5M551.8 517.7 L546.0 515.6 L540.3 513.5 L534.7 511.4 L529.1 509.4 L523.6 507.5 L518.2 505.6 L512.8 503.8 L507.5 502.1 L502.2 500.3 L497.0 498.7 L491.8 497.1 L486.7 495.5 L481.7 494.0 L476.7 492.6 L471.8 491.2 L466.9 489.8 L462.1 488.5 L457.4 487.2 L452.6 486.0 L448.0 484.8 L443.4 483.7 L438.8 482.6 L434.3 481.6 L429.8 480.6M506.4 523.9 L512.2 520.4 L517.9 516.9 L523.5 513.2 L529.1 509.4 L534.7 505.6 L540.1 501.6 L545.5 497.6 L550.9 493.4 L556.2 489.2 L561.5 484.9 L566.7 480.5 L571.9 476.0 L577.0 471.4 L582.1 466.7 L587.1 461.9 L592.1 457.1 L597.1 452.1 L602.0 447.1 L606.9 442.0 L611.7 436.8 L616.5 431.5 L621.3 426.1 L626.0 420.7 L630.7 415.1M557.3 513.9 L551.6 511.8 L545.9 509.6 L540.2 507.6 L534.7 505.6 L529.1 503.6 L523.7 501.7 L518.3 499.9 L513.0 498.1 L507.7 496.4 L502.5 494.7 L497.3 493.1 L492.2 491.5 L487.2 490.0 L482.2 488.5 L477.3 487.1 L472.4 485.7 L467.6 484.3 L462.8 483.1 L458.1 481.8 L453.4 480.6 L448.8 479.5 L444.2 478.4 L439.7 477.3 L435.2 476.3M500.9 522.1 L506.7 518.6 L512.4 515.0 L518.0 511.3 L523.6 507.5 L529.1 503.6 L534.6 499.6 L540.0 495.6 L545.4 491.4 L550.7 487.2 L556.0 482.8 L561.2 478.4 L566.4 473.9 L571.5 469.3 L576.6 464.6 L581.6 459.8 L586.6 454.9 L591.5 450.0 L596.5 444.9 L601.3 439.8 L606.2 434.6 L611.0 429.3 L615.8 423.9 L620.5 418.4 L625.2 412.8M562.8 510.1 L557.0 507.9 L551.3 505.7 L545.7 503.6 L540.1 501.6 L534.6 499.6 L529.2 497.7 L523.8 495.9 L518.4 494.1 L513.2 492.3 L507.9 490.6 L502.8 489.0 L497.7 487.4 L492.6 485.8 L487.6 484.3 L482.7 482.9 L477.8 481.5 L473.0 480.1 L468.2 478.8 L463.5 477.5 L458.8 476.3 L454.1 475.1 L449.6 474.0 L445.0 472.9 L440.6 471.9M495.5 520.3 L501.2 516.8 L506.9 513.2 L512.6 509.4 L518.2 505.6 L523.7 501.7 L529.2 497.7 L534.6 493.6 L539.9 489.5 L545.2 485.2 L550.5 480.8 L555.7 476.4 L560.9 471.8 L566.0 467.2 L571.1 462.5 L576.1 457.7 L581.1 452.8 L586.1 447.8 L591.0 442.8 L595.9 437.6 L600.7 432.4 L605.5 427.1 L610.3 421.6 L615.0 416.2 L619.7 410.6M568.2 506.1 L562.5 503.9 L556.8 501.7 L551.1 499.6 L545.5 497.6 L540.0 495.6 L534.6 493.6 L529.2 491.8 L523.8 489.9 L518.6 488.2 L513.3 486.4 L508.2 484.8 L503.1 483.1 L498.0 481.6 L493.0 480.0 L488.1 478.6 L483.2 477.1 L478.3 475.8 L473.5 474.4 L468.8 473.1 L464.1 471.9 L459.5 470.7 L454.9 469.6 L450.3 468.4 L445.8 467.4M490.1 518.6 L495.9 515.0 L501.6 511.4 L507.2 507.6 L512.8 503.8 L518.3 499.9 L523.8 495.9 L529.2 491.8 L534.5 487.6 L539.8 483.3 L545.1 478.9 L550.3 474.4 L555.5 469.8 L560.6 465.2 L565.7 460.5 L570.7 455.6 L575.7 450.7 L580.7 445.7 L585.6 440.7 L590.4 435.5 L595.3 430.2 L600.1 424.9 L604.9 419.5 L609.6 414.0 L614.3 408.4M573.6 502.1 L567.8 499.8 L562.1 497.6 L556.5 495.5 L550.9 493.4 L545.4 491.4 L539.9 489.5 L534.5 487.6 L529.2 485.7 L523.9 483.9 L518.7 482.2 L513.5 480.5 L508.4 478.8 L503.3 477.2 L498.3 475.7 L493.4 474.2 L488.5 472.7 L483.6 471.3 L478.8 470.0 L474.1 468.7 L469.4 467.4 L464.7 466.2 L460.1 465.0 L455.6 463.9 L451.1 462.8M484.8 516.9 L490.6 513.3 L496.3 509.7 L501.9 505.9 L507.5 502.1 L513.0 498.1 L518.4 494.1 L523.8 489.9 L529.2 485.7 L534.5 481.4 L539.8 477.0 L545.0 472.5 L550.1 467.9 L555.2 463.2 L560.3 458.5 L565.3 453.7 L570.3 448.7 L575.3 443.7 L580.2 438.6 L585.1 433.4 L589.9 428.2 L594.7 422.8 L599.5 417.4 L604.2 411.8 L608.9 406.2M578.9 497.9 L573.1 495.7 L567.4 493.4 L561.8 491.3 L556.2 489.2 L550.7 487.2 L545.2 485.2 L539.8 483.3 L534.5 481.4 L529.2 479.6 L524.0 477.8 L518.8 476.1 L513.7 474.4 L508.6 472.8 L503.6 471.2 L498.6 469.7 L493.7 468.3 L488.9 466.8 L484.1 465.5 L479.3 464.1 L474.6 462.9 L469.9 461.6 L465.3 460.4 L460.8 459.3 L456.3 458.2M479.6 515.3 L485.3 511.7 L491.0 508.0 L496.6 504.2 L502.2 500.3 L507.7 496.4 L513.2 492.3 L518.6 488.2 L523.9 483.9 L529.2 479.6 L534.5 475.1 L539.7 470.6 L544.8 466.0 L549.9 461.3 L555.0 456.6 L560.0 451.7 L565.0 446.8 L570.0 441.7 L574.9 436.6 L579.8 431.4 L584.6 426.1 L589.4 420.8 L594.2 415.3 L598.9 409.8 L603.6 404.1M584.2 493.7 L578.4 491.4 L572.7 489.2 L567.1 487.0 L561.5 484.9 L556.0 482.8 L550.5 480.8 L545.1 478.9 L539.8 477.0 L534.5 475.1 L529.2 473.4 L524.0 471.6 L518.9 469.9 L513.8 468.3 L508.8 466.7 L503.9 465.2 L498.9 463.7 L494.1 462.3 L489.3 460.9 L484.5 459.5 L479.8 458.2 L475.1 456.9 L470.5 455.7 L465.9 454.6 L461.4 453.4M474.4 513.7 L480.1 510.1 L485.8 506.4 L491.4 502.6 L497.0 498.7 L502.5 494.7 L507.9 490.6 L513.3 486.4 L518.7 482.2 L524.0 477.8 L529.2 473.4 L534.4 468.8 L539.6 464.2 L544.7 459.5 L549.8 454.7 L554.8 449.8 L559.8 444.9 L564.7 439.8 L569.6 434.7 L574.5 429.5 L579.3 424.2 L584.1 418.8 L588.9 413.3 L593.6 407.7 L598.3 402.1M589.4 489.3 L583.6 487.0 L577.9 484.8 L572.3 482.6 L566.7 480.5 L561.2 478.4 L555.7 476.4 L550.3 474.4 L545.0 472.5 L539.7 470.6 L534.4 468.8 L529.2 467.1 L524.1 465.4 L519.0 463.7 L514.0 462.1 L509.0 460.5 L504.1 459.0 L499.2 457.6 L494.4 456.2 L489.6 454.8 L484.9 453.5 L480.2 452.2 L475.6 451.0 L471.0 449.8 L466.5 448.6M469.3 512.2 L475.0 508.6 L480.7 504.8 L486.3 501.0 L491.8 497.1 L497.3 493.1 L502.8 489.0 L508.2 484.8 L513.5 480.5 L518.8 476.1 L524.0 471.6 L529.2 467.1 L534.4 462.4 L539.5 457.7 L544.6 452.9 L549.6 448.0 L554.6 443.0 L559.5 437.9 L564.4 432.8 L569.3 427.6 L574.1 422.2 L578.9 416.8 L583.7 411.3 L588.4 405.8 L593.1 400.1M594.6 484.9 L588.8 482.6 L583.1 480.3 L577.5 478.1 L571.9 476.0 L566.4 473.9 L560.9 471.8 L555.5 469.8 L550.1 467.9 L544.8 466.0 L539.6 464.2 L534.4 462.4 L529.3 460.7 L524.2 459.0 L519.1 457.4 L514.2 455.8 L509.2 454.3 L504.4 452.8 L499.5 451.4 L494.7 450.0 L490.0 448.7 L485.3 447.4 L480.7 446.1 L476.1 444.9 L471.6 443.7M464.2 510.8 L469.9 507.1 L475.6 503.3 L481.2 499.5 L486.7 495.5 L492.2 491.5 L497.7 487.4 L503.1 483.1 L508.4 478.8 L513.7 474.4 L518.9 469.9 L524.1 465.4 L529.3 460.7 L534.4 456.0 L539.4 451.1 L544.4 446.2 L549.4 441.2 L554.3 436.1 L559.3 431.0 L564.1 425.7 L568.9 420.4 L573.7 414.9 L578.5 409.4 L583.2 403.8 L587.9 398.2M599.7 480.4 L593.9 478.1 L588.2 475.8 L582.6 473.6 L577.0 471.4 L571.5 469.3 L566.0 467.2 L560.6 465.2 L555.2 463.2 L549.9 461.3 L544.7 459.5 L539.5 457.7 L534.4 456.0 L529.3 454.3 L524.2 452.6 L519.2 451.0 L514.3 449.5 L509.4 448.0 L504.6 446.5 L499.8 445.1 L495.1 443.7 L490.4 442.4 L485.7 441.2 L481.1 439.9 L476.6 438.7M459.2 509.4 L464.9 505.7 L470.6 501.9 L476.2 498.0 L481.7 494.0 L487.2 490.0 L492.6 485.8 L498.0 481.6 L503.3 477.2 L508.6 472.8 L513.8 468.3 L519.0 463.7 L524.2 459.0 L529.3 454.3 L534.3 449.4 L539.3 444.5 L544.3 439.5 L549.2 434.4 L554.1 429.2 L559.0 423.9 L563.8 418.5 L568.6 413.1 L573.4 407.6 L578.1 402.0 L582.8 396.3M604.8 475.8 L599.0 473.4 L593.3 471.1 L587.7 468.9 L582.1 466.7 L576.6 464.6 L571.1 462.5 L565.7 460.5 L560.3 458.5 L555.0 456.6 L549.8 454.7 L544.6 452.9 L539.4 451.1 L534.3 449.4 L529.3 447.8 L524.3 446.1 L519.3 444.6 L514.5 443.0 L509.6 441.6 L504.8 440.1 L500.1 438.8 L495.4 437.4 L490.7 436.1 L486.1 434.9 L481.6 433.7M454.3 508.0 L460.0 504.3 L465.6 500.5 L471.2 496.6 L476.7 492.6 L482.2 488.5 L487.6 484.3 L493.0 480.0 L498.3 475.7 L503.6 471.2 L508.8 466.7 L514.0 462.1 L519.1 457.4 L524.2 452.6 L529.3 447.8 L534.3 442.8 L539.3 437.8 L544.2 432.6 L549.1 427.4 L553.9 422.1 L558.8 416.8 L563.5 411.3 L568.3 405.8 L573.0 400.1 L577.7 394.4M609.8 471.1 L604.0 468.7 L598.3 466.4 L592.7 464.1 L587.1 461.9 L581.6 459.8 L576.1 457.7 L570.7 455.6 L565.3 453.7 L560.0 451.7 L554.8 449.8 L549.6 448.0 L544.4 446.2 L539.3 444.5 L534.3 442.8 L529.3 441.2 L524.3 439.6 L519.4 438.0 L514.6 436.5 L509.8 435.1 L505.0 433.7 L500.3 432.3 L495.7 431.0 L491.1 429.8 L486.5 428.5M449.4 506.7 L455.1 503.0 L460.7 499.1 L466.3 495.2 L471.8 491.2 L477.3 487.1 L482.7 482.9 L488.1 478.6 L493.4 474.2 L498.6 469.7 L503.9 465.2 L509.0 460.5 L514.2 455.8 L519.2 451.0 L524.3 446.1 L529.3 441.2 L534.3 436.1 L539.2 431.0 L544.1 425.7 L548.9 420.4 L553.7 415.0 L558.5 409.6 L563.3 404.0 L568.0 398.4 L572.7 392.6M614.8 466.3 L609.0 463.9 L603.3 461.6 L597.7 459.3 L592.1 457.1 L586.6 454.9 L581.1 452.8 L575.7 450.7 L570.3 448.7 L565.0 446.8 L559.8 444.9 L554.6 443.0 L549.4 441.2 L544.3 439.5 L539.3 437.8 L534.3 436.1 L529.3 434.5 L524.4 432.9 L519.5 431.4 L514.7 430.0 L510.0 428.5 L505.3 427.2 L500.6 425.8 L496.0 424.5 L491.4 423.3M444.5 505.4 L450.2 501.7 L455.9 497.8 L461.4 493.8 L466.9 489.8 L472.4 485.7 L477.8 481.5 L483.2 477.1 L488.5 472.7 L493.7 468.3 L498.9 463.7 L504.1 459.0 L509.2 454.3 L514.3 449.5 L519.3 444.6 L524.3 439.6 L529.3 434.5 L534.2 429.3 L539.1 424.1 L544.0 418.8 L548.8 413.4 L553.5 407.9 L558.3 402.3 L563.0 396.6 L567.7 390.9M619.7 461.5 L614.0 459.0 L608.3 456.7 L602.7 454.4 L597.1 452.1 L591.5 450.0 L586.1 447.8 L580.7 445.7 L575.3 443.7 L570.0 441.7 L564.7 439.8 L559.5 437.9 L554.3 436.1 L549.2 434.4 L544.2 432.6 L539.2 431.0 L534.2 429.3 L529.3 427.8 L524.5 426.2 L519.6 424.7 L514.9 423.3 L510.2 421.9 L505.5 420.6 L500.8 419.3 L496.3 418.0M439.8 504.2 L445.4 500.4 L451.1 496.5 L456.6 492.6 L462.1 488.5 L467.6 484.3 L473.0 480.1 L478.3 475.8 L483.6 471.3 L488.9 466.8 L494.1 462.3 L499.2 457.6 L504.4 452.8 L509.4 448.0 L514.5 443.0 L519.4 438.0 L524.4 432.9 L529.3 427.8 L534.2 422.5 L539.0 417.2 L543.8 411.7 L548.6 406.2 L553.4 400.6 L558.1 394.9 L562.7 389.2M624.7 456.5 L618.9 454.1 L613.2 451.7 L607.6 449.4 L602.0 447.1 L596.5 444.9 L591.0 442.8 L585.6 440.7 L580.2 438.6 L574.9 436.6 L569.6 434.7 L564.4 432.8 L559.3 431.0 L554.1 429.2 L549.1 427.4 L544.1 425.7 L539.1 424.1 L534.2 422.5 L529.3 420.9 L524.5 419.4 L519.7 418.0 L515.0 416.6 L510.3 415.2 L505.7 413.9 L501.1 412.6M435.0 503.1 L440.7 499.2 L446.3 495.3 L451.9 491.3 L457.4 487.2 L462.8 483.1 L468.2 478.8 L473.5 474.4 L478.8 470.0 L484.1 465.5 L489.3 460.9 L494.4 456.2 L499.5 451.4 L504.6 446.5 L509.6 441.6 L514.6 436.5 L519.5 431.4 L524.5 426.2 L529.3 420.9 L534.2 415.6 L539.0 410.1 L543.7 404.6 L548.5 399.0 L553.2 393.3 L557.8 387.5M629.5 451.5 L623.8 449.0 L618.1 446.6 L612.5 444.3 L606.9 442.0 L601.3 439.8 L595.9 437.6 L590.4 435.5 L585.1 433.4 L579.8 431.4 L574.5 429.5 L569.3 427.6 L564.1 425.7 L559.0 423.9 L553.9 422.1 L548.9 420.4 L544.0 418.8 L539.0 417.2 L534.2 415.6 L529.3 414.1 L524.6 412.6 L519.8 411.2 L515.1 409.8 L510.5 408.4 L505.9 407.1M430.4 501.9 L436.0 498.1 L441.6 494.2 L447.2 490.1 L452.6 486.0 L458.1 481.8 L463.5 477.5 L468.8 473.1 L474.1 468.7 L479.3 464.1 L484.5 459.5 L489.6 454.8 L494.7 450.0 L499.8 445.1 L504.8 440.1 L509.8 435.1 L514.7 430.0 L519.6 424.7 L524.5 419.4 L529.3 414.1 L534.1 408.6 L538.9 403.1 L543.6 397.4 L548.3 391.7 L553.0 385.9M634.4 446.3 L628.6 443.9 L622.9 441.5 L617.3 439.1 L611.7 436.8 L606.2 434.6 L600.7 432.4 L595.3 430.2 L589.9 428.2 L584.6 426.1 L579.3 424.2 L574.1 422.2 L568.9 420.4 L563.8 418.5 L558.8 416.8 L553.7 415.0 L548.8 413.4 L543.8 411.7 L539.0 410.1 L534.1 408.6 L529.3 407.1 L524.6 405.7 L519.9 404.3 L515.3 402.9 L510.7 401.6M425.8 500.9 L431.4 497.0 L437.0 493.0 L442.5 489.0 L448.0 484.8 L453.4 480.6 L458.8 476.3 L464.1 471.9 L469.4 467.4 L474.6 462.9 L479.8 458.2 L484.9 453.5 L490.0 448.7 L495.1 443.7 L500.1 438.8 L505.0 433.7 L510.0 428.5 L514.9 423.3 L519.7 418.0 L524.6 412.6 L529.3 407.1 L534.1 401.5 L538.8 395.9 L543.5 390.2 L548.2 384.4M639.2 441.1 L633.4 438.6 L627.7 436.2 L622.1 433.8 L616.5 431.5 L611.0 429.3 L605.5 427.1 L600.1 424.9 L594.7 422.8 L589.4 420.8 L584.1 418.8 L578.9 416.8 L573.7 414.9 L568.6 413.1 L563.5 411.3 L558.5 409.6 L553.5 407.9 L548.6 406.2 L543.7 404.6 L538.9 403.1 L534.1 401.5 L529.4 400.1 L524.7 398.7 L520.0 397.3 L515.4 396.0M421.2 499.8 L426.8 495.9 L432.4 491.9 L437.9 487.9 L443.4 483.7 L448.8 479.5 L454.1 475.1 L459.5 470.7 L464.7 466.2 L469.9 461.6 L475.1 456.9 L480.2 452.2 L485.3 447.4 L490.4 442.4 L495.4 437.4 L500.3 432.3 L505.3 427.2 L510.2 421.9 L515.0 416.6 L519.8 411.2 L524.6 405.7 L529.4 400.1 L534.1 394.4 L538.8 388.7 L543.4 382.9M643.9 435.8 L638.2 433.3 L632.5 430.9 L626.9 428.5 L621.3 426.1 L615.8 423.9 L610.3 421.6 L604.9 419.5 L599.5 417.4 L594.2 415.3 L588.9 413.3 L583.7 411.3 L578.5 409.4 L573.4 407.6 L568.3 405.8 L563.3 404.0 L558.3 402.3 L553.4 400.6 L548.5 399.0 L543.6 397.4 L538.8 395.9 L534.1 394.4 L529.4 393.0 L524.7 391.6 L520.1 390.2M416.7 498.8 L422.3 494.9 L427.9 490.9 L433.4 486.8 L438.8 482.6 L444.2 478.4 L449.6 474.0 L454.9 469.6 L460.1 465.0 L465.3 460.4 L470.5 455.7 L475.6 451.0 L480.7 446.1 L485.7 441.2 L490.7 436.1 L495.7 431.0 L500.6 425.8 L505.5 420.6 L510.3 415.2 L515.1 409.8 L519.9 404.3 L524.7 398.7 L529.4 393.0 L534.0 387.2 L538.7 381.4M648.7 430.4 L642.9 427.9 L637.3 425.4 L631.6 423.0 L626.0 420.7 L620.5 418.4 L615.0 416.2 L609.6 414.0 L604.2 411.8 L598.9 409.8 L593.6 407.7 L588.4 405.8 L583.2 403.8 L578.1 402.0 L573.0 400.1 L568.0 398.4 L563.0 396.6 L558.1 394.9 L553.2 393.3 L548.3 391.7 L543.5 390.2 L538.8 388.7 L534.0 387.2 L529.4 385.8 L524.7 384.4M412.2 497.9 L417.8 493.9 L423.4 489.9 L428.9 485.8 L434.3 481.6 L439.7 477.3 L445.0 472.9 L450.3 468.4 L455.6 463.9 L460.8 459.3 L465.9 454.6 L471.0 449.8 L476.1 444.9 L481.1 439.9 L486.1 434.9 L491.1 429.8 L496.0 424.5 L500.8 419.3 L505.7 413.9 L510.5 408.4 L515.3 402.9 L520.0 397.3 L524.7 391.6 L529.4 385.8 L534.0 380.0M653.4 424.9 L647.6 422.4 L642.0 419.9 L636.3 417.5 L630.7 415.1 L625.2 412.8 L619.7 410.6 L614.3 408.4 L608.9 406.2 L603.6 404.1 L598.3 402.1 L593.1 400.1 L587.9 398.2 L582.8 396.3 L577.7 394.4 L572.7 392.6 L567.7 390.9 L562.7 389.2 L557.8 387.5 L553.0 385.9 L548.2 384.4 L543.4 382.9 L538.7 381.4 L534.0 380.0 L529.4 378.6M407.8 497.0 L413.4 493.0 L418.9 489.0 L424.4 484.8 L429.8 480.6 L435.2 476.3 L440.6 471.9 L445.8 467.4 L451.1 462.8 L456.3 458.2 L461.4 453.4 L466.5 448.6 L471.6 443.7 L476.6 438.7 L481.6 433.7 L486.5 428.5 L491.4 423.3 L496.3 418.0 L501.1 412.6 L505.9 407.1 L510.7 401.6 L515.4 396.0 L520.1 390.2 L524.7 384.4 L529.4 378.6" stroke="#000" stroke-opacity="0.17" stroke-width="0.6" fill="none"/><circle cx="408.6" cy="513.0" r="0.9" fill="#111"/><text x="404.0" y="510.9" font-size="8.2" text-anchor="end" fill="#555" font-family="Liberation Sans, sans-serif">60</text><circle cx="407.4" cy="488.2" r="0.9" fill="#111"/><text x="402.8" y="486.1" font-size="8.2" text-anchor="end" fill="#555" font-family="Liberation Sans, sans-serif">65</text><circle cx="406.2" cy="463.5" r="0.9" fill="#111"/><text x="401.6" y="461.4" font-size="8.2" text-anchor="end" fill="#555" font-family="Liberation Sans, sans-serif">70</text><circle cx="405.0" cy="438.7" r="0.9" fill="#111"/><text x="400.4" y="436.6" font-size="8.2" text-anchor="end" fill="#555" font-family="Liberation Sans, sans-serif">75</text><circle cx="403.8" cy="414.0" r="0.9" fill="#111"/><text x="399.2" y="411.9" font-size="8.2" text-anchor="end" fill="#555" font-family="Liberation Sans, sans-serif">80</text><circle cx="402.6" cy="389.2" r="0.9" fill="#111"/><text x="398.0" y="387.1" font-size="8.2" text-anchor="end" fill="#555" font-family="Liberation Sans, sans-serif">85</text><circle cx="410.5" cy="551.8" r="0.9" fill="#111"/><circle cx="529.2" cy="608.2" r="0.9" fill="#111"/><circle cx="440.1" cy="565.9" r="0.9" fill="#111"/><circle cx="558.8" cy="594.1" r="0.9" fill="#111"/><circle cx="469.8" cy="580.0" r="0.9" fill="#111"/><circle cx="588.4" cy="580.0" r="0.9" fill="#111"/><circle cx="499.5" cy="594.1" r="0.9" fill="#111"/><circle cx="618.1" cy="565.9" r="0.9" fill="#111"/><circle cx="529.2" cy="608.2" r="0.9" fill="#111"/><circle cx="647.7" cy="551.8" r="0.9" fill="#111"/><circle cx="408.1" cy="502.1" r="2.4" fill="#f0c0c0" stroke="#e8b8b8" stroke-width="0.6"/><circle cx="653.6" cy="420.9" r="2.4" fill="#cc0000" stroke="#8a0000" stroke-width="0.6"/><circle cx="529.4" cy="377.7" r="2.4" fill="#cc0000" stroke="#8a0000" stroke-width="0.6"/><circle cx="529.0" cy="533.5" r="2.4" fill="#f0c0c0" stroke="#e8b8b8" stroke-width="0.6"/><rect x="526.9" y="454.7" width="4.6" height="9.9" rx="2.3" fill="#cc0000" stroke="#8a0000" stroke-width="0.5"/><polyline points="412.8,844.3 532.8,804.3 652.8,844.7" stroke="#d4d4d4" stroke-width="0.8" fill="none"/><polyline points="411.6,819.7 532.8,782.2 654.0,820.1" stroke="#d4d4d4" stroke-width="0.8" fill="none"/><polyline points="410.4,795.2 532.8,760.1 655.1,795.6" stroke="#d4d4d4" stroke-width="0.8" fill="none"/><polyline points="409.2,770.6 532.7,738.1 656.2,771.1" stroke="#d4d4d4" stroke-width="0.8" fill="none"/><polyline points="408.0,746.1 532.7,716.0 657.3,746.5" stroke="#d4d4d4" stroke-width="0.8" fill="none"/><polyline points="406.8,721.5 532.7,693.9 658.4,722.0" stroke="#d4d4d4" stroke-width="0.8" fill="none"/><polyline points="442.8,834.3 438.3,714.6" stroke="#d4d4d4" stroke-width="0.8" fill="none"/><polyline points="562.8,814.4 564.1,700.9" stroke="#d4d4d4" stroke-width="0.8" fill="none"/><polyline points="472.8,824.3 469.7,707.7" stroke="#d4d4d4" stroke-width="0.8" fill="none"/><polyline points="592.8,824.5 595.6,707.9" stroke="#d4d4d4" stroke-width="0.8" fill="none"/><polyline points="502.8,814.3 501.2,700.8" stroke="#d4d4d4" stroke-width="0.8" fill="none"/><polyline points="622.8,834.6 627.0,715.0" stroke="#d4d4d4" stroke-width="0.8" fill="none"/><polyline points="532.8,804.3 532.7,693.9" stroke="#d4d4d4" stroke-width="0.8" fill="none"/><polyline points="414.7,882.8 406.8,721.5" stroke="#d4d4d4" stroke-width="0.8" fill="none"/><polyline points="651.1,883.1 658.4,722.0" stroke="#d4d4d4" stroke-width="0.8" fill="none"/><polygon points="414.7,882.8 533.0,938.8 651.1,883.1 532.9,839.1" fill="#676767"/><path d="M552.4 929.7 548.4 928.4 544.5 927.2 540.6 926.0 536.7 924.7 532.9 923.5 529.1 922.3 525.3 921.0 521.6 919.8 517.9 918.5 514.3 917.3 510.7 916.1 507.2 914.8 503.7 913.6 500.2 912.3 496.8 911.1 493.4 909.8 490.0 908.5 486.7 907.3 483.4 906.0 480.2 904.8 477.0 903.5 473.8 902.2 470.7 901.0 467.7 899.7 464.6 898.5 461.6 897.2 458.7 895.9 455.8 894.7 452.9 893.4 450.1 892.1 447.3 890.8 444.5 889.6 441.8 888.3 439.1 887.0 436.5 885.7 433.9 884.5 431.4 883.2 428.9 881.9 426.4 880.6 424.0 879.3" stroke="#38a4ab" stroke-width="0.8" fill="none"/><path d="M572.3 920.3 568.4 919.1 564.5 917.9 560.7 916.7 556.9 915.5 553.1 914.3 549.4 913.1 545.7 911.8 542.1 910.6 538.5 909.4 534.9 908.2 531.4 907.0 527.9 905.8 524.4 904.6 521.0 903.3 517.7 902.1 514.3 900.9 511.1 899.7 507.8 898.4 504.6 897.2 501.5 896.0 498.3 894.7 495.2 893.5 492.2 892.2 489.2 891.0 486.2 889.8 483.3 888.5 480.4 887.3 477.6 886.0 474.8 884.8 472.1 883.5 469.3 882.3 466.7 881.0 464.0 879.8 461.4 878.5 458.9 877.2 456.4 876.0 453.9 874.7 451.5 873.4 449.1 872.2 446.8 870.9" stroke="#38ab8c" stroke-width="0.8" fill="none"/><path d="M592.7 910.7 588.8 909.5 585.0 908.3 581.2 907.2 577.5 906.0 573.8 904.8 570.2 903.6 566.6 902.5 563.0 901.3 559.5 900.1 556.0 898.9 552.5 897.7 549.1 896.5 545.7 895.3 542.4 894.1 539.1 892.9 535.9 891.7 532.7 890.5 529.5 889.3 526.4 888.1 523.3 886.9 520.3 885.7 517.3 884.5 514.3 883.3 511.4 882.0 508.5 880.8 505.7 879.6 502.9 878.4 500.1 877.1 497.4 875.9 494.8 874.7 492.1 873.4 489.6 872.2 487.0 870.9 484.5 869.7 482.1 868.4 479.7 867.2 477.3 865.9 475.0 864.7 472.7 863.4 470.5 862.1" stroke="#38ab66" stroke-width="0.8" fill="none"/><path d="M613.6 900.8 609.8 899.6 606.1 898.5 602.4 897.4 598.8 896.2 595.2 895.1 591.6 893.9 588.1 892.8 584.6 891.6 581.1 890.5 577.7 889.3 574.4 888.1 571.0 887.0 567.8 885.8 564.5 884.6 561.3 883.4 558.2 882.3 555.1 881.1 552.0 879.9 549.0 878.7 546.0 877.5 543.0 876.3 540.1 875.1 537.3 873.9 534.5 872.7 531.7 871.5 529.0 870.3 526.3 869.1 523.6 867.8 521.0 866.6 518.5 865.4 516.0 864.2 513.5 862.9 511.1 861.7 508.8 860.4 506.4 859.2 504.2 857.9 501.9 856.7 499.8 855.4 497.6 854.2 495.6 852.9" stroke="#38ab40" stroke-width="0.8" fill="none"/><path d="M635.3 890.5 631.7 889.4 628.0 888.3 624.4 887.2 620.9 886.1 617.4 884.9 613.9 883.8 610.5 882.7 607.1 881.6 603.7 880.4 600.4 879.3 597.2 878.1 594.0 877.0 590.8 875.8 587.7 874.7 584.6 873.5 581.5 872.3 578.5 871.2 575.6 870.0 572.7 868.8 569.8 867.6 567.0 866.4 564.2 865.2 561.5 864.0 558.8 862.8 556.2 861.6 553.6 860.4 551.0 859.2 548.5 858.0 546.1 856.8 543.7 855.5 541.4 854.3 539.1 853.1 536.8 851.8 534.6 850.6 532.5 849.3 530.4 848.0 528.3 846.8 526.3 845.5 524.4 844.2 522.5 842.9" stroke="#57ab38" stroke-width="0.8" fill="none"/><g fill="currentColor" stroke="currentColor" stroke-width="0.5"><polygon color="#60ff00" points="532.7,743.8 537.3,741.2 532.7,740.4 528.2,743.0"/><polygon color="#52ff00" points="528.1,746.5 532.7,743.8 528.2,743.0 523.5,745.6"/><polygon color="#64ff00" points="537.4,744.7 541.9,742.1 537.3,741.2 532.7,743.8"/><polygon color="#45ff00" points="523.5,749.2 528.1,746.5 523.5,745.6 518.9,748.3"/><polygon color="#56ff00" points="532.7,747.4 537.4,744.7 532.7,743.8 528.1,746.5"/><polygon color="#67ff00" points="542.0,745.6 546.6,743.0 541.9,742.1 537.4,744.7"/><polygon color="#37ff00" points="518.8,752.0 523.5,749.2 518.9,748.3 514.2,751.1"/><polygon color="#49ff00" points="528.1,750.2 532.7,747.4 528.1,746.5 523.5,749.2"/><polygon color="#5aff00" points="537.4,748.4 542.0,745.6 537.4,744.7 532.7,747.4"/><polygon color="#6bff00" points="546.7,746.6 551.3,743.9 546.6,743.0 542.0,745.6"/><polygon color="#28ff00" points="514.0,754.9 518.8,752.0 514.2,751.1 509.5,753.9"/><polygon color="#3aff00" points="523.4,753.0 528.1,750.2 523.5,749.2 518.8,752.0"/><polygon color="#4cff00" points="532.7,751.1 537.4,748.4 532.7,747.4 528.1,750.2"/><polygon color="#5dff00" points="542.1,749.3 546.7,746.6 542.0,745.6 537.4,748.4"/><polygon color="#6eff00" points="551.5,747.6 556.1,744.8 551.3,743.9 546.7,746.6"/><polygon color="#1aff00" points="509.2,757.8 514.0,754.9 509.5,753.9 504.7,756.8"/><polygon color="#2cff00" points="518.6,755.9 523.4,753.0 518.8,752.0 514.0,754.9"/><polygon color="#3eff00" points="528.0,754.0 532.7,751.1 528.1,750.2 523.4,753.0"/><polygon color="#4fff00" points="537.5,752.1 542.1,749.3 537.4,748.4 532.7,751.1"/><polygon color="#60ff00" points="546.9,750.3 551.5,747.6 546.7,746.6 542.1,749.3"/><polygon color="#71ff00" points="556.3,748.6 560.9,745.8 556.1,744.8 551.5,747.6"/><polygon color="#0bff00" points="504.4,760.7 509.2,757.8 504.7,756.8 499.9,759.7"/><polygon color="#1dff00" points="513.9,758.8 518.6,755.9 514.0,754.9 509.2,757.8"/><polygon color="#2fff00" points="523.3,756.9 528.0,754.0 523.4,753.0 518.6,755.9"/><polygon color="#41ff00" points="532.7,755.0 537.5,752.1 532.7,751.1 528.0,754.0"/><polygon color="#52ff00" points="542.2,753.2 546.9,750.3 542.1,749.3 537.5,752.1"/><polygon color="#63ff00" points="551.7,751.4 556.3,748.6 551.5,747.6 546.9,750.3"/><polygon color="#74ff00" points="561.2,749.6 565.8,746.8 560.9,745.8 556.3,748.6"/><polygon color="#00ff05" points="499.6,763.8 504.4,760.7 499.9,759.7 495.0,762.7"/><polygon color="#0eff00" points="509.0,761.8 513.9,758.8 509.2,757.8 504.4,760.7"/><polygon color="#20ff00" points="518.5,759.9 523.3,756.9 518.6,755.9 513.9,758.8"/><polygon color="#32ff00" points="528.0,758.0 532.7,755.0 528.0,754.0 523.3,756.9"/><polygon color="#44ff00" points="537.5,756.1 542.2,753.2 537.5,752.1 532.7,755.0"/><polygon color="#55ff00" points="547.0,754.3 551.7,751.4 546.9,750.3 542.2,753.2"/><polygon color="#66ff00" points="556.5,752.5 561.2,749.6 556.3,748.6 551.7,751.4"/><polygon color="#00ff14" points="494.7,766.9 499.6,763.8 495.0,762.7 490.1,765.8"/><polygon color="#76ff00" points="566.1,750.7 570.7,747.9 565.8,746.8 561.2,749.6"/><polygon color="#00ff02" points="504.2,764.9 509.0,761.8 504.4,760.7 499.6,763.8"/><polygon color="#11ff00" points="513.7,762.9 518.5,759.9 513.9,758.8 509.0,761.8"/><polygon color="#23ff00" points="523.2,761.0 528.0,758.0 523.3,756.9 518.5,759.9"/><polygon color="#35ff00" points="532.8,759.1 537.5,756.1 532.7,755.0 528.0,758.0"/><polygon color="#46ff00" points="542.3,757.2 547.0,754.3 542.2,753.2 537.5,756.1"/><polygon color="#57ff00" points="551.9,755.4 556.5,752.5 551.7,751.4 547.0,754.3"/><polygon color="#00ff24" points="489.7,770.0 494.7,766.9 490.1,765.8 485.2,768.9"/><polygon color="#68ff00" points="561.5,753.6 566.1,750.7 561.2,749.6 556.5,752.5"/><polygon color="#00ff11" points="499.3,768.0 504.2,764.9 499.6,763.8 494.7,766.9"/><polygon color="#78ff00" points="571.0,751.9 575.6,749.0 570.7,747.9 566.1,750.7"/><polygon color="#01ff00" points="508.8,766.0 513.7,762.9 509.0,761.8 504.2,764.9"/><polygon color="#13ff00" points="518.4,764.1 523.2,761.0 518.5,759.9 513.7,762.9"/><polygon color="#25ff00" points="528.0,762.1 532.8,759.1 528.0,758.0 523.2,761.0"/><polygon color="#37ff00" points="537.6,760.2 542.3,757.2 537.5,756.1 532.8,759.1"/><polygon color="#00ff35" points="484.7,773.3 489.7,770.0 485.2,768.9 480.2,772.1"/><polygon color="#48ff00" points="547.2,758.4 551.9,755.4 547.0,754.3 542.3,757.2"/><polygon color="#59ff00" points="556.8,756.6 561.5,753.6 556.5,752.5 551.9,755.4"/><polygon color="#00ff22" points="494.3,771.2 499.3,768.0 494.7,766.9 489.7,770.0"/><polygon color="#6aff00" points="566.4,754.8 571.0,751.9 566.1,750.7 561.5,753.6"/><polygon color="#00ff0f" points="503.9,769.2 508.8,766.0 504.2,764.9 499.3,768.0"/><polygon color="#7aff00" points="576.0,753.0 580.6,750.1 575.6,749.0 571.0,751.9"/><polygon color="#03ff00" points="513.5,767.2 518.4,764.1 513.7,762.9 508.8,766.0"/><polygon color="#16ff00" points="523.1,765.2 528.0,762.1 523.2,761.0 518.4,764.1"/><polygon color="#28ff00" points="532.8,763.3 537.6,760.2 532.8,759.1 528.0,762.1"/><polygon color="#00ff45" points="479.7,776.6 484.7,773.3 480.2,772.1 475.2,775.3"/><polygon color="#39ff00" points="542.4,761.4 547.2,758.4 542.3,757.2 537.6,760.2"/><polygon color="#4aff00" points="552.1,759.6 556.8,756.6 551.9,755.4 547.2,758.4"/><polygon color="#00ff32" points="489.3,774.5 494.3,771.2 489.7,770.0 484.7,773.3"/><polygon color="#5bff00" points="561.7,757.8 566.4,754.8 561.5,753.6 556.8,756.6"/><polygon color="#00ff1f" points="499.0,772.4 503.9,769.2 499.3,768.0 494.3,771.2"/><polygon color="#6cff00" points="571.4,756.0 576.0,753.0 571.0,751.9 566.4,754.8"/><polygon color="#00ff0d" points="508.6,770.4 513.5,767.2 508.8,766.0 503.9,769.2"/><polygon color="#7cff00" points="581.1,754.3 585.7,751.3 580.6,750.1 576.0,753.0"/><polygon color="#06ff00" points="518.2,768.4 523.1,765.2 518.4,764.1 513.5,767.2"/><polygon color="#18ff00" points="527.9,766.5 532.8,763.3 528.0,762.1 523.1,765.2"/><polygon color="#00ff56" points="474.7,779.9 479.7,776.6 475.2,775.3 470.1,778.7"/><polygon color="#2aff00" points="537.6,764.5 542.4,761.4 537.6,760.2 532.8,763.3"/><polygon color="#00ff43" points="484.3,777.8 489.3,774.5 484.7,773.3 479.7,776.6"/><polygon color="#3bff00" points="547.3,762.7 552.1,759.6 547.2,758.4 542.4,761.4"/><polygon color="#4cff00" points="557.0,760.8 561.7,757.8 556.8,756.6 552.1,759.6"/><polygon color="#00ff30" points="494.0,775.7 499.0,772.4 494.3,771.2 489.3,774.5"/><polygon color="#5dff00" points="566.7,759.0 571.4,756.0 566.4,754.8 561.7,757.8"/><polygon color="#00ff1d" points="503.6,773.7 508.6,770.4 503.9,769.2 499.0,772.4"/><polygon color="#6dff00" points="576.5,757.2 581.1,754.3 576.0,753.0 571.4,756.0"/><polygon color="#00ff0a" points="513.3,771.7 518.2,768.4 513.5,767.2 508.6,770.4"/><polygon color="#7dff00" points="586.2,755.5 590.8,752.5 585.7,751.3 581.1,754.3"/><polygon color="#08ff00" points="523.0,769.7 527.9,766.5 523.1,765.2 518.2,768.4"/><polygon color="#00ff67" points="469.5,783.3 474.7,779.9 470.1,778.7 465.0,782.1"/><polygon color="#1aff00" points="532.8,767.7 537.6,764.5 532.8,763.3 527.9,766.5"/><polygon color="#00ff54" points="479.2,781.2 484.3,777.8 479.7,776.6 474.7,779.9"/><polygon color="#2bff00" points="542.5,765.8 547.3,762.7 542.4,761.4 537.6,764.5"/><polygon color="#00ff40" points="488.9,779.1 494.0,775.7 489.3,774.5 484.3,777.8"/><polygon color="#3dff00" points="552.2,763.9 557.0,760.8 552.1,759.6 547.3,762.7"/><polygon color="#4eff00" points="562.0,762.1 566.7,759.0 561.7,757.8 557.0,760.8"/><polygon color="#00ff2e" points="498.6,777.0 503.6,773.7 499.0,772.4 494.0,775.7"/><polygon color="#5eff00" points="571.8,760.3 576.5,757.2 571.4,756.0 566.7,759.0"/><polygon color="#00ff1b" points="508.4,775.0 513.3,771.7 508.6,770.4 503.6,773.7"/><polygon color="#6fff00" points="581.6,758.5 586.2,755.5 581.1,754.3 576.5,757.2"/><polygon color="#00ff09" points="518.1,772.9 523.0,769.7 518.2,768.4 513.3,771.7"/><polygon color="#7fff00" points="591.4,756.8 596.0,753.8 590.8,752.5 586.2,755.5"/><polygon color="#00ff79" points="464.4,786.8 469.5,783.3 465.0,782.1 459.9,785.5"/><polygon color="#0aff00" points="527.9,771.0 532.8,767.7 527.9,766.5 523.0,769.7"/><polygon color="#00ff65" points="474.1,784.7 479.2,781.2 474.7,779.9 469.5,783.3"/><polygon color="#1bff00" points="537.7,769.0 542.5,765.8 537.6,764.5 532.8,767.7"/><polygon color="#00ff52" points="483.9,782.5 488.9,779.1 484.3,777.8 479.2,781.2"/><polygon color="#2dff00" points="547.4,767.1 552.2,763.9 547.3,762.7 542.5,765.8"/><polygon color="#00ff3f" points="493.6,780.4 498.6,777.0 494.0,775.7 488.9,779.1"/><polygon color="#3eff00" points="557.2,765.3 562.0,762.1 557.0,760.8 552.2,763.9"/><polygon color="#4fff00" points="567.1,763.4 571.8,760.3 566.7,759.0 562.0,762.1"/><polygon color="#00ff2c" points="503.4,778.3 508.4,775.0 503.6,773.7 498.6,777.0"/><polygon color="#60ff00" points="576.9,761.6 581.6,758.5 576.5,757.2 571.8,760.3"/><polygon color="#00ff19" points="513.2,776.3 518.1,772.9 513.3,771.7 508.4,775.0"/><polygon color="#00ff8b" points="459.2,790.4 464.4,786.8 459.9,785.5 454.7,789.1"/><polygon color="#70ff00" points="586.7,759.9 591.4,756.8 586.2,755.5 581.6,758.5"/><polygon color="#00ff07" points="523.0,774.3 527.9,771.0 523.0,769.7 518.1,772.9"/><polygon color="#7fff00" points="596.6,758.1 601.2,755.1 596.0,753.8 591.4,756.8"/><polygon color="#00ff77" points="469.0,788.2 474.1,784.7 469.5,783.3 464.4,786.8"/><polygon color="#0bff00" points="532.8,772.3 537.7,769.0 532.8,767.7 527.9,771.0"/><polygon color="#00ff63" points="478.7,786.0 483.9,782.5 479.2,781.2 474.1,784.7"/><polygon color="#1dff00" points="542.6,770.4 547.4,767.1 542.5,765.8 537.7,769.0"/><polygon color="#00ff50" points="488.5,783.9 493.6,780.4 488.9,779.1 483.9,782.5"/><polygon color="#2eff00" points="552.4,768.5 557.2,765.3 552.2,763.9 547.4,767.1"/><polygon color="#3fff00" points="562.3,766.6 567.1,763.4 562.0,762.1 557.2,765.3"/><polygon color="#00ff3d" points="498.3,781.8 503.4,778.3 498.6,777.0 493.6,780.4"/><polygon color="#50ff00" points="572.2,764.8 576.9,761.6 571.8,760.3 567.1,763.4"/><polygon color="#00ff2a" points="508.1,779.7 513.2,776.3 508.4,775.0 503.4,778.3"/><polygon color="#00ff9e" points="454.0,794.1 459.2,790.4 454.7,789.1 449.5,792.7"/><polygon color="#60ff00" points="582.0,763.0 586.7,759.9 581.6,758.5 576.9,761.6"/><polygon color="#00ff18" points="518.0,777.7 523.0,774.3 518.1,772.9 513.2,776.3"/><polygon color="#00ff89" points="463.8,791.8 469.0,788.2 464.4,786.8 459.2,790.4"/><polygon color="#70ff00" points="591.9,761.2 596.6,758.1 591.4,756.8 586.7,759.9"/><polygon color="#00ff06" points="527.8,775.7 532.8,772.3 527.9,771.0 523.0,774.3"/><polygon color="#80ff00" points="601.8,759.5 606.4,756.5 601.2,755.1 596.6,758.1"/><polygon color="#00ff75" points="473.6,789.6 478.7,786.0 474.1,784.7 469.0,788.2"/><polygon color="#0cff00" points="537.7,773.7 542.6,770.4 537.7,769.0 532.8,772.3"/><polygon color="#00ff62" points="483.4,787.4 488.5,783.9 483.9,782.5 478.7,786.0"/><polygon color="#1eff00" points="547.6,771.8 552.4,768.5 547.4,767.1 542.6,770.4"/><polygon color="#00ff4e" points="493.2,785.3 498.3,781.8 493.6,780.4 488.5,783.9"/><polygon color="#2fff00" points="557.5,769.9 562.3,766.6 557.2,765.3 552.4,768.5"/><polygon color="#40ff00" points="567.4,768.0 572.2,764.8 567.1,763.4 562.3,766.6"/><polygon color="#00ff3b" points="503.1,783.2 508.1,779.7 503.4,778.3 498.3,781.8"/><polygon color="#00ffb0" points="448.7,797.8 454.0,794.1 449.5,792.7 444.2,796.3"/><polygon color="#51ff00" points="577.3,766.2 582.0,763.0 576.9,761.6 572.2,764.8"/><polygon color="#00ff29" points="513.0,781.1 518.0,777.7 513.2,776.3 508.1,779.7"/><polygon color="#00ff9c" points="458.5,795.5 463.8,791.8 459.2,790.4 454.0,794.1"/><polygon color="#61ff00" points="587.2,764.4 591.9,761.2 586.7,759.9 582.0,763.0"/><polygon color="#00ff17" points="522.9,779.1 527.8,775.7 523.0,774.3 518.0,777.7"/><polygon color="#71ff00" points="597.2,762.7 601.8,759.5 596.6,758.1 591.9,761.2"/><polygon color="#00ff88" points="468.4,793.3 473.6,789.6 469.0,788.2 463.8,791.8"/><polygon color="#00ff05" points="532.8,777.1 537.7,773.7 532.8,772.3 527.8,775.7"/><polygon color="#80ff00" points="607.1,760.9 611.7,757.8 606.4,756.5 601.8,759.5"/><polygon color="#00ff74" points="478.2,791.0 483.4,787.4 478.7,786.0 473.6,789.6"/><polygon color="#0dff00" points="542.7,775.1 547.6,771.8 542.6,770.4 537.7,773.7"/><polygon color="#00ff60" points="488.1,788.9 493.2,785.3 488.5,783.9 483.4,787.4"/><polygon color="#1fff00" points="552.6,773.2 557.5,769.9 552.4,768.5 547.6,771.8"/><polygon color="#00ff4d" points="498.0,786.7 503.1,783.2 498.3,781.8 493.2,785.3"/><polygon color="#30ff00" points="562.6,771.3 567.4,768.0 562.3,766.6 557.5,769.9"/><polygon color="#00ffc3" points="443.4,801.5 448.7,797.8 444.2,796.3 438.9,800.1"/><polygon color="#41ff00" points="572.5,769.5 577.3,766.2 572.2,764.8 567.4,768.0"/><polygon color="#00ff3a" points="507.9,784.6 513.0,781.1 508.1,779.7 503.1,783.2"/><polygon color="#00ffaf" points="453.2,799.2 458.5,795.5 454.0,794.1 448.7,797.8"/><polygon color="#51ff00" points="582.5,767.6 587.2,764.4 582.0,763.0 577.3,766.2"/><polygon color="#00ff28" points="517.8,782.6 522.9,779.1 518.0,777.7 513.0,781.1"/><polygon color="#00ff9a" points="463.1,797.0 468.4,793.3 463.8,791.8 458.5,795.5"/><polygon color="#61ff00" points="592.5,765.9 597.2,762.7 591.9,761.2 587.2,764.4"/><polygon color="#00ff16" points="527.8,780.6 532.8,777.1 527.8,775.7 522.9,779.1"/><polygon color="#71ff00" points="602.5,764.1 607.1,760.9 601.8,759.5 597.2,762.7"/><polygon color="#00ff86" points="473.0,794.7 478.2,791.0 473.6,789.6 468.4,793.3"/><polygon color="#00ff04" points="537.8,778.6 542.7,775.1 537.7,773.7 532.8,777.1"/><polygon color="#81ff00" points="612.5,762.4 617.1,759.3 611.7,757.8 607.1,760.9"/><polygon color="#00ff72" points="482.9,792.5 488.1,788.9 483.4,787.4 478.2,791.0"/><polygon color="#0eff00" points="547.7,776.6 552.6,773.2 547.6,771.8 542.7,775.1"/><polygon color="#00ff5f" points="492.9,790.4 498.0,786.7 493.2,785.3 488.1,788.9"/><polygon color="#1fff00" points="557.7,774.7 562.6,771.3 557.5,769.9 552.6,773.2"/><polygon color="#00ffd7" points="438.0,805.4 443.4,801.5 438.9,800.1 433.5,803.9"/><polygon color="#00ff4c" points="502.8,788.2 507.9,784.6 503.1,783.2 498.0,786.7"/><polygon color="#30ff00" points="567.7,772.8 572.5,769.5 567.4,768.0 562.6,771.3"/><polygon color="#00ffc2" points="447.9,803.1 453.2,799.2 448.7,797.8 443.4,801.5"/><polygon color="#41ff00" points="577.7,770.9 582.5,767.6 577.3,766.2 572.5,769.5"/><polygon color="#00ff39" points="512.8,786.1 517.8,782.6 513.0,781.1 507.9,784.6"/><polygon color="#00ffad" points="457.8,800.8 463.1,797.0 458.5,795.5 453.2,799.2"/><polygon color="#51ff00" points="587.8,769.1 592.5,765.9 587.2,764.4 582.5,767.6"/><polygon color="#00ff27" points="522.8,784.1 527.8,780.6 522.9,779.1 517.8,782.6"/><polygon color="#00ff99" points="467.8,798.5 473.0,794.7 468.4,793.3 463.1,797.0"/><polygon color="#61ff00" points="597.8,767.4 602.5,764.1 597.2,762.7 592.5,765.9"/><polygon color="#00ff15" points="532.8,782.1 537.8,778.6 532.8,777.1 527.8,780.6"/><polygon color="#71ff00" points="607.9,765.6 612.5,762.4 607.1,760.9 602.5,764.1"/><polygon color="#00ff85" points="477.7,796.3 482.9,792.5 478.2,791.0 473.0,794.7"/><polygon color="#00ff03" points="542.8,780.1 547.7,776.6 542.7,775.1 537.8,778.6"/><polygon color="#80ff00" points="617.9,763.9 622.5,760.7 617.1,759.3 612.5,762.4"/><polygon color="#00ff71" points="487.7,794.1 492.9,790.4 488.1,788.9 482.9,792.5"/><polygon color="#00ffeb" points="432.6,809.3 438.0,805.4 433.5,803.9 428.1,807.8"/><polygon color="#0eff00" points="552.8,778.1 557.7,774.7 552.6,773.2 547.7,776.6"/><polygon color="#00ff5e" points="497.7,791.9 502.8,788.2 498.0,786.7 492.9,790.4"/><polygon color="#20ff00" points="562.9,776.2 567.7,772.8 562.6,771.3 557.7,774.7"/><polygon color="#00ffd6" points="442.5,807.0 447.9,803.1 443.4,801.5 438.0,805.4"/><polygon color="#31ff00" points="572.9,774.3 577.7,770.9 572.5,769.5 567.7,772.8"/><polygon color="#00ff4b" points="507.7,789.8 512.8,786.1 507.9,784.6 502.8,788.2"/><polygon color="#00ffc1" points="452.5,804.6 457.8,800.8 453.2,799.2 447.9,803.1"/><polygon color="#41ff00" points="583.0,772.5 587.8,769.1 582.5,767.6 577.7,770.9"/><polygon color="#00ff39" points="517.7,787.7 522.8,784.1 517.8,782.6 512.8,786.1"/><polygon color="#00ffac" points="462.4,802.3 467.8,798.5 463.1,797.0 457.8,800.8"/><polygon color="#51ff00" points="593.1,770.7 597.8,767.4 592.5,765.9 587.8,769.1"/><polygon color="#00ff26" points="527.8,785.6 532.8,782.1 527.8,780.6 522.8,784.1"/><polygon color="#00ff98" points="472.4,800.1 477.7,796.3 473.0,794.7 467.8,798.5"/><polygon color="#61ff00" points="603.2,768.9 607.9,765.6 602.5,764.1 597.8,767.4"/><polygon color="#00ff14" points="537.8,783.6 542.8,780.1 537.8,778.6 532.8,782.1"/><polygon color="#71ff00" points="613.3,767.2 617.9,763.9 612.5,762.4 607.9,765.6"/><polygon color="#00ffff" points="427.1,813.3 432.6,809.3 428.1,807.8 422.7,811.7"/><polygon color="#00ff84" points="482.5,797.8 487.7,794.1 482.9,792.5 477.7,796.3"/><polygon color="#00ff03" points="547.9,781.6 552.8,778.1 547.7,776.6 542.8,780.1"/><polygon color="#80ff00" points="623.4,765.5 628.0,762.3 622.5,760.7 617.9,763.9"/><polygon color="#00ff71" points="492.5,795.6 497.7,791.9 492.9,790.4 487.7,794.1"/><polygon color="#00ffea" points="437.1,810.9 442.5,807.0 438.0,805.4 432.6,809.3"/><polygon color="#0fff00" points="558.0,779.7 562.9,776.2 557.7,774.7 552.8,778.1"/><polygon color="#00ff5d" points="502.5,793.5 507.7,789.8 502.8,788.2 497.7,791.9"/><polygon color="#20ff00" points="568.1,777.8 572.9,774.3 567.7,772.8 562.9,776.2"/><polygon color="#00ffd4" points="447.1,808.6 452.5,804.6 447.9,803.1 442.5,807.0"/><polygon color="#31ff00" points="578.2,775.9 583.0,772.5 577.7,770.9 572.9,774.3"/><polygon color="#00ff4b" points="512.6,791.4 517.7,787.7 512.8,786.1 507.7,789.8"/><polygon color="#00ffc0" points="457.1,806.2 462.4,802.3 457.8,800.8 452.5,804.6"/><polygon color="#41ff00" points="588.3,774.1 593.1,770.7 587.8,769.1 583.0,772.5"/><polygon color="#00ff38" points="522.7,789.3 527.8,785.6 522.8,784.1 517.7,787.7"/><polygon color="#00ffab" points="467.1,803.9 472.4,800.1 467.8,798.5 462.4,802.3"/><polygon color="#51ff00" points="598.4,772.3 603.2,768.9 597.8,767.4 593.1,770.7"/><polygon color="#00ff26" points="532.8,787.2 537.8,783.6 532.8,782.1 527.8,785.6"/><polygon color="#00ebff" points="421.6,817.4 427.1,813.3 422.7,811.7 417.2,815.8"/><polygon color="#61ff00" points="608.6,770.5 613.3,767.2 607.9,765.6 603.2,768.9"/><polygon color="#00ff97" points="477.2,801.7 482.5,797.8 477.7,796.3 472.4,800.1"/><polygon color="#00ff14" points="542.9,785.2 547.9,781.6 542.8,780.1 537.8,783.6"/><polygon color="#70ff00" points="618.8,768.8 623.4,765.5 617.9,763.9 613.3,767.2"/><polygon color="#00ff83" points="487.3,799.5 492.5,795.6 487.7,794.1 482.5,797.8"/><polygon color="#00fffe" points="431.6,815.0 437.1,810.9 432.6,809.3 427.1,813.3"/><polygon color="#00ff03" points="553.0,783.2 558.0,779.7 552.8,778.1 547.9,781.6"/><polygon color="#7fff00" points="628.9,767.1 633.5,763.8 628.0,762.3 623.4,765.5"/><polygon color="#00ff70" points="497.3,797.3 502.5,793.5 497.7,791.9 492.5,795.6"/><polygon color="#00ffe9" points="441.7,812.6 447.1,808.6 442.5,807.0 437.1,810.9"/><polygon color="#0eff00" points="563.2,781.3 568.1,777.8 562.9,776.2 558.0,779.7"/><polygon color="#00ff5d" points="507.5,795.1 512.6,791.4 507.7,789.8 502.5,793.5"/><polygon color="#20ff00" points="573.3,779.4 578.2,775.9 572.9,774.3 568.1,777.8"/><polygon color="#00ffd4" points="451.7,810.2 457.1,806.2 452.5,804.6 447.1,808.6"/><polygon color="#30ff00" points="583.5,777.5 588.3,774.1 583.0,772.5 578.2,775.9"/><polygon color="#00ff4a" points="517.6,793.0 522.7,789.3 517.7,787.7 512.6,791.4"/><polygon color="#00ffbf" points="461.8,807.9 467.1,803.9 462.4,802.3 457.1,806.2"/><polygon color="#41ff00" points="593.7,775.7 598.4,772.3 593.1,770.7 588.3,774.1"/><polygon color="#00ff38" points="527.7,790.9 532.8,787.2 527.8,785.6 522.7,789.3"/><polygon color="#00d7ff" points="416.1,821.5 421.6,817.4 417.2,815.8 411.6,819.9"/><polygon color="#00ffab" points="471.9,805.6 477.2,801.7 472.4,800.1 467.1,803.9"/><polygon color="#51ff00" points="603.9,773.9 608.6,770.5 603.2,768.9 598.4,772.3"/><polygon color="#00ff26" points="537.9,788.9 542.9,785.2 537.8,783.6 532.8,787.2"/><polygon color="#60ff00" points="614.1,772.1 618.8,768.8 613.3,767.2 608.6,770.5"/><polygon color="#00ecff" points="426.1,819.1 431.6,815.0 427.1,813.3 421.6,817.4"/><polygon color="#00ff97" points="482.0,803.3 487.3,799.5 482.5,797.8 477.2,801.7"/><polygon color="#00ff14" points="548.0,786.9 553.0,783.2 547.9,781.6 542.9,785.2"/><polygon color="#6fff00" points="624.3,770.4 628.9,767.1 623.4,765.5 618.8,768.8"/><polygon color="#00ff83" points="492.1,801.1 497.3,797.3 492.5,795.6 487.3,799.5"/><polygon color="#00fffd" points="436.2,816.7 441.7,812.6 437.1,810.9 431.6,815.0"/><polygon color="#00ff03" points="558.2,784.9 563.2,781.3 558.0,779.7 553.0,783.2"/><polygon color="#7eff00" points="634.5,768.7 639.1,765.4 633.5,763.8 628.9,767.1"/><polygon color="#00ff70" points="502.3,798.9 507.5,795.1 502.5,793.5 497.3,797.3"/><polygon color="#0eff00" points="568.4,782.9 573.3,779.4 568.1,777.8 563.2,781.3"/><polygon color="#00ffe8" points="446.3,814.3 451.7,810.2 447.1,808.6 441.7,812.6"/><polygon color="#00ff5d" points="512.4,796.8 517.6,793.0 512.6,791.4 507.5,795.1"/><polygon color="#1fff00" points="578.6,781.0 583.5,777.5 578.2,775.9 573.3,779.4"/><polygon color="#00ffd3" points="456.4,811.9 461.8,807.9 457.1,806.2 451.7,810.2"/><polygon color="#30ff00" points="588.9,779.2 593.7,775.7 588.3,774.1 583.5,777.5"/><polygon color="#00ff4a" points="522.6,794.7 527.7,790.9 522.7,789.3 517.6,793.0"/><polygon color="#00ffbe" points="466.5,809.6 471.9,805.6 467.1,803.9 461.8,807.9"/><polygon color="#40ff00" points="599.1,777.4 603.9,773.9 598.4,772.3 593.7,775.7"/><polygon color="#00ff38" points="532.8,792.6 537.9,788.9 532.8,787.2 527.7,790.9"/><polygon color="#00d8ff" points="420.5,823.3 426.1,819.1 421.6,817.4 416.1,821.5"/><polygon color="#00ffaa" points="476.7,807.3 482.0,803.3 477.2,801.7 471.9,805.6"/><polygon color="#50ff00" points="609.3,775.6 614.1,772.1 608.6,770.5 603.9,773.9"/><polygon color="#00ff26" points="543.0,790.5 548.0,786.9 542.9,785.2 537.9,788.9"/><polygon color="#5fff00" points="619.6,773.8 624.3,770.4 618.8,768.8 614.1,772.1"/><polygon color="#00edff" points="430.7,820.8 436.2,816.7 431.6,815.0 426.1,819.1"/><polygon color="#00ff96" points="486.8,805.0 492.1,801.1 487.3,799.5 482.0,803.3"/><polygon color="#00ff15" points="553.2,788.5 558.2,784.9 553.0,783.2 548.0,786.9"/><polygon color="#6eff00" points="629.9,772.1 634.5,768.7 628.9,767.1 624.3,770.4"/><polygon color="#00ff83" points="497.0,802.8 502.3,798.9 497.3,797.3 492.1,801.1"/><polygon color="#00fffc" points="440.8,818.4 446.3,814.3 441.7,812.6 436.2,816.7"/><polygon color="#00ff04" points="563.5,786.6 568.4,782.9 563.2,781.3 558.2,784.9"/><polygon color="#7dff00" points="640.2,770.4 644.8,767.1 639.1,765.4 634.5,768.7"/><polygon color="#00ff70" points="507.2,800.6 512.4,796.8 507.5,795.1 502.3,798.9"/><polygon color="#0eff00" points="573.7,784.6 578.6,781.0 573.3,779.4 568.4,782.9"/><polygon color="#00ffe7" points="450.9,816.0 456.4,811.9 451.7,810.2 446.3,814.3"/><polygon color="#1eff00" points="584.0,782.7 588.9,779.2 583.5,777.5 578.6,781.0"/><polygon color="#00ff5d" points="517.4,798.5 522.6,794.7 517.6,793.0 512.4,796.8"/><polygon color="#00ffd3" points="461.1,813.7 466.5,809.6 461.8,807.9 456.4,811.9"/><polygon color="#2fff00" points="594.3,780.9 599.1,777.4 593.7,775.7 588.9,779.2"/><polygon color="#00ff4b" points="527.7,796.4 532.8,792.6 527.7,790.9 522.6,794.7"/><polygon color="#00ffbe" points="471.3,811.3 476.7,807.3 471.9,805.6 466.5,809.6"/><polygon color="#3fff00" points="604.6,779.1 609.3,775.6 603.9,773.9 599.1,777.4"/><polygon color="#00ff38" points="537.9,794.3 543.0,790.5 537.9,788.9 532.8,792.6"/><polygon color="#00d8ff" points="425.1,825.1 430.7,820.8 426.1,819.1 420.5,823.3"/><polygon color="#00ffaa" points="481.5,809.0 486.8,805.0 482.0,803.3 476.7,807.3"/><polygon color="#4fff00" points="614.9,777.3 619.6,773.8 614.1,772.1 609.3,775.6"/><polygon color="#00ff27" points="548.2,792.3 553.2,788.5 548.0,786.9 543.0,790.5"/><polygon color="#5eff00" points="625.2,775.5 629.9,772.1 624.3,770.4 619.6,773.8"/><polygon color="#00edff" points="435.3,822.6 440.8,818.4 436.2,816.7 430.7,820.8"/><polygon color="#00ff96" points="491.7,806.8 497.0,802.8 492.1,801.1 486.8,805.0"/><polygon color="#00ff15" points="558.5,790.3 563.5,786.6 558.2,784.9 553.2,788.5"/><polygon color="#6dff00" points="635.5,773.8 640.2,770.4 634.5,768.7 629.9,772.1"/><polygon color="#00ff83" points="502.0,804.6 507.2,800.6 502.3,798.9 497.0,802.8"/><polygon color="#00fffc" points="445.4,820.2 450.9,816.0 446.3,814.3 440.8,818.4"/><polygon color="#00ff04" points="568.8,788.3 573.7,784.6 568.4,782.9 563.5,786.6"/><polygon color="#7cff00" points="645.9,772.2 650.5,768.8 644.8,767.1 640.2,770.4"/><polygon color="#00ff70" points="512.2,802.4 517.4,798.5 512.4,796.8 507.2,800.6"/><polygon color="#0dff00" points="579.1,786.4 584.0,782.7 578.6,781.0 573.7,784.6"/><polygon color="#00ffe7" points="455.7,817.8 461.1,813.7 456.4,811.9 450.9,816.0"/><polygon color="#1dff00" points="589.4,784.5 594.3,780.9 588.9,779.2 584.0,782.7"/><polygon color="#00ff5d" points="522.5,800.3 527.7,796.4 522.6,794.7 517.4,798.5"/><polygon color="#00ffd2" points="465.9,815.4 471.3,811.3 466.5,809.6 461.1,813.7"/><polygon color="#2eff00" points="599.7,782.6 604.6,779.1 599.1,777.4 594.3,780.9"/><polygon color="#00ff4b" points="532.8,798.2 537.9,794.3 532.8,792.6 527.7,796.4"/><polygon color="#00ffbe" points="476.1,813.1 481.5,809.0 476.7,807.3 471.3,811.3"/><polygon color="#3eff00" points="610.1,780.8 614.9,777.3 609.3,775.6 604.6,779.1"/><polygon color="#00ff39" points="543.1,796.1 548.2,792.3 543.0,790.5 537.9,794.3"/><polygon color="#00d9ff" points="429.7,826.9 435.3,822.6 430.7,820.8 425.1,825.1"/><polygon color="#4dff00" points="620.5,779.1 625.2,775.5 619.6,773.8 614.9,777.3"/><polygon color="#00ffaa" points="486.4,810.8 491.7,806.8 486.8,805.0 481.5,809.0"/><polygon color="#00ff27" points="553.4,794.1 558.5,790.3 553.2,788.5 548.2,792.3"/><polygon color="#5dff00" points="630.8,777.3 635.5,773.8 629.9,772.1 625.2,775.5"/><polygon color="#00ff97" points="496.7,808.6 502.0,804.6 497.0,802.8 491.7,806.8"/><polygon color="#00eeff" points="439.9,824.4 445.4,820.2 440.8,818.4 435.3,822.6"/><polygon color="#00ff16" points="563.8,792.1 568.8,788.3 563.5,786.6 558.5,790.3"/><polygon color="#6bff00" points="641.2,775.6 645.9,772.2 640.2,770.4 635.5,773.8"/><polygon color="#00ff83" points="507.0,806.4 512.2,802.4 507.2,800.6 502.0,804.6"/><polygon color="#00fffc" points="450.2,822.0 455.7,817.8 450.9,816.0 445.4,820.2"/><polygon color="#00ff05" points="574.1,790.1 579.1,786.4 573.7,784.6 568.8,788.3"/><polygon color="#7aff00" points="651.6,773.9 656.2,770.5 650.5,768.8 645.9,772.2"/><polygon color="#00ff71" points="517.3,804.2 522.5,800.3 517.4,798.5 512.2,802.4"/><polygon color="#0cff00" points="584.5,788.2 589.4,784.5 584.0,782.7 579.1,786.4"/><polygon color="#00ffe7" points="460.4,819.6 465.9,815.4 461.1,813.7 455.7,817.8"/><polygon color="#1cff00" points="594.9,786.3 599.7,782.6 594.3,780.9 589.4,784.5"/><polygon color="#00ff5e" points="527.6,802.1 532.8,798.2 527.7,796.4 522.5,800.3"/><polygon color="#00ffd3" points="470.7,817.3 476.1,813.1 471.3,811.3 465.9,815.4"/><polygon color="#2cff00" points="605.3,784.5 610.1,780.8 604.6,779.1 599.7,782.6"/><polygon color="#00ff4c" points="538.0,800.0 543.1,796.1 537.9,794.3 532.8,798.2"/><polygon color="#00ffbe" points="481.0,815.0 486.4,810.8 481.5,809.0 476.1,813.1"/><polygon color="#3cff00" points="615.7,782.6 620.5,779.1 614.9,777.3 610.1,780.8"/><polygon color="#00ff3a" points="548.3,797.9 553.4,794.1 548.2,792.3 543.1,796.1"/><polygon color="#4cff00" points="626.1,780.9 630.8,777.3 625.2,775.5 620.5,779.1"/><polygon color="#00d9ff" points="434.3,828.8 439.9,824.4 435.3,822.6 429.7,826.9"/><polygon color="#00ffab" points="491.3,812.7 496.7,808.6 491.7,806.8 486.4,810.8"/><polygon color="#00ff28" points="558.7,795.9 563.8,792.1 558.5,790.3 553.4,794.1"/><polygon color="#5bff00" points="636.5,779.1 641.2,775.6 635.5,773.8 630.8,777.3"/><polygon color="#00ff97" points="501.7,810.4 507.0,806.4 502.0,804.6 496.7,808.6"/><polygon color="#00edff" points="444.6,826.3 450.2,822.0 445.4,820.2 439.9,824.4"/><polygon color="#00ff17" points="569.1,793.9 574.1,790.1 568.8,788.3 563.8,792.1"/><polygon color="#6aff00" points="647.0,777.4 651.6,773.9 645.9,772.2 641.2,775.6"/><polygon color="#00ff84" points="512.0,808.2 517.3,804.2 512.2,802.4 507.0,806.4"/><polygon color="#00ff06" points="579.5,791.9 584.5,788.2 579.1,786.4 574.1,790.1"/><polygon color="#00fffc" points="454.9,823.9 460.4,819.6 455.7,817.8 450.2,822.0"/><polygon color="#00ff71" points="522.4,806.1 527.6,802.1 522.5,800.3 517.3,804.2"/><polygon color="#0aff00" points="590.0,790.0 594.9,786.3 589.4,784.5 584.5,788.2"/><polygon color="#00ffe7" points="465.2,821.5 470.7,817.3 465.9,815.4 460.4,819.6"/><polygon color="#1bff00" points="600.4,788.1 605.3,784.5 599.7,782.6 594.9,786.3"/><polygon color="#00ff5f" points="532.8,803.9 538.0,800.0 532.8,798.2 527.6,802.1"/><polygon color="#00ffd3" points="475.6,819.2 481.0,815.0 476.1,813.1 470.7,817.3"/><polygon color="#2bff00" points="610.9,786.3 615.7,782.6 610.1,780.8 605.3,784.5"/><polygon color="#00ff4d" points="543.2,801.8 548.3,797.9 543.1,796.1 538.0,800.0"/><polygon color="#00ffbf" points="485.9,816.9 491.3,812.7 486.4,810.8 481.0,815.0"/><polygon color="#3aff00" points="621.3,784.5 626.1,780.9 620.5,779.1 615.7,782.6"/><polygon color="#00ff3b" points="553.6,799.8 558.7,795.9 553.4,794.1 548.3,797.9"/><polygon color="#4aff00" points="631.8,782.7 636.5,779.1 630.8,777.3 626.1,780.9"/><polygon color="#00d9ff" points="439.0,830.7 444.6,826.3 439.9,824.4 434.3,828.8"/><polygon color="#00ffab" points="496.3,814.6 501.7,810.4 496.7,808.6 491.3,812.7"/><polygon color="#00ff2a" points="564.1,797.8 569.1,793.9 563.8,792.1 558.7,795.9"/><polygon color="#59ff00" points="642.3,781.0 647.0,777.4 641.2,775.6 636.5,779.1"/><polygon color="#00ff98" points="506.7,812.4 512.0,808.2 507.0,806.4 501.7,810.4"/><polygon color="#00edff" points="449.4,828.2 454.9,823.9 450.2,822.0 444.6,826.3"/><polygon color="#00ff19" points="574.5,795.8 579.5,791.9 574.1,790.1 569.1,793.9"/><polygon color="#00ff85" points="517.1,810.1 522.4,806.1 517.3,804.2 512.0,808.2"/><polygon color="#00ff08" points="585.0,793.8 590.0,790.0 584.5,788.2 579.5,791.9"/><polygon color="#00fffc" points="459.7,825.8 465.2,821.5 460.4,819.6 454.9,823.9"/><polygon color="#09ff00" points="595.5,791.9 600.4,788.1 594.9,786.3 590.0,790.0"/><polygon color="#00ff72" points="527.6,808.0 532.8,803.9 527.6,802.1 522.4,806.1"/><polygon color="#00ffe8" points="470.1,823.5 475.6,819.2 470.7,817.3 465.2,821.5"/><polygon color="#19ff00" points="606.0,790.0 610.9,786.3 605.3,784.5 600.4,788.1"/><polygon color="#00ff60" points="538.0,805.9 543.2,801.8 538.0,800.0 532.8,803.9"/><polygon color="#00ffd4" points="480.5,821.1 485.9,816.9 481.0,815.0 475.6,819.2"/><polygon color="#29ff00" points="616.5,788.2 621.3,784.5 615.7,782.6 610.9,786.3"/><polygon color="#00ff4e" points="548.5,803.8 553.6,799.8 548.3,797.9 543.2,801.8"/><polygon color="#00ffc0" points="490.9,818.8 496.3,814.6 491.3,812.7 485.9,816.9"/><polygon color="#38ff00" points="627.0,786.4 631.8,782.7 626.1,780.9 621.3,784.5"/><polygon color="#00ff3c" points="559.0,801.7 564.1,797.8 558.7,795.9 553.6,799.8"/><polygon color="#48ff00" points="637.6,784.7 642.3,781.0 636.5,779.1 631.8,782.7"/><polygon color="#00d8ff" points="443.7,832.7 449.4,828.2 444.6,826.3 439.0,830.7"/><polygon color="#00ffac" points="501.4,816.5 506.7,812.4 501.7,810.4 496.3,814.6"/><polygon color="#00ff2b" points="569.5,799.7 574.5,795.8 569.1,793.9 564.1,797.8"/><polygon color="#00ff99" points="511.8,814.3 517.1,810.1 512.0,808.2 506.7,812.4"/><polygon color="#00edff" points="454.2,830.2 459.7,825.8 454.9,823.9 449.4,828.2"/><polygon color="#00ff1a" points="580.0,797.7 585.0,793.8 579.5,791.9 574.5,795.8"/><polygon color="#00ff86" points="522.3,812.1 527.6,808.0 522.4,806.1 517.1,810.1"/><polygon color="#00ff0a" points="590.5,795.8 595.5,791.9 590.0,790.0 585.0,793.8"/><polygon color="#00fffd" points="464.6,827.8 470.1,823.5 465.2,821.5 459.7,825.8"/><polygon color="#07ff00" points="601.1,793.9 606.0,790.0 600.4,788.1 595.5,791.9"/><polygon color="#00ff74" points="532.8,809.9 538.0,805.9 532.8,803.9 527.6,808.0"/><polygon color="#00ffe9" points="475.0,825.4 480.5,821.1 475.6,819.2 470.1,823.5"/><polygon color="#17ff00" points="611.6,792.0 616.5,788.2 610.9,786.3 606.0,790.0"/><polygon color="#00ff61" points="543.3,807.8 548.5,803.8 543.2,801.8 538.0,805.9"/><polygon color="#00ffd5" points="485.5,823.1 490.9,818.8 485.9,816.9 480.5,821.1"/><polygon color="#27ff00" points="622.2,790.2 627.0,786.4 621.3,784.5 616.5,788.2"/><polygon color="#00ff50" points="553.9,805.7 559.0,801.7 553.6,799.8 548.5,803.8"/><polygon color="#36ff00" points="632.8,788.4 637.6,784.7 631.8,782.7 627.0,786.4"/><polygon color="#00ffc1" points="496.0,820.8 501.4,816.5 496.3,814.6 490.9,818.8"/><polygon color="#00ff3e" points="564.4,803.7 569.5,799.7 564.1,797.8 559.0,801.7"/><polygon color="#00ffad" points="506.5,818.5 511.8,814.3 506.7,812.4 501.4,816.5"/><polygon color="#00d8ff" points="448.5,834.7 454.2,830.2 449.4,828.2 443.7,832.7"/><polygon color="#00ff2d" points="575.0,801.7 580.0,797.7 574.5,795.8 569.5,799.7"/><polygon color="#00ff9a" points="517.0,816.3 522.3,812.1 517.1,810.1 511.8,814.3"/><polygon color="#00ecff" points="459.0,832.3 464.6,827.8 459.7,825.8 454.2,830.2"/><polygon color="#00ff1c" points="585.5,799.7 590.5,795.8 585.0,793.8 580.0,797.7"/><polygon color="#00ff88" points="527.5,814.1 532.8,809.9 527.6,808.0 522.3,812.1"/><polygon color="#00ff0c" points="596.1,797.8 601.1,793.9 595.5,791.9 590.5,795.8"/><polygon color="#00fffe" points="469.5,829.8 475.0,825.4 470.1,823.5 464.6,827.8"/><polygon color="#05ff00" points="606.7,795.9 611.6,792.0 606.0,790.0 601.1,793.9"/><polygon color="#00ff75" points="538.1,812.0 543.3,807.8 538.0,805.9 532.8,809.9"/><polygon color="#00ffea" points="480.0,827.5 485.5,823.1 480.5,821.1 475.0,825.4"/><polygon color="#15ff00" points="617.4,794.0 622.2,790.2 616.5,788.2 611.6,792.0"/><polygon color="#00ff63" points="548.7,809.8 553.9,805.7 548.5,803.8 543.3,807.8"/><polygon color="#00ffd6" points="490.5,825.1 496.0,820.8 490.9,818.8 485.5,823.1"/><polygon color="#24ff00" points="628.0,792.2 632.8,788.4 627.0,786.4 622.2,790.2"/><polygon color="#00ff51" points="559.3,807.8 564.4,803.7 559.0,801.7 553.9,805.7"/><polygon color="#00ffc2" points="501.1,822.8 506.5,818.5 501.4,816.5 496.0,820.8"/><polygon color="#00ff40" points="569.9,805.7 575.0,801.7 569.5,799.7 564.4,803.7"/><polygon color="#00ffaf" points="511.6,820.6 517.0,816.3 511.8,814.3 506.5,818.5"/><polygon color="#00d7ff" points="453.4,836.8 459.0,832.3 454.2,830.2 448.5,834.7"/><polygon color="#00ff2f" points="580.5,803.7 585.5,799.7 580.0,797.7 575.0,801.7"/><polygon color="#00ff9c" points="522.2,818.4 527.5,814.1 522.3,812.1 517.0,816.3"/><polygon color="#00ff1e" points="591.1,801.7 596.1,797.8 590.5,795.8 585.5,799.7"/><polygon color="#00ebff" points="463.9,834.3 469.5,829.8 464.6,827.8 459.0,832.3"/><polygon color="#00ff0e" points="601.8,799.8 606.7,795.9 601.1,793.9 596.1,797.8"/><polygon color="#00ff89" points="532.8,816.2 538.1,812.0 532.8,809.9 527.5,814.1"/><polygon color="#00ffff" points="474.5,831.9 480.0,827.5 475.0,825.4 469.5,829.8"/><polygon color="#02ff00" points="612.4,797.9 617.4,794.0 611.6,792.0 606.7,795.9"/><polygon color="#00ff77" points="543.4,814.0 548.7,809.8 543.3,807.8 538.1,812.0"/><polygon color="#00ffeb" points="485.0,829.6 490.5,825.1 485.5,823.1 480.0,827.5"/><polygon color="#12ff00" points="623.1,796.0 628.0,792.2 622.2,790.2 617.4,794.0"/><polygon color="#00ff65" points="554.1,811.9 559.3,807.8 553.9,805.7 548.7,809.8"/><polygon color="#00ffd7" points="495.6,827.2 501.1,822.8 496.0,820.8 490.5,825.1"/><polygon color="#00ff53" points="564.7,809.8 569.9,805.7 564.4,803.7 559.3,807.8"/><polygon color="#00ffc4" points="506.2,824.9 511.6,820.6 506.5,818.5 501.1,822.8"/><polygon color="#00ff42" points="575.4,807.8 580.5,803.7 575.0,801.7 569.9,805.7"/><polygon color="#00ffb0" points="516.8,822.7 522.2,818.4 517.0,816.3 511.6,820.6"/><polygon color="#00d5ff" points="458.3,838.9 463.9,834.3 459.0,832.3 453.4,836.8"/><polygon color="#00ff31" points="586.1,805.8 591.1,801.7 585.5,799.7 580.5,803.7"/><polygon color="#00ff9e" points="527.5,820.5 532.8,816.2 527.5,814.1 522.2,818.4"/><polygon color="#00ff21" points="596.8,803.8 601.8,799.8 596.1,797.8 591.1,801.7"/><polygon color="#00eaff" points="468.9,836.5 474.5,831.9 469.5,829.8 463.9,834.3"/><polygon color="#00ff10" points="607.5,801.9 612.4,797.9 606.7,795.9 601.8,799.8"/><polygon color="#00ff8b" points="538.2,818.3 543.4,814.0 538.1,812.0 532.8,816.2"/><polygon color="#00fdff" points="479.5,834.1 485.0,829.6 480.0,827.5 474.5,831.9"/><polygon color="#00ff01" points="618.2,800.0 623.1,796.0 617.4,794.0 612.4,797.9"/><polygon color="#00ff79" points="548.8,816.1 554.1,811.9 548.7,809.8 543.4,814.0"/><polygon color="#00ffed" points="490.1,831.7 495.6,827.2 490.5,825.1 485.0,829.6"/><polygon color="#00ff67" points="559.5,814.0 564.7,809.8 559.3,807.8 554.1,811.9"/><polygon color="#00ffd9" points="500.8,829.4 506.2,824.9 501.1,822.8 495.6,827.2"/><polygon color="#00ff56" points="570.2,811.9 575.4,807.8 569.9,805.7 564.7,809.8"/><polygon color="#00ffc5" points="511.4,827.1 516.8,822.7 511.6,820.6 506.2,824.9"/><polygon color="#00ff44" points="581.0,809.9 586.1,805.8 580.5,803.7 575.4,807.8"/><polygon color="#00ffb2" points="522.1,824.8 527.5,820.5 522.2,818.4 516.8,822.7"/><polygon color="#00d4ff" points="463.2,841.1 468.9,836.5 463.9,834.3 458.3,838.9"/><polygon color="#00ff34" points="591.7,807.9 596.8,803.8 591.1,801.7 586.1,805.8"/><polygon color="#00ffa0" points="532.8,822.6 538.2,818.3 532.8,816.2 527.5,820.5"/><polygon color="#00ff23" points="602.5,806.0 607.5,801.9 601.8,799.8 596.8,803.8"/><polygon color="#00e8ff" points="473.9,838.7 479.5,834.1 474.5,831.9 468.9,836.5"/><polygon color="#00ff13" points="613.2,804.0 618.2,800.0 612.4,797.9 607.5,801.9"/><polygon color="#00ff8d" points="543.5,820.4 548.8,816.1 543.4,814.0 538.2,818.3"/><polygon color="#00fcff" points="484.6,836.3 490.1,831.7 485.0,829.6 479.5,834.1"/><polygon color="#00ff7b" points="554.3,818.3 559.5,814.0 554.1,811.9 548.8,816.1"/><polygon color="#00ffee" points="495.3,833.9 500.8,829.4 495.6,827.2 490.1,831.7"/><polygon color="#00ff6a" points="565.0,816.2 570.2,811.9 564.7,809.8 559.5,814.0"/><polygon color="#00ffdb" points="506.0,831.6 511.4,827.1 506.2,824.9 500.8,829.4"/><polygon color="#00ff58" points="575.8,814.1 581.0,809.9 575.4,807.8 570.2,811.9"/><polygon color="#00ffc7" points="516.7,829.3 522.1,824.8 516.8,822.7 511.4,827.1"/><polygon color="#00ff47" points="586.6,812.1 591.7,807.9 586.1,805.8 581.0,809.9"/><polygon color="#00ffb5" points="527.4,827.0 532.8,822.6 527.5,820.5 522.1,824.8"/><polygon color="#00d2ff" points="468.3,843.3 473.9,838.7 468.9,836.5 463.2,841.1"/><polygon color="#00ff36" points="597.4,810.1 602.5,806.0 596.8,803.8 591.7,807.9"/><polygon color="#00ffa2" points="538.2,824.8 543.5,820.4 538.2,818.3 532.8,822.6"/><polygon color="#00ff26" points="608.2,808.2 613.2,804.0 607.5,801.9 602.5,806.0"/><polygon color="#00e6ff" points="479.0,840.9 484.6,836.3 479.5,834.1 473.9,838.7"/><polygon color="#00ff90" points="549.0,822.7 554.3,818.3 548.8,816.1 543.5,820.4"/><polygon color="#00faff" points="489.7,838.5 495.3,833.9 490.1,831.7 484.6,836.3"/><polygon color="#00ff7e" points="559.8,820.5 565.0,816.2 559.5,814.0 554.3,818.3"/><polygon color="#00fff0" points="500.5,836.2 506.0,831.6 500.8,829.4 495.3,833.9"/><polygon color="#00ff6c" points="570.6,818.4 575.8,814.1 570.2,811.9 565.0,816.2"/><polygon color="#00ffdd" points="511.2,833.8 516.7,829.3 511.4,827.1 506.0,831.6"/><polygon color="#00ff5b" points="581.5,816.4 586.6,812.1 581.0,809.9 575.8,814.1"/><polygon color="#00ffca" points="522.0,831.6 527.4,827.0 522.1,824.8 516.7,829.3"/><polygon color="#00ff4a" points="592.3,814.3 597.4,810.1 591.7,807.9 586.6,812.1"/><polygon color="#00ffb7" points="532.8,829.3 538.2,824.8 532.8,822.6 527.4,827.0"/><polygon color="#00ff3a" points="603.2,812.3 608.2,808.2 602.5,806.0 597.4,810.1"/><polygon color="#00d1ff" points="473.3,845.6 479.0,840.9 473.9,838.7 468.3,843.3"/><polygon color="#00ffa4" points="543.7,827.1 549.0,822.7 543.5,820.4 538.2,824.8"/><polygon color="#00e4ff" points="484.1,843.2 489.7,838.5 484.6,836.3 479.0,840.9"/><polygon color="#00ff92" points="554.5,824.9 559.8,820.5 554.3,818.3 549.0,822.7"/><polygon color="#00f8ff" points="494.9,840.8 500.5,836.2 495.3,833.9 489.7,838.5"/><polygon color="#00ff81" points="565.4,822.8 570.6,818.4 565.0,816.2 559.8,820.5"/><polygon color="#00fff3" points="505.7,838.5 511.2,833.8 506.0,831.6 500.5,836.2"/><polygon color="#00ff6f" points="576.3,820.7 581.5,816.4 575.8,814.1 570.6,818.4"/><polygon color="#00ffdf" points="516.5,836.1 522.0,831.6 516.7,829.3 511.2,833.8"/><polygon color="#00ff5e" points="587.2,818.6 592.3,814.3 586.6,812.1 581.5,816.4"/><polygon color="#00ffcc" points="527.4,833.9 532.8,829.3 527.4,827.0 522.0,831.6"/><polygon color="#00ff4d" points="598.1,816.6 603.2,812.3 597.4,810.1 592.3,814.3"/><polygon color="#00ffba" points="538.3,831.6 543.7,827.1 538.2,824.8 532.8,829.3"/><polygon color="#00ceff" points="478.4,848.0 484.1,843.2 479.0,840.9 473.3,845.6"/><polygon color="#00ffa7" points="549.2,829.4 554.5,824.9 549.0,822.7 543.7,827.1"/><polygon color="#00e2ff" points="489.3,845.6 494.9,840.8 489.7,838.5 484.1,843.2"/><polygon color="#00ff95" points="560.1,827.3 565.4,822.8 559.8,820.5 554.5,824.9"/><polygon color="#00f5ff" points="500.1,843.2 505.7,838.5 500.5,836.2 494.9,840.8"/><polygon color="#00ff84" points="571.0,825.1 576.3,820.7 570.6,818.4 565.4,822.8"/><polygon color="#00fff5" points="511.0,840.8 516.5,836.1 511.2,833.8 505.7,838.5"/><polygon color="#00ff72" points="582.0,823.0 587.2,818.6 581.5,816.4 576.3,820.7"/><polygon color="#00ffe2" points="521.9,838.5 527.4,833.9 522.0,831.6 516.5,836.1"/><polygon color="#00ff61" points="592.9,821.0 598.1,816.6 592.3,814.3 587.2,818.6"/><polygon color="#00ffcf" points="532.8,836.2 538.3,831.6 532.8,829.3 527.4,833.9"/><polygon color="#00ffbd" points="543.8,834.0 549.2,829.4 543.7,827.1 538.3,831.6"/><polygon color="#00ccff" points="483.6,850.4 489.3,845.6 484.1,843.2 478.4,848.0"/><polygon color="#00ffaa" points="554.7,831.8 560.1,827.3 554.5,824.9 549.2,829.4"/><polygon color="#00e0ff" points="494.5,848.0 500.1,843.2 494.9,840.8 489.3,845.6"/><polygon color="#00ff98" points="565.7,829.6 571.0,825.1 565.4,822.8 560.1,827.3"/><polygon color="#00f3ff" points="505.4,845.6 511.0,840.8 505.7,838.5 500.1,843.2"/><polygon color="#00ff87" points="576.7,827.5 582.0,823.0 576.3,820.7 571.0,825.1"/><polygon color="#00fff8" points="516.4,843.2 521.9,838.5 516.5,836.1 511.0,840.8"/><polygon color="#00ff76" points="587.7,825.4 592.9,821.0 587.2,818.6 582.0,823.0"/><polygon color="#00ffe5" points="527.4,840.9 532.8,836.2 527.4,833.9 521.9,838.5"/><polygon color="#00ffd2" points="538.3,838.7 543.8,834.0 538.3,831.6 532.8,836.2"/><polygon color="#00ffc0" points="549.3,836.4 554.7,831.8 549.2,829.4 543.8,834.0"/><polygon color="#00c9ff" points="488.8,852.9 494.5,848.0 489.3,845.6 483.6,850.4"/><polygon color="#00ffae" points="560.4,834.2 565.7,829.6 560.1,827.3 554.7,831.8"/><polygon color="#00ddff" points="499.8,850.4 505.4,845.6 500.1,843.2 494.5,848.0"/><polygon color="#00ff9c" points="571.4,832.1 576.7,827.5 571.0,825.1 565.7,829.6"/><polygon color="#00f0ff" points="510.8,848.1 516.4,843.2 511.0,840.8 505.4,845.6"/><polygon color="#00ff8a" points="582.5,830.0 587.7,825.4 582.0,823.0 576.7,827.5"/><polygon color="#00fffb" points="521.8,845.7 527.4,840.9 521.9,838.5 516.4,843.2"/><polygon color="#00ffe8" points="532.9,843.4 538.3,838.7 532.8,836.2 527.4,840.9"/><polygon color="#00ffd6" points="543.9,841.1 549.3,836.4 543.8,834.0 538.3,838.7"/><polygon color="#00ffc3" points="555.0,838.9 560.4,834.2 554.7,831.8 549.3,836.4"/><polygon color="#00c6ff" points="494.1,855.4 499.8,850.4 494.5,848.0 488.8,852.9"/><polygon color="#00ffb1" points="566.1,836.7 571.4,832.1 565.7,829.6 560.4,834.2"/><polygon color="#00daff" points="505.2,853.0 510.8,848.1 505.4,845.6 499.8,850.4"/><polygon color="#00ffa0" points="577.2,834.6 582.5,830.0 576.7,827.5 571.4,832.1"/><polygon color="#00edff" points="516.2,850.6 521.8,845.7 516.4,843.2 510.8,848.1"/><polygon color="#00ffff" points="527.3,848.3 532.9,843.4 527.4,840.9 521.8,845.7"/><polygon color="#00ffec" points="538.4,846.0 543.9,841.1 538.3,838.7 532.9,843.4"/><polygon color="#00ffd9" points="549.5,843.7 555.0,838.9 549.3,836.4 543.9,841.1"/><polygon color="#00ffc7" points="560.7,841.5 566.1,836.7 560.4,834.2 555.0,838.9"/><polygon color="#00c3ff" points="499.5,858.0 505.2,853.0 499.8,850.4 494.1,855.4"/><polygon color="#00ffb5" points="571.8,839.3 577.2,834.6 571.4,832.1 566.1,836.7"/><polygon color="#00d7ff" points="510.6,855.5 516.2,850.6 510.8,848.1 505.2,853.0"/><polygon color="#00e9ff" points="521.7,853.2 527.3,848.3 521.8,845.7 516.2,850.6"/><polygon color="#00fcff" points="532.9,850.8 538.4,846.0 532.9,843.4 527.3,848.3"/><polygon color="#00ffef" points="544.0,848.6 549.5,843.7 543.9,841.1 538.4,846.0"/><polygon color="#00ffdd" points="555.2,846.3 560.7,841.5 555.0,838.9 549.5,843.7"/><polygon color="#00ffcb" points="566.4,844.1 571.8,839.3 566.1,836.7 560.7,841.5"/><polygon color="#00c0ff" points="504.9,860.6 510.6,855.5 505.2,853.0 499.5,858.0"/><polygon color="#00d3ff" points="516.1,858.2 521.7,853.2 516.2,850.6 510.6,855.5"/><polygon color="#00e6ff" points="527.3,855.8 532.9,850.8 527.3,848.3 521.7,853.2"/><polygon color="#00f8ff" points="538.5,853.5 544.0,848.6 538.4,846.0 532.9,850.8"/><polygon color="#00fff3" points="549.7,851.2 555.2,846.3 549.5,843.7 544.0,848.6"/><polygon color="#00ffe1" points="561.0,849.0 566.4,844.1 560.7,841.5 555.2,846.3"/><polygon color="#00bcff" points="510.4,863.3 516.1,858.2 510.6,855.5 504.9,860.6"/><polygon color="#00cfff" points="521.6,860.9 527.3,855.8 521.7,853.2 516.1,858.2"/><polygon color="#00e2ff" points="532.9,858.5 538.5,853.5 532.9,850.8 527.3,855.8"/><polygon color="#00f4ff" points="544.1,856.2 549.7,851.2 544.0,848.6 538.5,853.5"/><polygon color="#00fff8" points="555.4,853.9 561.0,849.0 555.2,846.3 549.7,851.2"/><polygon color="#00b8ff" points="515.9,866.1 521.6,860.9 516.1,858.2 510.4,863.3"/><polygon color="#00cbff" points="527.2,863.7 532.9,858.5 527.3,855.8 521.6,860.9"/><polygon color="#00deff" points="538.5,861.3 544.1,856.2 538.5,853.5 532.9,858.5"/><polygon color="#00f0ff" points="549.9,859.0 555.4,853.9 549.7,851.2 544.1,856.2"/><polygon color="#00b4ff" points="521.5,868.9 527.2,863.7 521.6,860.9 515.9,866.1"/><polygon color="#00c7ff" points="532.9,866.5 538.5,861.3 532.9,858.5 527.2,863.7"/><polygon color="#00d9ff" points="544.3,864.2 549.9,859.0 544.1,856.2 538.5,861.3"/><polygon color="#00b0ff" points="527.2,871.8 532.9,866.5 527.2,863.7 521.5,868.9"/><polygon color="#00c3ff" points="538.6,869.4 544.3,864.2 538.5,861.3 532.9,866.5"/><polygon color="#00abff" points="532.9,874.7 538.6,869.4 532.9,866.5 527.2,871.8"/></g><path d="M532.9 874.7 L527.2 871.8 L521.5 868.9 L515.9 866.1 L510.4 863.3 L504.9 860.6 L499.5 858.0 L494.1 855.4 L488.8 852.9 L483.6 850.4 L478.4 848.0 L473.3 845.6 L468.3 843.3 L463.2 841.1 L458.3 838.9 L453.4 836.8 L448.5 834.7 L443.7 832.7 L439.0 830.7 L434.3 828.8 L429.7 826.9 L425.1 825.1 L420.5 823.3 L416.1 821.5 L411.6 819.9M532.9 874.7 L538.6 869.4 L544.3 864.2 L549.9 859.0 L555.4 853.9 L561.0 849.0 L566.4 844.1 L571.8 839.3 L577.2 834.6 L582.5 830.0 L587.7 825.4 L592.9 821.0 L598.1 816.6 L603.2 812.3 L608.2 808.2 L613.2 804.0 L618.2 800.0 L623.1 796.0 L628.0 792.2 L632.8 788.4 L637.6 784.7 L642.3 781.0 L647.0 777.4 L651.6 773.9 L656.2 770.5M538.6 869.4 L532.9 866.5 L527.2 863.7 L521.6 860.9 L516.1 858.2 L510.6 855.5 L505.2 853.0 L499.8 850.4 L494.5 848.0 L489.3 845.6 L484.1 843.2 L479.0 840.9 L473.9 838.7 L468.9 836.5 L463.9 834.3 L459.0 832.3 L454.2 830.2 L449.4 828.2 L444.6 826.3 L439.9 824.4 L435.3 822.6 L430.7 820.8 L426.1 819.1 L421.6 817.4 L417.2 815.8M527.2 871.8 L532.9 866.5 L538.5 861.3 L544.1 856.2 L549.7 851.2 L555.2 846.3 L560.7 841.5 L566.1 836.7 L571.4 832.1 L576.7 827.5 L582.0 823.0 L587.2 818.6 L592.3 814.3 L597.4 810.1 L602.5 806.0 L607.5 801.9 L612.4 797.9 L617.4 794.0 L622.2 790.2 L627.0 786.4 L631.8 782.7 L636.5 779.1 L641.2 775.6 L645.9 772.2 L650.5 768.8M544.3 864.2 L538.5 861.3 L532.9 858.5 L527.3 855.8 L521.7 853.2 L516.2 850.6 L510.8 848.1 L505.4 845.6 L500.1 843.2 L494.9 840.8 L489.7 838.5 L484.6 836.3 L479.5 834.1 L474.5 831.9 L469.5 829.8 L464.6 827.8 L459.7 825.8 L454.9 823.9 L450.2 822.0 L445.4 820.2 L440.8 818.4 L436.2 816.7 L431.6 815.0 L427.1 813.3 L422.7 811.7M521.5 868.9 L527.2 863.7 L532.9 858.5 L538.5 853.5 L544.0 848.6 L549.5 843.7 L555.0 838.9 L560.4 834.2 L565.7 829.6 L571.0 825.1 L576.3 820.7 L581.5 816.4 L586.6 812.1 L591.7 807.9 L596.8 803.8 L601.8 799.8 L606.7 795.9 L611.6 792.0 L616.5 788.2 L621.3 784.5 L626.1 780.9 L630.8 777.3 L635.5 773.8 L640.2 770.4 L644.8 767.1M549.9 859.0 L544.1 856.2 L538.5 853.5 L532.9 850.8 L527.3 848.3 L521.8 845.7 L516.4 843.2 L511.0 840.8 L505.7 838.5 L500.5 836.2 L495.3 833.9 L490.1 831.7 L485.0 829.6 L480.0 827.5 L475.0 825.4 L470.1 823.5 L465.2 821.5 L460.4 819.6 L455.7 817.8 L450.9 816.0 L446.3 814.3 L441.7 812.6 L437.1 810.9 L432.6 809.3 L428.1 807.8M515.9 866.1 L521.6 860.9 L527.3 855.8 L532.9 850.8 L538.4 846.0 L543.9 841.1 L549.3 836.4 L554.7 831.8 L560.1 827.3 L565.4 822.8 L570.6 818.4 L575.8 814.1 L581.0 809.9 L586.1 805.8 L591.1 801.7 L596.1 797.8 L601.1 793.9 L606.0 790.0 L610.9 786.3 L615.7 782.6 L620.5 779.1 L625.2 775.5 L629.9 772.1 L634.5 768.7 L639.1 765.4M555.4 853.9 L549.7 851.2 L544.0 848.6 L538.4 846.0 L532.9 843.4 L527.4 840.9 L521.9 838.5 L516.5 836.1 L511.2 833.8 L506.0 831.6 L500.8 829.4 L495.6 827.2 L490.5 825.1 L485.5 823.1 L480.5 821.1 L475.6 819.2 L470.7 817.3 L465.9 815.4 L461.1 813.7 L456.4 811.9 L451.7 810.2 L447.1 808.6 L442.5 807.0 L438.0 805.4 L433.5 803.9M510.4 863.3 L516.1 858.2 L521.7 853.2 L527.3 848.3 L532.9 843.4 L538.3 838.7 L543.8 834.0 L549.2 829.4 L554.5 824.9 L559.8 820.5 L565.0 816.2 L570.2 811.9 L575.4 807.8 L580.5 803.7 L585.5 799.7 L590.5 795.8 L595.5 791.9 L600.4 788.1 L605.3 784.5 L610.1 780.8 L614.9 777.3 L619.6 773.8 L624.3 770.4 L628.9 767.1 L633.5 763.8M561.0 849.0 L555.2 846.3 L549.5 843.7 L543.9 841.1 L538.3 838.7 L532.8 836.2 L527.4 833.9 L522.0 831.6 L516.7 829.3 L511.4 827.1 L506.2 824.9 L501.1 822.8 L496.0 820.8 L490.9 818.8 L485.9 816.9 L481.0 815.0 L476.1 813.1 L471.3 811.3 L466.5 809.6 L461.8 807.9 L457.1 806.2 L452.5 804.6 L447.9 803.1 L443.4 801.5 L438.9 800.1M504.9 860.6 L510.6 855.5 L516.2 850.6 L521.8 845.7 L527.4 840.9 L532.8 836.2 L538.3 831.6 L543.7 827.1 L549.0 822.7 L554.3 818.3 L559.5 814.0 L564.7 809.8 L569.9 805.7 L575.0 801.7 L580.0 797.7 L585.0 793.8 L590.0 790.0 L594.9 786.3 L599.7 782.6 L604.6 779.1 L609.3 775.6 L614.1 772.1 L618.8 768.8 L623.4 765.5 L628.0 762.3M566.4 844.1 L560.7 841.5 L555.0 838.9 L549.3 836.4 L543.8 834.0 L538.3 831.6 L532.8 829.3 L527.4 827.0 L522.1 824.8 L516.8 822.7 L511.6 820.6 L506.5 818.5 L501.4 816.5 L496.3 814.6 L491.3 812.7 L486.4 810.8 L481.5 809.0 L476.7 807.3 L471.9 805.6 L467.1 803.9 L462.4 802.3 L457.8 800.8 L453.2 799.2 L448.7 797.8 L444.2 796.3M499.5 858.0 L505.2 853.0 L510.8 848.1 L516.4 843.2 L521.9 838.5 L527.4 833.9 L532.8 829.3 L538.2 824.8 L543.5 820.4 L548.8 816.1 L554.1 811.9 L559.3 807.8 L564.4 803.7 L569.5 799.7 L574.5 795.8 L579.5 791.9 L584.5 788.2 L589.4 784.5 L594.3 780.9 L599.1 777.4 L603.9 773.9 L608.6 770.5 L613.3 767.2 L617.9 763.9 L622.5 760.7M571.8 839.3 L566.1 836.7 L560.4 834.2 L554.7 831.8 L549.2 829.4 L543.7 827.1 L538.2 824.8 L532.8 822.6 L527.5 820.5 L522.2 818.4 L517.0 816.3 L511.8 814.3 L506.7 812.4 L501.7 810.4 L496.7 808.6 L491.7 806.8 L486.8 805.0 L482.0 803.3 L477.2 801.7 L472.4 800.1 L467.8 798.5 L463.1 797.0 L458.5 795.5 L454.0 794.1 L449.5 792.7M494.1 855.4 L499.8 850.4 L505.4 845.6 L511.0 840.8 L516.5 836.1 L522.0 831.6 L527.4 827.0 L532.8 822.6 L538.2 818.3 L543.4 814.0 L548.7 809.8 L553.9 805.7 L559.0 801.7 L564.1 797.8 L569.1 793.9 L574.1 790.1 L579.1 786.4 L584.0 782.7 L588.9 779.2 L593.7 775.7 L598.4 772.3 L603.2 768.9 L607.9 765.6 L612.5 762.4 L617.1 759.3M577.2 834.6 L571.4 832.1 L565.7 829.6 L560.1 827.3 L554.5 824.9 L549.0 822.7 L543.5 820.4 L538.2 818.3 L532.8 816.2 L527.5 814.1 L522.3 812.1 L517.1 810.1 L512.0 808.2 L507.0 806.4 L502.0 804.6 L497.0 802.8 L492.1 801.1 L487.3 799.5 L482.5 797.8 L477.7 796.3 L473.0 794.7 L468.4 793.3 L463.8 791.8 L459.2 790.4 L454.7 789.1M488.8 852.9 L494.5 848.0 L500.1 843.2 L505.7 838.5 L511.2 833.8 L516.7 829.3 L522.1 824.8 L527.5 820.5 L532.8 816.2 L538.1 812.0 L543.3 807.8 L548.5 803.8 L553.6 799.8 L558.7 795.9 L563.8 792.1 L568.8 788.3 L573.7 784.6 L578.6 781.0 L583.5 777.5 L588.3 774.1 L593.1 770.7 L597.8 767.4 L602.5 764.1 L607.1 760.9 L611.7 757.8M582.5 830.0 L576.7 827.5 L571.0 825.1 L565.4 822.8 L559.8 820.5 L554.3 818.3 L548.8 816.1 L543.4 814.0 L538.1 812.0 L532.8 809.9 L527.6 808.0 L522.4 806.1 L517.3 804.2 L512.2 802.4 L507.2 800.6 L502.3 798.9 L497.3 797.3 L492.5 795.6 L487.7 794.1 L482.9 792.5 L478.2 791.0 L473.6 789.6 L469.0 788.2 L464.4 786.8 L459.9 785.5M483.6 850.4 L489.3 845.6 L494.9 840.8 L500.5 836.2 L506.0 831.6 L511.4 827.1 L516.8 822.7 L522.2 818.4 L527.5 814.1 L532.8 809.9 L538.0 805.9 L543.2 801.8 L548.3 797.9 L553.4 794.1 L558.5 790.3 L563.5 786.6 L568.4 782.9 L573.3 779.4 L578.2 775.9 L583.0 772.5 L587.8 769.1 L592.5 765.9 L597.2 762.7 L601.8 759.5 L606.4 756.5M587.7 825.4 L582.0 823.0 L576.3 820.7 L570.6 818.4 L565.0 816.2 L559.5 814.0 L554.1 811.9 L548.7 809.8 L543.3 807.8 L538.0 805.9 L532.8 803.9 L527.6 802.1 L522.5 800.3 L517.4 798.5 L512.4 796.8 L507.5 795.1 L502.5 793.5 L497.7 791.9 L492.9 790.4 L488.1 788.9 L483.4 787.4 L478.7 786.0 L474.1 784.7 L469.5 783.3 L465.0 782.1M478.4 848.0 L484.1 843.2 L489.7 838.5 L495.3 833.9 L500.8 829.4 L506.2 824.9 L511.6 820.6 L517.0 816.3 L522.3 812.1 L527.6 808.0 L532.8 803.9 L538.0 800.0 L543.1 796.1 L548.2 792.3 L553.2 788.5 L558.2 784.9 L563.2 781.3 L568.1 777.8 L572.9 774.3 L577.7 770.9 L582.5 767.6 L587.2 764.4 L591.9 761.2 L596.6 758.1 L601.2 755.1M592.9 821.0 L587.2 818.6 L581.5 816.4 L575.8 814.1 L570.2 811.9 L564.7 809.8 L559.3 807.8 L553.9 805.7 L548.5 803.8 L543.2 801.8 L538.0 800.0 L532.8 798.2 L527.7 796.4 L522.6 794.7 L517.6 793.0 L512.6 791.4 L507.7 789.8 L502.8 788.2 L498.0 786.7 L493.2 785.3 L488.5 783.9 L483.9 782.5 L479.2 781.2 L474.7 779.9 L470.1 778.7M473.3 845.6 L479.0 840.9 L484.6 836.3 L490.1 831.7 L495.6 827.2 L501.1 822.8 L506.5 818.5 L511.8 814.3 L517.1 810.1 L522.4 806.1 L527.6 802.1 L532.8 798.2 L537.9 794.3 L543.0 790.5 L548.0 786.9 L553.0 783.2 L558.0 779.7 L562.9 776.2 L567.7 772.8 L572.5 769.5 L577.3 766.2 L582.0 763.0 L586.7 759.9 L591.4 756.8 L596.0 753.8M598.1 816.6 L592.3 814.3 L586.6 812.1 L581.0 809.9 L575.4 807.8 L569.9 805.7 L564.4 803.7 L559.0 801.7 L553.6 799.8 L548.3 797.9 L543.1 796.1 L537.9 794.3 L532.8 792.6 L527.7 790.9 L522.7 789.3 L517.7 787.7 L512.8 786.1 L507.9 784.6 L503.1 783.2 L498.3 781.8 L493.6 780.4 L488.9 779.1 L484.3 777.8 L479.7 776.6 L475.2 775.3M468.3 843.3 L473.9 838.7 L479.5 834.1 L485.0 829.6 L490.5 825.1 L496.0 820.8 L501.4 816.5 L506.7 812.4 L512.0 808.2 L517.3 804.2 L522.5 800.3 L527.7 796.4 L532.8 792.6 L537.9 788.9 L542.9 785.2 L547.9 781.6 L552.8 778.1 L557.7 774.7 L562.6 771.3 L567.4 768.0 L572.2 764.8 L576.9 761.6 L581.6 758.5 L586.2 755.5 L590.8 752.5M603.2 812.3 L597.4 810.1 L591.7 807.9 L586.1 805.8 L580.5 803.7 L575.0 801.7 L569.5 799.7 L564.1 797.8 L558.7 795.9 L553.4 794.1 L548.2 792.3 L543.0 790.5 L537.9 788.9 L532.8 787.2 L527.8 785.6 L522.8 784.1 L517.8 782.6 L513.0 781.1 L508.1 779.7 L503.4 778.3 L498.6 777.0 L494.0 775.7 L489.3 774.5 L484.7 773.3 L480.2 772.1M463.2 841.1 L468.9 836.5 L474.5 831.9 L480.0 827.5 L485.5 823.1 L490.9 818.8 L496.3 814.6 L501.7 810.4 L507.0 806.4 L512.2 802.4 L517.4 798.5 L522.6 794.7 L527.7 790.9 L532.8 787.2 L537.8 783.6 L542.8 780.1 L547.7 776.6 L552.6 773.2 L557.5 769.9 L562.3 766.6 L567.1 763.4 L571.8 760.3 L576.5 757.2 L581.1 754.3 L585.7 751.3M608.2 808.2 L602.5 806.0 L596.8 803.8 L591.1 801.7 L585.5 799.7 L580.0 797.7 L574.5 795.8 L569.1 793.9 L563.8 792.1 L558.5 790.3 L553.2 788.5 L548.0 786.9 L542.9 785.2 L537.8 783.6 L532.8 782.1 L527.8 780.6 L522.9 779.1 L518.0 777.7 L513.2 776.3 L508.4 775.0 L503.6 773.7 L499.0 772.4 L494.3 771.2 L489.7 770.0 L485.2 768.9M458.3 838.9 L463.9 834.3 L469.5 829.8 L475.0 825.4 L480.5 821.1 L485.9 816.9 L491.3 812.7 L496.7 808.6 L502.0 804.6 L507.2 800.6 L512.4 796.8 L517.6 793.0 L522.7 789.3 L527.8 785.6 L532.8 782.1 L537.8 778.6 L542.7 775.1 L547.6 771.8 L552.4 768.5 L557.2 765.3 L562.0 762.1 L566.7 759.0 L571.4 756.0 L576.0 753.0 L580.6 750.1M613.2 804.0 L607.5 801.9 L601.8 799.8 L596.1 797.8 L590.5 795.8 L585.0 793.8 L579.5 791.9 L574.1 790.1 L568.8 788.3 L563.5 786.6 L558.2 784.9 L553.0 783.2 L547.9 781.6 L542.8 780.1 L537.8 778.6 L532.8 777.1 L527.8 775.7 L523.0 774.3 L518.1 772.9 L513.3 771.7 L508.6 770.4 L503.9 769.2 L499.3 768.0 L494.7 766.9 L490.1 765.8M453.4 836.8 L459.0 832.3 L464.6 827.8 L470.1 823.5 L475.6 819.2 L481.0 815.0 L486.4 810.8 L491.7 806.8 L497.0 802.8 L502.3 798.9 L507.5 795.1 L512.6 791.4 L517.7 787.7 L522.8 784.1 L527.8 780.6 L532.8 777.1 L537.7 773.7 L542.6 770.4 L547.4 767.1 L552.2 763.9 L557.0 760.8 L561.7 757.8 L566.4 754.8 L571.0 751.9 L575.6 749.0M618.2 800.0 L612.4 797.9 L606.7 795.9 L601.1 793.9 L595.5 791.9 L590.0 790.0 L584.5 788.2 L579.1 786.4 L573.7 784.6 L568.4 782.9 L563.2 781.3 L558.0 779.7 L552.8 778.1 L547.7 776.6 L542.7 775.1 L537.7 773.7 L532.8 772.3 L527.9 771.0 L523.0 769.7 L518.2 768.4 L513.5 767.2 L508.8 766.0 L504.2 764.9 L499.6 763.8 L495.0 762.7M448.5 834.7 L454.2 830.2 L459.7 825.8 L465.2 821.5 L470.7 817.3 L476.1 813.1 L481.5 809.0 L486.8 805.0 L492.1 801.1 L497.3 797.3 L502.5 793.5 L507.7 789.8 L512.8 786.1 L517.8 782.6 L522.9 779.1 L527.8 775.7 L532.8 772.3 L537.7 769.0 L542.5 765.8 L547.3 762.7 L552.1 759.6 L556.8 756.6 L561.5 753.6 L566.1 750.7 L570.7 747.9M623.1 796.0 L617.4 794.0 L611.6 792.0 L606.0 790.0 L600.4 788.1 L594.9 786.3 L589.4 784.5 L584.0 782.7 L578.6 781.0 L573.3 779.4 L568.1 777.8 L562.9 776.2 L557.7 774.7 L552.6 773.2 L547.6 771.8 L542.6 770.4 L537.7 769.0 L532.8 767.7 L527.9 766.5 L523.1 765.2 L518.4 764.1 L513.7 762.9 L509.0 761.8 L504.4 760.7 L499.9 759.7M443.7 832.7 L449.4 828.2 L454.9 823.9 L460.4 819.6 L465.9 815.4 L471.3 811.3 L476.7 807.3 L482.0 803.3 L487.3 799.5 L492.5 795.6 L497.7 791.9 L502.8 788.2 L507.9 784.6 L513.0 781.1 L518.0 777.7 L523.0 774.3 L527.9 771.0 L532.8 767.7 L537.6 764.5 L542.4 761.4 L547.2 758.4 L551.9 755.4 L556.5 752.5 L561.2 749.6 L565.8 746.8M628.0 792.2 L622.2 790.2 L616.5 788.2 L610.9 786.3 L605.3 784.5 L599.7 782.6 L594.3 780.9 L588.9 779.2 L583.5 777.5 L578.2 775.9 L572.9 774.3 L567.7 772.8 L562.6 771.3 L557.5 769.9 L552.4 768.5 L547.4 767.1 L542.5 765.8 L537.6 764.5 L532.8 763.3 L528.0 762.1 L523.2 761.0 L518.5 759.9 L513.9 758.8 L509.2 757.8 L504.7 756.8M439.0 830.7 L444.6 826.3 L450.2 822.0 L455.7 817.8 L461.1 813.7 L466.5 809.6 L471.9 805.6 L477.2 801.7 L482.5 797.8 L487.7 794.1 L492.9 790.4 L498.0 786.7 L503.1 783.2 L508.1 779.7 L513.2 776.3 L518.1 772.9 L523.0 769.7 L527.9 766.5 L532.8 763.3 L537.6 760.2 L542.3 757.2 L547.0 754.3 L551.7 751.4 L556.3 748.6 L560.9 745.8M632.8 788.4 L627.0 786.4 L621.3 784.5 L615.7 782.6 L610.1 780.8 L604.6 779.1 L599.1 777.4 L593.7 775.7 L588.3 774.1 L583.0 772.5 L577.7 770.9 L572.5 769.5 L567.4 768.0 L562.3 766.6 L557.2 765.3 L552.2 763.9 L547.3 762.7 L542.4 761.4 L537.6 760.2 L532.8 759.1 L528.0 758.0 L523.3 756.9 L518.6 755.9 L514.0 754.9 L509.5 753.9M434.3 828.8 L439.9 824.4 L445.4 820.2 L450.9 816.0 L456.4 811.9 L461.8 807.9 L467.1 803.9 L472.4 800.1 L477.7 796.3 L482.9 792.5 L488.1 788.9 L493.2 785.3 L498.3 781.8 L503.4 778.3 L508.4 775.0 L513.3 771.7 L518.2 768.4 L523.1 765.2 L528.0 762.1 L532.8 759.1 L537.5 756.1 L542.2 753.2 L546.9 750.3 L551.5 747.6 L556.1 744.8M637.6 784.7 L631.8 782.7 L626.1 780.9 L620.5 779.1 L614.9 777.3 L609.3 775.6 L603.9 773.9 L598.4 772.3 L593.1 770.7 L587.8 769.1 L582.5 767.6 L577.3 766.2 L572.2 764.8 L567.1 763.4 L562.0 762.1 L557.0 760.8 L552.1 759.6 L547.2 758.4 L542.3 757.2 L537.5 756.1 L532.7 755.0 L528.0 754.0 L523.4 753.0 L518.8 752.0 L514.2 751.1M429.7 826.9 L435.3 822.6 L440.8 818.4 L446.3 814.3 L451.7 810.2 L457.1 806.2 L462.4 802.3 L467.8 798.5 L473.0 794.7 L478.2 791.0 L483.4 787.4 L488.5 783.9 L493.6 780.4 L498.6 777.0 L503.6 773.7 L508.6 770.4 L513.5 767.2 L518.4 764.1 L523.2 761.0 L528.0 758.0 L532.7 755.0 L537.5 752.1 L542.1 749.3 L546.7 746.6 L551.3 743.9M642.3 781.0 L636.5 779.1 L630.8 777.3 L625.2 775.5 L619.6 773.8 L614.1 772.1 L608.6 770.5 L603.2 768.9 L597.8 767.4 L592.5 765.9 L587.2 764.4 L582.0 763.0 L576.9 761.6 L571.8 760.3 L566.7 759.0 L561.7 757.8 L556.8 756.6 L551.9 755.4 L547.0 754.3 L542.2 753.2 L537.5 752.1 L532.7 751.1 L528.1 750.2 L523.5 749.2 L518.9 748.3M425.1 825.1 L430.7 820.8 L436.2 816.7 L441.7 812.6 L447.1 808.6 L452.5 804.6 L457.8 800.8 L463.1 797.0 L468.4 793.3 L473.6 789.6 L478.7 786.0 L483.9 782.5 L488.9 779.1 L494.0 775.7 L499.0 772.4 L503.9 769.2 L508.8 766.0 L513.7 762.9 L518.5 759.9 L523.3 756.9 L528.0 754.0 L532.7 751.1 L537.4 748.4 L542.0 745.6 L546.6 743.0M647.0 777.4 L641.2 775.6 L635.5 773.8 L629.9 772.1 L624.3 770.4 L618.8 768.8 L613.3 767.2 L607.9 765.6 L602.5 764.1 L597.2 762.7 L591.9 761.2 L586.7 759.9 L581.6 758.5 L576.5 757.2 L571.4 756.0 L566.4 754.8 L561.5 753.6 L556.5 752.5 L551.7 751.4 L546.9 750.3 L542.1 749.3 L537.4 748.4 L532.7 747.4 L528.1 746.5 L523.5 745.6M420.5 823.3 L426.1 819.1 L431.6 815.0 L437.1 810.9 L442.5 807.0 L447.9 803.1 L453.2 799.2 L458.5 795.5 L463.8 791.8 L469.0 788.2 L474.1 784.7 L479.2 781.2 L484.3 777.8 L489.3 774.5 L494.3 771.2 L499.3 768.0 L504.2 764.9 L509.0 761.8 L513.9 758.8 L518.6 755.9 L523.4 753.0 L528.1 750.2 L532.7 747.4 L537.4 744.7 L541.9 742.1M651.6 773.9 L645.9 772.2 L640.2 770.4 L634.5 768.7 L628.9 767.1 L623.4 765.5 L617.9 763.9 L612.5 762.4 L607.1 760.9 L601.8 759.5 L596.6 758.1 L591.4 756.8 L586.2 755.5 L581.1 754.3 L576.0 753.0 L571.0 751.9 L566.1 750.7 L561.2 749.6 L556.3 748.6 L551.5 747.6 L546.7 746.6 L542.0 745.6 L537.4 744.7 L532.7 743.8 L528.2 743.0M416.1 821.5 L421.6 817.4 L427.1 813.3 L432.6 809.3 L438.0 805.4 L443.4 801.5 L448.7 797.8 L454.0 794.1 L459.2 790.4 L464.4 786.8 L469.5 783.3 L474.7 779.9 L479.7 776.6 L484.7 773.3 L489.7 770.0 L494.7 766.9 L499.6 763.8 L504.4 760.7 L509.2 757.8 L514.0 754.9 L518.8 752.0 L523.5 749.2 L528.1 746.5 L532.7 743.8 L537.3 741.2M656.2 770.5 L650.5 768.8 L644.8 767.1 L639.1 765.4 L633.5 763.8 L628.0 762.3 L622.5 760.7 L617.1 759.3 L611.7 757.8 L606.4 756.5 L601.2 755.1 L596.0 753.8 L590.8 752.5 L585.7 751.3 L580.6 750.1 L575.6 749.0 L570.7 747.9 L565.8 746.8 L560.9 745.8 L556.1 744.8 L551.3 743.9 L546.6 743.0 L541.9 742.1 L537.3 741.2 L532.7 740.4M411.6 819.9 L417.2 815.8 L422.7 811.7 L428.1 807.8 L433.5 803.9 L438.9 800.1 L444.2 796.3 L449.5 792.7 L454.7 789.1 L459.9 785.5 L465.0 782.1 L470.1 778.7 L475.2 775.3 L480.2 772.1 L485.2 768.9 L490.1 765.8 L495.0 762.7 L499.9 759.7 L504.7 756.8 L509.5 753.9 L514.2 751.1 L518.9 748.3 L523.5 745.6 L528.2 743.0 L532.7 740.4" stroke="#000" stroke-opacity="0.17" stroke-width="0.6" fill="none"/><circle cx="412.8" cy="844.3" r="0.9" fill="#111"/><text x="408.2" y="842.2" font-size="8.2" text-anchor="end" fill="#555" font-family="Liberation Sans, sans-serif">60</text><circle cx="411.6" cy="819.7" r="0.9" fill="#111"/><text x="407.0" y="817.6" font-size="8.2" text-anchor="end" fill="#555" font-family="Liberation Sans, sans-serif">65</text><circle cx="410.4" cy="795.2" r="0.9" fill="#111"/><text x="405.8" y="793.1" font-size="8.2" text-anchor="end" fill="#555" font-family="Liberation Sans, sans-serif">70</text><circle cx="409.2" cy="770.6" r="0.9" fill="#111"/><text x="404.6" y="768.5" font-size="8.2" text-anchor="end" fill="#555" font-family="Liberation Sans, sans-serif">75</text><circle cx="408.0" cy="746.1" r="0.9" fill="#111"/><text x="403.4" y="744.0" font-size="8.2" text-anchor="end" fill="#555" font-family="Liberation Sans, sans-serif">80</text><circle cx="406.8" cy="721.5" r="0.9" fill="#111"/><text x="402.2" y="719.4" font-size="8.2" text-anchor="end" fill="#555" font-family="Liberation Sans, sans-serif">85</text><circle cx="414.7" cy="882.8" r="0.9" fill="#111"/><circle cx="533.0" cy="938.8" r="0.9" fill="#111"/><circle cx="444.3" cy="896.8" r="0.9" fill="#111"/><circle cx="562.5" cy="924.9" r="0.9" fill="#111"/><circle cx="473.8" cy="910.8" r="0.9" fill="#111"/><circle cx="592.0" cy="911.0" r="0.9" fill="#111"/><circle cx="503.4" cy="924.8" r="0.9" fill="#111"/><circle cx="621.6" cy="897.0" r="0.9" fill="#111"/><circle cx="533.0" cy="938.8" r="0.9" fill="#111"/><circle cx="651.1" cy="883.1" r="0.9" fill="#111"/><circle cx="411.6" cy="820.1" r="2.4" fill="#cc0000" stroke="#8a0000" stroke-width="0.6"/><circle cx="656.2" cy="771.2" r="2.4" fill="#f0c0c0" stroke="#e8b8b8" stroke-width="0.6"/><circle cx="532.7" cy="737.4" r="2.4" fill="#cc0000" stroke="#8a0000" stroke-width="0.6"/><circle cx="532.9" cy="879.7" r="2.4" fill="#f0c0c0" stroke="#e8b8b8" stroke-width="0.6"/><rect x="530.5" y="786.7" width="4.6" height="9.1" rx="2.3" fill="#cc0000" stroke="#8a0000" stroke-width="0.5"/><text transform="translate(379.0 228.3) rotate(-90)" font-size="15" fill="#1a1a1a" font-family="Liberation Serif, serif" textLength="166.9" lengthAdjust="spacingAndGlyphs">Entrapment Efficiency (%)</text><text x="531.3" y="284.0" font-size="7.6" text-anchor="end" fill="#555" font-family="Liberation Sans, sans-serif">-1</text><text x="538.3" y="284.0" font-size="7.6" text-anchor="start" fill="#555" font-family="Liberation Sans, sans-serif">-1</text><text x="501.8" y="270.1" font-size="7.6" text-anchor="end" fill="#555" font-family="Liberation Sans, sans-serif">-0.5</text><text x="567.6" y="270.1" font-size="7.6" text-anchor="start" fill="#555" font-family="Liberation Sans, sans-serif">-0.5</text><text x="472.4" y="256.1" font-size="7.6" text-anchor="end" fill="#555" font-family="Liberation Sans, sans-serif">0</text><text x="597.0" y="256.1" font-size="7.6" text-anchor="start" fill="#555" font-family="Liberation Sans, sans-serif">0</text><text x="442.9" y="242.2" font-size="7.6" text-anchor="end" fill="#555" font-family="Liberation Sans, sans-serif">0.5</text><text x="626.4" y="242.2" font-size="7.6" text-anchor="start" fill="#555" font-family="Liberation Sans, sans-serif">0.5</text><text x="413.5" y="228.2" font-size="7.6" text-anchor="end" fill="#555" font-family="Liberation Sans, sans-serif">1</text><text x="655.7" y="228.2" font-size="7.6" text-anchor="start" fill="#555" font-family="Liberation Sans, sans-serif">1</text><text transform="translate(443.8 273.0) rotate(30.0)" text-anchor="middle" y="5.1" font-size="15.5" fill="#1a1a1a" font-family="Liberation Serif, serif" textLength="90.0" lengthAdjust="spacingAndGlyphs">X<tspan font-size="9.6" dy="3">2</tspan><tspan dy="-3">: CHOL (%)</tspan></text><text transform="translate(614.6 269.5) rotate(-30.0)" text-anchor="middle" y="5.1" font-size="15.5" fill="#1a1a1a" font-family="Liberation Serif, serif" textLength="78.0" lengthAdjust="spacingAndGlyphs">X<tspan font-size="9.6" dy="3">1</tspan><tspan dy="-3">: SPC (%)</tspan></text><text transform="translate(379.3 562.2) rotate(-90)" font-size="15" fill="#1a1a1a" font-family="Liberation Serif, serif" textLength="172.3" lengthAdjust="spacingAndGlyphs">Entrapment Efficiency (%)</text><text x="525.7" y="617.5" font-size="7.6" text-anchor="end" fill="#555" font-family="Liberation Sans, sans-serif">-1</text><text x="532.7" y="617.5" font-size="7.6" text-anchor="start" fill="#555" font-family="Liberation Sans, sans-serif">-1</text><text x="496.0" y="603.4" font-size="7.6" text-anchor="end" fill="#555" font-family="Liberation Sans, sans-serif">-0.5</text><text x="562.3" y="603.4" font-size="7.6" text-anchor="start" fill="#555" font-family="Liberation Sans, sans-serif">-0.5</text><text x="466.3" y="589.3" font-size="7.6" text-anchor="end" fill="#555" font-family="Liberation Sans, sans-serif">0</text><text x="591.9" y="589.3" font-size="7.6" text-anchor="start" fill="#555" font-family="Liberation Sans, sans-serif">0</text><text x="436.6" y="575.2" font-size="7.6" text-anchor="end" fill="#555" font-family="Liberation Sans, sans-serif">0.5</text><text x="621.6" y="575.2" font-size="7.6" text-anchor="start" fill="#555" font-family="Liberation Sans, sans-serif">0.5</text><text x="407.0" y="561.1" font-size="7.6" text-anchor="end" fill="#555" font-family="Liberation Sans, sans-serif">1</text><text x="651.2" y="561.1" font-size="7.6" text-anchor="start" fill="#555" font-family="Liberation Sans, sans-serif">1</text><text transform="translate(445.5 596.6) rotate(30.0)" text-anchor="middle" y="5.1" font-size="15.5" fill="#1a1a1a" font-family="Liberation Serif, serif" textLength="90.0" lengthAdjust="spacingAndGlyphs">X<tspan font-size="9.6" dy="3">3</tspan><tspan dy="-3">: SDC (mg)</tspan></text><text transform="translate(618.6 598.7) rotate(-30.0)" text-anchor="middle" y="5.1" font-size="15.5" fill="#1a1a1a" font-family="Liberation Serif, serif" textLength="78.0" lengthAdjust="spacingAndGlyphs">X<tspan font-size="9.6" dy="3">1</tspan><tspan dy="-3">: SPC (%)</tspan></text><text transform="translate(379.5 898.8) rotate(-90)" font-size="15" fill="#1a1a1a" font-family="Liberation Serif, serif" textLength="171.9" lengthAdjust="spacingAndGlyphs">Entrapment Efficiency (%)</text><text x="529.5" y="948.1" font-size="7.6" text-anchor="end" fill="#555" font-family="Liberation Sans, sans-serif">-1</text><text x="536.5" y="948.1" font-size="7.6" text-anchor="start" fill="#555" font-family="Liberation Sans, sans-serif">-1</text><text x="499.9" y="934.1" font-size="7.6" text-anchor="end" fill="#555" font-family="Liberation Sans, sans-serif">-0.5</text><text x="566.0" y="934.2" font-size="7.6" text-anchor="start" fill="#555" font-family="Liberation Sans, sans-serif">-0.5</text><text x="470.3" y="920.1" font-size="7.6" text-anchor="end" fill="#555" font-family="Liberation Sans, sans-serif">0</text><text x="595.5" y="920.3" font-size="7.6" text-anchor="start" fill="#555" font-family="Liberation Sans, sans-serif">0</text><text x="440.8" y="906.1" font-size="7.6" text-anchor="end" fill="#555" font-family="Liberation Sans, sans-serif">0.5</text><text x="625.1" y="906.3" font-size="7.6" text-anchor="start" fill="#555" font-family="Liberation Sans, sans-serif">0.5</text><text x="411.2" y="892.1" font-size="7.6" text-anchor="end" fill="#555" font-family="Liberation Sans, sans-serif">1</text><text x="654.6" y="892.4" font-size="7.6" text-anchor="start" fill="#555" font-family="Liberation Sans, sans-serif">1</text><text transform="translate(444.9 934.0) rotate(30.0)" text-anchor="middle" y="5.1" font-size="15.5" fill="#1a1a1a" font-family="Liberation Serif, serif" textLength="90.0" lengthAdjust="spacingAndGlyphs">X<tspan font-size="9.6" dy="3">3</tspan><tspan dy="-3">: SDC (mg)</tspan></text><text transform="translate(616.0 936.5) rotate(-30.0)" text-anchor="middle" y="5.1" font-size="15.5" fill="#1a1a1a" font-family="Liberation Serif, serif" textLength="90.0" lengthAdjust="spacingAndGlyphs">X<tspan font-size="9.6" dy="3">2</tspan><tspan dy="-3">: CHOL (%)</tspan></text></svg></body></html>
